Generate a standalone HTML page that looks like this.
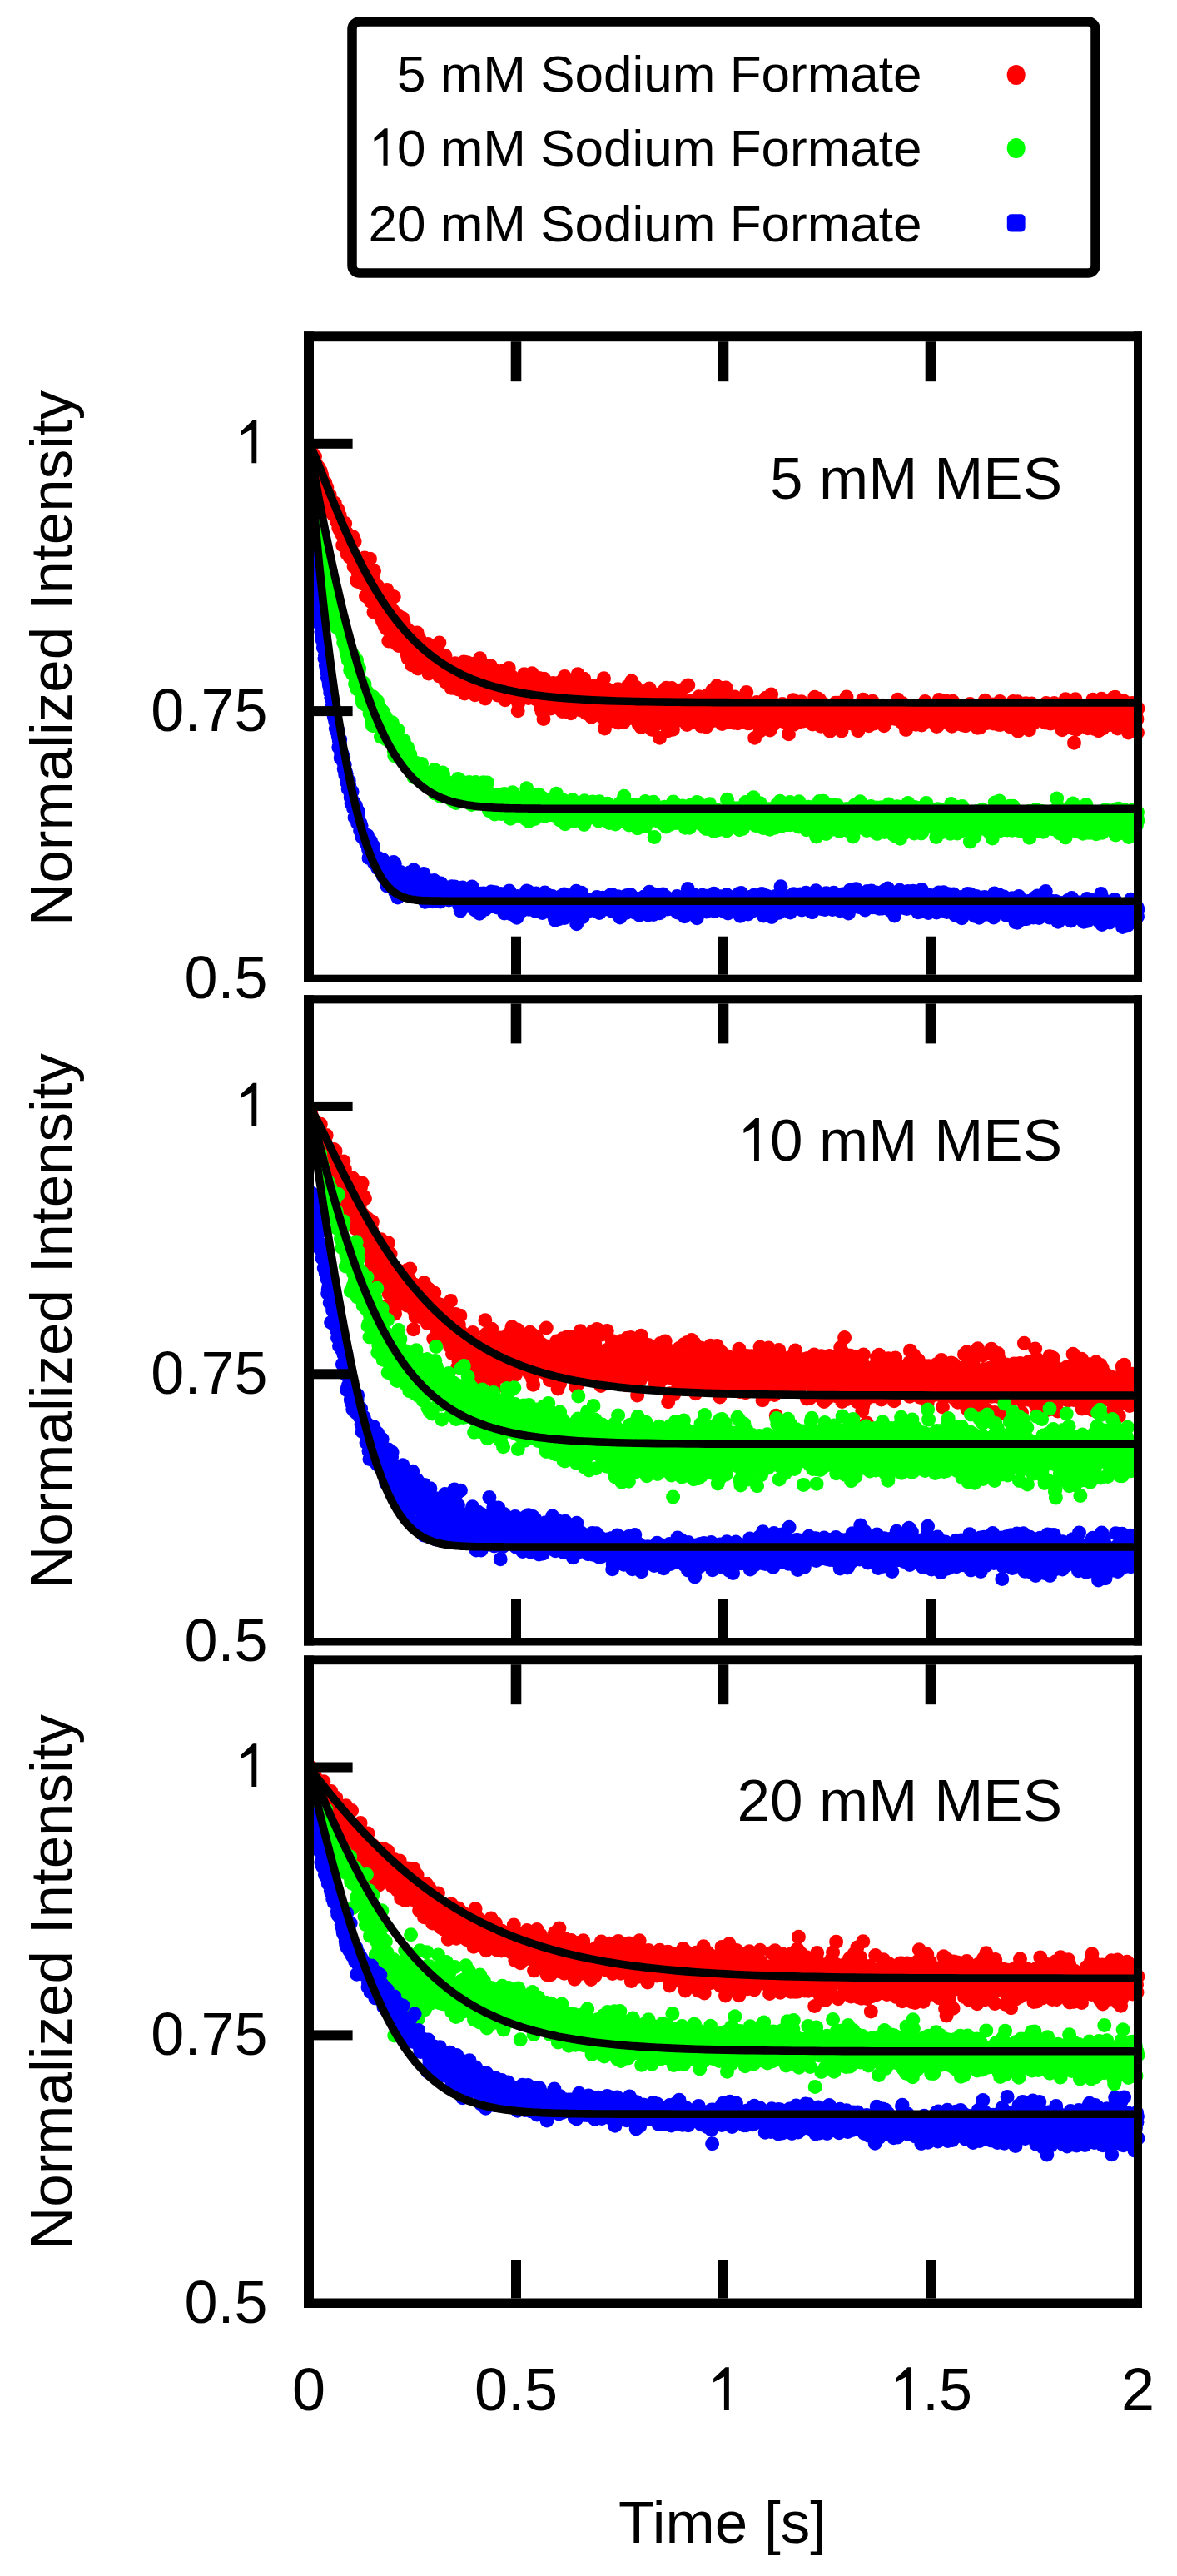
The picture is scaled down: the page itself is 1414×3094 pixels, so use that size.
<!DOCTYPE html>
<html><head><meta charset="utf-8"><style>
html,body{margin:0;padding:0;background:#fff;overflow:hidden}
svg{display:block}
text{font-family:"Liberation Sans",sans-serif;fill:#000}
</style></head><body>
<svg width="1414" height="3094" viewBox="0 0 1414 3094">
<rect x="0" y="0" width="1414" height="3094" fill="#fff"/>
<path d="M374 540.9h0M374.5 553.4h0M375 545.4h0M375.5 549.2h0M376 551.2h0M376.5 549.4h0M377 547.7h0M377.5 558.2h0M378 558.1h0M378.5 548.3h0M379 570.3h0M379.4 564.9h0M379.9 557.5h0M380.4 567.1h0M380.9 561.4h0M381.4 564.7h0M381.9 570.5h0M382.4 560.8h0M382.9 571.9h0M383.4 577.7h0M383.9 578.7h0M384.4 570.9h0M384.9 579h0M385.4 565.7h0M385.9 575.4h0M386.4 580.3h0M386.9 570.8h0M387.4 579.6h0M387.9 591.9h0M388.4 598.8h0M388.9 588.8h0M389.4 590.4h0M389.9 580.3h0M390.4 579.8h0M390.9 579.7h0M391.4 593.7h0M391.9 596.4h0M392.4 588.2h0M392.9 585.5h0M393.4 596.9h0M393.8 598.6h0M394.3 596.7h0M394.8 607.9h0M395.3 599.5h0M395.8 600.9h0M396.3 594.5h0M396.8 604.8h0M397.3 615.1h0M397.8 606.8h0M398.3 608.1h0M398.8 612.1h0M399.3 612.1h0M399.8 615.3h0M400.3 616.6h0M400.8 618.5h0M401.3 608.5h0M401.8 618.5h0M402.3 604.2h0M402.8 620.6h0M403.3 609.2h0M403.8 620.3h0M404.3 626h0M404.8 619.7h0M405.3 625.3h0M405.8 611.4h0M406.3 619.3h0M406.8 634h0M407.3 618.9h0M407.8 636.1h0M408.2 619h0M408.7 624.4h0M409.2 623.8h0M409.7 635h0M410.2 641.1h0M410.7 627.3h0M411.2 636.7h0M411.7 654.9h0M412.2 637.7h0M412.7 634h0M413.2 646.7h0M413.7 641.9h0M414.2 638.3h0M414.7 628.6h0M415.2 655.6h0M415.7 642.9h0M416.2 649.7h0M416.7 640h0M417.2 665.2h0M417.7 660.7h0M418.2 664.3h0M418.7 654h0M419.2 661.2h0M419.7 666.8h0M420.2 669.3h0M420.7 662.9h0M421.2 659.9h0M421.7 657.7h0M422.1 654.5h0M422.6 653.2h0M423.1 668.6h0M423.6 663.1h0M424.1 644.8h0M424.6 666.1h0M425.1 680.5h0M425.6 666.7h0M426.1 650.2h0M426.6 670.4h0M427.1 681.6h0M427.6 676.1h0M428.1 670h0M428.6 696.7h0M429.1 698.3h0M429.6 676.6h0M430.1 688h0M430.6 684.2h0M431.1 689.6h0M431.6 698.3h0M432.1 692h0M432.6 684.5h0M433.1 676.8h0M433.6 675.9h0M434.1 686h0M434.6 700.8h0M435.1 691.7h0M435.6 689.8h0M436.1 693.1h0M436.5 691.4h0M437 698.4h0M437.5 679.4h0M438 670.1h0M438.5 689.5h0M439 681.7h0M439.5 715.9h0M440 695.4h0M440.5 695.1h0M441 680.3h0M441.5 703.4h0M442 693.2h0M442.5 715.5h0M443 712.9h0M443.5 693.8h0M444 709.4h0M444.5 671.3h0M445 697.6h0M445.5 722.4h0M446 717.6h0M446.5 710.7h0M447 709h0M447.5 692.3h0M448 693.8h0M448.5 714.7h0M449 735.2h0M449.5 685.7h0M450 722.4h0M450.4 722.9h0M450.9 728.2h0M451.4 705.5h0M451.9 710.7h0M452.4 718.9h0M452.9 705.7h0M453.4 703.8h0M453.9 709.1h0M454.4 720.5h0M454.9 727.2h0M455.4 722.7h0M455.9 724.8h0M456.4 715.5h0M456.9 715.7h0M457.4 741h0M457.9 726.1h0M458.4 726.5h0M458.9 740.9h0M459.4 745.8h0M459.9 747h0M460.4 736h0M460.9 730.6h0M461.4 735.9h0M461.9 735.1h0M462.4 752.6h0M462.9 738.1h0M463.4 743.6h0M463.9 735.2h0M464.4 755.2h0M464.8 708.5h0M465.3 743h0M465.8 748.9h0M466.3 722.8h0M466.8 769.9h0M467.3 738.3h0M467.8 738.8h0M468.3 726.5h0M468.8 754.9h0M469.3 746.3h0M469.8 735.4h0M470.3 747.7h0M470.8 754.9h0M471.3 763h0M471.8 749.5h0M472.3 733.6h0M472.8 740h0M473.3 716.7h0M473.8 739h0M474.3 759.8h0M474.8 756.7h0M475.3 749.6h0M475.8 747.1h0M476.3 773.4h0M476.8 756.7h0M477.3 765.5h0M477.8 759.4h0M478.3 746.2h0M478.8 775.5h0M479.2 740.3h0M479.7 741.5h0M480.2 751.9h0M480.7 748.8h0M481.2 751.6h0M481.7 751.7h0M482.2 771.8h0M482.7 761h0M483.2 765.2h0M483.7 742.5h0M484.2 752h0M484.7 775.5h0M485.2 749.2h0M485.7 777.6h0M486.2 752.5h0M486.7 768.5h0M487.2 755.9h0M487.7 768.4h0M488.2 756.6h0M488.7 764.4h0M489.2 786.3h0M489.7 764.3h0M490.2 791.1h0M490.7 764.5h0M491.2 757.5h0M491.7 771.4h0M492.2 766.8h0M492.7 790h0M493.1 781.1h0M493.6 784.8h0M494.1 779.7h0M494.6 798.7h0M495.1 782.2h0M495.6 780.1h0M496.1 767.2h0M496.6 767h0M497.1 778.1h0M497.6 786.4h0M498.1 788h0M498.6 769h0M499.1 783.3h0M499.6 780.7h0M500.1 769.2h0M500.6 784.5h0M501.1 760h0M501.6 783.2h0M502.1 803h0M502.6 772.9h0M503.1 782.5h0M503.6 766.6h0M504.1 776.9h0M504.6 790h0M505.1 775.6h0M505.6 784.4h0M506.1 782.1h0M506.6 782.3h0M507.1 787.4h0M507.5 790.2h0M508 796.8h0M508.5 793.9h0M509 782.6h0M509.5 799.5h0M510 798.5h0M510.5 775.4h0M511 794.4h0M511.5 796.1h0M512 797.7h0M512.5 794.5h0M513 779.3h0M513.5 788.3h0M514 773.4h0M514.5 790h0M515 809h0M515.5 797.8h0M516 799.5h0M516.5 788.3h0M517 784.3h0M517.5 784.1h0M518 794.8h0M518.5 787.1h0M519 788.8h0M519.5 804.7h0M520 780.7h0M520.5 783.9h0M521 791.2h0M521.5 795.1h0M521.9 795.2h0M522.4 784.3h0M522.9 798.7h0M523.4 796.1h0M523.9 800.8h0M524.4 788.3h0M524.9 800.4h0M525.4 800.5h0M525.9 792.9h0M526.4 797.2h0M526.9 794.5h0M527.4 812h0M527.9 771.9h0M528.4 787.3h0M528.9 785.2h0M529.4 797.5h0M529.9 795.1h0M530.4 797.8h0M530.9 808.4h0M531.4 787.2h0M531.9 794.6h0M532.4 800.6h0M532.9 791.9h0M533.4 806.6h0M533.9 806.5h0M534.4 797.2h0M534.9 787.6h0M535.4 819.2h0M535.8 809h0M536.3 808.8h0M536.8 805.8h0M537.3 805.3h0M537.8 813.4h0M538.3 805.7h0M538.8 800.2h0M539.3 813.1h0M539.8 807.2h0M540.3 799.6h0M540.8 798.4h0M541.3 818.2h0M541.8 813.3h0M542.3 826.3h0M542.8 802.6h0M543.3 800.6h0M543.8 811.7h0M544.3 821.2h0M544.8 813.9h0M545.3 812.4h0M545.8 826.5h0M546.3 801.4h0M546.8 796.7h0M547.3 801.6h0M547.8 805.9h0M548.3 812.6h0M548.8 819h0M549.3 813.2h0M549.8 824.1h0M550.2 801.5h0M550.7 828.1h0M551.2 801.8h0M551.7 821.2h0M552.2 800.8h0M552.7 813.4h0M553.2 810.7h0M553.7 815.3h0M554.2 817.7h0M554.7 808.4h0M555.2 809.9h0M555.7 813h0M556.2 798h0M556.7 803.7h0M557.2 795h0M557.7 811.1h0M558.2 833h0M558.7 818.5h0M559.2 802.8h0M559.7 804.4h0M560.2 821.1h0M560.7 806.8h0M561.2 795.7h0M561.7 801.6h0M562.2 801.3h0M562.7 801.7h0M563.2 818.7h0M563.7 812.7h0M564.1 797.2h0M564.6 806.8h0M565.1 800.8h0M565.6 800.2h0M566.1 797.3h0M566.6 829.9h0M567.1 809.4h0M567.6 818.3h0M568.1 821.3h0M568.6 808.8h0M569.1 818.1h0M569.6 818.2h0M570.1 815.1h0M570.6 834.8h0M571.1 815.8h0M571.6 810.7h0M572.1 819.6h0M572.6 831.2h0M573.1 823.3h0M573.6 808.3h0M574.1 804.5h0M574.6 803.8h0M575.1 806.6h0M575.6 817.4h0M576.1 822.2h0M576.6 790.7h0M577.1 813.7h0M577.6 802.8h0M578.1 821h0M578.5 823.4h0M579 806.6h0M579.5 810h0M580 805.2h0M580.5 818.7h0M581 799h0M581.5 803.9h0M582 808.4h0M582.5 827.3h0M583 838.9h0M583.5 815.7h0M584 803.6h0M584.5 816.5h0M585 807.5h0M585.5 820.4h0M586 805.4h0M586.5 812.7h0M587 816.2h0M587.5 821.4h0M588 815.8h0M588.5 828.7h0M589 818h0M589.5 799.8h0M590 825.7h0M590.5 814.4h0M591 810.9h0M591.5 831.4h0M592 808.2h0M592.5 818.2h0M592.9 811h0M593.4 830.2h0M593.9 814.5h0M594.4 820.1h0M594.9 805.3h0M595.4 831.2h0M595.9 808.5h0M596.4 826.6h0M596.9 828.5h0M597.4 829.6h0M597.9 834.9h0M598.4 808.2h0M598.9 822.4h0M599.4 820.1h0M599.9 822.7h0M600.4 828.7h0M600.9 820.1h0M601.4 812h0M601.9 818.4h0M602.4 832.8h0M602.9 809.2h0M603.4 820.2h0M603.9 811.1h0M604.4 829.3h0M604.9 805.6h0M605.4 817h0M605.9 819h0M606.4 821.2h0M606.8 840.8h0M607.3 834h0M607.8 811.8h0M608.3 839.6h0M608.8 810.7h0M609.3 804.9h0M609.8 808.3h0M610.3 823.3h0M610.8 826.3h0M611.3 802.5h0M611.8 825.8h0M612.3 819.8h0M612.8 828.5h0M613.3 819h0M613.8 830.5h0M614.3 827.7h0M614.8 812.5h0M615.3 835.8h0M615.8 825h0M616.3 829.8h0M616.8 834.6h0M617.3 815h0M617.8 823h0M618.3 816.6h0M618.8 815.7h0M619.3 826.5h0M619.8 827.3h0M620.3 836.3h0M620.8 837h0M621.2 824.6h0M621.7 817.4h0M622.2 853.7h0M622.7 844.4h0M623.2 824.3h0M623.7 817.1h0M624.2 821.8h0M624.7 828.2h0M625.2 836.1h0M625.7 834.7h0M626.2 830h0M626.7 824h0M627.2 827.9h0M627.7 823.7h0M628.2 827.3h0M628.7 825.8h0M629.2 831.7h0M629.7 809.8h0M630.2 824h0M630.7 824.6h0M631.2 817h0M631.7 825.9h0M632.2 818h0M632.7 821.7h0M633.2 825.2h0M633.7 825.7h0M634.2 822.9h0M634.7 838.5h0M635.2 830.3h0M635.6 831.5h0M636.1 830.8h0M636.6 822.6h0M637.1 820.7h0M637.6 836.8h0M638.1 825.8h0M638.6 812.7h0M639.1 808.8h0M639.6 831.5h0M640.1 822.7h0M640.6 829.1h0M641.1 824.7h0M641.6 826.1h0M642.1 828.4h0M642.6 818.4h0M643.1 830.1h0M643.6 839.7h0M644.1 837.1h0M644.6 814.2h0M645.1 818h0M645.6 818.2h0M646.1 828.6h0M646.6 839.2h0M647.1 834.2h0M647.6 814.6h0M648.1 831.9h0M648.6 839.2h0M649.1 827.3h0M649.5 849.9h0M650 825.6h0M650.5 843.2h0M651 854.6h0M651.5 819.9h0M652 829.1h0M652.5 837.9h0M653 863.4h0M653.5 815.3h0M654 838.1h0M654.5 835.5h0M655 828.8h0M655.5 824.9h0M656 828h0M656.5 830.2h0M657 820.9h0M657.5 848.7h0M658 822.7h0M658.5 829.4h0M659 827.2h0M659.5 829.7h0M660 834.8h0M660.5 826.6h0M661 831.8h0M661.5 851.1h0M662 844.6h0M662.5 831.5h0M663 843.4h0M663.5 827h0M663.9 836.9h0M664.4 820.6h0M664.9 823.5h0M665.4 826.4h0M665.9 847.3h0M666.4 837.4h0M666.9 840.6h0M667.4 836.8h0M667.9 839h0M668.4 839.7h0M668.9 843.2h0M669.4 837.3h0M669.9 826.6h0M670.4 827.9h0M670.9 848.1h0M671.4 850.2h0M671.9 841.7h0M672.4 819.7h0M672.9 852.1h0M673.4 839.6h0M673.9 835.7h0M674.4 836.8h0M674.9 832.9h0M675.4 854.5h0M675.9 853.8h0M676.4 826.1h0M676.9 835.1h0M677.4 840.2h0M677.8 850.1h0M678.3 812.6h0M678.8 846.8h0M679.3 854.4h0M679.8 834.1h0M680.3 837.1h0M680.8 850.4h0M681.3 841.5h0M681.8 824.1h0M682.3 825.8h0M682.8 827.3h0M683.3 823.4h0M683.8 838h0M684.3 832.8h0M684.8 838.6h0M685.3 845.6h0M685.8 856.8h0M686.3 840.7h0M686.8 819.2h0M687.3 853h0M687.8 837.4h0M688.3 850.9h0M688.8 834.1h0M689.3 842.1h0M689.8 837.6h0M690.3 838.8h0M690.8 852.5h0M691.3 832.4h0M691.8 841h0M692.2 841.7h0M692.7 835.4h0M693.2 816.4h0M693.7 843.2h0M694.2 809.8h0M694.7 823.9h0M695.2 835h0M695.7 844.4h0M696.2 849.1h0M696.7 848.8h0M697.2 846.4h0M697.7 836.3h0M698.2 853.2h0M698.7 837.5h0M699.2 852.3h0M699.7 816.7h0M700.2 830.4h0M700.7 834.5h0M701.2 840.7h0M701.7 815.2h0M702.2 849.6h0M702.7 851.5h0M703.2 849.5h0M703.7 835.5h0M704.2 856.8h0M704.7 835.3h0M705.2 851.1h0M705.7 840.7h0M706.2 841.2h0M706.6 839.8h0M707.1 841.4h0M707.6 853.7h0M708.1 857.3h0M708.6 857.3h0M709.1 851.7h0M709.6 849.2h0M710.1 846.9h0M710.6 861.2h0M711.1 837.3h0M711.6 835.3h0M712.1 842.8h0M712.6 824.2h0M713.1 839.8h0M713.6 841.8h0M714.1 831.3h0M714.6 836.3h0M715.1 850.3h0M715.6 840.2h0M716.1 843.7h0M716.6 854.3h0M717.1 836.2h0M717.6 830.4h0M718.1 842.6h0M718.6 847.8h0M719.1 823.2h0M719.6 850.6h0M720.1 839.9h0M720.5 838.8h0M721 833.9h0M721.5 841.5h0M722 854.3h0M722.5 849.6h0M723 852.8h0M723.5 839.8h0M724 861.7h0M724.5 858.2h0M725 843.8h0M725.5 814.8h0M726 844.9h0M726.5 875.1h0M727 843.7h0M727.5 832.9h0M728 863.6h0M728.5 837.6h0M729 850.2h0M729.5 853.3h0M730 828.1h0M730.5 846.2h0M731 858.4h0M731.5 841.2h0M732 852.4h0M732.5 844.8h0M733 856.8h0M733.5 866.2h0M734 832.8h0M734.5 842.1h0M734.9 849.9h0M735.4 838.3h0M735.9 836.1h0M736.4 841.6h0M736.9 842.6h0M737.4 838.2h0M737.9 849.5h0M738.4 855.1h0M738.9 854.5h0M739.4 853.8h0M739.9 859.7h0M740.4 830.4h0M740.9 844.8h0M741.4 848.4h0M741.9 852.3h0M742.4 827.7h0M742.9 868.1h0M743.4 836.2h0M743.9 849.6h0M744.4 855.1h0M744.9 859.2h0M745.4 838.7h0M745.9 840.5h0M746.4 851.1h0M746.9 853.7h0M747.4 857.6h0M747.9 846.3h0M748.4 839h0M748.9 831.5h0M749.3 867.6h0M749.8 831.2h0M750.3 855.5h0M750.8 850.6h0M751.3 856.4h0M751.8 858.7h0M752.3 863.4h0M752.8 846.9h0M753.3 852.3h0M753.8 824.7h0M754.3 848.3h0M754.8 837.1h0M755.3 846.1h0M755.8 862.6h0M756.3 849.3h0M756.8 861h0M757.3 845.8h0M757.8 852.9h0M758.3 843.3h0M758.8 818.1h0M759.3 839.9h0M759.8 845.2h0M760.3 850.4h0M760.8 848.6h0M761.3 847.1h0M761.8 860h0M762.3 856.2h0M762.8 844h0M763.2 859.3h0M763.7 825.1h0M764.2 845.6h0M764.7 847.2h0M765.2 864.7h0M765.7 842.7h0M766.2 831.5h0M766.7 851.4h0M767.2 869.7h0M767.7 846.8h0M768.2 848.2h0M768.7 847h0M769.2 850.2h0M769.7 865.4h0M770.2 873.4h0M770.7 855.3h0M771.2 848.4h0M771.7 872h0M772.2 850.9h0M772.7 850.5h0M773.2 845.5h0M773.7 846h0M774.2 852.7h0M774.7 846.4h0M775.2 854.9h0M775.7 851h0M776.2 856.6h0M776.7 845.4h0M777.2 847.6h0M777.6 852.9h0M778.1 850.8h0M778.6 851.2h0M779.1 864h0M779.6 837.3h0M780.1 827h0M780.6 858.7h0M781.1 847.2h0M781.6 866.1h0M782.1 849.1h0M782.6 836.3h0M783.1 876.2h0M783.6 854.9h0M784.1 844.9h0M784.6 841.4h0M785.1 856.9h0M785.6 842.3h0M786.1 854.9h0M786.6 864h0M787.1 834h0M787.6 846.2h0M788.1 856h0M788.6 869.9h0M789.1 861.3h0M789.6 845.1h0M790.1 867.5h0M790.6 846.3h0M791.1 848.6h0M791.5 854.9h0M792 837.7h0M792.5 886.3h0M793 864.5h0M793.5 853.1h0M794 843.9h0M794.5 837.1h0M795 854.9h0M795.5 858.6h0M796 846h0M796.5 848.4h0M797 857.1h0M797.5 850h0M798 829.3h0M798.5 858.4h0M799 853.5h0M799.5 859.1h0M800 842.1h0M800.5 826.3h0M801 836.4h0M801.5 854.2h0M802 874.6h0M802.5 877.7h0M803 854.3h0M803.5 834.2h0M804 847h0M804.5 856h0M805 855.9h0M805.5 852h0M805.9 866.2h0M806.4 840.7h0M806.9 826.4h0M807.4 841h0M807.9 837.8h0M808.4 876.3h0M808.9 848.9h0M809.4 834.9h0M809.9 858h0M810.4 862.4h0M810.9 851.7h0M811.4 853.3h0M811.9 862.6h0M812.4 856.9h0M812.9 843.3h0M813.4 857.8h0M813.9 861.6h0M814.4 855h0M814.9 861h0M815.4 857.8h0M815.9 848.6h0M816.4 849.6h0M816.9 858.1h0M817.4 845.1h0M817.9 864.1h0M818.4 864.9h0M818.9 828.7h0M819.4 850.6h0M819.9 843h0M820.3 844.3h0M820.8 853h0M821.3 849.5h0M821.8 857.7h0M822.3 855h0M822.8 855.5h0M823.3 842.8h0M823.8 847.6h0M824.3 867.6h0M824.8 824.2h0M825.3 870.4h0M825.8 845.4h0M826.3 864.5h0M826.8 823.1h0M827.3 847h0M827.8 860.9h0M828.3 853.3h0M828.8 862.7h0M829.3 842.1h0M829.8 845.6h0M830.3 844.6h0M830.8 857.2h0M831.3 856.7h0M831.8 850.4h0M832.3 848.9h0M832.8 848.6h0M833.3 852.7h0M833.8 841.5h0M834.2 851.2h0M834.7 850.3h0M835.2 846h0M835.7 845.7h0M836.2 867.8h0M836.7 845.3h0M837.2 856.3h0M837.7 866.6h0M838.2 859.9h0M838.7 852.2h0M839.2 862.8h0M839.7 836.7h0M840.2 838.8h0M840.7 847.8h0M841.2 849.7h0M841.7 851h0M842.2 872.1h0M842.7 870h0M843.2 851.7h0M843.7 854.8h0M844.2 842.5h0M844.7 855.5h0M845.2 837.9h0M845.7 867h0M846.2 846.7h0M846.7 858.1h0M847.2 838.4h0M847.7 866.9h0M848.2 858.7h0M848.6 872.9h0M849.1 853h0M849.6 835.2h0M850.1 844h0M850.6 839.1h0M851.1 868.8h0M851.6 845.8h0M852.1 844.5h0M852.6 858.6h0M853.1 855.1h0M853.6 857.5h0M854.1 847.2h0M854.6 831.6h0M855.1 838.3h0M855.6 829.6h0M856.1 865.7h0M856.6 861.9h0M857.1 848.6h0M857.6 858.9h0M858.1 859.5h0M858.6 859.1h0M859.1 858h0M859.6 861.7h0M860.1 853.4h0M860.6 829.7h0M861.1 824.1h0M861.6 865.6h0M862.1 858.7h0M862.5 826.9h0M863 854.4h0M863.5 843.7h0M864 847.1h0M864.5 826.1h0M865 860.6h0M865.5 851.9h0M866 861.1h0M866.5 863.8h0M867 865.9h0M867.5 869.5h0M868 855.8h0M868.5 855h0M869 846.4h0M869.5 858.2h0M870 850.4h0M870.5 841h0M871 865h0M871.5 860.1h0M872 825.9h0M872.5 834.2h0M873 850.7h0M873.5 839.5h0M874 865.3h0M874.5 854.9h0M875 858.8h0M875.5 862.5h0M876 866.5h0M876.5 850.4h0M876.9 859.4h0M877.4 855.7h0M877.9 861.2h0M878.4 858.8h0M878.9 867.4h0M879.4 858.6h0M879.9 848.5h0M880.4 854.5h0M880.9 842h0M881.4 856.5h0M881.9 868.3h0M882.4 847.4h0M882.9 837h0M883.4 852.6h0M883.9 848.4h0M884.4 853.4h0M884.9 847.6h0M885.4 854.2h0M885.9 843.4h0M886.4 868.7h0M886.9 851.2h0M887.4 858.5h0M887.9 861h0M888.4 852h0M888.9 858h0M889.4 851.1h0M889.9 849.2h0M890.4 851.4h0M890.9 858.4h0M891.3 841.3h0M891.8 844.8h0M892.3 845.8h0M892.8 848.2h0M893.3 864.9h0M893.8 853.4h0M894.3 850.7h0M894.8 855.1h0M895.3 863.9h0M895.8 846.5h0M896.3 863.6h0M896.8 831.4h0M897.3 845.3h0M897.8 868h0M898.3 868.8h0M898.8 855.7h0M899.3 849.8h0M899.8 861.8h0M900.3 850.1h0M900.8 868.7h0M901.3 865.3h0M901.8 861.4h0M902.3 846.1h0M902.8 863.3h0M903.3 851.8h0M903.8 851.9h0M904.3 850.2h0M904.8 853.1h0M905.2 858.9h0M905.7 862.2h0M906.2 862.3h0M906.7 886.2h0M907.2 851.1h0M907.7 865.3h0M908.2 848.2h0M908.7 852.6h0M909.2 843.6h0M909.7 865.8h0M910.2 856.9h0M910.7 855.8h0M911.2 853.5h0M911.7 863.2h0M912.2 850h0M912.7 858.3h0M913.2 878h0M913.7 853.4h0M914.2 848.9h0M914.7 845.4h0M915.2 862.3h0M915.7 855.4h0M916.2 847.9h0M916.7 847.1h0M917.2 855.1h0M917.7 845.6h0M918.2 874.1h0M918.7 853.1h0M919.2 853.2h0M919.6 854.1h0M920.1 838.3h0M920.6 841.7h0M921.1 851.6h0M921.6 854.7h0M922.1 843.7h0M922.6 870.4h0M923.1 859.1h0M923.6 866.7h0M924.1 865.6h0M924.6 853h0M925.1 877.1h0M925.6 856.2h0M926.1 838.1h0M926.6 834h0M927.1 855.1h0M927.6 862.9h0M928.1 855.8h0M928.6 870.7h0M929.1 852.5h0M929.6 860.2h0M930.1 861.7h0M930.6 846h0M931.1 857.9h0M931.6 858.5h0M932.1 864.9h0M932.6 866h0M933.1 864h0M933.6 848.5h0M934 861.7h0M934.5 864.7h0M935 855.6h0M935.5 861.9h0M936 862.1h0M936.5 865.7h0M937 856h0M937.5 859.5h0M938 857h0M938.5 855.9h0M939 850h0M939.5 852.4h0M940 845.6h0M940.5 853.6h0M941 861.3h0M941.5 860.7h0M942 861.8h0M942.5 854.4h0M943 867.4h0M943.5 851.4h0M944 862h0M944.5 859h0M945 849h0M945.5 849.4h0M946 861.8h0M946.5 855.8h0M947 857.8h0M947.5 881.8h0M947.9 860.3h0M948.4 856.5h0M948.9 861.8h0M949.4 850.4h0M949.9 854.1h0M950.4 859.3h0M950.9 848.7h0M951.4 855.3h0M951.9 854h0M952.4 856.5h0M952.9 840.7h0M953.4 870.6h0M953.9 854.9h0M954.4 860.3h0M954.9 847h0M955.4 844.8h0M955.9 855.9h0M956.4 853h0M956.9 861.2h0M957.4 848.1h0M957.9 847.6h0M958.4 858.6h0M958.9 861.6h0M959.4 863.5h0M959.9 855.6h0M960.4 858h0M960.9 849.3h0M961.4 866.7h0M961.9 865.3h0M962.3 865h0M962.8 842.7h0M963.3 863.1h0M963.8 849.9h0M964.3 859.9h0M964.8 859.4h0M965.3 865.9h0M965.8 854.4h0M966.3 853.1h0M966.8 847.7h0M967.3 846.3h0M967.8 860.7h0M968.3 848.6h0M968.8 861.4h0M969.3 852.9h0M969.8 851.4h0M970.3 863.7h0M970.8 862.9h0M971.3 848h0M971.8 854.6h0M972.3 855.9h0M972.8 861.3h0M973.3 850.1h0M973.8 852.7h0M974.3 855.1h0M974.8 861.5h0M975.3 863.1h0M975.8 851.7h0M976.2 870h0M976.7 859.4h0M977.2 849.7h0M977.7 843.8h0M978.2 852.1h0M978.7 837.3h0M979.2 857.5h0M979.7 860.5h0M980.2 866.1h0M980.7 860h0M981.2 842.7h0M981.7 853.9h0M982.2 861.6h0M982.7 839.1h0M983.2 849.7h0M983.7 861h0M984.2 856.6h0M984.7 840.5h0M985.2 852.3h0M985.7 856.4h0M986.2 872.3h0M986.7 852.8h0M987.2 849.2h0M987.7 858.1h0M988.2 858.8h0M988.7 860.7h0M989.2 867.4h0M989.7 855.8h0M990.2 845.8h0M990.6 856.6h0M991.1 856.5h0M991.6 863.8h0M992.1 862.8h0M992.6 850.8h0M993.1 862.3h0M993.6 864h0M994.1 855h0M994.6 863.6h0M995.1 857.7h0M995.6 857.8h0M996.1 855.4h0M996.6 862.6h0M997.1 878.2h0M997.6 858.2h0M998.1 847.8h0M998.6 854.8h0M999.1 852.2h0M999.6 859h0M1000.1 855.5h0M1000.6 875.6h0M1001.1 862.2h0M1001.6 870.5h0M1002.1 851.4h0M1002.6 855.1h0M1003.1 871.9h0M1003.6 844.2h0M1004.1 857.7h0M1004.6 845.2h0M1005 868.1h0M1005.5 846.3h0M1006 854.5h0M1006.5 855.4h0M1007 844.3h0M1007.5 874.9h0M1008 855.5h0M1008.5 868.8h0M1009 851.7h0M1009.5 846.1h0M1010 858.4h0M1010.5 858.2h0M1011 878h0M1011.5 849.1h0M1012 845.5h0M1012.5 851.7h0M1013 859h0M1013.5 860.9h0M1014 851.5h0M1014.5 854.3h0M1015 860.8h0M1015.5 864.7h0M1016 852.6h0M1016.5 857.8h0M1017 837.1h0M1017.5 850h0M1018 860h0M1018.5 856.8h0M1018.9 855.6h0M1019.4 868.4h0M1019.9 854.9h0M1020.4 849.2h0M1020.9 858.4h0M1021.4 858.4h0M1021.9 848.9h0M1022.4 864h0M1022.9 869h0M1023.4 852.9h0M1023.9 850.9h0M1024.4 856.4h0M1024.9 865.8h0M1025.4 853.1h0M1025.9 852h0M1026.4 853h0M1026.9 858.8h0M1027.4 858.6h0M1027.9 855.9h0M1028.4 865.5h0M1028.9 872.7h0M1029.4 853.2h0M1029.9 864.4h0M1030.4 859.1h0M1030.9 877.8h0M1031.4 851.2h0M1031.9 854.9h0M1032.4 858h0M1032.9 847.5h0M1033.3 855.8h0M1033.8 862.1h0M1034.3 847.4h0M1034.8 858.2h0M1035.3 869.4h0M1035.8 853.3h0M1036.3 851.2h0M1036.8 840.2h0M1037.3 856.6h0M1037.8 846.4h0M1038.3 861.1h0M1038.8 868.4h0M1039.3 861.1h0M1039.8 852.1h0M1040.3 861.8h0M1040.8 854.3h0M1041.3 849.9h0M1041.8 854.1h0M1042.3 859h0M1042.8 855h0M1043.3 861h0M1043.8 871.7h0M1044.3 861.5h0M1044.8 862.5h0M1045.3 853.1h0M1045.8 866.3h0M1046.3 859.8h0M1046.8 864.2h0M1047.3 852.4h0M1047.7 859.1h0M1048.2 842.2h0M1048.7 855.2h0M1049.2 852.1h0M1049.7 851h0M1050.2 868.9h0M1050.7 847.6h0M1051.2 856.6h0M1051.7 856.7h0M1052.2 861h0M1052.7 864.1h0M1053.2 847.3h0M1053.7 854.2h0M1054.2 853.1h0M1054.7 862.1h0M1055.2 863.7h0M1055.7 855h0M1056.2 854.2h0M1056.7 851.2h0M1057.2 860h0M1057.7 868.3h0M1058.2 860.1h0M1058.7 853.3h0M1059.2 852.5h0M1059.7 853.2h0M1060.2 847.3h0M1060.7 868.6h0M1061.2 858.2h0M1061.6 855.7h0M1062.1 871.8h0M1062.6 859.2h0M1063.1 867h0M1063.6 859.5h0M1064.1 864.7h0M1064.6 858.3h0M1065.1 855.5h0M1065.6 860.4h0M1066.1 862.3h0M1066.6 864.6h0M1067.1 859.1h0M1067.6 856.3h0M1068.1 855.6h0M1068.6 859.8h0M1069.1 854.9h0M1069.6 855.9h0M1070.1 861.2h0M1070.6 861.5h0M1071.1 861h0M1071.6 853.3h0M1072.1 849h0M1072.6 859.6h0M1073.1 858.6h0M1073.6 855.6h0M1074.1 859.2h0M1074.6 863.2h0M1075.1 856.7h0M1075.6 860.4h0M1076 851.9h0M1076.5 856.6h0M1077 852.8h0M1077.5 848.9h0M1078 860.7h0M1078.5 840.2h0M1079 857.6h0M1079.5 862.9h0M1080 860.5h0M1080.5 848.3h0M1081 859.5h0M1081.5 846.5h0M1082 852.4h0M1082.5 867h0M1083 859h0M1083.5 865.4h0M1084 851.1h0M1084.5 844.8h0M1085 853.2h0M1085.5 866.1h0M1086 863.9h0M1086.5 864.8h0M1087 857.1h0M1087.5 857.5h0M1088 856.7h0M1088.5 876.5h0M1089 858.6h0M1089.5 869.3h0M1089.9 856.9h0M1090.4 866.9h0M1090.9 851.1h0M1091.4 854.9h0M1091.9 860.4h0M1092.4 854.4h0M1092.9 855.5h0M1093.4 857.1h0M1093.9 854.7h0M1094.4 868.2h0M1094.9 865.5h0M1095.4 849.1h0M1095.9 869.3h0M1096.4 857.9h0M1096.9 858h0M1097.4 857.1h0M1097.9 863.9h0M1098.4 862.8h0M1098.9 854.8h0M1099.4 858.6h0M1099.9 849.7h0M1100.4 870.3h0M1100.9 852.7h0M1101.4 852.5h0M1101.9 853.6h0M1102.4 859.2h0M1102.9 863.2h0M1103.4 856h0M1103.9 858.5h0M1104.3 856.1h0M1104.8 866.8h0M1105.3 859.8h0M1105.8 847.2h0M1106.3 868.1h0M1106.8 860.6h0M1107.3 871.1h0M1107.8 854.3h0M1108.3 855.1h0M1108.8 857.2h0M1109.3 849.1h0M1109.8 856h0M1110.3 866.8h0M1110.8 863.1h0M1111.3 842.4h0M1111.8 867h0M1112.3 860.8h0M1112.8 863.9h0M1113.3 858.7h0M1113.8 859.7h0M1114.3 858.9h0M1114.8 858.8h0M1115.3 851.6h0M1115.8 865.5h0M1116.3 860h0M1116.8 861.1h0M1117.3 860.8h0M1117.8 856.5h0M1118.3 858.1h0M1118.7 849.5h0M1119.2 860.3h0M1119.7 860.4h0M1120.2 856.9h0M1120.7 846.9h0M1121.2 867.6h0M1121.7 857.4h0M1122.2 858.4h0M1122.7 856.4h0M1123.2 854.5h0M1123.7 855.8h0M1124.2 851h0M1124.7 854.6h0M1125.2 872.6h0M1125.7 866.6h0M1126.2 872.2h0M1126.7 854.4h0M1127.2 845.7h0M1127.7 849.3h0M1128.2 840.6h0M1128.7 866h0M1129.2 867h0M1129.7 859.4h0M1130.2 861.2h0M1130.7 861.2h0M1131.2 857.9h0M1131.7 863.7h0M1132.2 851.7h0M1132.6 855.6h0M1133.1 857.6h0M1133.6 846.9h0M1134.1 851.7h0M1134.6 861.7h0M1135.1 861.1h0M1135.6 841.6h0M1136.1 865h0M1136.6 861.1h0M1137.1 864h0M1137.6 858.2h0M1138.1 862.8h0M1138.6 849.7h0M1139.1 857.2h0M1139.6 851.3h0M1140.1 855.1h0M1140.6 866.9h0M1141.1 870.1h0M1141.6 859h0M1142.1 855.6h0M1142.6 864.2h0M1143.1 862h0M1143.6 872.2h0M1144.1 863.2h0M1144.6 842.3h0M1145.1 859.2h0M1145.6 856.5h0M1146.1 853.1h0M1146.6 859.7h0M1147 859.2h0M1147.5 856.3h0M1148 869.4h0M1148.5 861.4h0M1149 861.7h0M1149.5 859.9h0M1150 867.5h0M1150.5 850.9h0M1151 867.4h0M1151.5 857.1h0M1152 869.4h0M1152.5 869h0M1153 862.4h0M1153.5 855.6h0M1154 860.9h0M1154.5 861.4h0M1155 848.4h0M1155.5 856.6h0M1156 853.9h0M1156.5 868.7h0M1157 871.1h0M1157.5 853.7h0M1158 855.1h0M1158.5 849.4h0M1159 860.8h0M1159.5 864.7h0M1160 871.8h0M1160.5 849.7h0M1161 865.6h0M1161.4 857.8h0M1161.9 853.7h0M1162.4 856.4h0M1162.9 853.4h0M1163.4 862.2h0M1163.9 858.9h0M1164.4 867.5h0M1164.9 855.1h0M1165.4 845.4h0M1165.9 851.7h0M1166.4 861.4h0M1166.9 848.2h0M1167.4 853.5h0M1167.9 862.8h0M1168.4 848.9h0M1168.9 865.1h0M1169.4 861.4h0M1169.9 854.7h0M1170.4 858.6h0M1170.9 855.3h0M1171.4 856h0M1171.9 856.5h0M1172.4 859.1h0M1172.9 858.3h0M1173.4 853.5h0M1173.9 851.8h0M1174.4 874.2h0M1174.9 850.9h0M1175.3 857.8h0M1175.8 867.8h0M1176.3 866.3h0M1176.8 853.6h0M1177.3 873.8h0M1177.8 872h0M1178.3 856.7h0M1178.8 849.8h0M1179.3 863.7h0M1179.8 857.6h0M1180.3 856.8h0M1180.8 853h0M1181.3 854.6h0M1181.8 860.2h0M1182.3 865.7h0M1182.8 843.6h0M1183.3 841.3h0M1183.8 866.2h0M1184.3 852.7h0M1184.8 864.2h0M1185.3 859.9h0M1185.8 868.4h0M1186.3 865.9h0M1186.8 857h0M1187.3 857.9h0M1187.8 861.5h0M1188.3 864.7h0M1188.8 854.4h0M1189.3 847.7h0M1189.7 859.9h0M1190.2 858.8h0M1190.7 857.9h0M1191.2 851.6h0M1191.7 863.7h0M1192.2 846.1h0M1192.7 855.5h0M1193.2 868.9h0M1193.7 850.7h0M1194.2 862.3h0M1194.7 862.6h0M1195.2 862.4h0M1195.7 846.4h0M1196.2 866.9h0M1196.7 860.3h0M1197.2 862.9h0M1197.7 861.5h0M1198.2 859.7h0M1198.7 868.5h0M1199.2 870.2h0M1199.7 845h0M1200.2 853.3h0M1200.7 858h0M1201.2 842.6h0M1201.7 870.5h0M1202.2 853.3h0M1202.7 863.6h0M1203.2 860.9h0M1203.6 857.6h0M1204.1 851.5h0M1204.6 856.5h0M1205.1 860h0M1205.6 865.4h0M1206.1 857.7h0M1206.6 856.3h0M1207.1 857.4h0M1207.6 869.4h0M1208.1 861.6h0M1208.6 854.1h0M1209.1 849.6h0M1209.6 856.2h0M1210.1 852.3h0M1210.6 856.1h0M1211.1 869.9h0M1211.6 864.8h0M1212.1 861.2h0M1212.6 862.5h0M1213.1 872.8h0M1213.6 850.5h0M1214.1 862.9h0M1214.6 857.8h0M1215.1 860.5h0M1215.6 860h0M1216.1 856.9h0M1216.6 863.7h0M1217.1 842.5h0M1217.6 861.7h0M1218 864.8h0M1218.5 851.9h0M1219 851.8h0M1219.5 874.5h0M1220 852.4h0M1220.5 856.5h0M1221 853.4h0M1221.5 854.6h0M1222 854.2h0M1222.5 842.8h0M1223 878.3h0M1223.5 853.7h0M1224 862.5h0M1224.5 858.9h0M1225 870.2h0M1225.5 865h0M1226 868.5h0M1226.5 868.8h0M1227 866.2h0M1227.5 859.8h0M1228 866.8h0M1228.5 846.8h0M1229 866.6h0M1229.5 865.1h0M1230 861.9h0M1230.5 848.9h0M1231 870.2h0M1231.5 854.1h0M1232 864.5h0M1232.4 844.7h0M1232.9 858.1h0M1233.4 854.4h0M1233.9 853.3h0M1234.4 854.2h0M1234.9 873.8h0M1235.4 859.3h0M1235.9 862.3h0M1236.4 876.8h0M1236.9 848h0M1237.4 871.9h0M1237.9 856.6h0M1238.4 854.5h0M1238.9 856.3h0M1239.4 844.9h0M1239.9 847.2h0M1240.4 850.4h0M1240.9 855h0M1241.4 865.4h0M1241.9 868.4h0M1242.4 856.6h0M1242.9 862.6h0M1243.4 863.1h0M1243.9 857.7h0M1244.4 861.5h0M1244.9 854.8h0M1245.4 864.1h0M1245.9 857.8h0M1246.3 859.9h0M1246.8 861.7h0M1247.3 860.8h0M1247.8 853.7h0M1248.3 848.6h0M1248.8 859.1h0M1249.3 855h0M1249.8 855.3h0M1250.3 858.8h0M1250.8 853.8h0M1251.3 863.3h0M1251.8 862.9h0M1252.3 852.2h0M1252.8 862.7h0M1253.3 851.7h0M1253.8 865.6h0M1254.3 864.8h0M1254.8 859.5h0M1255.3 867h0M1255.8 868.1h0M1256.3 863.3h0M1256.8 844.4h0M1257.3 860.7h0M1257.8 861.3h0M1258.3 866.4h0M1258.8 851.5h0M1259.3 865.5h0M1259.8 862.6h0M1260.3 863h0M1260.7 849.3h0M1261.2 852.4h0M1261.7 869.1h0M1262.2 866.6h0M1262.7 859h0M1263.2 868.8h0M1263.7 861.9h0M1264.2 856.2h0M1264.7 846.4h0M1265.2 868.2h0M1265.7 858.5h0M1266.2 861.6h0M1266.7 844.6h0M1267.2 855.1h0M1267.7 862.2h0M1268.2 857.6h0M1268.7 853.5h0M1269.2 850.3h0M1269.7 861.4h0M1270.2 856.5h0M1270.7 856.8h0M1271.2 857.2h0M1271.7 854.2h0M1272.2 856.9h0M1272.7 854.4h0M1273.2 859.9h0M1273.7 848h0M1274.2 850.3h0M1274.6 859.9h0M1275.1 858.2h0M1275.6 861h0M1276.1 876.7h0M1276.6 866h0M1277.1 869.3h0M1277.6 863.2h0M1278.1 858.7h0M1278.6 852.9h0M1279.1 843.8h0M1279.6 847.6h0M1280.1 839.7h0M1280.6 850.1h0M1281.1 846.1h0M1281.6 851.4h0M1282.1 859.5h0M1282.6 856.2h0M1283.1 867.3h0M1283.6 867.4h0M1284.1 868.5h0M1284.6 867.1h0M1285.1 862h0M1285.6 855.3h0M1286.1 863.6h0M1286.6 857.6h0M1287.1 858h0M1287.6 863.3h0M1288.1 850.3h0M1288.6 845.7h0M1289 862.6h0M1289.5 875.1h0M1290 869.5h0M1290.5 892.3h0M1291 847.6h0M1291.5 854.2h0M1292 839.8h0M1292.5 852.3h0M1293 876.2h0M1293.5 873.8h0M1294 851h0M1294.5 857h0M1295 852.7h0M1295.5 848.1h0M1296 857.7h0M1296.5 857h0M1297 860.7h0M1297.5 862.1h0M1298 866h0M1298.5 871.9h0M1299 859.2h0M1299.5 858h0M1300 860h0M1300.5 863.8h0M1301 858.7h0M1301.5 851.2h0M1302 855.3h0M1302.5 866.4h0M1303 850.9h0M1303.4 867.1h0M1303.9 847.6h0M1304.4 865.3h0M1304.9 865.1h0M1305.4 858.1h0M1305.9 859.7h0M1306.4 857.9h0M1306.9 874.8h0M1307.4 856.1h0M1307.9 853.5h0M1308.4 863.3h0M1308.9 869.8h0M1309.4 862.9h0M1309.9 858.7h0M1310.4 869.1h0M1310.9 853.2h0M1311.4 853.1h0M1311.9 849h0M1312.4 870.8h0M1312.9 840.3h0M1313.4 848.5h0M1313.9 862.2h0M1314.4 863.7h0M1314.9 875.5h0M1315.4 863.8h0M1315.9 855.6h0M1316.4 872.4h0M1316.9 869.6h0M1317.3 870.4h0M1317.8 869.6h0M1318.3 864.6h0M1318.8 847h0M1319.3 850.6h0M1319.8 877.7h0M1320.3 860.4h0M1320.8 843.6h0M1321.3 860.5h0M1321.8 868.6h0M1322.3 863.6h0M1322.8 860.1h0M1323.3 839.3h0M1323.8 860.6h0M1324.3 858.8h0M1324.8 875h0M1325.3 860h0M1325.8 859.5h0M1326.3 856.1h0M1326.8 858.9h0M1327.3 862.4h0M1327.8 855.4h0M1328.3 852.1h0M1328.8 848.9h0M1329.3 861h0M1329.8 856.8h0M1330.3 857.1h0M1330.8 846.4h0M1331.3 852.7h0M1331.7 843h0M1332.2 868.5h0M1332.7 870.5h0M1333.2 863.6h0M1333.7 858.9h0M1334.2 864.1h0M1334.7 846.7h0M1335.2 848.1h0M1335.7 870.5h0M1336.2 850.6h0M1336.7 859.5h0M1337.2 853.9h0M1337.7 838.1h0M1338.2 853.9h0M1338.7 867.3h0M1339.2 871.6h0M1339.7 837.3h0M1340.2 845.9h0M1340.7 854.7h0M1341.2 868.8h0M1341.7 870.9h0M1342.2 874.1h0M1342.7 875h0M1343.2 856.1h0M1343.7 851.1h0M1344.2 868.2h0M1344.7 857.6h0M1345.2 860.2h0M1345.7 856.7h0M1346.1 856.4h0M1346.6 868.1h0M1347.1 850.9h0M1347.6 844.3h0M1348.1 853.6h0M1348.6 860.8h0M1349.1 857.2h0M1349.6 858.6h0M1350.1 842h0M1350.6 852h0M1351.1 869.5h0M1351.6 858.3h0M1352.1 853.7h0M1352.6 869.9h0M1353.1 854.7h0M1353.6 866.5h0M1354.1 861.7h0M1354.6 863.4h0M1355.1 869.1h0M1355.6 880h0M1356.1 871.2h0M1356.6 852.1h0M1357.1 849.7h0M1357.6 856.8h0M1358.1 858.1h0M1358.6 866h0M1359.1 860h0M1359.6 861.5h0M1360 844.4h0M1360.5 859.2h0M1361 864.4h0M1361.5 875h0M1362 866.7h0M1362.5 860.5h0M1363 849h0M1363.5 859.6h0M1364 859.7h0M1364.5 858.4h0M1365 861h0M1365.5 864.2h0M1366 863.6h0M1366.5 879.7h0M1367 850.8h0" stroke="#ff0000" stroke-width="17" stroke-linecap="round" fill="none"/>
<path d="M374 614.5h0M374.5 624.5h0M375 620.1h0M375.5 626.3h0M376 629h0M376.5 628.1h0M377 636.9h0M377.5 638.4h0M378 638.4h0M378.5 642.5h0M379 645.7h0M379.4 642.7h0M379.9 648.7h0M380.4 648.8h0M380.9 650.2h0M381.4 650.2h0M381.9 662.4h0M382.4 657.9h0M382.9 651.7h0M383.4 662.8h0M383.9 650.3h0M384.4 665.7h0M384.9 670.2h0M385.4 675.4h0M385.9 671.5h0M386.4 668.9h0M386.9 684.1h0M387.4 681.6h0M387.9 684.9h0M388.4 679h0M388.9 685.5h0M389.4 675h0M389.9 688.6h0M390.4 676.9h0M390.9 684.5h0M391.4 684h0M391.9 700h0M392.4 700.7h0M392.9 694.3h0M393.4 706.3h0M393.8 701.8h0M394.3 692.1h0M394.8 702.9h0M395.3 697.1h0M395.8 709.2h0M396.3 712.7h0M396.8 708.1h0M397.3 719h0M397.8 722.2h0M398.3 712.6h0M398.8 723.1h0M399.3 720.9h0M399.8 721.5h0M400.3 735.3h0M400.8 722.5h0M401.3 726.4h0M401.8 729.9h0M402.3 735.7h0M402.8 738.7h0M403.3 729.6h0M403.8 746h0M404.3 750.7h0M404.8 753.7h0M405.3 743.5h0M405.8 740.8h0M406.3 738.8h0M406.8 749.8h0M407.3 748.7h0M407.8 750.5h0M408.2 748.3h0M408.7 739.2h0M409.2 753.8h0M409.7 756.2h0M410.2 756.5h0M410.7 750.8h0M411.2 760.4h0M411.7 762.8h0M412.2 757.5h0M412.7 771.6h0M413.2 768.4h0M413.7 771.2h0M414.2 774.6h0M414.7 771.5h0M415.2 774.3h0M415.7 780.3h0M416.2 783.6h0M416.7 786.1h0M417.2 779.6h0M417.7 788.3h0M418.2 792.7h0M418.7 774.9h0M419.2 783.9h0M419.7 788.3h0M420.2 790h0M420.7 805.3h0M421.2 802h0M421.7 793h0M422.1 794.4h0M422.6 785.6h0M423.1 790h0M423.6 809.7h0M424.1 786.5h0M424.6 806.5h0M425.1 797h0M425.6 801.4h0M426.1 804.3h0M426.6 821.2h0M427.1 810.3h0M427.6 812.8h0M428.1 818.2h0M428.6 792.7h0M429.1 827.7h0M429.6 799.3h0M430.1 808.4h0M430.6 821.4h0M431.1 806.3h0M431.6 803h0M432.1 828.8h0M432.6 817.3h0M433.1 829.2h0M433.6 826.4h0M434.1 821.6h0M434.6 839.1h0M435.1 823.2h0M435.6 844.1h0M436.1 819.7h0M436.5 819.8h0M437 823.5h0M437.5 832.7h0M438 821.5h0M438.5 826.4h0M439 846.6h0M439.5 836.3h0M440 846.1h0M440.5 840h0M441 832.3h0M441.5 831.6h0M442 841.2h0M442.5 841.1h0M443 836.6h0M443.5 837.2h0M444 856.8h0M444.5 853.9h0M445 847.9h0M445.5 842.8h0M446 842.9h0M446.5 866.8h0M447 843h0M447.5 871.6h0M448 844.1h0M448.5 837h0M449 871.6h0M449.5 851.8h0M450 868.6h0M450.4 858.9h0M450.9 853.1h0M451.4 865.5h0M451.9 854.1h0M452.4 862.1h0M452.9 857.2h0M453.4 841.9h0M453.9 864.1h0M454.4 855.6h0M454.9 860.2h0M455.4 866.6h0M455.9 848.9h0M456.4 869.4h0M456.9 870.5h0M457.4 885h0M457.9 874.5h0M458.4 870.3h0M458.9 860.8h0M459.4 867.9h0M459.9 854.3h0M460.4 873.8h0M460.9 868.1h0M461.4 867.1h0M461.9 871.7h0M462.4 876.9h0M462.9 875.6h0M463.4 861h0M463.9 888.1h0M464.4 875h0M464.8 878.9h0M465.3 876h0M465.8 866.5h0M466.3 880h0M466.8 873.5h0M467.3 869.1h0M467.8 880.3h0M468.3 887.7h0M468.8 886.7h0M469.3 882.7h0M469.8 874.5h0M470.3 878.2h0M470.8 881h0M471.3 867.8h0M471.8 892.9h0M472.3 886h0M472.8 872.4h0M473.3 902.5h0M473.8 907.7h0M474.3 875.2h0M474.8 887.5h0M475.3 881.7h0M475.8 898.6h0M476.3 878.2h0M476.8 897.3h0M477.3 897h0M477.8 904.7h0M478.3 876.9h0M478.8 888.4h0M479.2 894.5h0M479.7 905.9h0M480.2 898.7h0M480.7 905.3h0M481.2 903.4h0M481.7 892.2h0M482.2 899.8h0M482.7 898.1h0M483.2 899.5h0M483.7 895.2h0M484.2 909.8h0M484.7 906.7h0M485.2 889.5h0M485.7 911.5h0M486.2 901.8h0M486.7 895.3h0M487.2 916.9h0M487.7 908h0M488.2 911.5h0M488.7 908.4h0M489.2 909.8h0M489.7 897.7h0M490.2 916.7h0M490.7 906.7h0M491.2 912.6h0M491.7 912.5h0M492.2 907.2h0M492.7 906h0M493.1 913.8h0M493.6 923.6h0M494.1 911.8h0M494.6 912.8h0M495.1 917.6h0M495.6 914.1h0M496.1 925.9h0M496.6 921.4h0M497.1 933.6h0M497.6 921h0M498.1 932.6h0M498.6 917.6h0M499.1 922.6h0M499.6 916.3h0M500.1 920.4h0M500.6 921.3h0M501.1 926.4h0M501.6 930.4h0M502.1 923.1h0M502.6 918.1h0M503.1 925.3h0M503.6 925h0M504.1 924.1h0M504.6 930.3h0M505.1 931.8h0M505.6 924.7h0M506.1 925h0M506.6 917.6h0M507.1 926.1h0M507.5 932.7h0M508 925.6h0M508.5 933.8h0M509 933.2h0M509.5 933.4h0M510 933.9h0M510.5 931.1h0M511 936.4h0M511.5 937h0M512 934.1h0M512.5 932.7h0M513 939.2h0M513.5 940.6h0M514 930.9h0M514.5 938.2h0M515 934.8h0M515.5 946.2h0M516 933.6h0M516.5 932.5h0M517 931.3h0M517.5 940.7h0M518 931.1h0M518.5 940h0M519 934.4h0M519.5 944.2h0M520 945.7h0M520.5 943.8h0M521 927.9h0M521.5 930.7h0M521.9 924.4h0M522.4 953h0M522.9 936h0M523.4 937.2h0M523.9 940h0M524.4 943.3h0M524.9 938.4h0M525.4 940.8h0M525.9 940.6h0M526.4 933.6h0M526.9 951.5h0M527.4 951.3h0M527.9 941.8h0M528.4 941.1h0M528.9 953.1h0M529.4 956.7h0M529.9 942.9h0M530.4 946.4h0M530.9 940.5h0M531.4 945.2h0M531.9 927.9h0M532.4 929.9h0M532.9 946.6h0M533.4 942.9h0M533.9 946.7h0M534.4 944.9h0M534.9 948.4h0M535.4 946.4h0M535.8 943.9h0M536.3 947.9h0M536.8 941.1h0M537.3 954.7h0M537.8 939.4h0M538.3 943.3h0M538.8 952.1h0M539.3 943.9h0M539.8 952.9h0M540.3 956.4h0M540.8 952.1h0M541.3 944.1h0M541.8 960.1h0M542.3 950.5h0M542.8 941.1h0M543.3 961.5h0M543.8 949.2h0M544.3 952.4h0M544.8 954.5h0M545.3 945h0M545.8 954.9h0M546.3 940.3h0M546.8 942.3h0M547.3 946.5h0M547.8 964.4h0M548.3 953.7h0M548.8 957.8h0M549.3 946.8h0M549.8 953.7h0M550.2 935.4h0M550.7 948.5h0M551.2 953.5h0M551.7 946.6h0M552.2 936.8h0M552.7 939.4h0M553.2 955.5h0M553.7 960.7h0M554.2 948.6h0M554.7 962.8h0M555.2 942.3h0M555.7 956.1h0M556.2 953.9h0M556.7 959.5h0M557.2 941.2h0M557.7 959.3h0M558.2 953.1h0M558.7 946.1h0M559.2 949.1h0M559.7 951h0M560.2 954.7h0M560.7 946.5h0M561.2 946.5h0M561.7 953.6h0M562.2 952.7h0M562.7 956.8h0M563.2 959.9h0M563.7 939.6h0M564.1 952.7h0M564.6 955.2h0M565.1 953.9h0M565.6 945.6h0M566.1 959h0M566.6 966.6h0M567.1 952.5h0M567.6 947.9h0M568.1 959.8h0M568.6 954.2h0M569.1 955h0M569.6 955.9h0M570.1 950.8h0M570.6 954.3h0M571.1 948.9h0M571.6 939.5h0M572.1 962.6h0M572.6 956.9h0M573.1 954.2h0M573.6 965.2h0M574.1 953.7h0M574.6 963.7h0M575.1 961.5h0M575.6 953h0M576.1 945.7h0M576.6 959.3h0M577.1 957.5h0M577.6 963.8h0M578.1 944.3h0M578.5 955.4h0M579 958.3h0M579.5 959.4h0M580 957.8h0M580.5 959.5h0M581 939.7h0M581.5 955.1h0M582 952.6h0M582.5 946.2h0M583 958.9h0M583.5 955.2h0M584 949.7h0M584.5 948.1h0M585 961.1h0M585.5 940h0M586 958.4h0M586.5 950.9h0M587 960.4h0M587.5 973.8h0M588 967.3h0M588.5 959.5h0M589 971.2h0M589.5 974.1h0M590 967.8h0M590.5 974.2h0M591 962.4h0M591.5 965.7h0M592 960.6h0M592.5 958.6h0M592.9 961.7h0M593.4 956.1h0M593.9 961.2h0M594.4 978h0M594.9 967.4h0M595.4 961.1h0M595.9 974.9h0M596.4 973.1h0M596.9 955.3h0M597.4 958.1h0M597.9 975.6h0M598.4 964.1h0M598.9 964.9h0M599.4 960h0M599.9 956.1h0M600.4 972.2h0M600.9 958.6h0M601.4 968.2h0M601.9 977.6h0M602.4 968.5h0M602.9 963.4h0M603.4 969.4h0M603.9 969.1h0M604.4 962.2h0M604.9 967.4h0M605.4 957.3h0M605.9 953.6h0M606.4 961.9h0M606.8 953.7h0M607.3 961.5h0M607.8 965h0M608.3 967.2h0M608.8 978.8h0M609.3 959.6h0M609.8 962.9h0M610.3 962.9h0M610.8 959.1h0M611.3 980.2h0M611.8 960.8h0M612.3 964.6h0M612.8 965.1h0M613.3 983.3h0M613.8 964.2h0M614.3 961.1h0M614.8 975.1h0M615.3 961.9h0M615.8 951.8h0M616.3 974.5h0M616.8 973.2h0M617.3 956.7h0M617.8 958h0M618.3 966.5h0M618.8 960h0M619.3 956.2h0M619.8 958.4h0M620.3 979.4h0M620.8 974.5h0M621.2 959.4h0M621.7 965.9h0M622.2 967.7h0M622.7 964.6h0M623.2 966.8h0M623.7 979.4h0M624.2 962.6h0M624.7 961.7h0M625.2 966.9h0M625.7 962.5h0M626.2 964.1h0M626.7 964.2h0M627.2 960.3h0M627.7 975.9h0M628.2 962.7h0M628.7 976.8h0M629.2 961.4h0M629.7 961h0M630.2 969.3h0M630.7 965.7h0M631.2 973.7h0M631.7 972.5h0M632.2 984.2h0M632.7 946.7h0M633.2 960.4h0M633.7 967.5h0M634.2 966.4h0M634.7 967.5h0M635.2 986.5h0M635.6 951.8h0M636.1 972.9h0M636.6 966.5h0M637.1 968.2h0M637.6 976h0M638.1 967.8h0M638.6 974h0M639.1 977.6h0M639.6 977h0M640.1 955h0M640.6 963.7h0M641.1 959.1h0M641.6 962.8h0M642.1 967.1h0M642.6 983.6h0M643.1 964h0M643.6 966.5h0M644.1 967.4h0M644.6 979.5h0M645.1 964.7h0M645.6 972.1h0M646.1 974.8h0M646.6 973h0M647.1 954.2h0M647.6 959.4h0M648.1 973.8h0M648.6 956.1h0M649.1 967.3h0M649.5 958h0M650 971.8h0M650.5 968.6h0M651 957.7h0M651.5 967.2h0M652 961.3h0M652.5 965h0M653 978.2h0M653.5 971.1h0M654 971.6h0M654.5 980.3h0M655 970h0M655.5 978.8h0M656 972.2h0M656.5 971.3h0M657 966.7h0M657.5 963.4h0M658 962h0M658.5 962.7h0M659 973.3h0M659.5 972.6h0M660 963.5h0M660.5 978.6h0M661 965.1h0M661.5 966.9h0M662 959.8h0M662.5 963.8h0M663 976.2h0M663.5 973.1h0M663.9 965.4h0M664.4 979h0M664.9 969.6h0M665.4 970.7h0M665.9 977.8h0M666.4 973.6h0M666.9 967.8h0M667.4 962.6h0M667.9 979.7h0M668.4 953.2h0M668.9 965.9h0M669.4 957.7h0M669.9 966.2h0M670.4 976.7h0M670.9 968.1h0M671.4 967.5h0M671.9 970.3h0M672.4 985h0M672.9 980.7h0M673.4 972.4h0M673.9 966.1h0M674.4 968h0M674.9 973.4h0M675.4 969.2h0M675.9 970.1h0M676.4 963.4h0M676.9 961.2h0M677.4 963.1h0M677.8 972.9h0M678.3 964.5h0M678.8 989.8h0M679.3 975.4h0M679.8 976.2h0M680.3 978.8h0M680.8 964h0M681.3 963.1h0M681.8 970h0M682.3 976.1h0M682.8 975.9h0M683.3 984h0M683.8 982.3h0M684.3 979.8h0M684.8 980.6h0M685.3 974.3h0M685.8 978.7h0M686.3 970.5h0M686.8 969.6h0M687.3 979.6h0M687.8 960.8h0M688.3 983.2h0M688.8 986.6h0M689.3 969.6h0M689.8 978.7h0M690.3 974.5h0M690.8 966.2h0M691.3 976.2h0M691.8 977.4h0M692.2 981h0M692.7 971.3h0M693.2 974.8h0M693.7 969.3h0M694.2 981.2h0M694.7 973.1h0M695.2 980.2h0M695.7 969h0M696.2 974.9h0M696.7 967.4h0M697.2 968.6h0M697.7 982.3h0M698.2 972.8h0M698.7 973.6h0M699.2 979.6h0M699.7 968.3h0M700.2 988.6h0M700.7 968.7h0M701.2 971.5h0M701.7 990.5h0M702.2 961.8h0M702.7 987.5h0M703.2 977.4h0M703.7 978.4h0M704.2 966.9h0M704.7 975.9h0M705.2 965.3h0M705.7 982.1h0M706.2 972.9h0M706.6 969.9h0M707.1 971.2h0M707.6 973.7h0M708.1 982h0M708.6 977.6h0M709.1 969.2h0M709.6 968.5h0M710.1 967.3h0M710.6 980.8h0M711.1 978.5h0M711.6 966.8h0M712.1 963h0M712.6 974.6h0M713.1 970.8h0M713.6 979h0M714.1 974.2h0M714.6 977.9h0M715.1 981.1h0M715.6 982.9h0M716.1 973.6h0M716.6 980.5h0M717.1 971h0M717.6 966.4h0M718.1 977h0M718.6 984.3h0M719.1 985.9h0M719.6 974.9h0M720.1 962.7h0M720.5 977.9h0M721 973.9h0M721.5 980.2h0M722 983.5h0M722.5 972.3h0M723 970.3h0M723.5 972.7h0M724 970.6h0M724.5 968.3h0M725 977.3h0M725.5 970.3h0M726 973.7h0M726.5 973.3h0M727 971.3h0M727.5 980.4h0M728 972.4h0M728.5 975.3h0M729 981.9h0M729.5 974.9h0M730 965.2h0M730.5 972.5h0M731 972.5h0M731.5 980.8h0M732 988.5h0M732.5 977.6h0M733 975.2h0M733.5 987.1h0M734 971.1h0M734.5 978.5h0M734.9 979.9h0M735.4 976h0M735.9 975h0M736.4 977.8h0M736.9 987.8h0M737.4 980.8h0M737.9 972.1h0M738.4 978.7h0M738.9 983.8h0M739.4 989.9h0M739.9 982.7h0M740.4 978.2h0M740.9 987.1h0M741.4 983.4h0M741.9 977.9h0M742.4 971.9h0M742.9 977.6h0M743.4 984.1h0M743.9 969h0M744.4 965.1h0M744.9 980.9h0M745.4 965.6h0M745.9 967.4h0M746.4 975.6h0M746.9 975.4h0M747.4 977.6h0M747.9 978.5h0M748.4 981.2h0M748.9 976.5h0M749.3 971.1h0M749.8 956.2h0M750.3 986.7h0M750.8 983.3h0M751.3 982.1h0M751.8 977.3h0M752.3 970.8h0M752.8 981.1h0M753.3 977h0M753.8 967.3h0M754.3 985.3h0M754.8 966.9h0M755.3 974.4h0M755.8 990.9h0M756.3 971.6h0M756.8 979.1h0M757.3 985.7h0M757.8 977.8h0M758.3 967.2h0M758.8 974.1h0M759.3 977.5h0M759.8 966.6h0M760.3 988.7h0M760.8 980.3h0M761.3 983.3h0M761.8 980h0M762.3 980.9h0M762.8 975.3h0M763.2 967h0M763.7 983.2h0M764.2 978.4h0M764.7 990h0M765.2 969.4h0M765.7 979.5h0M766.2 994.8h0M766.7 968.1h0M767.2 969.3h0M767.7 980.1h0M768.2 991.3h0M768.7 969.4h0M769.2 978.9h0M769.7 977.1h0M770.2 974.2h0M770.7 976.5h0M771.2 987.7h0M771.7 979.5h0M772.2 968.4h0M772.7 973.7h0M773.2 979.2h0M773.7 967.8h0M774.2 973.1h0M774.7 975.3h0M775.2 962.4h0M775.7 992.5h0M776.2 966.1h0M776.7 978.9h0M777.2 977.1h0M777.6 973.8h0M778.1 987.7h0M778.6 978.9h0M779.1 972h0M779.6 987.4h0M780.1 982.7h0M780.6 970.5h0M781.1 966.8h0M781.6 985.2h0M782.1 977.4h0M782.6 967.3h0M783.1 982.7h0M783.6 967.5h0M784.1 973.2h0M784.6 972.2h0M785.1 963.3h0M785.6 983.8h0M786.1 1005.4h0M786.6 983.5h0M787.1 981.7h0M787.6 976.6h0M788.1 978h0M788.6 980.7h0M789.1 983.4h0M789.6 974.8h0M790.1 979h0M790.6 977h0M791.1 983h0M791.5 986h0M792 987.3h0M792.5 975.4h0M793 975.2h0M793.5 984.2h0M794 977h0M794.5 977.3h0M795 982.6h0M795.5 982h0M796 989.4h0M796.5 969.7h0M797 987.9h0M797.5 975.6h0M798 984.5h0M798.5 969.2h0M799 978.3h0M799.5 974.5h0M800 993.1h0M800.5 972h0M801 988.2h0M801.5 973.1h0M802 970.7h0M802.5 981.8h0M803 987.7h0M803.5 979h0M804 984.1h0M804.5 981.3h0M805 979.1h0M805.5 990.3h0M805.9 979.6h0M806.4 986.3h0M806.9 970.6h0M807.4 978.1h0M807.9 987h0M808.4 976.1h0M808.9 963h0M809.4 985.5h0M809.9 984.2h0M810.4 977.5h0M810.9 980.6h0M811.4 977.2h0M811.9 982.8h0M812.4 988.4h0M812.9 982.2h0M813.4 979.1h0M813.9 976.1h0M814.4 978.6h0M814.9 975.9h0M815.4 987.5h0M815.9 971.6h0M816.4 975.4h0M816.9 982.7h0M817.4 982.6h0M817.9 981.9h0M818.4 976.7h0M818.9 981.6h0M819.4 968.8h0M819.9 968.1h0M820.3 970h0M820.8 983h0M821.3 990.8h0M821.8 976.7h0M822.3 975.7h0M822.8 977.8h0M823.3 994.3h0M823.8 981.9h0M824.3 981h0M824.8 975.8h0M825.3 984.2h0M825.8 990.5h0M826.3 981.8h0M826.8 974h0M827.3 990.6h0M827.8 980.2h0M828.3 994.3h0M828.8 972.1h0M829.3 979.2h0M829.8 982.5h0M830.3 966.6h0M830.8 981.1h0M831.3 985.2h0M831.8 979.4h0M832.3 983.9h0M832.8 981.8h0M833.3 973.7h0M833.8 986.1h0M834.2 974.5h0M834.7 978h0M835.2 974.6h0M835.7 985.4h0M836.2 976.7h0M836.7 976.6h0M837.2 963.5h0M837.7 978.2h0M838.2 988.2h0M838.7 963.9h0M839.2 983.2h0M839.7 980h0M840.2 966.7h0M840.7 977.1h0M841.2 987.8h0M841.7 980.3h0M842.2 983.1h0M842.7 989.1h0M843.2 977.8h0M843.7 987.2h0M844.2 970.6h0M844.7 973.6h0M845.2 991.8h0M845.7 991.1h0M846.2 987.8h0M846.7 968.6h0M847.2 978.7h0M847.7 973.5h0M848.2 995.6h0M848.6 969.9h0M849.1 970.5h0M849.6 975.9h0M850.1 983.2h0M850.6 976h0M851.1 978.2h0M851.6 983h0M852.1 980.9h0M852.6 965.8h0M853.1 970.8h0M853.6 993.6h0M854.1 981.1h0M854.6 995.1h0M855.1 992.3h0M855.6 989.5h0M856.1 981.3h0M856.6 992.9h0M857.1 977.3h0M857.6 998.5h0M858.1 985.6h0M858.6 985.7h0M859.1 977.9h0M859.6 976.6h0M860.1 979.1h0M860.6 977.1h0M861.1 974.3h0M861.6 972.7h0M862.1 982.8h0M862.5 990.7h0M863 996.8h0M863.5 987.4h0M864 980.6h0M864.5 986.3h0M865 995h0M865.5 982.6h0M866 989.5h0M866.5 984.6h0M867 982.6h0M867.5 977.1h0M868 987.3h0M868.5 975.1h0M869 973.7h0M869.5 984.4h0M870 989.4h0M870.5 989h0M871 988.4h0M871.5 979.3h0M872 980.6h0M872.5 990.6h0M873 998.1h0M873.5 960.3h0M874 991.3h0M874.5 983.4h0M875 981.3h0M875.5 975.8h0M876 976.6h0M876.5 972.1h0M876.9 983.8h0M877.4 973.9h0M877.9 980.2h0M878.4 969.6h0M878.9 991.1h0M879.4 987h0M879.9 972.3h0M880.4 985.2h0M880.9 978.4h0M881.4 974.6h0M881.9 982.1h0M882.4 988.3h0M882.9 993.6h0M883.4 983.7h0M883.9 990.9h0M884.4 987h0M884.9 987h0M885.4 989.4h0M885.9 970.7h0M886.4 978.4h0M886.9 993.6h0M887.4 970.9h0M887.9 974.8h0M888.4 996.7h0M888.9 973.4h0M889.4 982.5h0M889.9 983.7h0M890.4 979.2h0M890.9 989h0M891.3 988.4h0M891.8 975.9h0M892.3 995.5h0M892.8 974.9h0M893.3 977.8h0M893.8 980.3h0M894.3 983h0M894.8 972.5h0M895.3 983.3h0M895.8 963.6h0M896.3 977.2h0M896.8 973.9h0M897.3 975.4h0M897.8 980.4h0M898.3 983h0M898.8 975h0M899.3 981.1h0M899.8 968.8h0M900.3 977.9h0M900.8 988.4h0M901.3 975.3h0M901.8 978.3h0M902.3 980.6h0M902.8 987.3h0M903.3 983.8h0M903.8 979.5h0M904.3 972.8h0M904.8 982.7h0M905.2 957.7h0M905.7 984.1h0M906.2 974.7h0M906.7 985.9h0M907.2 980.2h0M907.7 991.6h0M908.2 975.6h0M908.7 964.9h0M909.2 980.9h0M909.7 976.8h0M910.2 980h0M910.7 990.3h0M911.2 973.5h0M911.7 986.2h0M912.2 987.9h0M912.7 989.4h0M913.2 964.7h0M913.7 982h0M914.2 975.2h0M914.7 978.9h0M915.2 974.2h0M915.7 978.2h0M916.2 988.4h0M916.7 994.6h0M917.2 986.4h0M917.7 970.9h0M918.2 990.9h0M918.7 970.9h0M919.2 977.8h0M919.6 990h0M920.1 976.1h0M920.6 986.7h0M921.1 978.7h0M921.6 971.6h0M922.1 982.6h0M922.6 976.6h0M923.1 995.1h0M923.6 995.8h0M924.1 993.6h0M924.6 972.7h0M925.1 996.3h0M925.6 983.5h0M926.1 985.1h0M926.6 982.6h0M927.1 976.6h0M927.6 982.1h0M928.1 988.2h0M928.6 993.6h0M929.1 985.7h0M929.6 981.2h0M930.1 977.2h0M930.6 978.5h0M931.1 994.3h0M931.6 986.7h0M932.1 983h0M932.6 967.8h0M933.1 966.8h0M933.6 986.6h0M934 986.3h0M934.5 990.2h0M935 982.8h0M935.5 975.8h0M936 967.2h0M936.5 973.7h0M937 962.3h0M937.5 983.6h0M938 985.1h0M938.5 992.4h0M939 966.3h0M939.5 969.6h0M940 986.2h0M940.5 983.9h0M941 964.8h0M941.5 975.4h0M942 982h0M942.5 978h0M943 984.2h0M943.5 981.4h0M944 976.6h0M944.5 984.3h0M945 980.5h0M945.5 990.7h0M946 969.3h0M946.5 979.3h0M947 975.6h0M947.5 979.2h0M947.9 984.5h0M948.4 986.5h0M948.9 963.6h0M949.4 990.8h0M949.9 985.7h0M950.4 985.6h0M950.9 981.8h0M951.4 989.1h0M951.9 984.7h0M952.4 966.4h0M952.9 975.8h0M953.4 979.2h0M953.9 978.3h0M954.4 977.6h0M954.9 986.3h0M955.4 972h0M955.9 975.1h0M956.4 973.1h0M956.9 981h0M957.4 984.9h0M957.9 973.8h0M958.4 984.5h0M958.9 976.8h0M959.4 993h0M959.9 962.7h0M960.4 981.2h0M960.9 990.9h0M961.4 978.3h0M961.9 972.1h0M962.3 974.1h0M962.8 986h0M963.3 976.8h0M963.8 990.2h0M964.3 981.8h0M964.8 976.8h0M965.3 977.8h0M965.8 985.4h0M966.3 990h0M966.8 974.8h0M967.3 971.7h0M967.8 971.8h0M968.3 985.5h0M968.8 996.8h0M969.3 977.2h0M969.8 987.3h0M970.3 978.3h0M970.8 989.4h0M971.3 969.3h0M971.8 986.7h0M972.3 970.8h0M972.8 974.6h0M973.3 984.5h0M973.8 979.7h0M974.3 981.2h0M974.8 986.2h0M975.3 983.4h0M975.8 994.3h0M976.2 988.1h0M976.7 974.6h0M977.2 981.2h0M977.7 977.2h0M978.2 978.4h0M978.7 996.8h0M979.2 975.3h0M979.7 992.6h0M980.2 994.6h0M980.7 1004.9h0M981.2 982h0M981.7 984.1h0M982.2 984.5h0M982.7 978.9h0M983.2 997h0M983.7 998.6h0M984.2 962.6h0M984.7 979.3h0M985.2 992.1h0M985.7 973.3h0M986.2 976.1h0M986.7 982.3h0M987.2 981.9h0M987.7 980.4h0M988.2 980.8h0M988.7 997.4h0M989.2 962.3h0M989.7 977.7h0M990.2 972.3h0M990.6 984h0M991.1 978.2h0M991.6 986.1h0M992.1 982.1h0M992.6 1001.6h0M993.1 970.8h0M993.6 977.9h0M994.1 989.5h0M994.6 978.8h0M995.1 983.3h0M995.6 968.9h0M996.1 988.1h0M996.6 980.9h0M997.1 986.8h0M997.6 974.2h0M998.1 977.3h0M998.6 974.6h0M999.1 996.2h0M999.6 967h0M1000.1 985.7h0M1000.6 984.2h0M1001.1 992.9h0M1001.6 984.4h0M1002.1 973.1h0M1002.6 986.4h0M1003.1 967.1h0M1003.6 991.1h0M1004.1 981.1h0M1004.6 975.6h0M1005 977.7h0M1005.5 987h0M1006 967.6h0M1006.5 996.7h0M1007 975.9h0M1007.5 995.1h0M1008 983.5h0M1008.5 998.6h0M1009 971.5h0M1009.5 989.6h0M1010 981.5h0M1010.5 976.6h0M1011 989.3h0M1011.5 980h0M1012 975.7h0M1012.5 980.2h0M1013 975.3h0M1013.5 980.1h0M1014 981.7h0M1014.5 991.4h0M1015 981.3h0M1015.5 975.4h0M1016 988.6h0M1016.5 978.9h0M1017 973.6h0M1017.5 971.6h0M1018 997.4h0M1018.5 981.1h0M1018.9 996.1h0M1019.4 973.5h0M1019.9 972.8h0M1020.4 997h0M1020.9 979.8h0M1021.4 980.4h0M1021.9 980.1h0M1022.4 973.1h0M1022.9 991h0M1023.4 971.5h0M1023.9 988.7h0M1024.4 972.7h0M1024.9 1004.9h0M1025.4 988.4h0M1025.9 991.8h0M1026.4 967.3h0M1026.9 985.2h0M1027.4 976.6h0M1027.9 974.5h0M1028.4 974.8h0M1028.9 989.4h0M1029.4 982.5h0M1029.9 977.8h0M1030.4 976.9h0M1030.9 976.5h0M1031.4 977.4h0M1031.9 979.7h0M1032.4 972.1h0M1032.9 974.2h0M1033.3 962.7h0M1033.8 981.9h0M1034.3 987.2h0M1034.8 977.9h0M1035.3 994.4h0M1035.8 975.5h0M1036.3 982.5h0M1036.8 992.4h0M1037.3 984.4h0M1037.8 975.3h0M1038.3 985.4h0M1038.8 978.8h0M1039.3 992.1h0M1039.8 989.1h0M1040.3 980.4h0M1040.8 987h0M1041.3 997.6h0M1041.8 992.3h0M1042.3 989.9h0M1042.8 980.8h0M1043.3 977.3h0M1043.8 975.8h0M1044.3 991.5h0M1044.8 973h0M1045.3 986h0M1045.8 996.5h0M1046.3 968.5h0M1046.8 985.6h0M1047.3 973.8h0M1047.7 981.4h0M1048.2 987.1h0M1048.7 973.8h0M1049.2 970.9h0M1049.7 979h0M1050.2 984.4h0M1050.7 979.1h0M1051.2 974.1h0M1051.7 988.6h0M1052.2 972.7h0M1052.7 969.9h0M1053.2 983.5h0M1053.7 1001.5h0M1054.2 978.1h0M1054.7 981.8h0M1055.2 973.6h0M1055.7 977.2h0M1056.2 972.6h0M1056.7 985h0M1057.2 976.6h0M1057.7 975.6h0M1058.2 990.8h0M1058.7 969.8h0M1059.2 990.8h0M1059.7 981h0M1060.2 974.6h0M1060.7 982.4h0M1061.2 980.2h0M1061.6 985.5h0M1062.1 980.8h0M1062.6 999.4h0M1063.1 992h0M1063.6 992.6h0M1064.1 972.1h0M1064.6 979.7h0M1065.1 993.3h0M1065.6 988.1h0M1066.1 983h0M1066.6 982.1h0M1067.1 992.1h0M1067.6 966h0M1068.1 975.2h0M1068.6 970.6h0M1069.1 993.1h0M1069.6 970.7h0M1070.1 980.5h0M1070.6 994.9h0M1071.1 980.3h0M1071.6 985.5h0M1072.1 983.3h0M1072.6 989h0M1073.1 1002.5h0M1073.6 972.7h0M1074.1 982.6h0M1074.6 997.7h0M1075.1 1004.1h0M1075.6 981.2h0M1076 995.4h0M1076.5 989.1h0M1077 988.7h0M1077.5 970.6h0M1078 968.8h0M1078.5 984.4h0M1079 982.1h0M1079.5 982.3h0M1080 972.8h0M1080.5 996h0M1081 981.6h0M1081.5 1007.2h0M1082 981.2h0M1082.5 986.6h0M1083 989.9h0M1083.5 980.2h0M1084 974.5h0M1084.5 978.3h0M1085 983.5h0M1085.5 978.9h0M1086 1000.9h0M1086.5 978.8h0M1087 990.2h0M1087.5 990.6h0M1088 985.1h0M1088.5 974h0M1089 988h0M1089.5 991.8h0M1089.9 985h0M1090.4 983.7h0M1090.9 964.5h0M1091.4 973.9h0M1091.9 981.9h0M1092.4 985.2h0M1092.9 990.1h0M1093.4 980.9h0M1093.9 985.1h0M1094.4 974.6h0M1094.9 989.1h0M1095.4 989.9h0M1095.9 982.6h0M1096.4 992.1h0M1096.9 981h0M1097.4 979.3h0M1097.9 981.1h0M1098.4 1001.1h0M1098.9 969.5h0M1099.4 985.4h0M1099.9 980.6h0M1100.4 984.7h0M1100.9 970.8h0M1101.4 990.1h0M1101.9 989.5h0M1102.4 981.4h0M1102.9 980h0M1103.4 984.3h0M1103.9 992.1h0M1104.3 970.5h0M1104.8 996h0M1105.3 981.1h0M1105.8 991.2h0M1106.3 976.7h0M1106.8 1001h0M1107.3 986.3h0M1107.8 999.4h0M1108.3 978.7h0M1108.8 978.5h0M1109.3 993.9h0M1109.8 990.3h0M1110.3 987.1h0M1110.8 994.9h0M1111.3 987.9h0M1111.8 981.3h0M1112.3 967.8h0M1112.8 964.4h0M1113.3 989.9h0M1113.8 989.2h0M1114.3 976.5h0M1114.8 989h0M1115.3 982.6h0M1115.8 984.7h0M1116.3 992.8h0M1116.8 970.7h0M1117.3 987.5h0M1117.8 989h0M1118.3 982.8h0M1118.7 985.9h0M1119.2 974.6h0M1119.7 985.8h0M1120.2 990h0M1120.7 991.2h0M1121.2 978.5h0M1121.7 991.5h0M1122.2 987.2h0M1122.7 990.3h0M1123.2 984.2h0M1123.7 990h0M1124.2 986.3h0M1124.7 1005.5h0M1125.2 981.9h0M1125.7 994.3h0M1126.2 984.4h0M1126.7 971.7h0M1127.2 988.6h0M1127.7 995.1h0M1128.2 991.1h0M1128.7 991.3h0M1129.2 977.6h0M1129.7 987.2h0M1130.2 972.7h0M1130.7 999.9h0M1131.2 997.9h0M1131.7 975.7h0M1132.2 981.2h0M1132.6 974h0M1133.1 978.2h0M1133.6 980.8h0M1134.1 974.5h0M1134.6 980.6h0M1135.1 990.1h0M1135.6 982.2h0M1136.1 990.8h0M1136.6 983.2h0M1137.1 985.5h0M1137.6 973.8h0M1138.1 992.6h0M1138.6 974.9h0M1139.1 981.5h0M1139.6 973.6h0M1140.1 989h0M1140.6 975.7h0M1141.1 989.6h0M1141.6 1001.3h0M1142.1 987.6h0M1142.6 965.4h0M1143.1 993.2h0M1143.6 986.3h0M1144.1 990h0M1144.6 988.3h0M1145.1 994.8h0M1145.6 993.6h0M1146.1 984.4h0M1146.6 974.2h0M1147 984.2h0M1147.5 991.5h0M1148 969h0M1148.5 986.2h0M1149 969.5h0M1149.5 994.6h0M1150 1000.9h0M1150.5 992.5h0M1151 981.4h0M1151.5 991.8h0M1152 996.5h0M1152.5 999.4h0M1153 997.3h0M1153.5 994.5h0M1154 976.7h0M1154.5 984.3h0M1155 989.2h0M1155.5 985.6h0M1156 968.5h0M1156.5 983.7h0M1157 979.1h0M1157.5 987h0M1158 988.1h0M1158.5 972.9h0M1159 978.7h0M1159.5 986.5h0M1160 976.2h0M1160.5 984.9h0M1161 978h0M1161.4 979.1h0M1161.9 992.6h0M1162.4 984h0M1162.9 980.4h0M1163.4 998.2h0M1163.9 982.5h0M1164.4 984.9h0M1164.9 985.3h0M1165.4 1010.9h0M1165.9 990.5h0M1166.4 992.5h0M1166.9 982h0M1167.4 992.4h0M1167.9 994.8h0M1168.4 975.3h0M1168.9 988.9h0M1169.4 999.2h0M1169.9 1000.7h0M1170.4 987.4h0M1170.9 1004.9h0M1171.4 979.5h0M1171.9 994.3h0M1172.4 989.9h0M1172.9 976.5h0M1173.4 994h0M1173.9 974.6h0M1174.4 979.9h0M1174.9 984.7h0M1175.3 975.3h0M1175.8 995.4h0M1176.3 981.7h0M1176.8 975h0M1177.3 987.7h0M1177.8 985.5h0M1178.3 976.3h0M1178.8 981h0M1179.3 993.1h0M1179.8 992.6h0M1180.3 972.2h0M1180.8 993.8h0M1181.3 993.9h0M1181.8 995.4h0M1182.3 981.7h0M1182.8 979.2h0M1183.3 984.9h0M1183.8 980.2h0M1184.3 983.6h0M1184.8 980.7h0M1185.3 983.4h0M1185.8 981.6h0M1186.3 986.1h0M1186.8 987.2h0M1187.3 983.6h0M1187.8 981.2h0M1188.3 999.3h0M1188.8 993.7h0M1189.3 990h0M1189.7 978.5h0M1190.2 991.1h0M1190.7 984.5h0M1191.2 990.9h0M1191.7 987.8h0M1192.2 1007.1h0M1192.7 986h0M1193.2 977.4h0M1193.7 995h0M1194.2 995.5h0M1194.7 997.1h0M1195.2 963.9h0M1195.7 978h0M1196.2 979h0M1196.7 972h0M1197.2 986.8h0M1197.7 991.3h0M1198.2 994.8h0M1198.7 993.4h0M1199.2 985.9h0M1199.7 998.7h0M1200.2 987.8h0M1200.7 962.1h0M1201.2 982.9h0M1201.7 979.3h0M1202.2 988.4h0M1202.7 982h0M1203.2 982.8h0M1203.6 997h0M1204.1 979.1h0M1204.6 973.9h0M1205.1 987.5h0M1205.6 990.8h0M1206.1 984.4h0M1206.6 985.3h0M1207.1 980.4h0M1207.6 974.2h0M1208.1 979h0M1208.6 976.4h0M1209.1 995.6h0M1209.6 983.1h0M1210.1 997.1h0M1210.6 984.1h0M1211.1 977.6h0M1211.6 986.9h0M1212.1 987h0M1212.6 996.4h0M1213.1 968.3h0M1213.6 981.8h0M1214.1 988.7h0M1214.6 979h0M1215.1 986.3h0M1215.6 982.9h0M1216.1 997.3h0M1216.6 995.9h0M1217.1 968.2h0M1217.6 972.5h0M1218 978.8h0M1218.5 984.8h0M1219 984.1h0M1219.5 981.1h0M1220 990.5h0M1220.5 992.7h0M1221 986.3h0M1221.5 983h0M1222 985.8h0M1222.5 978.6h0M1223 992.4h0M1223.5 992.5h0M1224 977.9h0M1224.5 997.7h0M1225 985.2h0M1225.5 992.5h0M1226 985.6h0M1226.5 984.1h0M1227 991.6h0M1227.5 977.5h0M1228 983.6h0M1228.5 975.8h0M1229 989.8h0M1229.5 983.8h0M1230 983h0M1230.5 981.3h0M1231 991.1h0M1231.5 987.9h0M1232 983.9h0M1232.4 981.9h0M1232.9 1000.5h0M1233.4 998.2h0M1233.9 976.5h0M1234.4 995.8h0M1234.9 990.2h0M1235.4 988.4h0M1235.9 989.4h0M1236.4 974.6h0M1236.9 1006.3h0M1237.4 1002.8h0M1237.9 986.3h0M1238.4 986h0M1238.9 987.2h0M1239.4 980.4h0M1239.9 990.4h0M1240.4 985.6h0M1240.9 977.1h0M1241.4 981.8h0M1241.9 980.5h0M1242.4 980.9h0M1242.9 983.1h0M1243.4 991h0M1243.9 982.4h0M1244.4 972.5h0M1244.9 997.6h0M1245.4 981h0M1245.9 997.7h0M1246.3 987.8h0M1246.8 990.3h0M1247.3 978.9h0M1247.8 986.6h0M1248.3 982.7h0M1248.8 985.4h0M1249.3 989.7h0M1249.8 982.7h0M1250.3 992.7h0M1250.8 974.3h0M1251.3 977.1h0M1251.8 989.4h0M1252.3 990.2h0M1252.8 994.7h0M1253.3 999.2h0M1253.8 989.7h0M1254.3 992.2h0M1254.8 988.1h0M1255.3 987.3h0M1255.8 985.3h0M1256.3 987.1h0M1256.8 981.6h0M1257.3 984.9h0M1257.8 992.7h0M1258.3 990.3h0M1258.8 995.5h0M1259.3 982.4h0M1259.8 983.3h0M1260.3 989.7h0M1260.7 979.3h0M1261.2 978.9h0M1261.7 991.3h0M1262.2 983.7h0M1262.7 993.2h0M1263.2 986.9h0M1263.7 982.6h0M1264.2 977.7h0M1264.7 995.8h0M1265.2 985.5h0M1265.7 978.9h0M1266.2 973.9h0M1266.7 976h0M1267.2 982.8h0M1267.7 996h0M1268.2 978.6h0M1268.7 988.3h0M1269.2 987.7h0M1269.7 959.1h0M1270.2 975.6h0M1270.7 992.4h0M1271.2 969.2h0M1271.7 994.9h0M1272.2 985.9h0M1272.7 972.2h0M1273.2 1000.8h0M1273.7 984.7h0M1274.2 998.5h0M1274.6 987.4h0M1275.1 979.7h0M1275.6 994.8h0M1276.1 1000.3h0M1276.6 996.1h0M1277.1 976.2h0M1277.6 990.8h0M1278.1 976.3h0M1278.6 980.9h0M1279.1 996.7h0M1279.6 974.2h0M1280.1 1006h0M1280.6 973.3h0M1281.1 975.3h0M1281.6 991.9h0M1282.1 984.1h0M1282.6 984.6h0M1283.1 978.3h0M1283.6 991.7h0M1284.1 987.6h0M1284.6 985.1h0M1285.1 979.2h0M1285.6 973.7h0M1286.1 985.7h0M1286.6 968.2h0M1287.1 980.5h0M1287.6 990.9h0M1288.1 991.4h0M1288.6 982.5h0M1289 965h0M1289.5 990.3h0M1290 993h0M1290.5 986.3h0M1291 996.3h0M1291.5 994.2h0M1292 972.4h0M1292.5 984.1h0M1293 982h0M1293.5 998.7h0M1294 994.7h0M1294.5 986.9h0M1295 990.6h0M1295.5 993.2h0M1296 980.3h0M1296.5 984.6h0M1297 985.3h0M1297.5 982.7h0M1298 983.4h0M1298.5 988h0M1299 975.6h0M1299.5 976.8h0M1300 992.4h0M1300.5 998.4h0M1301 1001.2h0M1301.5 971.9h0M1302 989.1h0M1302.5 979.4h0M1303 981.8h0M1303.4 984.3h0M1303.9 989.3h0M1304.4 990.6h0M1304.9 966.6h0M1305.4 981.3h0M1305.9 994.8h0M1306.4 987.1h0M1306.9 973.1h0M1307.4 978.2h0M1307.9 979.7h0M1308.4 994.2h0M1308.9 1000.2h0M1309.4 977.3h0M1309.9 990.2h0M1310.4 983.8h0M1310.9 990.7h0M1311.4 984.2h0M1311.9 977.1h0M1312.4 980.9h0M1312.9 980.8h0M1313.4 997.8h0M1313.9 980h0M1314.4 990.6h0M1314.9 979.3h0M1315.4 980.7h0M1315.9 987.9h0M1316.4 981.5h0M1316.9 1001.8h0M1317.3 996.6h0M1317.8 977.1h0M1318.3 990.2h0M1318.8 998.2h0M1319.3 976.5h0M1319.8 982.9h0M1320.3 997.9h0M1320.8 979.5h0M1321.3 991.1h0M1321.8 985.5h0M1322.3 987.5h0M1322.8 977.8h0M1323.3 985.5h0M1323.8 982.6h0M1324.3 1000.2h0M1324.8 991.2h0M1325.3 987h0M1325.8 985.9h0M1326.3 991.6h0M1326.8 973.3h0M1327.3 978h0M1327.8 978.7h0M1328.3 979.6h0M1328.8 972.9h0M1329.3 990.2h0M1329.8 982.3h0M1330.3 996.1h0M1330.8 985.1h0M1331.3 983.1h0M1331.7 989.5h0M1332.2 989.5h0M1332.7 983.7h0M1333.2 990.6h0M1333.7 996.1h0M1334.2 982.4h0M1334.7 996.4h0M1335.2 984.5h0M1335.7 992.9h0M1336.2 985.7h0M1336.7 982.9h0M1337.2 988.4h0M1337.7 977.1h0M1338.2 973.2h0M1338.7 985.7h0M1339.2 984.1h0M1339.7 977.1h0M1340.2 1002.9h0M1340.7 989.3h0M1341.2 980.2h0M1341.7 990.1h0M1342.2 990.3h0M1342.7 982.9h0M1343.2 984.1h0M1343.7 971.2h0M1344.2 987.8h0M1344.7 1001h0M1345.2 995.2h0M1345.7 994.3h0M1346.1 981.4h0M1346.6 977.4h0M1347.1 993.1h0M1347.6 988.4h0M1348.1 984.4h0M1348.6 983.5h0M1349.1 993.5h0M1349.6 991h0M1350.1 982.3h0M1350.6 985.1h0M1351.1 972.7h0M1351.6 976.6h0M1352.1 990.5h0M1352.6 982.4h0M1353.1 979.1h0M1353.6 988.2h0M1354.1 996.1h0M1354.6 979.3h0M1355.1 983.4h0M1355.6 984h0M1356.1 1005.4h0M1356.6 994.1h0M1357.1 988.1h0M1357.6 974.7h0M1358.1 992.1h0M1358.6 990.6h0M1359.1 984.5h0M1359.6 980.1h0M1360 982.4h0M1360.5 972.9h0M1361 982.9h0M1361.5 982.4h0M1362 978.8h0M1362.5 983.4h0M1363 973.5h0M1363.5 995h0M1364 984.7h0M1364.5 976.6h0M1365 992.1h0M1365.5 990.4h0M1366 982h0M1366.5 975.5h0M1367 985.4h0" stroke="#00ff00" stroke-width="17" stroke-linecap="round" fill="none"/>
<path d="M374 659.5h0M374.5 664.8h0M375 670.4h0M375.5 674.7h0M376 670.1h0M376.5 680.7h0M377 677.3h0M377.5 692.8h0M378 694.9h0M378.5 701.3h0M379 701.9h0M379.4 705.9h0M379.9 707.9h0M380.4 703.1h0M380.9 717.4h0M381.4 732.5h0M381.9 731.4h0M382.4 729.3h0M382.9 735.4h0M383.4 739.8h0M383.9 739.5h0M384.4 745.6h0M384.9 750.8h0M385.4 751.2h0M385.9 758.8h0M386.4 765.6h0M386.9 767.6h0M387.4 769h0M387.9 770.7h0M388.4 778h0M388.9 776.3h0M389.4 779.4h0M389.9 790.8h0M390.4 787.4h0M390.9 786.7h0M391.4 799.2h0M391.9 802h0M392.4 807.1h0M392.9 805.2h0M393.4 813.7h0M393.8 811.6h0M394.3 811h0M394.8 817.7h0M395.3 822.7h0M395.8 820.1h0M396.3 827.1h0M396.8 832h0M397.3 832.2h0M397.8 837.4h0M398.3 839.9h0M398.8 839.5h0M399.3 847.4h0M399.8 851.4h0M400.3 843h0M400.8 851.7h0M401.3 861h0M401.8 862.3h0M402.3 854.8h0M402.8 866.9h0M403.3 874.8h0M403.8 875.2h0M404.3 877.5h0M404.8 876.3h0M405.3 879.8h0M405.8 877h0M406.3 884.8h0M406.8 897.6h0M407.3 889.8h0M407.8 888.3h0M408.2 897.3h0M408.7 888.3h0M409.2 910.2h0M409.7 905.2h0M410.2 903.6h0M410.7 905.6h0M411.2 905.5h0M411.7 912.6h0M412.2 914.6h0M412.7 909.6h0M413.2 923.6h0M413.7 919.7h0M414.2 918.6h0M414.7 930.2h0M415.2 931.6h0M415.7 927.7h0M416.2 929.5h0M416.7 939.8h0M417.2 935h0M417.7 939.9h0M418.2 947.5h0M418.7 937.5h0M419.2 938.1h0M419.7 943.3h0M420.2 946.6h0M420.7 951.5h0M421.2 957.9h0M421.7 953h0M422.1 965.1h0M422.6 959.7h0M423.1 950.8h0M423.6 962h0M424.1 967.5h0M424.6 971.1h0M425.1 963.8h0M425.6 968.5h0M426.1 981.9h0M426.6 973.1h0M427.1 969.3h0M427.6 967.8h0M428.1 974.9h0M428.6 980.6h0M429.1 974.5h0M429.6 988.8h0M430.1 979.4h0M430.6 974.8h0M431.1 989.7h0M431.6 987.9h0M432.1 987.9h0M432.6 997.4h0M433.1 988.7h0M433.6 997.1h0M434.1 991.8h0M434.6 1005h0M435.1 997.4h0M435.6 998.8h0M436.1 1003.3h0M436.5 1000.8h0M437 1005.1h0M437.5 1002.5h0M438 1008.5h0M438.5 1006.6h0M439 1004.3h0M439.5 1011.8h0M440 1012.4h0M440.5 1004.8h0M441 1010.3h0M441.5 1003.4h0M442 1014.8h0M442.5 1020.1h0M443 1030.5h0M443.5 1019h0M444 1024.5h0M444.5 1028.1h0M445 1024.7h0M445.5 1010.2h0M446 1019.6h0M446.5 1025.5h0M447 1026.3h0M447.5 1026.3h0M448 1021.1h0M448.5 1016.1h0M449 1030.8h0M449.5 1036.6h0M450 1027.4h0M450.4 1034.7h0M450.9 1028.9h0M451.4 1032.2h0M451.9 1030.3h0M452.4 1040h0M452.9 1029.8h0M453.4 1037.3h0M453.9 1043h0M454.4 1037.8h0M454.9 1030.8h0M455.4 1041.9h0M455.9 1039h0M456.4 1032.5h0M456.9 1040.3h0M457.4 1040.3h0M457.9 1046.9h0M458.4 1040.3h0M458.9 1044.7h0M459.4 1048.7h0M459.9 1032.6h0M460.4 1052.4h0M460.9 1046.5h0M461.4 1040.2h0M461.9 1048.4h0M462.4 1055h0M462.9 1043.8h0M463.4 1045.2h0M463.9 1058.8h0M464.4 1060.6h0M464.8 1064h0M465.3 1051h0M465.8 1044.6h0M466.3 1044.9h0M466.8 1049.7h0M467.3 1045.3h0M467.8 1055.7h0M468.3 1061.9h0M468.8 1045.8h0M469.3 1064.2h0M469.8 1047.5h0M470.3 1049.3h0M470.8 1044.7h0M471.3 1060.3h0M471.8 1054.8h0M472.3 1056h0M472.8 1035.4h0M473.3 1052.3h0M473.8 1059.1h0M474.3 1037.5h0M474.8 1071.7h0M475.3 1060.3h0M475.8 1066.2h0M476.3 1056.5h0M476.8 1065.5h0M477.3 1068.5h0M477.8 1078.1h0M478.3 1052.4h0M478.8 1075.2h0M479.2 1052.8h0M479.7 1062h0M480.2 1058.3h0M480.7 1060.1h0M481.2 1047.6h0M481.7 1059.7h0M482.2 1053.4h0M482.7 1060.8h0M483.2 1064.4h0M483.7 1063.2h0M484.2 1062.2h0M484.7 1073.2h0M485.2 1065.7h0M485.7 1067.8h0M486.2 1073.4h0M486.7 1063.4h0M487.2 1064.8h0M487.7 1069h0M488.2 1062.3h0M488.7 1073.5h0M489.2 1060h0M489.7 1063.1h0M490.2 1063.8h0M490.7 1062.6h0M491.2 1064.9h0M491.7 1061.6h0M492.2 1047.9h0M492.7 1073.6h0M493.1 1062.2h0M493.6 1070.8h0M494.1 1057.7h0M494.6 1069.8h0M495.1 1056.2h0M495.6 1076.3h0M496.1 1064.8h0M496.6 1062.6h0M497.1 1045h0M497.6 1049.3h0M498.1 1062.2h0M498.6 1061.2h0M499.1 1061.3h0M499.6 1062.1h0M500.1 1072.9h0M500.6 1063h0M501.1 1063h0M501.6 1060.5h0M502.1 1058.2h0M502.6 1068.7h0M503.1 1063h0M503.6 1063.3h0M504.1 1068.3h0M504.6 1066.6h0M505.1 1071.9h0M505.6 1071.6h0M506.1 1056.9h0M506.6 1060.7h0M507.1 1073.4h0M507.5 1063.8h0M508 1071.1h0M508.5 1060.4h0M509 1049.5h0M509.5 1051.3h0M510 1062h0M510.5 1063.9h0M511 1083.2h0M511.5 1072.2h0M512 1071.9h0M512.5 1073.4h0M513 1056.4h0M513.5 1067.7h0M514 1066.7h0M514.5 1080.6h0M515 1062.8h0M515.5 1057.9h0M516 1068.1h0M516.5 1066.4h0M517 1068.4h0M517.5 1069.3h0M518 1068.9h0M518.5 1063.8h0M519 1065.1h0M519.5 1082.7h0M520 1064.1h0M520.5 1071.3h0M521 1061.9h0M521.5 1057.6h0M521.9 1073.9h0M522.4 1069.6h0M522.9 1076.6h0M523.4 1075h0M523.9 1070.2h0M524.4 1064.2h0M524.9 1080.4h0M525.4 1069.4h0M525.9 1081.7h0M526.4 1073.3h0M526.9 1074.6h0M527.4 1072.9h0M527.9 1072.1h0M528.4 1068.3h0M528.9 1082.9h0M529.4 1064.6h0M529.9 1061.1h0M530.4 1071.4h0M530.9 1066.1h0M531.4 1075.2h0M531.9 1068.9h0M532.4 1076.3h0M532.9 1070.4h0M533.4 1065.7h0M533.9 1068.2h0M534.4 1073.7h0M534.9 1066.7h0M535.4 1065.6h0M535.8 1069.1h0M536.3 1071.7h0M536.8 1076.4h0M537.3 1072.3h0M537.8 1074.5h0M538.3 1069.2h0M538.8 1079.4h0M539.3 1081.1h0M539.8 1067h0M540.3 1071.4h0M540.8 1069.8h0M541.3 1072.3h0M541.8 1069.4h0M542.3 1067.6h0M542.8 1064.8h0M543.3 1069h0M543.8 1071.9h0M544.3 1077.3h0M544.8 1075.2h0M545.3 1070.4h0M545.8 1069.3h0M546.3 1065.1h0M546.8 1076.8h0M547.3 1073.9h0M547.8 1076.8h0M548.3 1077.9h0M548.8 1077h0M549.3 1073.8h0M549.8 1072.9h0M550.2 1069.3h0M550.7 1071.5h0M551.2 1077.5h0M551.7 1087.8h0M552.2 1073.3h0M552.7 1077.1h0M553.2 1093.9h0M553.7 1076.8h0M554.2 1074.5h0M554.7 1076.7h0M555.2 1075.5h0M555.7 1066h0M556.2 1082h0M556.7 1067.2h0M557.2 1074.4h0M557.7 1075.3h0M558.2 1080.6h0M558.7 1076.9h0M559.2 1075.5h0M559.7 1073.4h0M560.2 1080.1h0M560.7 1076.8h0M561.2 1074.7h0M561.7 1071.2h0M562.2 1074.2h0M562.7 1080.5h0M563.2 1070.2h0M563.7 1080.8h0M564.1 1080.7h0M564.6 1087.4h0M565.1 1076.3h0M565.6 1074.7h0M566.1 1080.3h0M566.6 1078.7h0M567.1 1064.9h0M567.6 1089h0M568.1 1083.2h0M568.6 1082.8h0M569.1 1077h0M569.6 1084.7h0M570.1 1080.7h0M570.6 1093.1h0M571.1 1087.6h0M571.6 1092.6h0M572.1 1075.5h0M572.6 1078h0M573.1 1081.2h0M573.6 1080.1h0M574.1 1095.1h0M574.6 1087.1h0M575.1 1077.7h0M575.6 1083.1h0M576.1 1097.2h0M576.6 1082.8h0M577.1 1089h0M577.6 1073.3h0M578.1 1081.1h0M578.5 1083.7h0M579 1083.1h0M579.5 1084.7h0M580 1087.1h0M580.5 1092.4h0M581 1073.1h0M581.5 1085.1h0M582 1089.3h0M582.5 1086.2h0M583 1092.2h0M583.5 1083.7h0M584 1081.7h0M584.5 1079.1h0M585 1090.6h0M585.5 1076h0M586 1081.6h0M586.5 1084.2h0M587 1088.5h0M587.5 1082.5h0M588 1078.2h0M588.5 1088.2h0M589 1076.8h0M589.5 1079.5h0M590 1071h0M590.5 1085.3h0M591 1085h0M591.5 1072.6h0M592 1082.5h0M592.5 1087.6h0M592.9 1079.6h0M593.4 1073h0M593.9 1083.2h0M594.4 1087.8h0M594.9 1071.7h0M595.4 1089.3h0M595.9 1083.3h0M596.4 1089.7h0M596.9 1077h0M597.4 1089.8h0M597.9 1085.7h0M598.4 1088.7h0M598.9 1084.1h0M599.4 1090h0M599.9 1082.5h0M600.4 1080.8h0M600.9 1076.9h0M601.4 1073.5h0M601.9 1084h0M602.4 1081.3h0M602.9 1082.8h0M603.4 1081.7h0M603.9 1085.7h0M604.4 1083.8h0M604.9 1079.6h0M605.4 1088.3h0M605.9 1097h0M606.4 1077.8h0M606.8 1080.7h0M607.3 1087.1h0M607.8 1078.9h0M608.3 1090.1h0M608.8 1079.2h0M609.3 1075.9h0M609.8 1077.6h0M610.3 1090.5h0M610.8 1070.8h0M611.3 1084.6h0M611.8 1070.1h0M612.3 1088.6h0M612.8 1086.5h0M613.3 1088.2h0M613.8 1097.7h0M614.3 1083.7h0M614.8 1091.6h0M615.3 1088.1h0M615.8 1091.1h0M616.3 1079.7h0M616.8 1091.7h0M617.3 1082.6h0M617.8 1094.2h0M618.3 1090.8h0M618.8 1085.3h0M619.3 1088.7h0M619.8 1088.4h0M620.3 1086.5h0M620.8 1102.2h0M621.2 1079.9h0M621.7 1076.5h0M622.2 1076.8h0M622.7 1083.7h0M623.2 1085h0M623.7 1089.7h0M624.2 1091.7h0M624.7 1087h0M625.2 1086.4h0M625.7 1079.6h0M626.2 1091.9h0M626.7 1094.3h0M627.2 1084.8h0M627.7 1090.2h0M628.2 1081.6h0M628.7 1085.5h0M629.2 1086.3h0M629.7 1091.2h0M630.2 1076.5h0M630.7 1086.1h0M631.2 1091.4h0M631.7 1087.9h0M632.2 1089.9h0M632.7 1069.9h0M633.2 1080.2h0M633.7 1082.9h0M634.2 1080.8h0M634.7 1070.7h0M635.2 1092.3h0M635.6 1087.1h0M636.1 1073.2h0M636.6 1082.4h0M637.1 1085.6h0M637.6 1091.5h0M638.1 1089.6h0M638.6 1079h0M639.1 1081.2h0M639.6 1086.8h0M640.1 1091.6h0M640.6 1082.5h0M641.1 1081.3h0M641.6 1089h0M642.1 1086.2h0M642.6 1093.9h0M643.1 1088.4h0M643.6 1091.6h0M644.1 1072.9h0M644.6 1076.7h0M645.1 1075.6h0M645.6 1080.9h0M646.1 1087.4h0M646.6 1083.5h0M647.1 1088.4h0M647.6 1080.4h0M648.1 1091.3h0M648.6 1090.5h0M649.1 1074.2h0M649.5 1078.4h0M650 1081.2h0M650.5 1090.3h0M651 1090h0M651.5 1096.4h0M652 1075.6h0M652.5 1086.5h0M653 1085h0M653.5 1083.3h0M654 1084.2h0M654.5 1072h0M655 1086.9h0M655.5 1082.4h0M656 1077.1h0M656.5 1093.9h0M657 1080.7h0M657.5 1086.5h0M658 1080.7h0M658.5 1075.3h0M659 1082.1h0M659.5 1087h0M660 1078.7h0M660.5 1088.2h0M661 1095.8h0M661.5 1092.6h0M662 1083.2h0M662.5 1080.2h0M663 1091h0M663.5 1076.5h0M663.9 1078.8h0M664.4 1096.2h0M664.9 1087.8h0M665.4 1088.5h0M665.9 1083.7h0M666.4 1103.4h0M666.9 1105.3h0M667.4 1084.7h0M667.9 1090.9h0M668.4 1084h0M668.9 1088.7h0M669.4 1094.3h0M669.9 1094h0M670.4 1084.5h0M670.9 1088.5h0M671.4 1103.8h0M671.9 1092.1h0M672.4 1095.1h0M672.9 1089.8h0M673.4 1085.6h0M673.9 1079.3h0M674.4 1080.1h0M674.9 1075.8h0M675.4 1079.4h0M675.9 1080.7h0M676.4 1090.8h0M676.9 1075.8h0M677.4 1088.9h0M677.8 1073.9h0M678.3 1102.6h0M678.8 1082.6h0M679.3 1087.2h0M679.8 1097.3h0M680.3 1085.1h0M680.8 1086.9h0M681.3 1087.2h0M681.8 1089.8h0M682.3 1083.2h0M682.8 1097.3h0M683.3 1093.5h0M683.8 1087.3h0M684.3 1094h0M684.8 1085.8h0M685.3 1083.1h0M685.8 1085.8h0M686.3 1089.4h0M686.8 1076.8h0M687.3 1084.4h0M687.8 1089.3h0M688.3 1079.6h0M688.8 1088.5h0M689.3 1079.6h0M689.8 1087.7h0M690.3 1086h0M690.8 1088.6h0M691.3 1081.9h0M691.8 1074.2h0M692.2 1070.3h0M692.7 1109.7h0M693.2 1077.3h0M693.7 1081h0M694.2 1076.1h0M694.7 1095.1h0M695.2 1090.9h0M695.7 1091.8h0M696.2 1079.4h0M696.7 1092.8h0M697.2 1081.7h0M697.7 1094.2h0M698.2 1085.9h0M698.7 1072.2h0M699.2 1085.8h0M699.7 1081h0M700.2 1101.5h0M700.7 1078.2h0M701.2 1084.6h0M701.7 1084.7h0M702.2 1081.2h0M702.7 1081.9h0M703.2 1086.1h0M703.7 1088.6h0M704.2 1083.8h0M704.7 1084.7h0M705.2 1086.4h0M705.7 1080.5h0M706.2 1084.9h0M706.6 1086.6h0M707.1 1092.8h0M707.6 1090.6h0M708.1 1089.5h0M708.6 1092.1h0M709.1 1081.6h0M709.6 1093.4h0M710.1 1084.2h0M710.6 1085.6h0M711.1 1083.9h0M711.6 1090.5h0M712.1 1082.5h0M712.6 1090h0M713.1 1084.3h0M713.6 1083.4h0M714.1 1088.9h0M714.6 1081.2h0M715.1 1093.7h0M715.6 1082.1h0M716.1 1083.5h0M716.6 1093.7h0M717.1 1077.4h0M717.6 1091.9h0M718.1 1086.8h0M718.6 1087h0M719.1 1087.6h0M719.6 1080.9h0M720.1 1096.4h0M720.5 1089.7h0M721 1090.4h0M721.5 1091.4h0M722 1092.3h0M722.5 1088.3h0M723 1080.8h0M723.5 1078.7h0M724 1078.2h0M724.5 1083.7h0M725 1092.5h0M725.5 1078.6h0M726 1084.3h0M726.5 1090h0M727 1084.4h0M727.5 1084.8h0M728 1080h0M728.5 1087.4h0M729 1082.9h0M729.5 1082.2h0M730 1084h0M730.5 1088.6h0M731 1092.2h0M731.5 1079.5h0M732 1089.3h0M732.5 1079.8h0M733 1075.3h0M733.5 1082.4h0M734 1086.8h0M734.5 1086.1h0M734.9 1088.7h0M735.4 1074.4h0M735.9 1094.8h0M736.4 1091.4h0M736.9 1090.5h0M737.4 1077h0M737.9 1089.3h0M738.4 1083.6h0M738.9 1083.7h0M739.4 1086.7h0M739.9 1077.1h0M740.4 1093.1h0M740.9 1092.7h0M741.4 1091.4h0M741.9 1095h0M742.4 1076.7h0M742.9 1085h0M743.4 1084.8h0M743.9 1079.4h0M744.4 1091.6h0M744.9 1101.9h0M745.4 1080.7h0M745.9 1090.3h0M746.4 1087.4h0M746.9 1087.9h0M747.4 1087.6h0M747.9 1091h0M748.4 1083.3h0M748.9 1084.7h0M749.3 1096.8h0M749.8 1087.1h0M750.3 1087h0M750.8 1076.8h0M751.3 1089.8h0M751.8 1090.7h0M752.3 1088.7h0M752.8 1096.3h0M753.3 1075.5h0M753.8 1092.3h0M754.3 1077.6h0M754.8 1081h0M755.3 1075.5h0M755.8 1091.8h0M756.3 1086.3h0M756.8 1084.5h0M757.3 1087.2h0M757.8 1074.8h0M758.3 1083.4h0M758.8 1088.1h0M759.3 1083.5h0M759.8 1086.6h0M760.3 1077.8h0M760.8 1087.9h0M761.3 1085.2h0M761.8 1088.2h0M762.3 1095.9h0M762.8 1087.4h0M763.2 1083.4h0M763.7 1089.1h0M764.2 1080.5h0M764.7 1096.4h0M765.2 1086.9h0M765.7 1087h0M766.2 1089.8h0M766.7 1079.6h0M767.2 1086.8h0M767.7 1085.6h0M768.2 1099.2h0M768.7 1095.2h0M769.2 1097.4h0M769.7 1087.1h0M770.2 1087.7h0M770.7 1092.9h0M771.2 1082.9h0M771.7 1081.5h0M772.2 1095.8h0M772.7 1089.5h0M773.2 1089.5h0M773.7 1076.9h0M774.2 1084.3h0M774.7 1084h0M775.2 1082.6h0M775.7 1088.6h0M776.2 1081.4h0M776.7 1079.9h0M777.2 1097.9h0M777.6 1089.4h0M778.1 1080.7h0M778.6 1098.9h0M779.1 1089.9h0M779.6 1088.8h0M780.1 1071.2h0M780.6 1095.4h0M781.1 1087.8h0M781.6 1094h0M782.1 1096.8h0M782.6 1079.5h0M783.1 1097.7h0M783.6 1091.8h0M784.1 1087.7h0M784.6 1073.8h0M785.1 1098.4h0M785.6 1088.9h0M786.1 1090.6h0M786.6 1080.2h0M787.1 1090.6h0M787.6 1090.4h0M788.1 1095.7h0M788.6 1081.7h0M789.1 1074.5h0M789.6 1083.4h0M790.1 1081.2h0M790.6 1088.5h0M791.1 1086h0M791.5 1088.1h0M792 1094.3h0M792.5 1096.7h0M793 1087.2h0M793.5 1077.7h0M794 1086.8h0M794.5 1085.6h0M795 1086.3h0M795.5 1085.9h0M796 1086.5h0M796.5 1074h0M797 1089.8h0M797.5 1089.5h0M798 1088.5h0M798.5 1085.8h0M799 1091.6h0M799.5 1076.7h0M800 1085.7h0M800.5 1089.7h0M801 1083.7h0M801.5 1085.8h0M802 1092.1h0M802.5 1085.2h0M803 1081.1h0M803.5 1083.4h0M804 1088.3h0M804.5 1080.1h0M805 1086.2h0M805.5 1083.8h0M805.9 1086.4h0M806.4 1090.4h0M806.9 1090.3h0M807.4 1086.5h0M807.9 1087.4h0M808.4 1090.5h0M808.9 1081.6h0M809.4 1086.9h0M809.9 1079.5h0M810.4 1093.1h0M810.9 1086.6h0M811.4 1078.7h0M811.9 1083.3h0M812.4 1090.3h0M812.9 1087.6h0M813.4 1076.6h0M813.9 1096.1h0M814.4 1087.3h0M814.9 1088.2h0M815.4 1084.3h0M815.9 1081.4h0M816.4 1077.4h0M816.9 1086.9h0M817.4 1085.9h0M817.9 1084.6h0M818.4 1090.4h0M818.9 1087.9h0M819.4 1080.2h0M819.9 1083.7h0M820.3 1092.4h0M820.8 1078.1h0M821.3 1098.2h0M821.8 1082.9h0M822.3 1100.7h0M822.8 1088.6h0M823.3 1076.9h0M823.8 1088.6h0M824.3 1086.5h0M824.8 1083.6h0M825.3 1086.3h0M825.8 1086.3h0M826.3 1067.4h0M826.8 1090.2h0M827.3 1084.3h0M827.8 1086.1h0M828.3 1090.1h0M828.8 1085.9h0M829.3 1078.9h0M829.8 1090.7h0M830.3 1084.1h0M830.8 1087.3h0M831.3 1081.8h0M831.8 1085h0M832.3 1080.2h0M832.8 1095h0M833.3 1079.8h0M833.8 1091.5h0M834.2 1075.1h0M834.7 1087.4h0M835.2 1084.2h0M835.7 1091.5h0M836.2 1087.2h0M836.7 1098.9h0M837.2 1102.8h0M837.7 1082.7h0M838.2 1089.9h0M838.7 1080.4h0M839.2 1080.3h0M839.7 1085.5h0M840.2 1091h0M840.7 1089.6h0M841.2 1084.8h0M841.7 1092.3h0M842.2 1079.1h0M842.7 1080.6h0M843.2 1085.4h0M843.7 1075.3h0M844.2 1093.6h0M844.7 1085.1h0M845.2 1083.9h0M845.7 1088.4h0M846.2 1078.1h0M846.7 1085.2h0M847.2 1076h0M847.7 1084.9h0M848.2 1086.5h0M848.6 1095.1h0M849.1 1085.9h0M849.6 1093.7h0M850.1 1085.7h0M850.6 1076.4h0M851.1 1090.2h0M851.6 1086.2h0M852.1 1082.4h0M852.6 1091.2h0M853.1 1079.6h0M853.6 1083.5h0M854.1 1089.8h0M854.6 1090.6h0M855.1 1081.9h0M855.6 1087.4h0M856.1 1086.1h0M856.6 1089.3h0M857.1 1084.3h0M857.6 1073.3h0M858.1 1083.5h0M858.6 1094.4h0M859.1 1080.7h0M859.6 1084.4h0M860.1 1090.4h0M860.6 1084.2h0M861.1 1079.2h0M861.6 1085.4h0M862.1 1084.4h0M862.5 1080.4h0M863 1084.6h0M863.5 1077.4h0M864 1076.4h0M864.5 1078.9h0M865 1084.4h0M865.5 1085.5h0M866 1081.9h0M866.5 1091.7h0M867 1088.9h0M867.5 1085.7h0M868 1092h0M868.5 1094.1h0M869 1089.5h0M869.5 1082.1h0M870 1090.4h0M870.5 1092.3h0M871 1087.8h0M871.5 1084.8h0M872 1087h0M872.5 1087.4h0M873 1074.7h0M873.5 1094.6h0M874 1085.7h0M874.5 1097h0M875 1085.8h0M875.5 1080.7h0M876 1090.2h0M876.5 1085.9h0M876.9 1090.5h0M877.4 1082.8h0M877.9 1082.7h0M878.4 1081.3h0M878.9 1081.3h0M879.4 1087.7h0M879.9 1077.8h0M880.4 1086.3h0M880.9 1091.6h0M881.4 1079.6h0M881.9 1083.8h0M882.4 1080.6h0M882.9 1082.8h0M883.4 1085.9h0M883.9 1089.1h0M884.4 1090.2h0M884.9 1081.1h0M885.4 1088.9h0M885.9 1081.3h0M886.4 1078.2h0M886.9 1079.3h0M887.4 1073.5h0M887.9 1085.1h0M888.4 1074.1h0M888.9 1086h0M889.4 1100.3h0M889.9 1079.4h0M890.4 1072.5h0M890.9 1086.9h0M891.3 1078.6h0M891.8 1084.5h0M892.3 1084.7h0M892.8 1086.1h0M893.3 1098.1h0M893.8 1086.6h0M894.3 1086.3h0M894.8 1084.2h0M895.3 1080.5h0M895.8 1081.1h0M896.3 1078.6h0M896.8 1089.8h0M897.3 1083.9h0M897.8 1088.7h0M898.3 1086.7h0M898.8 1097.9h0M899.3 1084.3h0M899.8 1088.5h0M900.3 1081.3h0M900.8 1091.6h0M901.3 1083.7h0M901.8 1085.1h0M902.3 1076.9h0M902.8 1088.2h0M903.3 1094.7h0M903.8 1092.9h0M904.3 1078.6h0M904.8 1090.2h0M905.2 1080.8h0M905.7 1075.2h0M906.2 1077.6h0M906.7 1092.3h0M907.2 1083.1h0M907.7 1077.8h0M908.2 1087h0M908.7 1086.8h0M909.2 1083.1h0M909.7 1087.8h0M910.2 1082.7h0M910.7 1092.1h0M911.2 1089.4h0M911.7 1084.4h0M912.2 1086.9h0M912.7 1090.1h0M913.2 1084.1h0M913.7 1087.8h0M914.2 1084h0M914.7 1082.8h0M915.2 1073.4h0M915.7 1077.2h0M916.2 1078.5h0M916.7 1084.8h0M917.2 1100h0M917.7 1078.8h0M918.2 1081.7h0M918.7 1076.7h0M919.2 1082h0M919.6 1082.9h0M920.1 1088.3h0M920.6 1076h0M921.1 1087.1h0M921.6 1085.6h0M922.1 1082.4h0M922.6 1076.7h0M923.1 1077.8h0M923.6 1082.9h0M924.1 1087.4h0M924.6 1083.4h0M925.1 1079.5h0M925.6 1085.7h0M926.1 1077.8h0M926.6 1088.7h0M927.1 1101.4h0M927.6 1080.6h0M928.1 1090.2h0M928.6 1078.2h0M929.1 1084.5h0M929.6 1087.2h0M930.1 1091.2h0M930.6 1084.2h0M931.1 1092.1h0M931.6 1076.5h0M932.1 1082.7h0M932.6 1084h0M933.1 1084.5h0M933.6 1083.2h0M934 1095h0M934.5 1081.7h0M935 1090h0M935.5 1086.5h0M936 1096.2h0M936.5 1082.7h0M937 1088.3h0M937.5 1087.4h0M938 1064.8h0M938.5 1086.5h0M939 1090.3h0M939.5 1093.2h0M940 1077.7h0M940.5 1082.9h0M941 1091.4h0M941.5 1077.4h0M942 1079.3h0M942.5 1087.6h0M943 1088.2h0M943.5 1092.1h0M944 1090.8h0M944.5 1085.3h0M945 1077.8h0M945.5 1080.2h0M946 1084.1h0M946.5 1086.3h0M947 1084.4h0M947.5 1088.9h0M947.9 1079.6h0M948.4 1081.5h0M948.9 1076.3h0M949.4 1096.1h0M949.9 1083.1h0M950.4 1090h0M950.9 1091.7h0M951.4 1086.2h0M951.9 1083h0M952.4 1081.1h0M952.9 1082.5h0M953.4 1073.7h0M953.9 1080.9h0M954.4 1088.7h0M954.9 1085.8h0M955.4 1089.1h0M955.9 1088.9h0M956.4 1088.3h0M956.9 1084.7h0M957.4 1085.2h0M957.9 1089.6h0M958.4 1081.8h0M958.9 1075.8h0M959.4 1089h0M959.9 1084.1h0M960.4 1090.4h0M960.9 1080h0M961.4 1073.9h0M961.9 1082.8h0M962.3 1080h0M962.8 1078h0M963.3 1093.1h0M963.8 1085.5h0M964.3 1076.7h0M964.8 1074.1h0M965.3 1083.1h0M965.8 1087.2h0M966.3 1085.4h0M966.8 1090.7h0M967.3 1085.6h0M967.8 1086.5h0M968.3 1072.2h0M968.8 1091.4h0M969.3 1080.4h0M969.8 1089.3h0M970.3 1074.3h0M970.8 1078.2h0M971.3 1090.7h0M971.8 1076.2h0M972.3 1084.6h0M972.8 1081.3h0M973.3 1094.1h0M973.8 1085.9h0M974.3 1091.4h0M974.8 1083.4h0M975.3 1073.3h0M975.8 1095.8h0M976.2 1080.1h0M976.7 1083.9h0M977.2 1083.3h0M977.7 1074h0M978.2 1087.8h0M978.7 1081.2h0M979.2 1072.8h0M979.7 1074.4h0M980.2 1069.7h0M980.7 1078.6h0M981.2 1082.1h0M981.7 1077.5h0M982.2 1083h0M982.7 1081h0M983.2 1086.2h0M983.7 1083.1h0M984.2 1082h0M984.7 1078.1h0M985.2 1075.8h0M985.7 1077.5h0M986.2 1085.2h0M986.7 1080h0M987.2 1091.8h0M987.7 1087.9h0M988.2 1074.6h0M988.7 1085.6h0M989.2 1090.4h0M989.7 1078.9h0M990.2 1090.3h0M990.6 1078.4h0M991.1 1092.4h0M991.6 1086.1h0M992.1 1081.4h0M992.6 1072.7h0M993.1 1082.1h0M993.6 1078.1h0M994.1 1085h0M994.6 1077.3h0M995.1 1085.6h0M995.6 1079.8h0M996.1 1086.2h0M996.6 1087.7h0M997.1 1083.7h0M997.6 1085.7h0M998.1 1089.3h0M998.6 1076.8h0M999.1 1086.3h0M999.6 1084.1h0M1000.1 1092.4h0M1000.6 1081.5h0M1001.1 1088.6h0M1001.6 1072.3h0M1002.1 1090.2h0M1002.6 1085.2h0M1003.1 1084.9h0M1003.6 1088h0M1004.1 1074.9h0M1004.6 1081.2h0M1005 1083h0M1005.5 1080.6h0M1006 1079.3h0M1006.5 1088.3h0M1007 1082.7h0M1007.5 1081h0M1008 1082.7h0M1008.5 1090.5h0M1009 1093.8h0M1009.5 1089h0M1010 1085.5h0M1010.5 1074.2h0M1011 1078.9h0M1011.5 1076.7h0M1012 1076.6h0M1012.5 1089.6h0M1013 1078.6h0M1013.5 1090.7h0M1014 1083h0M1014.5 1081.5h0M1015 1081h0M1015.5 1073.6h0M1016 1079.8h0M1016.5 1087.4h0M1017 1086.4h0M1017.5 1083.2h0M1018 1086.4h0M1018.5 1083.2h0M1018.9 1084.6h0M1019.4 1096.9h0M1019.9 1083h0M1020.4 1071.6h0M1020.9 1069.3h0M1021.4 1077.7h0M1021.9 1083.4h0M1022.4 1088.1h0M1022.9 1082h0M1023.4 1082.9h0M1023.9 1085.8h0M1024.4 1076.1h0M1024.9 1081.8h0M1025.4 1084.1h0M1025.9 1079.7h0M1026.4 1077h0M1026.9 1085.3h0M1027.4 1088.7h0M1027.9 1082.5h0M1028.4 1067.7h0M1028.9 1077.2h0M1029.4 1079.4h0M1029.9 1084.6h0M1030.4 1079h0M1030.9 1079.2h0M1031.4 1087.8h0M1031.9 1089.5h0M1032.4 1082.3h0M1032.9 1075.1h0M1033.3 1074.3h0M1033.8 1085.6h0M1034.3 1076.9h0M1034.8 1081.5h0M1035.3 1080.5h0M1035.8 1082.5h0M1036.3 1083.6h0M1036.8 1075.3h0M1037.3 1077.6h0M1037.8 1082.6h0M1038.3 1081.6h0M1038.8 1073.2h0M1039.3 1093.1h0M1039.8 1072.9h0M1040.3 1087.8h0M1040.8 1071.4h0M1041.3 1087.3h0M1041.8 1070.5h0M1042.3 1086.9h0M1042.8 1082.4h0M1043.3 1086.1h0M1043.8 1076.7h0M1044.3 1082.8h0M1044.8 1082.7h0M1045.3 1082.2h0M1045.8 1077.8h0M1046.3 1089.5h0M1046.8 1070.1h0M1047.3 1071.7h0M1047.7 1072.2h0M1048.2 1089.8h0M1048.7 1075.7h0M1049.2 1076.6h0M1049.7 1076.6h0M1050.2 1079.1h0M1050.7 1079.5h0M1051.2 1078.1h0M1051.7 1071.7h0M1052.2 1083.6h0M1052.7 1081h0M1053.2 1090.3h0M1053.7 1083.6h0M1054.2 1080.5h0M1054.7 1072.2h0M1055.2 1081.5h0M1055.7 1084.7h0M1056.2 1091.2h0M1056.7 1083.4h0M1057.2 1085.9h0M1057.7 1084.7h0M1058.2 1091h0M1058.7 1088h0M1059.2 1081.3h0M1059.7 1072.1h0M1060.2 1091h0M1060.7 1081.5h0M1061.2 1076h0M1061.6 1072.1h0M1062.1 1070h0M1062.6 1082.5h0M1063.1 1079.8h0M1063.6 1082.8h0M1064.1 1088.3h0M1064.6 1077.1h0M1065.1 1082.6h0M1065.6 1077.5h0M1066.1 1075.4h0M1066.6 1067h0M1067.1 1075.9h0M1067.6 1087.5h0M1068.1 1077.6h0M1068.6 1082.6h0M1069.1 1081.6h0M1069.6 1093.4h0M1070.1 1090h0M1070.6 1077h0M1071.1 1078.3h0M1071.6 1088.1h0M1072.1 1082.5h0M1072.6 1081.8h0M1073.1 1088.4h0M1073.6 1084.7h0M1074.1 1082.2h0M1074.6 1100.1h0M1075.1 1083.9h0M1075.6 1073.1h0M1076 1083.5h0M1076.5 1083.2h0M1077 1092h0M1077.5 1083.6h0M1078 1077.7h0M1078.5 1083.9h0M1079 1074h0M1079.5 1079.4h0M1080 1083.9h0M1080.5 1076.4h0M1081 1069.2h0M1081.5 1075.2h0M1082 1076.7h0M1082.5 1085.3h0M1083 1078.8h0M1083.5 1081.3h0M1084 1075.9h0M1084.5 1082.1h0M1085 1077.8h0M1085.5 1085.3h0M1086 1083.2h0M1086.5 1090.8h0M1087 1085.4h0M1087.5 1079.8h0M1088 1076.4h0M1088.5 1083.1h0M1089 1086.4h0M1089.5 1091.5h0M1089.9 1078.4h0M1090.4 1073.6h0M1090.9 1070.5h0M1091.4 1075.6h0M1091.9 1080.6h0M1092.4 1080.1h0M1092.9 1079.9h0M1093.4 1081.6h0M1093.9 1084h0M1094.4 1071.4h0M1094.9 1082.2h0M1095.4 1080.9h0M1095.9 1080.8h0M1096.4 1079.2h0M1096.9 1070.2h0M1097.4 1084.9h0M1097.9 1079h0M1098.4 1081.2h0M1098.9 1083.9h0M1099.4 1082.3h0M1099.9 1084.7h0M1100.4 1084.8h0M1100.9 1076.3h0M1101.4 1075h0M1101.9 1087.3h0M1102.4 1077.4h0M1102.9 1095.8h0M1103.4 1075.4h0M1103.9 1083.3h0M1104.3 1081.9h0M1104.8 1084h0M1105.3 1076.5h0M1105.8 1084.4h0M1106.3 1094.9h0M1106.8 1079h0M1107.3 1068.6h0M1107.8 1086.5h0M1108.3 1085.1h0M1108.8 1086.7h0M1109.3 1077.5h0M1109.8 1085.2h0M1110.3 1088.2h0M1110.8 1079.6h0M1111.3 1083h0M1111.8 1085.9h0M1112.3 1087.4h0M1112.8 1081.3h0M1113.3 1084h0M1113.8 1095.3h0M1114.3 1095.5h0M1114.8 1076.3h0M1115.3 1096.6h0M1115.8 1080.6h0M1116.3 1089.6h0M1116.8 1075.2h0M1117.3 1081.8h0M1117.8 1078.9h0M1118.3 1088.2h0M1118.7 1084.4h0M1119.2 1085.8h0M1119.7 1085.6h0M1120.2 1084.4h0M1120.7 1088.9h0M1121.2 1083.9h0M1121.7 1082.7h0M1122.2 1079.2h0M1122.7 1077.6h0M1123.2 1079.9h0M1123.7 1085.6h0M1124.2 1089.7h0M1124.7 1082.5h0M1125.2 1095.9h0M1125.7 1091.2h0M1126.2 1083.7h0M1126.7 1085.7h0M1127.2 1083.3h0M1127.7 1071.9h0M1128.2 1088.7h0M1128.7 1084.9h0M1129.2 1073h0M1129.7 1089.2h0M1130.2 1080.1h0M1130.7 1082.2h0M1131.2 1072.8h0M1131.7 1083.5h0M1132.2 1086.4h0M1132.6 1081.1h0M1133.1 1083.7h0M1133.6 1071.8h0M1134.1 1087.1h0M1134.6 1083.5h0M1135.1 1083.6h0M1135.6 1088.1h0M1136.1 1090.4h0M1136.6 1083.4h0M1137.1 1089.7h0M1137.6 1095.6h0M1138.1 1077.1h0M1138.6 1084.6h0M1139.1 1073.7h0M1139.6 1086.2h0M1140.1 1092.8h0M1140.6 1083.2h0M1141.1 1076.8h0M1141.6 1080.7h0M1142.1 1086.8h0M1142.6 1074.6h0M1143.1 1075.2h0M1143.6 1087.2h0M1144.1 1075.6h0M1144.6 1084.7h0M1145.1 1077.5h0M1145.6 1074.1h0M1146.1 1089.5h0M1146.6 1091.6h0M1147 1079.4h0M1147.5 1099.3h0M1148 1085.6h0M1148.5 1088h0M1149 1085.8h0M1149.5 1077.8h0M1150 1091.4h0M1150.5 1085.8h0M1151 1088.2h0M1151.5 1085.9h0M1152 1082.5h0M1152.5 1100.2h0M1153 1088h0M1153.5 1083.7h0M1154 1089.5h0M1154.5 1077.4h0M1155 1087.6h0M1155.5 1102.8h0M1156 1081h0M1156.5 1088.6h0M1157 1077.8h0M1157.5 1085.6h0M1158 1092.7h0M1158.5 1078.9h0M1159 1079.5h0M1159.5 1093.1h0M1160 1087.3h0M1160.5 1089.9h0M1161 1089.1h0M1161.4 1077.3h0M1161.9 1074.6h0M1162.4 1073.5h0M1162.9 1089h0M1163.4 1076.6h0M1163.9 1074.3h0M1164.4 1082.2h0M1164.9 1084.9h0M1165.4 1087.6h0M1165.9 1074.1h0M1166.4 1094.5h0M1166.9 1079.8h0M1167.4 1086.9h0M1167.9 1085.7h0M1168.4 1079.5h0M1168.9 1088.6h0M1169.4 1088.3h0M1169.9 1093.5h0M1170.4 1098.7h0M1170.9 1100.2h0M1171.4 1092.5h0M1171.9 1090.8h0M1172.4 1084h0M1172.9 1076.6h0M1173.4 1089.2h0M1173.9 1082.7h0M1174.4 1084.8h0M1174.9 1083.4h0M1175.3 1089.3h0M1175.8 1084h0M1176.3 1102.3h0M1176.8 1092.4h0M1177.3 1083.4h0M1177.8 1089.2h0M1178.3 1096.1h0M1178.8 1079h0M1179.3 1088.3h0M1179.8 1083.5h0M1180.3 1087.4h0M1180.8 1083.8h0M1181.3 1088.2h0M1181.8 1090.1h0M1182.3 1091.3h0M1182.8 1077.4h0M1183.3 1091.9h0M1183.8 1087.4h0M1184.3 1083.1h0M1184.8 1086.9h0M1185.3 1098h0M1185.8 1086.3h0M1186.3 1081.7h0M1186.8 1092.2h0M1187.3 1086.2h0M1187.8 1092.2h0M1188.3 1089.4h0M1188.8 1096.7h0M1189.3 1083.7h0M1189.7 1085.2h0M1190.2 1095.1h0M1190.7 1099.2h0M1191.2 1089.3h0M1191.7 1096h0M1192.2 1091.1h0M1192.7 1088.1h0M1193.2 1077h0M1193.7 1102.1h0M1194.2 1095.9h0M1194.7 1073h0M1195.2 1093.4h0M1195.7 1084.2h0M1196.2 1081.4h0M1196.7 1084.4h0M1197.2 1093.1h0M1197.7 1087.9h0M1198.2 1086.9h0M1198.7 1087.2h0M1199.2 1085.8h0M1199.7 1091.9h0M1200.2 1074.7h0M1200.7 1079.5h0M1201.2 1087.3h0M1201.7 1080.6h0M1202.2 1089.5h0M1202.7 1086h0M1203.2 1091.2h0M1203.6 1087.4h0M1204.1 1092.6h0M1204.6 1088.6h0M1205.1 1093.6h0M1205.6 1086.4h0M1206.1 1077.1h0M1206.6 1089h0M1207.1 1089.1h0M1207.6 1085.7h0M1208.1 1095.8h0M1208.6 1092.7h0M1209.1 1099.6h0M1209.6 1086.8h0M1210.1 1086.8h0M1210.6 1092.9h0M1211.1 1099.5h0M1211.6 1084.9h0M1212.1 1092.9h0M1212.6 1089.4h0M1213.1 1087.7h0M1213.6 1095.9h0M1214.1 1095.7h0M1214.6 1094.6h0M1215.1 1085.5h0M1215.6 1089.9h0M1216.1 1078.7h0M1216.6 1093.6h0M1217.1 1081.4h0M1217.6 1088.3h0M1218 1095.8h0M1218.5 1088.5h0M1219 1091.2h0M1219.5 1085.8h0M1220 1107.8h0M1220.5 1082.2h0M1221 1086.5h0M1221.5 1089.5h0M1222 1108.2h0M1222.5 1086.8h0M1223 1091.1h0M1223.5 1096.1h0M1224 1076.5h0M1224.5 1096.9h0M1225 1093.4h0M1225.5 1101.3h0M1226 1101.5h0M1226.5 1094.6h0M1227 1098.8h0M1227.5 1087h0M1228 1083.7h0M1228.5 1089.9h0M1229 1092.9h0M1229.5 1089.5h0M1230 1094.5h0M1230.5 1096h0M1231 1103.6h0M1231.5 1090.7h0M1232 1088.7h0M1232.4 1095.1h0M1232.9 1093.5h0M1233.4 1096h0M1233.9 1103.6h0M1234.4 1086.6h0M1234.9 1097.2h0M1235.4 1101.4h0M1235.9 1101h0M1236.4 1082.3h0M1236.9 1090.2h0M1237.4 1101.1h0M1237.9 1092.4h0M1238.4 1095.4h0M1238.9 1091.7h0M1239.4 1101.2h0M1239.9 1094.1h0M1240.4 1090.5h0M1240.9 1093.2h0M1241.4 1102h0M1241.9 1095.3h0M1242.4 1081.5h0M1242.9 1078.4h0M1243.4 1097.1h0M1243.9 1081h0M1244.4 1093.3h0M1244.9 1087.4h0M1245.4 1093.7h0M1245.9 1087.2h0M1246.3 1076h0M1246.8 1101.6h0M1247.3 1091.8h0M1247.8 1090.8h0M1248.3 1102.6h0M1248.8 1096.7h0M1249.3 1099.5h0M1249.8 1090.6h0M1250.3 1092.9h0M1250.8 1095.1h0M1251.3 1087.9h0M1251.8 1097.7h0M1252.3 1095.1h0M1252.8 1090h0M1253.3 1089.4h0M1253.8 1098.1h0M1254.3 1091.1h0M1254.8 1095h0M1255.3 1094.2h0M1255.8 1090.9h0M1256.3 1070.5h0M1256.8 1094.7h0M1257.3 1097.9h0M1257.8 1088.1h0M1258.3 1087.9h0M1258.8 1098.5h0M1259.3 1084.4h0M1259.8 1101h0M1260.3 1096.4h0M1260.7 1102h0M1261.2 1092.4h0M1261.7 1093.5h0M1262.2 1094.7h0M1262.7 1082.3h0M1263.2 1086.9h0M1263.7 1100.4h0M1264.2 1088.3h0M1264.7 1086.4h0M1265.2 1095.2h0M1265.7 1102.4h0M1266.2 1092.7h0M1266.7 1091.2h0M1267.2 1092.9h0M1267.7 1096h0M1268.2 1082.5h0M1268.7 1095.7h0M1269.2 1096h0M1269.7 1100.4h0M1270.2 1100.7h0M1270.7 1097.8h0M1271.2 1107.2h0M1271.7 1093.6h0M1272.2 1092.8h0M1272.7 1104.7h0M1273.2 1094.5h0M1273.7 1089.7h0M1274.2 1090h0M1274.6 1093.7h0M1275.1 1084.5h0M1275.6 1100.6h0M1276.1 1095.9h0M1276.6 1102.6h0M1277.1 1086.9h0M1277.6 1091.5h0M1278.1 1089.5h0M1278.6 1097.6h0M1279.1 1096.7h0M1279.6 1099.2h0M1280.1 1098.9h0M1280.6 1086.7h0M1281.1 1096h0M1281.6 1094.7h0M1282.1 1094h0M1282.6 1097.7h0M1283.1 1081.3h0M1283.6 1089.5h0M1284.1 1092.3h0M1284.6 1088.5h0M1285.1 1086.3h0M1285.6 1100.6h0M1286.1 1100.2h0M1286.6 1105.9h0M1287.1 1087.9h0M1287.6 1078.4h0M1288.1 1098.7h0M1288.6 1091.8h0M1289 1086.8h0M1289.5 1097.6h0M1290 1093.5h0M1290.5 1082.3h0M1291 1094.7h0M1291.5 1082.8h0M1292 1097.7h0M1292.5 1085.5h0M1293 1083.6h0M1293.5 1098.9h0M1294 1100.5h0M1294.5 1092.3h0M1295 1086.2h0M1295.5 1098.2h0M1296 1095h0M1296.5 1095.8h0M1297 1091.5h0M1297.5 1083.9h0M1298 1090.9h0M1298.5 1104h0M1299 1089.7h0M1299.5 1093.5h0M1300 1093.9h0M1300.5 1100.8h0M1301 1096.3h0M1301.5 1091.5h0M1302 1107.3h0M1302.5 1095.7h0M1303 1096.6h0M1303.4 1090h0M1303.9 1084.1h0M1304.4 1097.7h0M1304.9 1092.3h0M1305.4 1096.9h0M1305.9 1079.4h0M1306.4 1106.3h0M1306.9 1095h0M1307.4 1100.3h0M1307.9 1087.5h0M1308.4 1095.6h0M1308.9 1096h0M1309.4 1102.6h0M1309.9 1100.4h0M1310.4 1081h0M1310.9 1096.5h0M1311.4 1096h0M1311.9 1092.9h0M1312.4 1096.7h0M1312.9 1099.2h0M1313.4 1101.8h0M1313.9 1087.4h0M1314.4 1089.4h0M1314.9 1095.6h0M1315.4 1099.9h0M1315.9 1088.8h0M1316.4 1095.5h0M1316.9 1086.7h0M1317.3 1095.7h0M1317.8 1094.2h0M1318.3 1099h0M1318.8 1105h0M1319.3 1090.1h0M1319.8 1098.4h0M1320.3 1084.7h0M1320.8 1097.7h0M1321.3 1107.7h0M1321.8 1084.9h0M1322.3 1092h0M1322.8 1073.6h0M1323.3 1098.5h0M1323.8 1110.6h0M1324.3 1089.1h0M1324.8 1097.9h0M1325.3 1105.2h0M1325.8 1090.3h0M1326.3 1097h0M1326.8 1090.3h0M1327.3 1092.3h0M1327.8 1095.8h0M1328.3 1101.7h0M1328.8 1097.3h0M1329.3 1095.4h0M1329.8 1094.5h0M1330.3 1103.2h0M1330.8 1099.2h0M1331.3 1098.6h0M1331.7 1082.9h0M1332.2 1094.2h0M1332.7 1088.3h0M1333.2 1107.9h0M1333.7 1100.4h0M1334.2 1105.8h0M1334.7 1090h0M1335.2 1085.1h0M1335.7 1090.2h0M1336.2 1100.2h0M1336.7 1091.1h0M1337.2 1100.8h0M1337.7 1105.2h0M1338.2 1093.6h0M1338.7 1102.7h0M1339.2 1080.6h0M1339.7 1087.3h0M1340.2 1091.6h0M1340.7 1093.5h0M1341.2 1086h0M1341.7 1093.3h0M1342.2 1103.1h0M1342.7 1101.8h0M1343.2 1098.9h0M1343.7 1089.5h0M1344.2 1105.8h0M1344.7 1100.5h0M1345.2 1088.9h0M1345.7 1102.8h0M1346.1 1093.5h0M1346.6 1099.7h0M1347.1 1098.6h0M1347.6 1100.1h0M1348.1 1106.4h0M1348.6 1113.6h0M1349.1 1098.8h0M1349.6 1097h0M1350.1 1095.9h0M1350.6 1099.4h0M1351.1 1100.4h0M1351.6 1087.2h0M1352.1 1097h0M1352.6 1112.3h0M1353.1 1101.7h0M1353.6 1103.9h0M1354.1 1096h0M1354.6 1111.4h0M1355.1 1100.5h0M1355.6 1094.2h0M1356.1 1091.2h0M1356.6 1099.7h0M1357.1 1108.8h0M1357.6 1091.9h0M1358.1 1089.6h0M1358.6 1080.3h0M1359.1 1101.3h0M1359.6 1088.8h0M1360 1091.2h0M1360.5 1088.9h0M1361 1090.1h0M1361.5 1101.7h0M1362 1090.8h0M1362.5 1097.3h0M1363 1091.1h0M1363.5 1093.5h0M1364 1100.7h0M1364.5 1100.6h0M1365 1087.9h0M1365.5 1096.2h0M1366 1089.5h0M1366.5 1101h0M1367 1091.7h0" stroke="#0000ff" stroke-width="17" stroke-linecap="round" fill="none"/>
<polyline points="371.0,532.8 372.2,534.6 373.5,537.0 374.7,539.5 376.0,542.3 377.2,545.1 378.5,548.0 379.7,550.9 381.0,553.9 382.2,556.9 383.4,560.0 384.7,563.1 385.9,566.2 387.2,569.3 388.4,572.5 389.7,575.6 390.9,578.7 392.2,581.9 393.4,585.0 394.7,588.1 395.9,591.3 397.1,594.4 398.4,597.5 399.6,600.6 400.9,603.6 402.1,606.7 403.4,609.7 404.6,612.7 405.9,615.8 407.1,618.7 408.4,621.7 409.6,624.6 410.8,627.6 412.1,630.5 413.3,633.3 414.6,636.2 415.8,639.0 417.1,641.8 418.3,644.6 419.6,647.4 420.8,650.1 422.0,652.8 423.3,655.5 424.5,658.1 425.8,660.7 427.0,663.3 428.3,665.9 429.5,668.5 430.8,671.0 432.0,673.5 433.2,675.9 434.5,678.4 435.7,680.8 437.0,683.2 438.2,685.5 439.5,687.9 440.7,690.2 442.0,692.4 443.2,694.7 444.5,696.9 445.7,699.1 446.9,701.3 448.2,703.4 449.4,705.6 450.7,707.7 451.9,709.7 453.2,711.8 454.4,713.8 455.7,715.8 456.9,717.7 458.1,719.7 459.4,721.6 460.6,723.5 461.9,725.4 463.1,727.2 464.4,729.0 465.6,730.8 466.9,732.6 468.1,734.3 469.4,736.1 470.6,737.8 471.8,739.4 473.1,741.1 474.3,742.7 475.6,744.3 476.8,745.9 478.1,747.5 479.3,749.0 480.6,750.6 481.8,752.1 483.1,753.5 484.3,755.0 485.5,756.4 486.8,757.9 488.0,759.3 489.3,760.6 490.5,762.0 491.8,763.3 493.0,764.7 494.3,766.0 495.5,767.2 496.7,768.5 498.0,769.7 499.2,771.0 500.5,772.2 501.7,773.4 503.0,774.5 504.2,775.7 505.5,776.8 506.7,777.9 508.0,779.0 509.2,780.1 510.4,781.2 511.7,782.3 512.9,783.3 514.2,784.3 515.4,785.3 516.7,786.3 517.9,787.3 519.2,788.2 520.4,789.2 521.6,790.1 522.9,791.0 524.1,791.9 525.4,792.8 526.6,793.7 527.9,794.6 529.1,795.4 530.4,796.2 531.6,797.1 532.9,797.9 534.1,798.7 535.3,799.5 536.6,800.2 537.8,801.0 539.1,801.7 540.3,802.5 541.6,803.2 542.8,803.9 544.1,804.6 545.3,805.3 546.5,805.9 547.8,806.6 549.0,807.3 550.3,807.9 551.5,808.5 552.8,809.2 554.0,809.8 555.3,810.4 556.5,811.0 557.8,811.6 559.0,812.1 560.2,812.7 561.5,813.2 562.7,813.8 564.0,814.3 565.2,814.9 566.5,815.4 567.7,815.9 569.0,816.4 570.2,816.9 571.4,817.4 572.7,817.8 573.9,818.3 575.2,818.8 576.4,819.2 577.7,819.7 578.9,820.1 580.2,820.5 581.4,820.9 582.6,821.4 583.9,821.8 585.1,822.2 586.4,822.6 587.6,823.0 588.9,823.3 590.1,823.7 591.4,824.1 592.6,824.4 593.9,824.8 595.1,825.1 596.3,825.5 597.6,825.8 598.8,826.2 600.1,826.5 601.3,826.8 602.6,827.1 603.8,827.4 605.1,827.7 606.3,828.0 607.5,828.3 608.8,828.6 610.0,828.9 611.3,829.2 612.5,829.4 613.8,829.7 615.0,830.0 616.3,830.2 617.5,830.5 618.8,830.7 620.0,831.0 621.2,831.2 622.5,831.5 623.7,831.7 625.0,831.9 626.2,832.1 627.5,832.4 628.7,832.6 630.0,832.8 631.2,833.0 632.5,833.2 633.7,833.4 634.9,833.6 636.2,833.8 637.4,834.0 638.7,834.2 639.9,834.4 641.2,834.5 642.4,834.7 643.7,834.9 644.9,835.1 646.1,835.2 647.4,835.4 648.6,835.5 649.9,835.7 651.1,835.9 652.4,836.0 653.6,836.2 654.9,836.3 656.1,836.5 657.4,836.6 658.6,836.7 659.8,836.9 661.1,837.0 662.3,837.1 663.6,837.3 664.8,837.4 666.1,837.5 667.3,837.6 668.6,837.8 669.8,837.9 671.0,838.0 682.8,839.0 694.6,839.8 706.4,840.5 718.2,841.1 730.0,841.6 741.8,842.0 753.6,842.3 765.4,842.6 777.2,842.8 789.0,843.0 800.8,843.1 812.6,843.3 824.4,843.4 836.2,843.5 848.0,843.5 859.8,843.6 871.6,843.6 883.4,843.7 895.2,843.7 907.0,843.7 918.8,843.8 930.6,843.8 942.3,843.8 954.1,843.8 965.9,843.8 977.7,843.8 989.5,843.8 1001.3,843.8 1013.1,843.8 1024.9,843.8 1036.7,843.8 1048.5,843.8 1060.3,843.8 1072.1,843.8 1083.9,843.8 1095.7,843.9 1107.5,843.9 1119.3,843.9 1131.1,843.9 1142.9,843.9 1154.7,843.9 1166.5,843.9 1178.3,843.9 1190.1,843.9 1201.9,843.9 1213.7,843.9 1225.4,843.9 1237.2,843.9 1249.0,843.9 1260.8,843.9 1272.6,843.9 1284.4,843.9 1296.2,843.9 1308.0,843.9 1319.8,843.9 1331.6,843.9 1343.4,843.9 1355.2,843.9 1367.0,843.9" stroke="#000" stroke-width="9.6" fill="none" stroke-linejoin="round"/>
<polyline points="371.0,532.8 372.2,539.8 373.5,546.7 374.7,553.6 376.0,560.4 377.2,567.1 378.5,573.8 379.7,580.5 381.0,587.1 382.2,593.6 383.4,600.1 384.7,606.6 385.9,613.0 387.2,619.3 388.4,625.6 389.7,631.8 390.9,637.9 392.2,644.0 393.4,650.1 394.7,656.1 395.9,662.0 397.1,667.9 398.4,673.7 399.6,679.4 400.9,685.1 402.1,690.7 403.4,696.3 404.6,701.8 405.9,707.2 407.1,712.6 408.4,717.9 409.6,723.2 410.8,728.3 412.1,733.4 413.3,738.5 414.6,743.5 415.8,748.4 417.1,753.2 418.3,758.0 419.6,762.7 420.8,767.4 422.0,772.0 423.3,776.5 424.5,781.0 425.8,785.3 427.0,789.7 428.3,793.9 429.5,798.1 430.8,802.2 432.0,806.3 433.2,810.2 434.5,814.2 435.7,818.0 437.0,821.8 438.2,825.5 439.5,829.2 440.7,832.8 442.0,836.3 443.2,839.8 444.5,843.2 445.7,846.5 446.9,849.8 448.2,853.0 449.4,856.1 450.7,859.2 451.9,862.2 453.2,865.2 454.4,868.1 455.7,870.9 456.9,873.7 458.1,876.5 459.4,879.1 460.6,881.7 461.9,884.3 463.1,886.8 464.4,889.2 465.6,891.6 466.9,894.0 468.1,896.2 469.4,898.5 470.6,900.6 471.8,902.8 473.1,904.8 474.3,906.9 475.6,908.8 476.8,910.8 478.1,912.7 479.3,914.5 480.6,916.3 481.8,918.0 483.1,919.7 484.3,921.4 485.5,923.0 486.8,924.5 488.0,926.1 489.3,927.6 490.5,929.0 491.8,930.4 493.0,931.8 494.3,933.1 495.5,934.4 496.7,935.7 498.0,936.9 499.2,938.1 500.5,939.2 501.7,940.3 503.0,941.4 504.2,942.5 505.5,943.5 506.7,944.5 508.0,945.4 509.2,946.4 510.4,947.3 511.7,948.2 512.9,949.0 514.2,949.8 515.4,950.6 516.7,951.4 517.9,952.1 519.2,952.9 520.4,953.6 521.6,954.2 522.9,954.9 524.1,955.5 525.4,956.1 526.6,956.7 527.9,957.3 529.1,957.8 530.4,958.4 531.6,958.9 532.9,959.4 534.1,959.8 535.3,960.3 536.6,960.8 537.8,961.2 539.1,961.6 540.3,962.0 541.6,962.4 542.8,962.7 544.1,963.1 545.3,963.4 546.5,963.8 547.8,964.1 549.0,964.4 550.3,964.7 551.5,965.0 552.8,965.2 554.0,965.5 555.3,965.8 556.5,966.0 557.8,966.2 559.0,966.5 560.2,966.7 561.5,966.9 562.7,967.1 564.0,967.3 565.2,967.4 566.5,967.6 567.7,967.8 569.0,967.9 570.2,968.1 571.4,968.2 572.7,968.4 573.9,968.5 575.2,968.6 576.4,968.8 577.7,968.9 578.9,969.0 580.2,969.1 581.4,969.2 582.6,969.3 583.9,969.4 585.1,969.5 586.4,969.6 587.6,969.7 588.9,969.7 590.1,969.8 591.4,969.9 592.6,970.0 593.9,970.0 595.1,970.1 596.3,970.1 597.6,970.2 598.8,970.3 600.1,970.3 601.3,970.4 602.6,970.4 603.8,970.4 605.1,970.5 606.3,970.5 607.5,970.6 608.8,970.6 610.0,970.6 611.3,970.7 612.5,970.7 613.8,970.7 615.0,970.8 616.3,970.8 617.5,970.8 618.8,970.8 620.0,970.9 621.2,970.9 622.5,970.9 623.7,970.9 625.0,970.9 626.2,971.0 627.5,971.0 628.7,971.0 630.0,971.0 631.2,971.0 632.5,971.0 633.7,971.0 634.9,971.1 636.2,971.1 637.4,971.1 638.7,971.1 639.9,971.1 641.2,971.1 642.4,971.1 643.7,971.1 644.9,971.1 646.1,971.1 647.4,971.1 648.6,971.1 649.9,971.2 651.1,971.2 652.4,971.2 653.6,971.2 654.9,971.2 656.1,971.2 657.4,971.2 658.6,971.2 659.8,971.2 661.1,971.2 662.3,971.2 663.6,971.2 664.8,971.2 666.1,971.2 667.3,971.2 668.6,971.2 669.8,971.2 671.0,971.2 682.8,971.2 694.6,971.2 706.4,971.2 718.2,971.2 730.0,971.2 741.8,971.2 753.6,971.2 765.4,971.2 777.2,971.2 789.0,971.2 800.8,971.2 812.6,971.2 824.4,971.2 836.2,971.2 848.0,971.2 859.8,971.2 871.6,971.2 883.4,971.2 895.2,971.2 907.0,971.2 918.8,971.2 930.6,971.2 942.3,971.2 954.1,971.2 965.9,971.2 977.7,971.2 989.5,971.2 1001.3,971.2 1013.1,971.2 1024.9,971.2 1036.7,971.2 1048.5,971.2 1060.3,971.2 1072.1,971.2 1083.9,971.2 1095.7,971.2 1107.5,971.2 1119.3,971.2 1131.1,971.2 1142.9,971.2 1154.7,971.2 1166.5,971.2 1178.3,971.2 1190.1,971.2 1201.9,971.2 1213.7,971.2 1225.4,971.2 1237.2,971.2 1249.0,971.2 1260.8,971.2 1272.6,971.2 1284.4,971.2 1296.2,971.2 1308.0,971.2 1319.8,971.2 1331.6,971.2 1343.4,971.2 1355.2,971.2 1367.0,971.2" stroke="#000" stroke-width="9.6" fill="none" stroke-linejoin="round"/>
<polyline points="371.0,532.8 372.2,549.1 373.5,565.0 374.7,580.5 376.0,595.4 377.2,610.0 378.5,624.1 379.7,637.8 381.0,651.2 382.2,664.2 383.4,676.8 384.7,689.1 385.9,701.1 387.2,712.8 388.4,724.1 389.7,735.2 390.9,746.0 392.2,756.6 393.4,766.8 394.7,776.8 395.9,786.6 397.1,796.1 398.4,805.5 399.6,814.5 400.9,823.4 402.1,832.1 403.4,840.5 404.6,848.8 405.9,856.9 407.1,864.7 408.4,872.4 409.6,879.9 410.8,887.3 412.1,894.4 413.3,901.4 414.6,908.2 415.8,914.9 417.1,921.3 418.3,927.7 419.6,933.8 420.8,939.8 422.0,945.7 423.3,951.4 424.5,956.9 425.8,962.3 427.0,967.5 428.3,972.6 429.5,977.6 430.8,982.4 432.0,987.0 433.2,991.5 434.5,995.9 435.7,1000.1 437.0,1004.2 438.2,1008.2 439.5,1012.0 440.7,1015.7 442.0,1019.2 443.2,1022.6 444.5,1025.9 445.7,1029.1 446.9,1032.1 448.2,1035.0 449.4,1037.8 450.7,1040.5 451.9,1043.1 453.2,1045.5 454.4,1047.8 455.7,1050.1 456.9,1052.2 458.1,1054.2 459.4,1056.1 460.6,1057.9 461.9,1059.6 463.1,1061.2 464.4,1062.8 465.6,1064.2 466.9,1065.6 468.1,1066.9 469.4,1068.1 470.6,1069.2 471.8,1070.2 473.1,1071.2 474.3,1072.1 475.6,1073.0 476.8,1073.8 478.1,1074.5 479.3,1075.2 480.6,1075.9 481.8,1076.4 483.1,1077.0 484.3,1077.5 485.5,1077.9 486.8,1078.4 488.0,1078.7 489.3,1079.1 490.5,1079.4 491.8,1079.7 493.0,1080.0 494.3,1080.2 495.5,1080.4 496.7,1080.6 498.0,1080.8 499.2,1081.0 500.5,1081.1 501.7,1081.2 503.0,1081.4 504.2,1081.5 505.5,1081.5 506.7,1081.6 508.0,1081.7 509.2,1081.8 510.4,1081.8 511.7,1081.9 512.9,1081.9 514.2,1081.9 515.4,1082.0 516.7,1082.0 517.9,1082.0 519.2,1082.1 520.4,1082.1 521.6,1082.1 522.9,1082.1 524.1,1082.1 525.4,1082.1 526.6,1082.1 527.9,1082.1 529.1,1082.1 530.4,1082.2 531.6,1082.2 532.9,1082.2 534.1,1082.2 535.3,1082.2 536.6,1082.2 537.8,1082.2 539.1,1082.2 540.3,1082.2 541.6,1082.2 542.8,1082.2 544.1,1082.2 545.3,1082.2 546.5,1082.2 547.8,1082.2 549.0,1082.2 550.3,1082.2 551.5,1082.2 552.8,1082.2 554.0,1082.2 555.3,1082.2 556.5,1082.2 557.8,1082.2 559.0,1082.2 560.2,1082.2 561.5,1082.2 562.7,1082.2 564.0,1082.2 565.2,1082.2 566.5,1082.2 567.7,1082.2 569.0,1082.2 570.2,1082.2 571.4,1082.2 572.7,1082.2 573.9,1082.2 575.2,1082.2 576.4,1082.2 577.7,1082.2 578.9,1082.2 580.2,1082.2 581.4,1082.2 582.6,1082.2 583.9,1082.2 585.1,1082.2 586.4,1082.2 587.6,1082.2 588.9,1082.2 590.1,1082.2 591.4,1082.2 592.6,1082.2 593.9,1082.2 595.1,1082.2 596.3,1082.2 597.6,1082.2 598.8,1082.2 600.1,1082.2 601.3,1082.2 602.6,1082.2 603.8,1082.2 605.1,1082.2 606.3,1082.2 607.5,1082.2 608.8,1082.2 610.0,1082.2 611.3,1082.2 612.5,1082.2 613.8,1082.2 615.0,1082.2 616.3,1082.2 617.5,1082.2 618.8,1082.2 620.0,1082.2 621.2,1082.2 622.5,1082.2 623.7,1082.2 625.0,1082.2 626.2,1082.2 627.5,1082.2 628.7,1082.2 630.0,1082.2 631.2,1082.2 632.5,1082.2 633.7,1082.2 634.9,1082.2 636.2,1082.2 637.4,1082.2 638.7,1082.2 639.9,1082.2 641.2,1082.2 642.4,1082.2 643.7,1082.2 644.9,1082.2 646.1,1082.2 647.4,1082.2 648.6,1082.2 649.9,1082.2 651.1,1082.2 652.4,1082.2 653.6,1082.2 654.9,1082.2 656.1,1082.2 657.4,1082.2 658.6,1082.2 659.8,1082.2 661.1,1082.2 662.3,1082.2 663.6,1082.2 664.8,1082.2 666.1,1082.2 667.3,1082.2 668.6,1082.2 669.8,1082.2 671.0,1082.2 682.8,1082.2 694.6,1082.2 706.4,1082.2 718.2,1082.2 730.0,1082.2 741.8,1082.2 753.6,1082.2 765.4,1082.2 777.2,1082.2 789.0,1082.2 800.8,1082.2 812.6,1082.2 824.4,1082.2 836.2,1082.2 848.0,1082.2 859.8,1082.2 871.6,1082.2 883.4,1082.2 895.2,1082.2 907.0,1082.2 918.8,1082.2 930.6,1082.2 942.3,1082.2 954.1,1082.2 965.9,1082.2 977.7,1082.2 989.5,1082.2 1001.3,1082.2 1013.1,1082.2 1024.9,1082.2 1036.7,1082.2 1048.5,1082.2 1060.3,1082.2 1072.1,1082.2 1083.9,1082.2 1095.7,1082.2 1107.5,1082.2 1119.3,1082.2 1131.1,1082.2 1142.9,1082.2 1154.7,1082.2 1166.5,1082.2 1178.3,1082.2 1190.1,1082.2 1201.9,1082.2 1213.7,1082.2 1225.4,1082.2 1237.2,1082.2 1249.0,1082.2 1260.8,1082.2 1272.6,1082.2 1284.4,1082.2 1296.2,1082.2 1308.0,1082.2 1319.8,1082.2 1331.6,1082.2 1343.4,1082.2 1355.2,1082.2 1367.0,1082.2" stroke="#000" stroke-width="9.6" fill="none" stroke-linejoin="round"/>
<rect x="365" y="398.3" width="12" height="781.7"/>
<rect x="1362" y="398.3" width="10" height="781.7"/>
<rect x="365" y="398.3" width="1007" height="11.9"/>
<rect x="365" y="1170.7" width="1007" height="9.3"/>
<rect x="613.7" y="410.2" width="12.6" height="48"/>
<rect x="614.0" y="1124.7" width="12" height="46"/>
<rect x="862.7" y="410.2" width="12.6" height="48"/>
<rect x="863.0" y="1124.7" width="12" height="46"/>
<rect x="1111.7" y="410.2" width="12.6" height="48"/>
<rect x="1112.0" y="1124.7" width="12" height="46"/>
<rect x="377" y="526.8" width="46.6" height="12"/>
<rect x="377" y="848.1" width="46.6" height="12"/>
<text x="321.5" y="556.3" font-size="72" text-anchor="end"> </text>
<path transform="matrix(0.03516 0 0 -0.03516 281.45 556.3)" d="M763 0L595 0L595 1150L232 955L232 1090L640 1472L763 1472Z"/>
<text x="321.5" y="877.6" font-size="72" text-anchor="end">0.75</text>
<text x="321.5" y="1198.8" font-size="72" text-anchor="end">0.5</text>
<text x="1276" y="599" font-size="71" text-anchor="end">5 mM MES</text>
<text transform="translate(85.7 790.3) rotate(-90)" x="0" y="0" font-size="71" text-anchor="middle">Normalized Intensity</text>
<path d="M374 1338.2h0M374.5 1346.8h0M375 1341.6h0M375.5 1345.7h0M376 1349.4h0M376.5 1344.4h0M376.9 1346.4h0M377.4 1351.9h0M377.9 1361.5h0M378.4 1354h0M378.9 1355.8h0M379.4 1353.1h0M379.9 1353.7h0M380.4 1363.2h0M380.9 1351.7h0M381.4 1352.9h0M381.9 1366.6h0M382.4 1354.3h0M382.9 1352.4h0M383.4 1363.9h0M383.8 1368.2h0M384.3 1374.2h0M384.8 1378.3h0M385.3 1350.3h0M385.8 1364.8h0M386.3 1365h0M386.8 1370.7h0M387.3 1363.3h0M387.8 1370.5h0M388.3 1373.2h0M388.8 1373.7h0M389.3 1367.1h0M389.8 1376.1h0M390.2 1368.8h0M390.7 1369.9h0M391.2 1375.4h0M391.7 1384.7h0M392.2 1363.6h0M392.7 1380h0M393.2 1392.7h0M393.7 1383.8h0M394.2 1379.2h0M394.7 1386.8h0M395.2 1399.1h0M395.7 1385.2h0M396.2 1381.6h0M396.7 1395.4h0M397.1 1387.4h0M397.6 1384.5h0M398.1 1399.3h0M398.6 1385.1h0M399.1 1391h0M399.6 1407.3h0M400.1 1397.3h0M400.6 1409h0M401.1 1380.6h0M401.6 1384.2h0M402.1 1392.2h0M402.6 1399.6h0M403.1 1382.6h0M403.6 1405.1h0M404 1398.3h0M404.5 1399.5h0M405 1406.2h0M405.5 1404.2h0M406 1395.1h0M406.5 1406.4h0M407 1396.9h0M407.5 1425.3h0M408 1406.8h0M408.5 1409.9h0M409 1406.5h0M409.5 1415.2h0M410 1418.5h0M410.5 1415.4h0M410.9 1405.7h0M411.4 1431.9h0M411.9 1419.6h0M412.4 1398.5h0M412.9 1394.9h0M413.4 1409.1h0M413.9 1409.5h0M414.4 1404.2h0M414.9 1413.7h0M415.4 1430.7h0M415.9 1443.3h0M416.4 1431.4h0M416.9 1433.9h0M417.4 1445.2h0M417.8 1459.8h0M418.3 1447.5h0M418.8 1441.4h0M419.3 1432.7h0M419.8 1422h0M420.3 1442.1h0M420.8 1453.5h0M421.3 1442.5h0M421.8 1431.8h0M422.3 1448.3h0M422.8 1440h0M423.3 1433.7h0M423.8 1415.1h0M424.3 1451.7h0M424.7 1435.5h0M425.2 1462.6h0M425.7 1437.6h0M426.2 1449h0M426.7 1440.5h0M427.2 1475.8h0M427.7 1470.9h0M428.2 1451.4h0M428.7 1474.1h0M429.2 1434.6h0M429.7 1464.4h0M430.2 1446.8h0M430.7 1454.2h0M431.1 1450.1h0M431.6 1467.5h0M432.1 1430.9h0M432.6 1452.7h0M433.1 1482.9h0M433.6 1425.4h0M434.1 1459.4h0M434.6 1441.9h0M435.1 1420.9h0M435.6 1472.1h0M436.1 1458.4h0M436.6 1488.5h0M437.1 1437h0M437.6 1475.5h0M438 1497h0M438.5 1439.4h0M439 1483h0M439.5 1484.8h0M440 1477.3h0M440.5 1499.1h0M441 1487.4h0M441.5 1463.9h0M442 1463.8h0M442.5 1475.9h0M443 1508.7h0M443.5 1477.7h0M444 1497.2h0M444.5 1479.3h0M444.9 1494.3h0M445.4 1493.6h0M445.9 1507.4h0M446.4 1519.6h0M446.9 1477.9h0M447.4 1467.2h0M447.9 1487.9h0M448.4 1489.8h0M448.9 1496.4h0M449.4 1510.8h0M449.9 1486.4h0M450.4 1495.1h0M450.9 1496.4h0M451.4 1516.9h0M451.8 1490.9h0M452.3 1520.7h0M452.8 1534.7h0M453.3 1498h0M453.8 1527.7h0M454.3 1513.6h0M454.8 1504.2h0M455.3 1541h0M455.8 1528.8h0M456.3 1503.4h0M456.8 1519.4h0M457.3 1499.6h0M457.8 1488.8h0M458.3 1530.8h0M458.7 1514.3h0M459.2 1542.8h0M459.7 1519.1h0M460.2 1522.1h0M460.7 1516.8h0M461.2 1522.4h0M461.7 1507.9h0M462.2 1518h0M462.7 1494.6h0M463.2 1494.6h0M463.7 1502.9h0M464.2 1515.8h0M464.7 1525.3h0M465.2 1524.9h0M465.6 1547.2h0M466.1 1568.3h0M466.6 1493h0M467.1 1554.1h0M467.6 1547.1h0M468.1 1524.8h0M468.6 1537h0M469.1 1506h0M469.6 1533.1h0M470.1 1561.3h0M470.6 1520.7h0M471.1 1530h0M471.6 1541h0M472 1550h0M472.5 1541h0M473 1532.8h0M473.5 1550.9h0M474 1532.9h0M474.5 1578h0M475 1561.2h0M475.5 1544.6h0M476 1531.3h0M476.5 1535.3h0M477 1533.2h0M477.5 1539.6h0M478 1551.4h0M478.5 1526.1h0M478.9 1548.3h0M479.4 1546.4h0M479.9 1532.4h0M480.4 1566.3h0M480.9 1554.6h0M481.4 1552.7h0M481.9 1539.7h0M482.4 1537.7h0M482.9 1549.6h0M483.4 1527.5h0M483.9 1555.2h0M484.4 1533.2h0M484.9 1550.2h0M485.4 1560.9h0M485.8 1547.3h0M486.3 1542h0M486.8 1540.8h0M487.3 1554.5h0M487.8 1536.1h0M488.3 1552.3h0M488.8 1567.9h0M489.3 1525.6h0M489.8 1542.3h0M490.3 1558.5h0M490.8 1538.2h0M491.3 1539.5h0M491.8 1537.1h0M492.3 1568.5h0M492.7 1524.1h0M493.2 1554.4h0M493.7 1553.5h0M494.2 1557.1h0M494.7 1545.5h0M495.2 1558.6h0M495.7 1550.1h0M496.2 1545.3h0M496.7 1596.8h0M497.2 1573.7h0M497.7 1542.9h0M498.2 1548.9h0M498.7 1566.2h0M499.2 1581.4h0M499.6 1557.5h0M500.1 1571.3h0M500.6 1564h0M501.1 1578.8h0M501.6 1553.7h0M502.1 1550.7h0M502.6 1566.5h0M503.1 1566.8h0M503.6 1563.8h0M504.1 1581.6h0M504.6 1574h0M505.1 1565.8h0M505.6 1547.1h0M506.1 1575h0M506.5 1577.9h0M507 1555.9h0M507.5 1564.5h0M508 1549.7h0M508.5 1568.2h0M509 1563.4h0M509.5 1540.7h0M510 1567.3h0M510.5 1562.7h0M511 1562.9h0M511.5 1583.6h0M512 1575.7h0M512.5 1581.8h0M512.9 1564.3h0M513.4 1589.4h0M513.9 1558.3h0M514.4 1580.9h0M514.9 1548.2h0M515.4 1573.8h0M515.9 1555.8h0M516.4 1549.6h0M516.9 1581.3h0M517.4 1574.5h0M517.9 1579.3h0M518.4 1572.8h0M518.9 1576.4h0M519.4 1572.2h0M519.8 1570.6h0M520.3 1575h0M520.8 1608h0M521.3 1559.7h0M521.8 1553.1h0M522.3 1562.4h0M522.8 1566.8h0M523.3 1585.4h0M523.8 1594.5h0M524.3 1595.9h0M524.8 1576.4h0M525.3 1591h0M525.8 1608.6h0M526.3 1591.3h0M526.7 1601.9h0M527.2 1568.9h0M527.7 1597.1h0M528.2 1596.5h0M528.7 1567.1h0M529.2 1586.5h0M529.7 1595.8h0M530.2 1574h0M530.7 1601.2h0M531.2 1602.9h0M531.7 1593.5h0M532.2 1588.1h0M532.7 1587.4h0M533.2 1596.5h0M533.6 1608.2h0M534.1 1572h0M534.6 1595.5h0M535.1 1597h0M535.6 1581h0M536.1 1575.3h0M536.6 1591.7h0M537.1 1570.6h0M537.6 1599.4h0M538.1 1592.5h0M538.6 1580.9h0M539.1 1597.9h0M539.6 1585.7h0M540.1 1588.2h0M540.5 1616.9h0M541 1588.5h0M541.5 1562.6h0M542 1605.6h0M542.5 1586.2h0M543 1588.9h0M543.5 1625.7h0M544 1602.3h0M544.5 1616.1h0M545 1583.9h0M545.5 1589.6h0M546 1593.1h0M546.5 1616.8h0M547 1596.7h0M547.4 1578.5h0M547.9 1618.9h0M548.4 1600.5h0M548.9 1610.1h0M549.4 1620.7h0M549.9 1642.1h0M550.4 1609.9h0M550.9 1634.6h0M551.4 1591.2h0M551.9 1614.6h0M552.4 1617.2h0M552.9 1580.3h0M553.4 1599.2h0M553.8 1603.6h0M554.3 1622.3h0M554.8 1608.2h0M555.3 1609.8h0M555.8 1606.5h0M556.3 1623.9h0M556.8 1616.8h0M557.3 1617.1h0M557.8 1615.3h0M558.3 1629.5h0M558.8 1609.4h0M559.3 1620.2h0M559.8 1621.4h0M560.3 1627.4h0M560.7 1637.3h0M561.2 1628h0M561.7 1603.7h0M562.2 1638.9h0M562.7 1642.8h0M563.2 1644.2h0M563.7 1638.8h0M564.2 1603.5h0M564.7 1625.3h0M565.2 1639.6h0M565.7 1640.5h0M566.2 1627.6h0M566.7 1631.4h0M567.2 1613.9h0M567.6 1636.5h0M568.1 1600.4h0M568.6 1628.4h0M569.1 1646.4h0M569.6 1615h0M570.1 1652.1h0M570.6 1662.4h0M571.1 1641.1h0M571.6 1625.7h0M572.1 1626.3h0M572.6 1615.5h0M573.1 1644.2h0M573.6 1617h0M574.1 1636.2h0M574.5 1617.2h0M575 1641.3h0M575.5 1612.9h0M576 1631.5h0M576.5 1622.6h0M577 1648.3h0M577.5 1627.3h0M578 1630.7h0M578.5 1649.8h0M579 1616.6h0M579.5 1614.6h0M580 1631.9h0M580.5 1617.6h0M581 1657.4h0M581.4 1634.6h0M581.9 1636.3h0M582.4 1627.5h0M582.9 1585.8h0M583.4 1651.1h0M583.9 1630.4h0M584.4 1602.1h0M584.9 1616h0M585.4 1631.5h0M585.9 1650.2h0M586.4 1636.8h0M586.9 1637.1h0M587.4 1636.5h0M587.9 1618.3h0M588.3 1621.7h0M588.8 1631.7h0M589.3 1611.6h0M589.8 1631.8h0M590.3 1641.1h0M590.8 1596.2h0M591.3 1627.7h0M591.8 1626.9h0M592.3 1632.3h0M592.8 1656.7h0M593.3 1610.2h0M593.8 1659.3h0M594.3 1640.6h0M594.7 1667.2h0M595.2 1624.9h0M595.7 1635.7h0M596.2 1628.4h0M596.7 1637.6h0M597.2 1616.8h0M597.7 1618.3h0M598.2 1627.3h0M598.7 1639.3h0M599.2 1610.3h0M599.7 1624.6h0M600.2 1620.1h0M600.7 1633.7h0M601.2 1641.5h0M601.6 1607h0M602.1 1614h0M602.6 1623.7h0M603.1 1613.7h0M603.6 1649.6h0M604.1 1653.6h0M604.6 1639.5h0M605.1 1635.9h0M605.6 1611.7h0M606.1 1613.7h0M606.6 1634.1h0M607.1 1649.8h0M607.6 1622.4h0M608.1 1631.7h0M608.5 1651.3h0M609 1653h0M609.5 1612.3h0M610 1631.1h0M610.5 1638h0M611 1602.3h0M611.5 1619.5h0M612 1629.3h0M612.5 1618.4h0M613 1633.9h0M613.5 1620.3h0M614 1600.3h0M614.5 1607h0M615 1593.7h0M615.4 1605.7h0M615.9 1634h0M616.4 1629.7h0M616.9 1633h0M617.4 1644.9h0M617.9 1608.8h0M618.4 1618.5h0M618.9 1627.8h0M619.4 1650.9h0M619.9 1630.4h0M620.4 1624.3h0M620.9 1630.8h0M621.4 1613h0M621.9 1597.3h0M622.3 1633.7h0M622.8 1620.4h0M623.3 1633.4h0M623.8 1609.2h0M624.3 1613.6h0M624.8 1638.3h0M625.3 1630.2h0M625.8 1641.3h0M626.3 1617.3h0M626.8 1628.5h0M627.3 1637.8h0M627.8 1641h0M628.3 1627.1h0M628.8 1632.1h0M629.2 1626.7h0M629.7 1625.9h0M630.2 1627.2h0M630.7 1634.9h0M631.2 1608.4h0M631.7 1627.7h0M632.2 1613.1h0M632.7 1628.5h0M633.2 1624.5h0M633.7 1630.9h0M634.2 1624.5h0M634.7 1626h0M635.2 1607.7h0M635.6 1648.9h0M636.1 1608.1h0M636.6 1600.3h0M637.1 1633.5h0M637.6 1637.1h0M638.1 1627.1h0M638.6 1623.6h0M639.1 1611.6h0M639.6 1656h0M640.1 1603.3h0M640.6 1663.2h0M641.1 1605.3h0M641.6 1613.6h0M642.1 1625.2h0M642.5 1622.3h0M643 1636.2h0M643.5 1616.4h0M644 1624h0M644.5 1605.7h0M645 1646.8h0M645.5 1624.9h0M646 1618.3h0M646.5 1629.9h0M647 1643.2h0M647.5 1635.3h0M648 1619.4h0M648.5 1632.4h0M649 1635.3h0M649.4 1636.6h0M649.9 1626h0M650.4 1640.7h0M650.9 1614.4h0M651.4 1632.7h0M651.9 1618.9h0M652.4 1632h0M652.9 1622.6h0M653.4 1641.4h0M653.9 1625.5h0M654.4 1649.1h0M654.9 1617.8h0M655.4 1646.9h0M655.9 1619.2h0M656.3 1595.1h0M656.8 1617.1h0M657.3 1644.8h0M657.8 1634.9h0M658.3 1639.2h0M658.8 1626.3h0M659.3 1637.1h0M659.8 1617.4h0M660.3 1657.8h0M660.8 1655.9h0M661.3 1639.1h0M661.8 1624h0M662.3 1623h0M662.8 1641.9h0M663.2 1638.1h0M663.7 1619.6h0M664.2 1644h0M664.7 1646h0M665.2 1641.5h0M665.7 1639.3h0M666.2 1637h0M666.7 1633.6h0M667.2 1629.3h0M667.7 1624.8h0M668.2 1652h0M668.7 1611.1h0M669.2 1635.7h0M669.7 1646.7h0M670.1 1668h0M670.6 1629h0M671.1 1654.5h0M671.6 1653.2h0M672.1 1648.4h0M672.6 1661.8h0M673.1 1610.2h0M673.6 1649.4h0M674.1 1633.5h0M674.6 1641.6h0M675.1 1633.2h0M675.6 1622.8h0M676.1 1607.7h0M676.5 1641.5h0M677 1631.7h0M677.5 1615.6h0M678 1633.3h0M678.5 1618.8h0M679 1622.2h0M679.5 1637.7h0M680 1646.5h0M680.5 1606.3h0M681 1633.6h0M681.5 1643.7h0M682 1616.1h0M682.5 1630.1h0M683 1639.4h0M683.4 1648.4h0M683.9 1617.6h0M684.4 1610.5h0M684.9 1625.3h0M685.4 1626.9h0M685.9 1633.8h0M686.4 1635h0M686.9 1605.6h0M687.4 1644.9h0M687.9 1609.6h0M688.4 1639.3h0M688.9 1641.6h0M689.4 1640.4h0M689.9 1638.7h0M690.3 1639.5h0M690.8 1622.6h0M691.3 1622h0M691.8 1665.7h0M692.3 1657.8h0M692.8 1654.4h0M693.3 1646.7h0M693.8 1610.9h0M694.3 1662.3h0M694.8 1631.3h0M695.3 1634.2h0M695.8 1645.9h0M696.3 1624.6h0M696.8 1654h0M697.2 1598.7h0M697.7 1652.8h0M698.2 1642.3h0M698.7 1621.9h0M699.2 1647.2h0M699.7 1651.9h0M700.2 1646.5h0M700.7 1648.6h0M701.2 1631h0M701.7 1650.3h0M702.2 1650.4h0M702.7 1653.8h0M703.2 1644.6h0M703.7 1609.8h0M704.1 1642.6h0M704.6 1615.1h0M705.1 1623h0M705.6 1632.5h0M706.1 1636.9h0M706.6 1629.9h0M707.1 1639.1h0M707.6 1641.7h0M708.1 1636.8h0M708.6 1635.2h0M709.1 1639.2h0M709.6 1644.2h0M710.1 1620.1h0M710.6 1611.5h0M711 1649.5h0M711.5 1635.6h0M712 1599.1h0M712.5 1650.1h0M713 1650.5h0M713.5 1606.2h0M714 1615.8h0M714.5 1625.7h0M715 1615.2h0M715.5 1624h0M716 1632.4h0M716.5 1648.1h0M717 1596.4h0M717.4 1634.8h0M717.9 1649.8h0M718.4 1597.1h0M718.9 1638.3h0M719.4 1632.6h0M719.9 1625.1h0M720.4 1645.1h0M720.9 1653.6h0M721.4 1650.3h0M721.9 1664.5h0M722.4 1623.2h0M722.9 1603.1h0M723.4 1626h0M723.9 1636.5h0M724.3 1651.5h0M724.8 1642.1h0M725.3 1625.1h0M725.8 1654.6h0M726.3 1640.9h0M726.8 1637.7h0M727.3 1631.2h0M727.8 1640.4h0M728.3 1642.9h0M728.8 1634.7h0M729.3 1598.5h0M729.8 1621.2h0M730.3 1640.9h0M730.8 1657.9h0M731.2 1652.1h0M731.7 1651.1h0M732.2 1660.6h0M732.7 1644.8h0M733.2 1654.6h0M733.7 1650h0M734.2 1638.4h0M734.7 1621.5h0M735.2 1610.4h0M735.7 1641.5h0M736.2 1616.4h0M736.7 1633.4h0M737.2 1646h0M737.7 1624.3h0M738.1 1648.7h0M738.6 1636.1h0M739.1 1621.7h0M739.6 1643.9h0M740.1 1646h0M740.6 1627.9h0M741.1 1642.8h0M741.6 1618.3h0M742.1 1637.1h0M742.6 1639.8h0M743.1 1619.8h0M743.6 1636.9h0M744.1 1657.1h0M744.6 1625.7h0M745 1618.3h0M745.5 1613.8h0M746 1623.7h0M746.5 1618.7h0M747 1610.4h0M747.5 1636.9h0M748 1640.4h0M748.5 1620.7h0M749 1636.4h0M749.5 1649.6h0M750 1640.9h0M750.5 1638.3h0M751 1645.8h0M751.5 1625.7h0M751.9 1649h0M752.4 1663.7h0M752.9 1625.8h0M753.4 1607.3h0M753.9 1624.7h0M754.4 1620.5h0M754.9 1639h0M755.4 1653.9h0M755.9 1644.3h0M756.4 1661.7h0M756.9 1642.6h0M757.4 1637h0M757.9 1606.6h0M758.3 1641.7h0M758.8 1626.2h0M759.3 1627.7h0M759.8 1631.7h0M760.3 1660h0M760.8 1648.8h0M761.3 1636.1h0M761.8 1614.3h0M762.3 1629.3h0M762.8 1631.7h0M763.3 1648.8h0M763.8 1643.8h0M764.3 1643.5h0M764.8 1621.4h0M765.2 1649.8h0M765.7 1676h0M766.2 1614.4h0M766.7 1619.8h0M767.2 1636.3h0M767.7 1649.9h0M768.2 1639h0M768.7 1636.6h0M769.2 1657.3h0M769.7 1618.9h0M770.2 1604.2h0M770.7 1612.1h0M771.2 1647.1h0M771.7 1649.3h0M772.1 1629.2h0M772.6 1613.3h0M773.1 1621.9h0M773.6 1640.6h0M774.1 1649.5h0M774.6 1625.5h0M775.1 1622.4h0M775.6 1621h0M776.1 1625.6h0M776.6 1644.9h0M777.1 1637.6h0M777.6 1640.2h0M778.1 1636.5h0M778.6 1637.9h0M779 1615.4h0M779.5 1619.1h0M780 1640.3h0M780.5 1641.2h0M781 1651.5h0M781.5 1634.2h0M782 1622.4h0M782.5 1632.5h0M783 1632h0M783.5 1643.7h0M784 1633.3h0M784.5 1643.7h0M785 1644.3h0M785.5 1644.4h0M785.9 1645.3h0M786.4 1621.7h0M786.9 1654h0M787.4 1661.9h0M787.9 1649.9h0M788.4 1661.8h0M788.9 1644.4h0M789.4 1630.1h0M789.9 1646.5h0M790.4 1638.1h0M790.9 1636.8h0M791.4 1662.9h0M791.9 1625.7h0M792.4 1656h0M792.8 1630.8h0M793.3 1613.4h0M793.8 1650.5h0M794.3 1641.3h0M794.8 1643.1h0M795.3 1643.8h0M795.8 1656.5h0M796.3 1645.8h0M796.8 1636.8h0M797.3 1639.5h0M797.8 1647.7h0M798.3 1632.9h0M798.8 1647h0M799.2 1611.1h0M799.7 1639.6h0M800.2 1641.2h0M800.7 1652h0M801.2 1625.5h0M801.7 1638.5h0M802.2 1648.4h0M802.7 1683.7h0M803.2 1644.5h0M803.7 1650.9h0M804.2 1633.9h0M804.7 1673.8h0M805.2 1638.7h0M805.7 1638.5h0M806.1 1644.2h0M806.6 1622.8h0M807.1 1627.1h0M807.6 1636.7h0M808.1 1630h0M808.6 1656.3h0M809.1 1634.5h0M809.6 1674.7h0M810.1 1645.8h0M810.6 1631.1h0M811.1 1644.2h0M811.6 1652.1h0M812.1 1641.9h0M812.6 1648.3h0M813 1638.4h0M813.5 1630.3h0M814 1640.3h0M814.5 1667.3h0M815 1635.8h0M815.5 1640.7h0M816 1619.2h0M816.5 1632h0M817 1646.4h0M817.5 1636.5h0M818 1658.5h0M818.5 1655.7h0M819 1635h0M819.5 1640h0M819.9 1651.2h0M820.4 1646.9h0M820.9 1637.2h0M821.4 1614.8h0M821.9 1661.8h0M822.4 1642.1h0M822.9 1644.2h0M823.4 1631.5h0M823.9 1663.6h0M824.4 1640.3h0M824.9 1644.5h0M825.4 1612.5h0M825.9 1635.2h0M826.4 1641.1h0M826.8 1647.6h0M827.3 1652h0M827.8 1639h0M828.3 1656.9h0M828.8 1640.1h0M829.3 1639.5h0M829.8 1641.9h0M830.3 1617.5h0M830.8 1609.6h0M831.3 1668.6h0M831.8 1616.5h0M832.3 1633h0M832.8 1650.4h0M833.3 1632.1h0M833.7 1658.1h0M834.2 1613.3h0M834.7 1643.8h0M835.2 1650.9h0M835.7 1673.8h0M836.2 1663.5h0M836.7 1631.4h0M837.2 1654.6h0M837.7 1646.1h0M838.2 1624.4h0M838.7 1634.6h0M839.2 1657.4h0M839.7 1637.8h0M840.1 1628.2h0M840.6 1633h0M841.1 1623.7h0M841.6 1619.1h0M842.1 1647.4h0M842.6 1648.8h0M843.1 1657.3h0M843.6 1619.6h0M844.1 1625.7h0M844.6 1648.2h0M845.1 1644.2h0M845.6 1639.5h0M846.1 1624.7h0M846.6 1637.6h0M847 1621.5h0M847.5 1664.5h0M848 1652.4h0M848.5 1627.8h0M849 1660.2h0M849.5 1627.2h0M850 1650.6h0M850.5 1644.6h0M851 1636.4h0M851.5 1661.9h0M852 1618.2h0M852.5 1637.5h0M853 1637.5h0M853.5 1616.3h0M853.9 1620.4h0M854.4 1644.2h0M854.9 1646.1h0M855.4 1627.9h0M855.9 1650.6h0M856.4 1649.3h0M856.9 1653.8h0M857.4 1639.1h0M857.9 1641.3h0M858.4 1651.6h0M858.9 1634.7h0M859.4 1630.8h0M859.9 1625.4h0M860.4 1650.4h0M860.8 1661.5h0M861.3 1616.5h0M861.8 1639.4h0M862.3 1654.2h0M862.8 1665.4h0M863.3 1648h0M863.8 1632.5h0M864.3 1654.8h0M864.8 1678.1h0M865.3 1650.4h0M865.8 1655.3h0M866.3 1670.3h0M866.8 1624.1h0M867.3 1657.3h0M867.7 1667.2h0M868.2 1660.4h0M868.7 1648.9h0M869.2 1641.2h0M869.7 1638.4h0M870.2 1627.7h0M870.7 1639.3h0M871.2 1629.5h0M871.7 1645.1h0M872.2 1643.4h0M872.7 1638.2h0M873.2 1640.7h0M873.7 1647.4h0M874.2 1628.9h0M874.6 1655.6h0M875.1 1649.2h0M875.6 1655.1h0M876.1 1642h0M876.6 1643.9h0M877.1 1648.9h0M877.6 1648.5h0M878.1 1641.4h0M878.6 1642.3h0M879.1 1639.6h0M879.6 1641.8h0M880.1 1636.5h0M880.6 1635.8h0M881 1633.1h0M881.5 1666.8h0M882 1637.8h0M882.5 1645.9h0M883 1633.4h0M883.5 1649.5h0M884 1664.8h0M884.5 1637.2h0M885 1649.8h0M885.5 1646.6h0M886 1659.9h0M886.5 1646.6h0M887 1646.3h0M887.5 1644.5h0M887.9 1620.3h0M888.4 1662h0M888.9 1671.4h0M889.4 1636.3h0M889.9 1660.3h0M890.4 1648.3h0M890.9 1668.9h0M891.4 1641h0M891.9 1654.9h0M892.4 1667.4h0M892.9 1656.6h0M893.4 1651.9h0M893.9 1648.5h0M894.4 1640.6h0M894.8 1651.2h0M895.3 1635.8h0M895.8 1672.8h0M896.3 1657.5h0M896.8 1647.6h0M897.3 1628.6h0M897.8 1664.8h0M898.3 1668.8h0M898.8 1656.4h0M899.3 1662.6h0M899.8 1662.6h0M900.3 1649.9h0M900.8 1646.8h0M901.3 1652.2h0M901.7 1668.1h0M902.2 1642.7h0M902.7 1628.7h0M903.2 1652.4h0M903.7 1652.3h0M904.2 1649.5h0M904.7 1653.2h0M905.2 1634.4h0M905.7 1638.8h0M906.2 1645.3h0M906.7 1649.8h0M907.2 1657.8h0M907.7 1660.9h0M908.2 1653.5h0M908.6 1648.8h0M909.1 1637.1h0M909.6 1644.2h0M910.1 1628.9h0M910.6 1640.7h0M911.1 1656.4h0M911.6 1658.4h0M912.1 1636.5h0M912.6 1666.9h0M913.1 1617.9h0M913.6 1657.9h0M914.1 1650.5h0M914.6 1648.3h0M915.1 1656.1h0M915.5 1644.8h0M916 1681.8h0M916.5 1644.2h0M917 1645.9h0M917.5 1654.9h0M918 1623.4h0M918.5 1648.8h0M919 1631.1h0M919.5 1669.4h0M920 1643.7h0M920.5 1648.8h0M921 1626h0M921.5 1675.8h0M921.9 1626.6h0M922.4 1630.3h0M922.9 1640.2h0M923.4 1619h0M923.9 1632h0M924.4 1644.6h0M924.9 1665.1h0M925.4 1665.8h0M925.9 1634.2h0M926.4 1642.4h0M926.9 1659.7h0M927.4 1666.8h0M927.9 1638.6h0M928.4 1646.7h0M928.8 1650.2h0M929.3 1652.3h0M929.8 1646.9h0M930.3 1675.5h0M930.8 1647.4h0M931.3 1667.3h0M931.8 1658.2h0M932.3 1700.2h0M932.8 1671.7h0M933.3 1624.2h0M933.8 1660.1h0M934.3 1622.4h0M934.8 1670.1h0M935.3 1647h0M935.7 1621.5h0M936.2 1637.2h0M936.7 1646.3h0M937.2 1671.3h0M937.7 1652.5h0M938.2 1657.9h0M938.7 1641.7h0M939.2 1644.2h0M939.7 1629.9h0M940.2 1645.2h0M940.7 1646.8h0M941.2 1649.6h0M941.7 1638.7h0M942.2 1647.2h0M942.6 1643.8h0M943.1 1653.6h0M943.6 1641h0M944.1 1641.4h0M944.6 1637.3h0M945.1 1640h0M945.6 1645.6h0M946.1 1635.2h0M946.6 1667.2h0M947.1 1664.1h0M947.6 1654.8h0M948.1 1660.4h0M948.6 1632.4h0M949.1 1640.7h0M949.5 1643.1h0M950 1653.1h0M950.5 1661.2h0M951 1662h0M951.5 1629.3h0M952 1649.2h0M952.5 1665.8h0M953 1646.4h0M953.5 1656.7h0M954 1626.3h0M954.5 1650.7h0M955 1646.4h0M955.5 1621.9h0M956 1661.5h0M956.4 1669.7h0M956.9 1661.9h0M957.4 1645.5h0M957.9 1648.5h0M958.4 1641.2h0M958.9 1659.2h0M959.4 1657.2h0M959.9 1670.9h0M960.4 1650.7h0M960.9 1663.9h0M961.4 1647.6h0M961.9 1640.8h0M962.4 1650.7h0M962.8 1638.7h0M963.3 1638.7h0M963.8 1661.5h0M964.3 1660.9h0M964.8 1639.8h0M965.3 1638.2h0M965.8 1648.1h0M966.3 1640.3h0M966.8 1660.9h0M967.3 1646.2h0M967.8 1632.3h0M968.3 1638.8h0M968.8 1656.8h0M969.3 1680h0M969.7 1658.2h0M970.2 1631.5h0M970.7 1638h0M971.2 1653.2h0M971.7 1648.5h0M972.2 1653h0M972.7 1679.4h0M973.2 1636.3h0M973.7 1637.1h0M974.2 1650.3h0M974.7 1651.6h0M975.2 1654.1h0M975.7 1662.8h0M976.2 1650.9h0M976.6 1666.3h0M977.1 1653.9h0M977.6 1656.8h0M978.1 1627.1h0M978.6 1639.2h0M979.1 1646h0M979.6 1660.7h0M980.1 1642.5h0M980.6 1638h0M981.1 1641h0M981.6 1676h0M982.1 1630.7h0M982.6 1655h0M983.1 1652.5h0M983.5 1672.2h0M984 1661.8h0M984.5 1647.4h0M985 1664.1h0M985.5 1670.6h0M986 1647.3h0M986.5 1628.8h0M987 1635.4h0M987.5 1653.1h0M988 1638h0M988.5 1654.4h0M989 1668.6h0M989.5 1655.5h0M990 1683.5h0M990.4 1650.8h0M990.9 1635.5h0M991.4 1655.5h0M991.9 1666.8h0M992.4 1633.3h0M992.9 1659.4h0M993.4 1676.4h0M993.9 1656.1h0M994.4 1678.9h0M994.9 1631.9h0M995.4 1661.1h0M995.9 1629.4h0M996.4 1628.4h0M996.9 1632.3h0M997.3 1668h0M997.8 1657.5h0M998.3 1673h0M998.8 1641.1h0M999.3 1629.2h0M999.8 1665.5h0M1000.3 1643.4h0M1000.8 1631.7h0M1001.3 1664.2h0M1001.8 1668.1h0M1002.3 1642.3h0M1002.8 1655.5h0M1003.3 1661.2h0M1003.7 1640.1h0M1004.2 1641.8h0M1004.7 1657.5h0M1005.2 1676.9h0M1005.7 1639.7h0M1006.2 1665.3h0M1006.7 1662.1h0M1007.2 1656.7h0M1007.7 1651.2h0M1008.2 1642.1h0M1008.7 1663.7h0M1009.2 1652.5h0M1009.7 1618.4h0M1010.2 1658.9h0M1010.6 1642.9h0M1011.1 1652.3h0M1011.6 1683.5h0M1012.1 1659.3h0M1012.6 1624.4h0M1013.1 1648.2h0M1013.6 1638h0M1014.1 1668.9h0M1014.6 1606.6h0M1015.1 1662.7h0M1015.6 1655.2h0M1016.1 1649.4h0M1016.6 1660.7h0M1017.1 1680.8h0M1017.5 1627.8h0M1018 1647.3h0M1018.5 1654.5h0M1019 1655.3h0M1019.5 1651.3h0M1020 1662h0M1020.5 1657.2h0M1021 1649h0M1021.5 1628.2h0M1022 1665.3h0M1022.5 1676.9h0M1023 1672.9h0M1023.5 1662h0M1024 1673.3h0M1024.4 1634.4h0M1024.9 1667.9h0M1025.4 1661.3h0M1025.9 1655.4h0M1026.4 1673.1h0M1026.9 1654h0M1027.4 1651h0M1027.9 1641.8h0M1028.4 1629.9h0M1028.9 1649.9h0M1029.4 1682.1h0M1029.9 1683.8h0M1030.4 1647.9h0M1030.9 1659.1h0M1031.3 1679.2h0M1031.8 1641.8h0M1032.3 1650.2h0M1032.8 1636.3h0M1033.3 1680.5h0M1033.8 1647.6h0M1034.3 1651.5h0M1034.8 1656.4h0M1035.3 1644.3h0M1035.8 1694.6h0M1036.3 1674.1h0M1036.8 1688.2h0M1037.3 1627.1h0M1037.8 1668.6h0M1038.2 1654.9h0M1038.7 1641.1h0M1039.2 1658.8h0M1039.7 1681.5h0M1040.2 1675h0M1040.7 1650.3h0M1041.2 1709h0M1041.7 1675.1h0M1042.2 1646.2h0M1042.7 1645.8h0M1043.2 1648.9h0M1043.7 1657.2h0M1044.2 1650.8h0M1044.6 1649h0M1045.1 1672.9h0M1045.6 1649.2h0M1046.1 1661h0M1046.6 1649.8h0M1047.1 1655.4h0M1047.6 1676.9h0M1048.1 1659.8h0M1048.6 1671h0M1049.1 1658.5h0M1049.6 1676.2h0M1050.1 1659.2h0M1050.6 1676.7h0M1051.1 1640.6h0M1051.5 1676.3h0M1052 1666.5h0M1052.5 1646.1h0M1053 1649.8h0M1053.5 1630.1h0M1054 1655.6h0M1054.5 1662.3h0M1055 1651.6h0M1055.5 1675h0M1056 1627.3h0M1056.5 1656h0M1057 1640.7h0M1057.5 1651.5h0M1058 1671.8h0M1058.4 1658.8h0M1058.9 1681.1h0M1059.4 1653.7h0M1059.9 1649.3h0M1060.4 1654.8h0M1060.9 1637h0M1061.4 1646h0M1061.9 1657.8h0M1062.4 1672.6h0M1062.9 1643.7h0M1063.4 1645.1h0M1063.9 1634.8h0M1064.4 1637.4h0M1064.9 1657.1h0M1065.3 1658.6h0M1065.8 1662.7h0M1066.3 1653.9h0M1066.8 1673.5h0M1067.3 1631.8h0M1067.8 1657.3h0M1068.3 1667.3h0M1068.8 1652.9h0M1069.3 1664.3h0M1069.8 1654.5h0M1070.3 1652.3h0M1070.8 1660.3h0M1071.3 1648.4h0M1071.8 1657.5h0M1072.2 1667h0M1072.7 1641.8h0M1073.2 1668.3h0M1073.7 1675.6h0M1074.2 1682.7h0M1074.7 1653.6h0M1075.2 1675.3h0M1075.7 1631.1h0M1076.2 1638.1h0M1076.7 1659.4h0M1077.2 1641.9h0M1077.7 1644.4h0M1078.2 1643.2h0M1078.7 1653.5h0M1079.1 1648.5h0M1079.6 1644.1h0M1080.1 1657.5h0M1080.6 1650.3h0M1081.1 1658.1h0M1081.6 1662.6h0M1082.1 1666.2h0M1082.6 1654.9h0M1083.1 1651.9h0M1083.6 1651.9h0M1084.1 1642.2h0M1084.6 1664.9h0M1085.1 1657.3h0M1085.5 1673.5h0M1086 1662.5h0M1086.5 1650.9h0M1087 1670.6h0M1087.5 1653.9h0M1088 1657.1h0M1088.5 1665h0M1089 1661.7h0M1089.5 1647h0M1090 1668.4h0M1090.5 1663.9h0M1091 1657.9h0M1091.5 1655.4h0M1092 1661.7h0M1092.4 1636.4h0M1092.9 1677.3h0M1093.4 1622.2h0M1093.9 1643.5h0M1094.4 1644h0M1094.9 1663.8h0M1095.4 1658.7h0M1095.9 1663.3h0M1096.4 1640.4h0M1096.9 1675.4h0M1097.4 1671.1h0M1097.9 1627.8h0M1098.4 1660.9h0M1098.9 1629.9h0M1099.3 1649.9h0M1099.8 1665.9h0M1100.3 1658.2h0M1100.8 1638.9h0M1101.3 1648.8h0M1101.8 1673.5h0M1102.3 1660.3h0M1102.8 1668.3h0M1103.3 1633.4h0M1103.8 1665.5h0M1104.3 1660.8h0M1104.8 1644.2h0M1105.3 1678.3h0M1105.8 1657.5h0M1106.2 1670.7h0M1106.7 1650.8h0M1107.2 1664h0M1107.7 1665.9h0M1108.2 1656.6h0M1108.7 1659.9h0M1109.2 1662.8h0M1109.7 1657.1h0M1110.2 1640.4h0M1110.7 1663.3h0M1111.2 1656.8h0M1111.7 1662.2h0M1112.2 1646.9h0M1112.7 1680.4h0M1113.1 1671.7h0M1113.6 1678.5h0M1114.1 1685.7h0M1114.6 1673.1h0M1115.1 1654.6h0M1115.6 1640.7h0M1116.1 1675.3h0M1116.6 1662.9h0M1117.1 1671h0M1117.6 1678h0M1118.1 1656.7h0M1118.6 1645.9h0M1119.1 1664.9h0M1119.6 1652.9h0M1120 1647.2h0M1120.5 1664.6h0M1121 1655.6h0M1121.5 1666.4h0M1122 1643.7h0M1122.5 1657.6h0M1123 1655.6h0M1123.5 1658.9h0M1124 1650.7h0M1124.5 1668.7h0M1125 1638.7h0M1125.5 1665.6h0M1126 1674.9h0M1126.4 1659.1h0M1126.9 1660.5h0M1127.4 1648.4h0M1127.9 1663h0M1128.4 1665.6h0M1128.9 1661.9h0M1129.4 1664.7h0M1129.9 1667.2h0M1130.4 1662.7h0M1130.9 1633.5h0M1131.4 1643.5h0M1131.9 1658h0M1132.4 1690h0M1132.9 1674.8h0M1133.3 1659.2h0M1133.8 1656.8h0M1134.3 1653.4h0M1134.8 1667.9h0M1135.3 1655.3h0M1135.8 1660.4h0M1136.3 1647.2h0M1136.8 1653.5h0M1137.3 1645.7h0M1137.8 1648.6h0M1138.3 1654.8h0M1138.8 1676.4h0M1139.3 1664.7h0M1139.8 1674.5h0M1140.2 1653.2h0M1140.7 1663.6h0M1141.2 1651.3h0M1141.7 1657.1h0M1142.2 1657.6h0M1142.7 1637h0M1143.2 1660.5h0M1143.7 1643h0M1144.2 1666.7h0M1144.7 1650.9h0M1145.2 1637.9h0M1145.7 1643.2h0M1146.2 1647.3h0M1146.7 1679.9h0M1147.1 1642.1h0M1147.6 1654.4h0M1148.1 1662.1h0M1148.6 1657.3h0M1149.1 1658.9h0M1149.6 1669.5h0M1150.1 1649.9h0M1150.6 1684.2h0M1151.1 1678.9h0M1151.6 1662.7h0M1152.1 1678.9h0M1152.6 1661.6h0M1153.1 1654h0M1153.6 1643.2h0M1154 1650.6h0M1154.5 1668h0M1155 1664.6h0M1155.5 1682.3h0M1156 1681.9h0M1156.5 1672.5h0M1157 1661.8h0M1157.5 1685h0M1158 1659.5h0M1158.5 1626.6h0M1159 1656.4h0M1159.5 1666.6h0M1160 1668.1h0M1160.5 1668.2h0M1160.9 1671.1h0M1161.4 1624h0M1161.9 1692.3h0M1162.4 1668h0M1162.9 1661.4h0M1163.4 1633.1h0M1163.9 1671.8h0M1164.4 1645.8h0M1164.9 1632.3h0M1165.4 1668.4h0M1165.9 1667.8h0M1166.4 1658.3h0M1166.9 1647.3h0M1167.3 1666.1h0M1167.8 1661h0M1168.3 1664.9h0M1168.8 1665.9h0M1169.3 1638.9h0M1169.8 1666.2h0M1170.3 1642.2h0M1170.8 1666.5h0M1171.3 1654.6h0M1171.8 1652.8h0M1172.3 1682.8h0M1172.8 1662.9h0M1173.3 1662.6h0M1173.8 1670.9h0M1174.2 1690.7h0M1174.7 1619.7h0M1175.2 1667.3h0M1175.7 1660.9h0M1176.2 1676.3h0M1176.7 1660.8h0M1177.2 1659.7h0M1177.7 1668.9h0M1178.2 1660h0M1178.7 1648.1h0M1179.2 1661h0M1179.7 1687.1h0M1180.2 1669.2h0M1180.7 1628.1h0M1181.1 1658.9h0M1181.6 1646.9h0M1182.1 1674.1h0M1182.6 1644.6h0M1183.1 1659.6h0M1183.6 1668h0M1184.1 1672.7h0M1184.6 1652.1h0M1185.1 1664.8h0M1185.6 1693.2h0M1186.1 1651.5h0M1186.6 1661.6h0M1187.1 1648.7h0M1187.6 1658.4h0M1188 1668.2h0M1188.5 1661.9h0M1189 1670.7h0M1189.5 1642.9h0M1190 1663.4h0M1190.5 1656.8h0M1191 1620.2h0M1191.5 1677.2h0M1192 1663h0M1192.5 1652.9h0M1193 1676.8h0M1193.5 1669.2h0M1194 1627.7h0M1194.5 1668.3h0M1194.9 1696.4h0M1195.4 1666.1h0M1195.9 1673.8h0M1196.4 1637.5h0M1196.9 1639.3h0M1197.4 1641h0M1197.9 1677.3h0M1198.4 1675.2h0M1198.9 1625.5h0M1199.4 1674.7h0M1199.9 1631.4h0M1200.4 1641.2h0M1200.9 1660.3h0M1201.4 1651.6h0M1201.8 1660.9h0M1202.3 1664.7h0M1202.8 1678.7h0M1203.3 1654.6h0M1203.8 1652h0M1204.3 1651.3h0M1204.8 1697h0M1205.3 1679h0M1205.8 1679.6h0M1206.3 1670.4h0M1206.8 1665.8h0M1207.3 1683.2h0M1207.8 1661.3h0M1208.2 1640.1h0M1208.7 1638.9h0M1209.2 1699.2h0M1209.7 1647h0M1210.2 1652.3h0M1210.7 1659.9h0M1211.2 1677.8h0M1211.7 1645.9h0M1212.2 1659h0M1212.7 1667.8h0M1213.2 1643.4h0M1213.7 1663.3h0M1214.2 1678.4h0M1214.7 1665.8h0M1215.1 1663.6h0M1215.6 1669.6h0M1216.1 1661.3h0M1216.6 1655.7h0M1217.1 1654.4h0M1217.6 1674.5h0M1218.1 1638h0M1218.6 1644.4h0M1219.1 1673.8h0M1219.6 1679.7h0M1220.1 1663.6h0M1220.6 1649.6h0M1221.1 1638.2h0M1221.6 1670.8h0M1222 1664.6h0M1222.5 1666.9h0M1223 1668h0M1223.5 1646.4h0M1224 1650.4h0M1224.5 1660h0M1225 1658.8h0M1225.5 1637.6h0M1226 1643h0M1226.5 1658.4h0M1227 1681.9h0M1227.5 1696.6h0M1228 1665h0M1228.5 1656.5h0M1228.9 1665.7h0M1229.4 1662.4h0M1229.9 1648.6h0M1230.4 1613.3h0M1230.9 1664h0M1231.4 1652.2h0M1231.9 1660.5h0M1232.4 1646.9h0M1232.9 1656.5h0M1233.4 1663.8h0M1233.9 1641.7h0M1234.4 1651.1h0M1234.9 1670.9h0M1235.4 1673.3h0M1235.8 1635.5h0M1236.3 1673.8h0M1236.8 1681.4h0M1237.3 1668.5h0M1237.8 1669.1h0M1238.3 1664.4h0M1238.8 1668.3h0M1239.3 1655.5h0M1239.8 1681.6h0M1240.3 1662.2h0M1240.8 1641.2h0M1241.3 1670.4h0M1241.8 1675.9h0M1242.3 1668.6h0M1242.7 1647.9h0M1243.2 1671.8h0M1243.7 1619.9h0M1244.2 1687.6h0M1244.7 1670.8h0M1245.2 1635.9h0M1245.7 1631.9h0M1246.2 1697.7h0M1246.7 1666h0M1247.2 1651.8h0M1247.7 1667.5h0M1248.2 1659.3h0M1248.7 1659.6h0M1249.1 1667.1h0M1249.6 1666.9h0M1250.1 1646.9h0M1250.6 1667h0M1251.1 1665.8h0M1251.6 1648.1h0M1252.1 1676.8h0M1252.6 1670.6h0M1253.1 1647.7h0M1253.6 1689.3h0M1254.1 1671.1h0M1254.6 1683.3h0M1255.1 1652h0M1255.6 1656h0M1256 1665h0M1256.5 1654.8h0M1257 1660.1h0M1257.5 1642h0M1258 1693.4h0M1258.5 1670.9h0M1259 1682.6h0M1259.5 1688.9h0M1260 1662.5h0M1260.5 1692.8h0M1261 1628.7h0M1261.5 1657.6h0M1262 1655.1h0M1262.5 1662.5h0M1262.9 1646.1h0M1263.4 1676h0M1263.9 1692.3h0M1264.4 1666.5h0M1264.9 1672h0M1265.4 1631h0M1265.9 1652.1h0M1266.4 1669h0M1266.9 1653.1h0M1267.4 1667.7h0M1267.9 1657.3h0M1268.4 1668.5h0M1268.9 1642.7h0M1269.4 1670.9h0M1269.8 1684.6h0M1270.3 1673.8h0M1270.8 1694.9h0M1271.3 1662.2h0M1271.8 1676.7h0M1272.3 1644.4h0M1272.8 1677.9h0M1273.3 1671.3h0M1273.8 1660.1h0M1274.3 1680.7h0M1274.8 1647h0M1275.3 1660.2h0M1275.8 1668.6h0M1276.3 1649.2h0M1276.7 1649.5h0M1277.2 1678.7h0M1277.7 1658.8h0M1278.2 1648.7h0M1278.7 1657h0M1279.2 1655.4h0M1279.7 1652.7h0M1280.2 1669.1h0M1280.7 1648.4h0M1281.2 1642.2h0M1281.7 1664.7h0M1282.2 1662.8h0M1282.7 1681.9h0M1283.2 1644.6h0M1283.6 1655.5h0M1284.1 1678.9h0M1284.6 1669.1h0M1285.1 1655.5h0M1285.6 1651.8h0M1286.1 1673.9h0M1286.6 1663.2h0M1287.1 1651.5h0M1287.6 1657.2h0M1288.1 1657.8h0M1288.6 1677.5h0M1289.1 1626.3h0M1289.6 1655.2h0M1290 1681.5h0M1290.5 1638.9h0M1291 1659.4h0M1291.5 1675.8h0M1292 1644.2h0M1292.5 1655.4h0M1293 1650.7h0M1293.5 1665.9h0M1294 1653.7h0M1294.5 1647.9h0M1295 1664.7h0M1295.5 1666.5h0M1296 1680h0M1296.5 1657.7h0M1296.9 1661h0M1297.4 1655h0M1297.9 1680.6h0M1298.4 1681.1h0M1298.9 1651.8h0M1299.4 1632.3h0M1299.9 1691.9h0M1300.4 1636.3h0M1300.9 1638h0M1301.4 1655.5h0M1301.9 1691.3h0M1302.4 1679.9h0M1302.9 1659.9h0M1303.4 1673.8h0M1303.8 1661.1h0M1304.3 1679.9h0M1304.8 1657.2h0M1305.3 1687h0M1305.8 1672.2h0M1306.3 1655.3h0M1306.8 1638.4h0M1307.3 1680.5h0M1307.8 1671.3h0M1308.3 1649.4h0M1308.8 1650.3h0M1309.3 1656.4h0M1309.8 1658.5h0M1310.3 1661h0M1310.7 1663.3h0M1311.2 1663.5h0M1311.7 1655.2h0M1312.2 1693.6h0M1312.7 1659.5h0M1313.2 1654h0M1313.7 1671.5h0M1314.2 1650.8h0M1314.7 1670.1h0M1315.2 1665.7h0M1315.7 1678.8h0M1316.2 1649.6h0M1316.7 1636.1h0M1317.2 1680.9h0M1317.6 1661.1h0M1318.1 1689.2h0M1318.6 1674.5h0M1319.1 1657.2h0M1319.6 1668.9h0M1320.1 1646.8h0M1320.6 1649.6h0M1321.1 1664.2h0M1321.6 1665.8h0M1322.1 1639.5h0M1322.6 1675.3h0M1323.1 1671.7h0M1323.6 1679.4h0M1324.1 1643h0M1324.5 1672.6h0M1325 1655.2h0M1325.5 1657.3h0M1326 1679.5h0M1326.5 1665.2h0M1327 1672.7h0M1327.5 1677.4h0M1328 1680.9h0M1328.5 1651.1h0M1329 1650.8h0M1329.5 1669.8h0M1330 1672.7h0M1330.5 1654.3h0M1330.9 1670.7h0M1331.4 1652.5h0M1331.9 1661h0M1332.4 1663.5h0M1332.9 1668.4h0M1333.4 1675.1h0M1333.9 1660.8h0M1334.4 1668h0M1334.9 1653.9h0M1335.4 1676.8h0M1335.9 1674.5h0M1336.4 1658.7h0M1336.9 1694.3h0M1337.4 1665.9h0M1337.8 1663.2h0M1338.3 1661.2h0M1338.8 1672.9h0M1339.3 1669.7h0M1339.8 1658.6h0M1340.3 1674.6h0M1340.8 1682.8h0M1341.3 1688.9h0M1341.8 1676.2h0M1342.3 1664h0M1342.8 1657.8h0M1343.3 1676.6h0M1343.8 1686.9h0M1344.3 1700.9h0M1344.7 1664.6h0M1345.2 1653.6h0M1345.7 1655.1h0M1346.2 1674.1h0M1346.7 1678.5h0M1347.2 1658.5h0M1347.7 1652h0M1348.2 1641.2h0M1348.7 1678.8h0M1349.2 1646.2h0M1349.7 1676h0M1350.2 1665.1h0M1350.7 1639.3h0M1351.2 1650.8h0M1351.6 1681.3h0M1352.1 1667h0M1352.6 1663.6h0M1353.1 1684.4h0M1353.6 1666.2h0M1354.1 1668.2h0M1354.6 1668.4h0M1355.1 1667.9h0M1355.6 1682.3h0M1356.1 1659.1h0M1356.6 1682.5h0M1357.1 1688.6h0M1357.6 1659.3h0M1358.1 1673.5h0M1358.5 1650h0M1359 1667.8h0M1359.5 1684.3h0" stroke="#ff0000" stroke-width="17" stroke-linecap="round" fill="none"/>
<path d="M374 1360.1h0M374.5 1356.2h0M375 1362.3h0M375.5 1363.8h0M376 1363.9h0M376.5 1365.9h0M376.9 1376.3h0M377.4 1356.1h0M377.9 1367.7h0M378.4 1376.9h0M378.9 1373.6h0M379.4 1377.9h0M379.9 1379.5h0M380.4 1378.5h0M380.9 1381.6h0M381.4 1379.1h0M381.9 1385.1h0M382.4 1391.4h0M382.9 1394.7h0M383.4 1393.7h0M383.8 1390.9h0M384.3 1391.8h0M384.8 1385.4h0M385.3 1396.6h0M385.8 1393.4h0M386.3 1396.8h0M386.8 1400.8h0M387.3 1405.3h0M387.8 1407.6h0M388.3 1408.5h0M388.8 1402.4h0M389.3 1408.8h0M389.8 1418.6h0M390.2 1414.7h0M390.7 1420.2h0M391.2 1419.4h0M391.7 1432h0M392.2 1435.2h0M392.7 1444.1h0M393.2 1423.3h0M393.7 1434.2h0M394.2 1419.3h0M394.7 1437.2h0M395.2 1436.9h0M395.7 1431.7h0M396.2 1448.7h0M396.7 1439.7h0M397.1 1426.8h0M397.6 1454.5h0M398.1 1444.2h0M398.6 1452.2h0M399.1 1441h0M399.6 1441.6h0M400.1 1439.1h0M400.6 1441.9h0M401.1 1460h0M401.6 1460.1h0M402.1 1441.1h0M402.6 1458.2h0M403.1 1460h0M403.6 1453.9h0M404 1465.7h0M404.5 1456.5h0M405 1475.5h0M405.5 1464.4h0M406 1470.5h0M406.5 1434.6h0M407 1466.6h0M407.5 1473.1h0M408 1467.6h0M408.5 1473.4h0M409 1467h0M409.5 1487.9h0M410 1468.8h0M410.5 1478h0M410.9 1498.7h0M411.4 1497.3h0M411.9 1485.4h0M412.4 1472.7h0M412.9 1466.7h0M413.4 1494.8h0M413.9 1494h0M414.4 1489.4h0M414.9 1490.8h0M415.4 1520.9h0M415.9 1507.9h0M416.4 1498.9h0M416.9 1497.6h0M417.4 1497.4h0M417.8 1507.2h0M418.3 1501.2h0M418.8 1507.2h0M419.3 1501.8h0M419.8 1518.3h0M420.3 1513.2h0M420.8 1496.7h0M421.3 1550.7h0M421.8 1518h0M422.3 1509.5h0M422.8 1500.7h0M423.3 1519.5h0M423.8 1511.5h0M424.3 1544.2h0M424.7 1529.6h0M425.2 1515.5h0M425.7 1500.4h0M426.2 1537.6h0M426.7 1504h0M427.2 1535.8h0M427.7 1532.1h0M428.2 1491.8h0M428.7 1529h0M429.2 1558h0M429.7 1522h0M430.2 1503h0M430.7 1512.1h0M431.1 1537.5h0M431.6 1544.3h0M432.1 1553.8h0M432.6 1546.4h0M433.1 1528.9h0M433.6 1537.9h0M434.1 1542.2h0M434.6 1544.5h0M435.1 1528.4h0M435.6 1559.5h0M436.1 1568h0M436.6 1549.6h0M437.1 1555.3h0M437.6 1533.5h0M438 1558.6h0M438.5 1543.1h0M439 1542.7h0M439.5 1571.9h0M440 1562h0M440.5 1552.9h0M441 1534h0M441.5 1563.4h0M442 1592.4h0M442.5 1570.9h0M443 1570.6h0M443.5 1589h0M444 1606h0M444.5 1580.3h0M444.9 1589.6h0M445.4 1576.2h0M445.9 1582.6h0M446.4 1583.1h0M446.9 1596.2h0M447.4 1569.3h0M447.9 1584.6h0M448.4 1585.7h0M448.9 1579.9h0M449.4 1572.1h0M449.9 1598.2h0M450.4 1578.5h0M450.9 1559.1h0M451.4 1600.1h0M451.8 1563.6h0M452.3 1603.4h0M452.8 1547.2h0M453.3 1592.3h0M453.8 1624.6h0M454.3 1591h0M454.8 1615.9h0M455.3 1590h0M455.8 1584.9h0M456.3 1594.3h0M456.8 1616.5h0M457.3 1623.3h0M457.8 1626.7h0M458.3 1618.7h0M458.7 1604.1h0M459.2 1571.6h0M459.7 1593.9h0M460.2 1633.2h0M460.7 1581.5h0M461.2 1617.8h0M461.7 1617.9h0M462.2 1583.5h0M462.7 1618.3h0M463.2 1607h0M463.7 1617.8h0M464.2 1613.8h0M464.7 1613h0M465.2 1602.2h0M465.6 1585.3h0M466.1 1648.6h0M466.6 1606.1h0M467.1 1617h0M467.6 1616.1h0M468.1 1618.4h0M468.6 1612h0M469.1 1634.3h0M469.6 1626.1h0M470.1 1619.3h0M470.6 1618.5h0M471.1 1636.9h0M471.6 1614.4h0M472 1638.3h0M472.5 1651.7h0M473 1648h0M473.5 1640.4h0M474 1605.1h0M474.5 1644.2h0M475 1637.3h0M475.5 1655.6h0M476 1625.2h0M476.5 1627.3h0M477 1658.4h0M477.5 1622.8h0M478 1654.5h0M478.5 1642h0M478.9 1597.6h0M479.4 1630.1h0M479.9 1630.2h0M480.4 1616.7h0M480.9 1608.2h0M481.4 1639.7h0M481.9 1622.7h0M482.4 1628.6h0M482.9 1624.6h0M483.4 1636.1h0M483.9 1648.2h0M484.4 1653.4h0M484.9 1649.2h0M485.4 1635.7h0M485.8 1639.1h0M486.3 1651.2h0M486.8 1662h0M487.3 1641.4h0M487.8 1622.9h0M488.3 1648.1h0M488.8 1653.7h0M489.3 1636.9h0M489.8 1663h0M490.3 1637.3h0M490.8 1645.1h0M491.3 1651.2h0M491.8 1670.7h0M492.3 1627.6h0M492.7 1654.7h0M493.2 1658.7h0M493.7 1645.1h0M494.2 1663.1h0M494.7 1637.4h0M495.2 1629.7h0M495.7 1628.8h0M496.2 1637.6h0M496.7 1631.8h0M497.2 1656.5h0M497.7 1649.2h0M498.2 1627.1h0M498.7 1673.9h0M499.2 1653.6h0M499.6 1624.7h0M500.1 1621.8h0M500.6 1651.5h0M501.1 1671.6h0M501.6 1646.3h0M502.1 1666h0M502.6 1676.4h0M503.1 1662.8h0M503.6 1647h0M504.1 1632.2h0M504.6 1642.3h0M505.1 1672.8h0M505.6 1653.2h0M506.1 1637.9h0M506.5 1647h0M507 1650.4h0M507.5 1670.8h0M508 1645.1h0M508.5 1682.4h0M509 1657.7h0M509.5 1659.9h0M510 1637.8h0M510.5 1661h0M511 1659h0M511.5 1666.1h0M512 1644.7h0M512.5 1658.8h0M512.9 1632.6h0M513.4 1640.7h0M513.9 1690.9h0M514.4 1649.1h0M514.9 1644.6h0M515.4 1669.6h0M515.9 1653.8h0M516.4 1695.7h0M516.9 1657.7h0M517.4 1667.3h0M517.9 1653h0M518.4 1674.1h0M518.9 1657.8h0M519.4 1697.9h0M519.8 1646.8h0M520.3 1664.3h0M520.8 1668.7h0M521.3 1641.5h0M521.8 1650.9h0M522.3 1647.5h0M522.8 1634.5h0M523.3 1664.4h0M523.8 1617.6h0M524.3 1641.2h0M524.8 1643.9h0M525.3 1665.4h0M525.8 1659.4h0M526.3 1677.4h0M526.7 1680.2h0M527.2 1665.2h0M527.7 1648.8h0M528.2 1674.1h0M528.7 1653.1h0M529.2 1659.5h0M529.7 1665.2h0M530.2 1687.1h0M530.7 1704.9h0M531.2 1684.3h0M531.7 1659.5h0M532.2 1680.8h0M532.7 1686.2h0M533.2 1655.1h0M533.6 1670.4h0M534.1 1658.7h0M534.6 1659.9h0M535.1 1670.7h0M535.6 1671.8h0M536.1 1658.7h0M536.6 1670.7h0M537.1 1652.5h0M537.6 1668.6h0M538.1 1673.5h0M538.6 1664.8h0M539.1 1649.5h0M539.6 1661h0M540.1 1678.3h0M540.5 1687.1h0M541 1687.2h0M541.5 1688.5h0M542 1699.4h0M542.5 1667.9h0M543 1691.3h0M543.5 1663h0M544 1700.5h0M544.5 1689.6h0M545 1661h0M545.5 1686.1h0M546 1690.9h0M546.5 1664.8h0M547 1681.8h0M547.4 1689.9h0M547.9 1704.5h0M548.4 1669.7h0M548.9 1700.6h0M549.4 1663.7h0M549.9 1666.6h0M550.4 1698.5h0M550.9 1690.1h0M551.4 1668.5h0M551.9 1702.1h0M552.4 1687.4h0M552.9 1683.2h0M553.4 1676.6h0M553.8 1643.4h0M554.3 1681.3h0M554.8 1695.2h0M555.3 1681h0M555.8 1692.4h0M556.3 1680.7h0M556.8 1702.5h0M557.3 1640.6h0M557.8 1690h0M558.3 1669.7h0M558.8 1686.4h0M559.3 1693.2h0M559.8 1700.7h0M560.3 1695.9h0M560.7 1701.8h0M561.2 1670.1h0M561.7 1686.9h0M562.2 1653.4h0M562.7 1690.1h0M563.2 1661.5h0M563.7 1701.1h0M564.2 1688.7h0M564.7 1682h0M565.2 1676.9h0M565.7 1689.1h0M566.2 1677.9h0M566.7 1666.2h0M567.2 1692.7h0M567.6 1674.8h0M568.1 1694.3h0M568.6 1673.8h0M569.1 1670.3h0M569.6 1720.2h0M570.1 1696.9h0M570.6 1705.9h0M571.1 1684.8h0M571.6 1688.3h0M572.1 1688.9h0M572.6 1717.6h0M573.1 1699.1h0M573.6 1691.1h0M574.1 1689.3h0M574.5 1691h0M575 1705.5h0M575.5 1691.1h0M576 1691.8h0M576.5 1710.6h0M577 1705.4h0M577.5 1703.1h0M578 1720.1h0M578.5 1690.7h0M579 1676h0M579.5 1669.1h0M580 1691.7h0M580.5 1696.3h0M581 1707h0M581.4 1672.6h0M581.9 1674h0M582.4 1690.3h0M582.9 1689.5h0M583.4 1673.5h0M583.9 1691.2h0M584.4 1704h0M584.9 1690.5h0M585.4 1727.8h0M585.9 1704.8h0M586.4 1682.8h0M586.9 1691.4h0M587.4 1674.1h0M587.9 1725.9h0M588.3 1691h0M588.8 1690.6h0M589.3 1705.7h0M589.8 1690.6h0M590.3 1685.8h0M590.8 1694.6h0M591.3 1710.3h0M591.8 1710.6h0M592.3 1676.2h0M592.8 1672.5h0M593.3 1702.6h0M593.8 1691.8h0M594.3 1689.8h0M594.7 1711.9h0M595.2 1703.2h0M595.7 1689.6h0M596.2 1706h0M596.7 1686.6h0M597.2 1690h0M597.7 1724.6h0M598.2 1694.3h0M598.7 1705.9h0M599.2 1694.3h0M599.7 1693.7h0M600.2 1682.4h0M600.7 1682.2h0M601.2 1717h0M601.6 1730.8h0M602.1 1709h0M602.6 1707.8h0M603.1 1691.7h0M603.6 1698.9h0M604.1 1721.7h0M604.6 1737.7h0M605.1 1710.4h0M605.6 1706.3h0M606.1 1716.7h0M606.6 1702.9h0M607.1 1690.1h0M607.6 1688.4h0M608.1 1697.4h0M608.5 1695.6h0M609 1667.4h0M609.5 1675.7h0M610 1713.3h0M610.5 1715.7h0M611 1713.8h0M611.5 1698.8h0M612 1692.5h0M612.5 1701.7h0M613 1707.1h0M613.5 1695.6h0M614 1718.4h0M614.5 1692.9h0M615 1669.1h0M615.4 1712.9h0M615.9 1716.2h0M616.4 1700.7h0M616.9 1718.4h0M617.4 1720.7h0M617.9 1666.7h0M618.4 1709.7h0M618.9 1686.6h0M619.4 1714h0M619.9 1707.9h0M620.4 1716.5h0M620.9 1700.8h0M621.4 1696.1h0M621.9 1709h0M622.3 1740.4h0M622.8 1711.8h0M623.3 1690.5h0M623.8 1705.4h0M624.3 1702.4h0M624.8 1724.8h0M625.3 1708.4h0M625.8 1702.1h0M626.3 1709.5h0M626.8 1696.7h0M627.3 1714.2h0M627.8 1691.5h0M628.3 1700.9h0M628.8 1710.9h0M629.2 1687.9h0M629.7 1688.6h0M630.2 1697h0M630.7 1730.2h0M631.2 1721.3h0M631.7 1710h0M632.2 1724.2h0M632.7 1722.3h0M633.2 1700.7h0M633.7 1693.6h0M634.2 1728.1h0M634.7 1700.5h0M635.2 1720.2h0M635.6 1687.5h0M636.1 1709.7h0M636.6 1692.5h0M637.1 1721.2h0M637.6 1722.9h0M638.1 1717.6h0M638.6 1723.6h0M639.1 1703.9h0M639.6 1718.2h0M640.1 1721.3h0M640.6 1699.4h0M641.1 1721.9h0M641.6 1717.1h0M642.1 1720.1h0M642.5 1709.6h0M643 1712.5h0M643.5 1720.8h0M644 1715.5h0M644.5 1722.5h0M645 1693.6h0M645.5 1728.6h0M646 1702.2h0M646.5 1730.4h0M647 1692.7h0M647.5 1705.3h0M648 1718.8h0M648.5 1721.2h0M649 1708.3h0M649.4 1701.5h0M649.9 1725h0M650.4 1731.6h0M650.9 1702.2h0M651.4 1697.5h0M651.9 1706.9h0M652.4 1714.4h0M652.9 1689.3h0M653.4 1700.8h0M653.9 1726.9h0M654.4 1704.6h0M654.9 1704.4h0M655.4 1740.7h0M655.9 1734.1h0M656.3 1743.4h0M656.8 1717.7h0M657.3 1715.7h0M657.8 1711.6h0M658.3 1695.4h0M658.8 1685.6h0M659.3 1717.2h0M659.8 1706.6h0M660.3 1728.7h0M660.8 1734.2h0M661.3 1695.4h0M661.8 1697.8h0M662.3 1723.1h0M662.8 1741.8h0M663.2 1744.6h0M663.7 1709.4h0M664.2 1721.4h0M664.7 1743.1h0M665.2 1708.9h0M665.7 1705.3h0M666.2 1742.3h0M666.7 1710h0M667.2 1702.5h0M667.7 1746.8h0M668.2 1715h0M668.7 1715.5h0M669.2 1731.5h0M669.7 1746.3h0M670.1 1735.2h0M670.6 1726.7h0M671.1 1729.8h0M671.6 1730h0M672.1 1728h0M672.6 1696h0M673.1 1728.6h0M673.6 1702.2h0M674.1 1712.1h0M674.6 1726.2h0M675.1 1722.4h0M675.6 1730.3h0M676.1 1724.2h0M676.5 1732.5h0M677 1754.2h0M677.5 1707.2h0M678 1742.8h0M678.5 1755h0M679 1718.5h0M679.5 1719.7h0M680 1723.9h0M680.5 1733.3h0M681 1714.6h0M681.5 1720.2h0M682 1725.6h0M682.5 1727.4h0M683 1749.6h0M683.4 1718.7h0M683.9 1740.3h0M684.4 1739.9h0M684.9 1730.3h0M685.4 1729.7h0M685.9 1714.3h0M686.4 1716h0M686.9 1733.9h0M687.4 1732h0M687.9 1723.8h0M688.4 1747.2h0M688.9 1730.7h0M689.4 1729.6h0M689.9 1726.1h0M690.3 1746.4h0M690.8 1738.1h0M691.3 1734.3h0M691.8 1708.4h0M692.3 1757.2h0M692.8 1706.6h0M693.3 1736.2h0M693.8 1710.2h0M694.3 1704h0M694.8 1676.9h0M695.3 1731.7h0M695.8 1734.1h0M696.3 1723.1h0M696.8 1721.3h0M697.2 1706.5h0M697.7 1728.3h0M698.2 1724.4h0M698.7 1704.3h0M699.2 1721.2h0M699.7 1723.7h0M700.2 1710.6h0M700.7 1747.8h0M701.2 1707.6h0M701.7 1762h0M702.2 1748.9h0M702.7 1722h0M703.2 1757.2h0M703.7 1749.1h0M704.1 1751.2h0M704.6 1733.6h0M705.1 1714.1h0M705.6 1695.2h0M706.1 1735.7h0M706.6 1729.1h0M707.1 1721.2h0M707.6 1766.1h0M708.1 1739.9h0M708.6 1706.3h0M709.1 1729.5h0M709.6 1740.7h0M710.1 1711h0M710.6 1735.8h0M711 1726.5h0M711.5 1707.3h0M712 1739.6h0M712.5 1744.3h0M713 1688.6h0M713.5 1740.5h0M714 1723.2h0M714.5 1727.4h0M715 1704.9h0M715.5 1716.5h0M716 1763.8h0M716.5 1745.8h0M717 1731h0M717.4 1735.5h0M717.9 1720h0M718.4 1732.2h0M718.9 1719.7h0M719.4 1738.9h0M719.9 1715.2h0M720.4 1738.1h0M720.9 1748.3h0M721.4 1729.4h0M721.9 1738.4h0M722.4 1740h0M722.9 1726.1h0M723.4 1711h0M723.9 1754.1h0M724.3 1737.3h0M724.8 1730.7h0M725.3 1757.7h0M725.8 1721.8h0M726.3 1727.4h0M726.8 1724.2h0M727.3 1718.6h0M727.8 1734.1h0M728.3 1725.7h0M728.8 1761.3h0M729.3 1725.6h0M729.8 1758.7h0M730.3 1721.6h0M730.8 1731.7h0M731.2 1738.3h0M731.7 1722.3h0M732.2 1749.6h0M732.7 1727.6h0M733.2 1726.5h0M733.7 1750.2h0M734.2 1725.2h0M734.7 1749.4h0M735.2 1757.3h0M735.7 1752.6h0M736.2 1763.6h0M736.7 1731.7h0M737.2 1760.9h0M737.7 1729.8h0M738.1 1710.2h0M738.6 1736.3h0M739.1 1773.9h0M739.6 1721.9h0M740.1 1771h0M740.6 1714.6h0M741.1 1755.8h0M741.6 1748.7h0M742.1 1732.1h0M742.6 1700.1h0M743.1 1752.2h0M743.6 1751.8h0M744.1 1749.3h0M744.6 1758h0M745 1726.3h0M745.5 1776.5h0M746 1757.1h0M746.5 1727.3h0M747 1780.2h0M747.5 1741.6h0M748 1749.7h0M748.5 1756.7h0M749 1726.2h0M749.5 1725.8h0M750 1739h0M750.5 1721.4h0M751 1738.4h0M751.5 1767.1h0M751.9 1721.9h0M752.4 1744h0M752.9 1732.3h0M753.4 1757.7h0M753.9 1721.6h0M754.4 1722.7h0M754.9 1739.6h0M755.4 1779.2h0M755.9 1725.4h0M756.4 1711.5h0M756.9 1724.6h0M757.4 1755.5h0M757.9 1759.5h0M758.3 1741.7h0M758.8 1747.5h0M759.3 1717.5h0M759.8 1750.2h0M760.3 1740.2h0M760.8 1731.7h0M761.3 1761.5h0M761.8 1762.6h0M762.3 1734.7h0M762.8 1747.6h0M763.3 1708.2h0M763.8 1724.3h0M764.3 1767.7h0M764.8 1723h0M765.2 1726.8h0M765.7 1764.6h0M766.2 1701.5h0M766.7 1731.3h0M767.2 1757.9h0M767.7 1735.9h0M768.2 1728.2h0M768.7 1725.1h0M769.2 1748.4h0M769.7 1727h0M770.2 1750.2h0M770.7 1741.7h0M771.2 1744.8h0M771.7 1765.2h0M772.1 1736h0M772.6 1727.2h0M773.1 1744.7h0M773.6 1749.7h0M774.1 1741.4h0M774.6 1713.6h0M775.1 1757.2h0M775.6 1712.7h0M776.1 1708.3h0M776.6 1762.3h0M777.1 1772.8h0M777.6 1739.7h0M778.1 1729.8h0M778.6 1770.5h0M779 1720.7h0M779.5 1744.6h0M780 1734.5h0M780.5 1756.2h0M781 1750.9h0M781.5 1731h0M782 1765.6h0M782.5 1759h0M783 1745.5h0M783.5 1740h0M784 1744.1h0M784.5 1722.4h0M785 1741.2h0M785.5 1740.9h0M785.9 1755.6h0M786.4 1741.8h0M786.9 1738h0M787.4 1750.1h0M787.9 1763.2h0M788.4 1755.9h0M788.9 1743.3h0M789.4 1737.5h0M789.9 1770.4h0M790.4 1745.8h0M790.9 1723.5h0M791.4 1749.5h0M791.9 1713.2h0M792.4 1735.9h0M792.8 1757.3h0M793.3 1742.6h0M793.8 1739.6h0M794.3 1759h0M794.8 1766.8h0M795.3 1728h0M795.8 1724.9h0M796.3 1732.6h0M796.8 1724.9h0M797.3 1754.1h0M797.8 1758.8h0M798.3 1743.6h0M798.8 1726.1h0M799.2 1716.6h0M799.7 1742.3h0M800.2 1730.9h0M800.7 1753.3h0M801.2 1722.1h0M801.7 1735h0M802.2 1737.9h0M802.7 1763.7h0M803.2 1759.2h0M803.7 1753.8h0M804.2 1748.9h0M804.7 1757.4h0M805.2 1712.6h0M805.7 1761.4h0M806.1 1740.7h0M806.6 1772h0M807.1 1761.6h0M807.6 1767.1h0M808.1 1733.1h0M808.6 1797.9h0M809.1 1756.1h0M809.6 1750.9h0M810.1 1735.4h0M810.6 1752.2h0M811.1 1707.8h0M811.6 1770h0M812.1 1754.7h0M812.6 1745h0M813 1770.5h0M813.5 1755.5h0M814 1754.2h0M814.5 1736.9h0M815 1752.1h0M815.5 1725.1h0M816 1725.9h0M816.5 1748.8h0M817 1735.1h0M817.5 1721.9h0M818 1742.7h0M818.5 1713h0M819 1774h0M819.5 1729.7h0M819.9 1729.9h0M820.4 1773.5h0M820.9 1719.1h0M821.4 1705.9h0M821.9 1745.6h0M822.4 1740.7h0M822.9 1763.8h0M823.4 1744.4h0M823.9 1716.6h0M824.4 1747.4h0M824.9 1740.8h0M825.4 1767.6h0M825.9 1750.8h0M826.4 1728.8h0M826.8 1733.2h0M827.3 1745.6h0M827.8 1737.9h0M828.3 1749.1h0M828.8 1750.1h0M829.3 1724.6h0M829.8 1749.4h0M830.3 1760h0M830.8 1724.1h0M831.3 1719.7h0M831.8 1758.9h0M832.3 1755.3h0M832.8 1762.1h0M833.3 1776.8h0M833.7 1743.4h0M834.2 1726.9h0M834.7 1749.5h0M835.2 1733.6h0M835.7 1752.3h0M836.2 1758.7h0M836.7 1747.3h0M837.2 1755.7h0M837.7 1745.8h0M838.2 1750.3h0M838.7 1725.1h0M839.2 1775.5h0M839.7 1733.5h0M840.1 1738.1h0M840.6 1732.7h0M841.1 1740.9h0M841.6 1737.6h0M842.1 1710h0M842.6 1772.8h0M843.1 1751.8h0M843.6 1740.2h0M844.1 1744.7h0M844.6 1763.3h0M845.1 1759.9h0M845.6 1750.4h0M846.1 1761h0M846.6 1699.4h0M847 1760h0M847.5 1740.8h0M848 1731.2h0M848.5 1726.4h0M849 1745.9h0M849.5 1713.8h0M850 1750.2h0M850.5 1730.6h0M851 1757.1h0M851.5 1713h0M852 1751h0M852.5 1736.2h0M853 1723.2h0M853.5 1765.7h0M853.9 1763.2h0M854.4 1727.2h0M854.9 1738.4h0M855.4 1769.3h0M855.9 1745.3h0M856.4 1732.4h0M856.9 1726.6h0M857.4 1729.7h0M857.9 1753.4h0M858.4 1759.4h0M858.9 1736.4h0M859.4 1724.7h0M859.9 1728.7h0M860.4 1711h0M860.8 1750.6h0M861.3 1742.2h0M861.8 1761.4h0M862.3 1782h0M862.8 1765.9h0M863.3 1735h0M863.8 1736.2h0M864.3 1719h0M864.8 1705.3h0M865.3 1774.9h0M865.8 1746.3h0M866.3 1714.7h0M866.8 1753.7h0M867.3 1704.5h0M867.7 1737.4h0M868.2 1743.2h0M868.7 1729.7h0M869.2 1731.8h0M869.7 1754.7h0M870.2 1731.6h0M870.7 1761h0M871.2 1709.2h0M871.7 1733.5h0M872.2 1770.9h0M872.7 1722.8h0M873.2 1723h0M873.7 1741h0M874.2 1732.6h0M874.6 1744.8h0M875.1 1758.2h0M875.6 1750.4h0M876.1 1744.2h0M876.6 1733.6h0M877.1 1744.3h0M877.6 1756.7h0M878.1 1725h0M878.6 1733h0M879.1 1720.7h0M879.6 1740.4h0M880.1 1743.3h0M880.6 1731h0M881 1721.2h0M881.5 1727.3h0M882 1752.2h0M882.5 1730.7h0M883 1755.3h0M883.5 1730.1h0M884 1727.5h0M884.5 1754.4h0M885 1726.9h0M885.5 1760.7h0M886 1702.3h0M886.5 1740.9h0M887 1731.5h0M887.5 1733.9h0M887.9 1745.4h0M888.4 1706.1h0M888.9 1778h0M889.4 1733.1h0M889.9 1783.9h0M890.4 1755.4h0M890.9 1744.7h0M891.4 1713.8h0M891.9 1771.2h0M892.4 1752.6h0M892.9 1762h0M893.4 1713.8h0M893.9 1710.1h0M894.4 1734.1h0M894.8 1750.2h0M895.3 1754.9h0M895.8 1762.4h0M896.3 1725.5h0M896.8 1717.2h0M897.3 1753.9h0M897.8 1723.2h0M898.3 1739.9h0M898.8 1776.9h0M899.3 1733.4h0M899.8 1747.5h0M900.3 1745.5h0M900.8 1741h0M901.3 1747.7h0M901.7 1749.8h0M902.2 1742.1h0M902.7 1767.6h0M903.2 1757.5h0M903.7 1723.4h0M904.2 1766.4h0M904.7 1743.5h0M905.2 1738.2h0M905.7 1727.5h0M906.2 1754.6h0M906.7 1740.4h0M907.2 1727.3h0M907.7 1726.4h0M908.2 1760.9h0M908.6 1735.4h0M909.1 1734.1h0M909.6 1784.8h0M910.1 1747h0M910.6 1752.5h0M911.1 1743.5h0M911.6 1740.7h0M912.1 1724.4h0M912.6 1753.4h0M913.1 1746.1h0M913.6 1727h0M914.1 1739.5h0M914.6 1771.6h0M915.1 1746.1h0M915.5 1742.2h0M916 1730.3h0M916.5 1731.3h0M917 1750.5h0M917.5 1756h0M918 1744.6h0M918.5 1756.9h0M919 1727h0M919.5 1734.2h0M920 1747.1h0M920.5 1760.9h0M921 1733.1h0M921.5 1757.3h0M921.9 1722.7h0M922.4 1760h0M922.9 1763.1h0M923.4 1735.6h0M923.9 1747h0M924.4 1753.8h0M924.9 1729.6h0M925.4 1734.3h0M925.9 1733.7h0M926.4 1750.5h0M926.9 1756.8h0M927.4 1725.7h0M927.9 1728.8h0M928.4 1752.1h0M928.8 1730.4h0M929.3 1737.9h0M929.8 1755.1h0M930.3 1742.1h0M930.8 1759h0M931.3 1742.9h0M931.8 1739.3h0M932.3 1728.8h0M932.8 1703.6h0M933.3 1734.7h0M933.8 1710.3h0M934.3 1754.6h0M934.8 1754h0M935.3 1748.8h0M935.7 1760.2h0M936.2 1776.9h0M936.7 1711.8h0M937.2 1738.9h0M937.7 1754.9h0M938.2 1737.2h0M938.7 1739.2h0M939.2 1759.5h0M939.7 1749.8h0M940.2 1717.8h0M940.7 1765.6h0M941.2 1727.3h0M941.7 1744.8h0M942.2 1750.7h0M942.6 1712.8h0M943.1 1769.7h0M943.6 1752.3h0M944.1 1747.5h0M944.6 1754.2h0M945.1 1737.1h0M945.6 1752.8h0M946.1 1751.8h0M946.6 1704.2h0M947.1 1720.8h0M947.6 1756.7h0M948.1 1723.4h0M948.6 1750h0M949.1 1737.9h0M949.5 1752.9h0M950 1711.1h0M950.5 1742.8h0M951 1740.9h0M951.5 1745.4h0M952 1744.7h0M952.5 1742h0M953 1746.9h0M953.5 1748.7h0M954 1731.2h0M954.5 1764.6h0M955 1740.9h0M955.5 1730.5h0M956 1751.7h0M956.4 1716.4h0M956.9 1758.3h0M957.4 1734.6h0M957.9 1741.3h0M958.4 1740.8h0M958.9 1748.1h0M959.4 1729.4h0M959.9 1732.2h0M960.4 1745.7h0M960.9 1729.5h0M961.4 1738.7h0M961.9 1737.1h0M962.4 1733.3h0M962.8 1727.6h0M963.3 1725.3h0M963.8 1732h0M964.3 1718.9h0M964.8 1720.2h0M965.3 1783.4h0M965.8 1739.5h0M966.3 1754.3h0M966.8 1743.9h0M967.3 1751.1h0M967.8 1741.4h0M968.3 1755.7h0M968.8 1742.7h0M969.3 1744h0M969.7 1719.5h0M970.2 1755.3h0M970.7 1736.1h0M971.2 1739h0M971.7 1746.1h0M972.2 1743.5h0M972.7 1739.2h0M973.2 1759.8h0M973.7 1725.5h0M974.2 1706.8h0M974.7 1734.4h0M975.2 1703.2h0M975.7 1736.5h0M976.2 1759.9h0M976.6 1764.4h0M977.1 1722h0M977.6 1745.8h0M978.1 1720h0M978.6 1744.9h0M979.1 1761.7h0M979.6 1729.6h0M980.1 1764.4h0M980.6 1744.1h0M981.1 1782.3h0M981.6 1730.3h0M982.1 1725.7h0M982.6 1761.3h0M983.1 1754.8h0M983.5 1749.9h0M984 1727.9h0M984.5 1742.9h0M985 1732.1h0M985.5 1765.4h0M986 1750.8h0M986.5 1730h0M987 1727.4h0M987.5 1717.4h0M988 1731.3h0M988.5 1740.5h0M989 1747.7h0M989.5 1758.2h0M990 1733.2h0M990.4 1761.2h0M990.9 1708.6h0M991.4 1739.5h0M991.9 1751.5h0M992.4 1733h0M992.9 1744.9h0M993.4 1754.2h0M993.9 1732.2h0M994.4 1744.4h0M994.9 1758.9h0M995.4 1722h0M995.9 1759.1h0M996.4 1739.2h0M996.9 1717.9h0M997.3 1747.2h0M997.8 1752h0M998.3 1738.4h0M998.8 1746.8h0M999.3 1749.2h0M999.8 1742.4h0M1000.3 1743.6h0M1000.8 1754.9h0M1001.3 1753.8h0M1001.8 1741.4h0M1002.3 1712h0M1002.8 1721h0M1003.3 1735.4h0M1003.7 1759.8h0M1004.2 1749.5h0M1004.7 1769.8h0M1005.2 1748.9h0M1005.7 1748.3h0M1006.2 1736.4h0M1006.7 1761h0M1007.2 1719.9h0M1007.7 1747h0M1008.2 1739.2h0M1008.7 1733.1h0M1009.2 1756.5h0M1009.7 1752.2h0M1010.2 1747.8h0M1010.6 1736.4h0M1011.1 1718.4h0M1011.6 1720h0M1012.1 1701h0M1012.6 1719.9h0M1013.1 1746.1h0M1013.6 1763.4h0M1014.1 1723.5h0M1014.6 1760.8h0M1015.1 1771.2h0M1015.6 1758.7h0M1016.1 1768.2h0M1016.6 1740.8h0M1017.1 1733.4h0M1017.5 1745.7h0M1018 1756.7h0M1018.5 1748.7h0M1019 1744.4h0M1019.5 1754.2h0M1020 1727.6h0M1020.5 1754h0M1021 1710h0M1021.5 1764.3h0M1022 1763.8h0M1022.5 1778.8h0M1023 1727.2h0M1023.5 1732.5h0M1024 1725.1h0M1024.4 1718.3h0M1024.9 1704.5h0M1025.4 1753.9h0M1025.9 1737.9h0M1026.4 1739.2h0M1026.9 1712.8h0M1027.4 1743.7h0M1027.9 1773.5h0M1028.4 1743.8h0M1028.9 1754.6h0M1029.4 1722.7h0M1029.9 1758.4h0M1030.4 1740.8h0M1030.9 1743.1h0M1031.3 1747h0M1031.8 1737.3h0M1032.3 1752.1h0M1032.8 1739.5h0M1033.3 1734.3h0M1033.8 1724.1h0M1034.3 1722.8h0M1034.8 1754.8h0M1035.3 1758.4h0M1035.8 1739.6h0M1036.3 1738.2h0M1036.8 1732.1h0M1037.3 1744.1h0M1037.8 1763.3h0M1038.2 1745.4h0M1038.7 1732.7h0M1039.2 1758h0M1039.7 1753.3h0M1040.2 1713h0M1040.7 1733.9h0M1041.2 1761h0M1041.7 1747.5h0M1042.2 1740.4h0M1042.7 1748h0M1043.2 1722.9h0M1043.7 1722.9h0M1044.2 1739.5h0M1044.6 1743.2h0M1045.1 1766.9h0M1045.6 1739.6h0M1046.1 1746.2h0M1046.6 1765.8h0M1047.1 1732h0M1047.6 1737h0M1048.1 1741.9h0M1048.6 1745.6h0M1049.1 1743.9h0M1049.6 1752.3h0M1050.1 1722.4h0M1050.6 1720.4h0M1051.1 1739.7h0M1051.5 1715.4h0M1052 1765.9h0M1052.5 1728.4h0M1053 1731.9h0M1053.5 1750.1h0M1054 1745.7h0M1054.5 1749.5h0M1055 1740.1h0M1055.5 1719.8h0M1056 1737.8h0M1056.5 1729.9h0M1057 1713.8h0M1057.5 1735.5h0M1058 1755h0M1058.4 1725.4h0M1058.9 1728.3h0M1059.4 1728h0M1059.9 1751.5h0M1060.4 1707.7h0M1060.9 1746.9h0M1061.4 1741.2h0M1061.9 1738h0M1062.4 1724.9h0M1062.9 1735.3h0M1063.4 1769.5h0M1063.9 1742.7h0M1064.4 1733h0M1064.9 1752.2h0M1065.3 1719.7h0M1065.8 1756.6h0M1066.3 1737.5h0M1066.8 1778.3h0M1067.3 1773.7h0M1067.8 1748.4h0M1068.3 1745.9h0M1068.8 1732.9h0M1069.3 1748.3h0M1069.8 1750.6h0M1070.3 1717.9h0M1070.8 1715.6h0M1071.3 1747.6h0M1071.8 1730.2h0M1072.2 1741.6h0M1072.7 1740.9h0M1073.2 1741.6h0M1073.7 1735.2h0M1074.2 1748.7h0M1074.7 1761.6h0M1075.2 1764.6h0M1075.7 1733.3h0M1076.2 1740.8h0M1076.7 1740.3h0M1077.2 1715.4h0M1077.7 1714.5h0M1078.2 1737h0M1078.7 1746.2h0M1079.1 1751h0M1079.6 1728.5h0M1080.1 1749.1h0M1080.6 1736.9h0M1081.1 1731.8h0M1081.6 1754.3h0M1082.1 1711.9h0M1082.6 1702.2h0M1083.1 1769.3h0M1083.6 1738.1h0M1084.1 1751.2h0M1084.6 1737.2h0M1085.1 1727.8h0M1085.5 1720.4h0M1086 1710.1h0M1086.5 1741.9h0M1087 1722.1h0M1087.5 1737h0M1088 1743.3h0M1088.5 1737.7h0M1089 1740.3h0M1089.5 1762.6h0M1090 1743.5h0M1090.5 1742.8h0M1091 1736.2h0M1091.5 1762h0M1092 1759.5h0M1092.4 1729.6h0M1092.9 1745.2h0M1093.4 1736.8h0M1093.9 1732h0M1094.4 1724.6h0M1094.9 1768.1h0M1095.4 1748h0M1095.9 1705.1h0M1096.4 1756.3h0M1096.9 1767.8h0M1097.4 1741.3h0M1097.9 1738.4h0M1098.4 1741.9h0M1098.9 1754.5h0M1099.3 1730.5h0M1099.8 1745.9h0M1100.3 1715h0M1100.8 1758.4h0M1101.3 1721.1h0M1101.8 1733.3h0M1102.3 1746h0M1102.8 1755.8h0M1103.3 1727.7h0M1103.8 1728.3h0M1104.3 1763.9h0M1104.8 1729h0M1105.3 1726h0M1105.8 1731.1h0M1106.2 1750.5h0M1106.7 1750.8h0M1107.2 1755.9h0M1107.7 1746.4h0M1108.2 1732.7h0M1108.7 1746.9h0M1109.2 1751.9h0M1109.7 1720.7h0M1110.2 1729.4h0M1110.7 1739.2h0M1111.2 1766.5h0M1111.7 1734.5h0M1112.2 1740.7h0M1112.7 1740.4h0M1113.1 1745.8h0M1113.6 1750.4h0M1114.1 1722.9h0M1114.6 1692.9h0M1115.1 1752.7h0M1115.6 1705.1h0M1116.1 1744.9h0M1116.6 1746.7h0M1117.1 1751.6h0M1117.6 1722.7h0M1118.1 1745.4h0M1118.6 1751.2h0M1119.1 1751.5h0M1119.6 1760.7h0M1120 1723.5h0M1120.5 1731.4h0M1121 1735.5h0M1121.5 1739.3h0M1122 1757.1h0M1122.5 1754h0M1123 1742h0M1123.5 1769.5h0M1124 1750.4h0M1124.5 1721h0M1125 1762h0M1125.5 1718.6h0M1126 1719.1h0M1126.4 1733.3h0M1126.9 1732.4h0M1127.4 1738.4h0M1127.9 1740.3h0M1128.4 1726.9h0M1128.9 1727.8h0M1129.4 1751.5h0M1129.9 1745.2h0M1130.4 1736.4h0M1130.9 1726.5h0M1131.4 1740.7h0M1131.9 1723.5h0M1132.4 1718.3h0M1132.9 1757.4h0M1133.3 1752h0M1133.8 1734.6h0M1134.3 1767.5h0M1134.8 1738.7h0M1135.3 1751.6h0M1135.8 1749h0M1136.3 1742.7h0M1136.8 1743h0M1137.3 1766.8h0M1137.8 1756.5h0M1138.3 1709.4h0M1138.8 1751.2h0M1139.3 1703.6h0M1139.8 1723.5h0M1140.2 1748.8h0M1140.7 1722.7h0M1141.2 1762.5h0M1141.7 1735.1h0M1142.2 1751.4h0M1142.7 1746.4h0M1143.2 1755.1h0M1143.7 1764h0M1144.2 1716.5h0M1144.7 1740.6h0M1145.2 1745h0M1145.7 1759.4h0M1146.2 1751.1h0M1146.7 1736.9h0M1147.1 1718.2h0M1147.6 1714.1h0M1148.1 1725.9h0M1148.6 1744.8h0M1149.1 1744.4h0M1149.6 1766.5h0M1150.1 1746.8h0M1150.6 1755.2h0M1151.1 1717.8h0M1151.6 1746h0M1152.1 1733.1h0M1152.6 1731.5h0M1153.1 1763.3h0M1153.6 1741.5h0M1154 1740.4h0M1154.5 1741.8h0M1155 1718.3h0M1155.5 1713.6h0M1156 1774.8h0M1156.5 1742.8h0M1157 1741.7h0M1157.5 1745.7h0M1158 1733.9h0M1158.5 1737h0M1159 1726.8h0M1159.5 1747.7h0M1160 1739.2h0M1160.5 1760h0M1160.9 1769.1h0M1161.4 1723.2h0M1161.9 1753.8h0M1162.4 1734.7h0M1162.9 1779.9h0M1163.4 1745.6h0M1163.9 1759.2h0M1164.4 1733.5h0M1164.9 1764.2h0M1165.4 1729.2h0M1165.9 1720.2h0M1166.4 1699.1h0M1166.9 1741.1h0M1167.3 1734.9h0M1167.8 1745.1h0M1168.3 1725.8h0M1168.8 1741.4h0M1169.3 1741.3h0M1169.8 1722.7h0M1170.3 1775.9h0M1170.8 1781.2h0M1171.3 1747.1h0M1171.8 1751.9h0M1172.3 1754h0M1172.8 1755.2h0M1173.3 1728.3h0M1173.8 1747.6h0M1174.2 1774.5h0M1174.7 1739.6h0M1175.2 1738.1h0M1175.7 1726.5h0M1176.2 1735.3h0M1176.7 1704.1h0M1177.2 1742.1h0M1177.7 1762.1h0M1178.2 1748.8h0M1178.7 1746h0M1179.2 1744.1h0M1179.7 1744.2h0M1180.2 1724.4h0M1180.7 1709.4h0M1181.1 1776.4h0M1181.6 1752.4h0M1182.1 1704h0M1182.6 1772.3h0M1183.1 1735.9h0M1183.6 1760.8h0M1184.1 1741.3h0M1184.6 1731.8h0M1185.1 1758.6h0M1185.6 1737.2h0M1186.1 1698.9h0M1186.6 1753.6h0M1187.1 1741.9h0M1187.6 1742.2h0M1188 1737.7h0M1188.5 1751.2h0M1189 1770.9h0M1189.5 1761.8h0M1190 1749.2h0M1190.5 1745.4h0M1191 1730.2h0M1191.5 1776.1h0M1192 1708.3h0M1192.5 1725.5h0M1193 1740.7h0M1193.5 1746.2h0M1194 1748.7h0M1194.5 1736.4h0M1194.9 1778.5h0M1195.4 1766.6h0M1195.9 1709.5h0M1196.4 1726.4h0M1196.9 1718.9h0M1197.4 1770h0M1197.9 1736h0M1198.4 1715.4h0M1198.9 1738.6h0M1199.4 1720.1h0M1199.9 1744.9h0M1200.4 1756.9h0M1200.9 1723h0M1201.4 1748.4h0M1201.8 1750h0M1202.3 1731h0M1202.8 1753.3h0M1203.3 1732.2h0M1203.8 1756.5h0M1204.3 1741.9h0M1204.8 1736.2h0M1205.3 1770.7h0M1205.8 1762.8h0M1206.3 1738.9h0M1206.8 1686h0M1207.3 1749.4h0M1207.8 1735.1h0M1208.2 1751.8h0M1208.7 1744.4h0M1209.2 1738.9h0M1209.7 1737.7h0M1210.2 1770.4h0M1210.7 1772.1h0M1211.2 1768.5h0M1211.7 1722.8h0M1212.2 1737h0M1212.7 1747.1h0M1213.2 1707.5h0M1213.7 1763.5h0M1214.2 1723h0M1214.7 1762.1h0M1215.1 1733h0M1215.6 1751h0M1216.1 1710.7h0M1216.6 1695.6h0M1217.1 1728.7h0M1217.6 1716.8h0M1218.1 1717.7h0M1218.6 1733.4h0M1219.1 1747.6h0M1219.6 1757.6h0M1220.1 1724.4h0M1220.6 1713.8h0M1221.1 1739.7h0M1221.6 1721h0M1222 1718.2h0M1222.5 1732.5h0M1223 1762.3h0M1223.5 1746.4h0M1224 1701.2h0M1224.5 1778.4h0M1225 1715.6h0M1225.5 1744h0M1226 1725.7h0M1226.5 1759.6h0M1227 1749.1h0M1227.5 1764.1h0M1228 1745.7h0M1228.5 1738.5h0M1228.9 1764.7h0M1229.4 1704.7h0M1229.9 1716.8h0M1230.4 1713.5h0M1230.9 1738.1h0M1231.4 1732h0M1231.9 1725.1h0M1232.4 1755.4h0M1232.9 1751.7h0M1233.4 1732.3h0M1233.9 1714.4h0M1234.4 1783.1h0M1234.9 1748.3h0M1235.4 1730.9h0M1235.8 1745.2h0M1236.3 1749.1h0M1236.8 1730h0M1237.3 1757.1h0M1237.8 1745.3h0M1238.3 1733.5h0M1238.8 1764.9h0M1239.3 1734.7h0M1239.8 1768.4h0M1240.3 1746.1h0M1240.8 1738.6h0M1241.3 1766.4h0M1241.8 1736.4h0M1242.3 1754.4h0M1242.7 1770h0M1243.2 1736.6h0M1243.7 1732.2h0M1244.2 1758.9h0M1244.7 1763.3h0M1245.2 1701.2h0M1245.7 1754.1h0M1246.2 1766.3h0M1246.7 1733.5h0M1247.2 1763.9h0M1247.7 1738.1h0M1248.2 1731.7h0M1248.7 1738.3h0M1249.1 1759h0M1249.6 1737.3h0M1250.1 1733.8h0M1250.6 1745.2h0M1251.1 1760.3h0M1251.6 1704.6h0M1252.1 1766.1h0M1252.6 1772.4h0M1253.1 1723.9h0M1253.6 1743h0M1254.1 1753.2h0M1254.6 1746.5h0M1255.1 1781.4h0M1255.6 1747.2h0M1256 1733.4h0M1256.5 1736.6h0M1257 1751.2h0M1257.5 1729.7h0M1258 1732.5h0M1258.5 1734.1h0M1259 1777.9h0M1259.5 1757.2h0M1260 1721.6h0M1260.5 1754.7h0M1261 1692h0M1261.5 1744.9h0M1262 1757.3h0M1262.5 1752.1h0M1262.9 1756.1h0M1263.4 1749.6h0M1263.9 1732.2h0M1264.4 1741.5h0M1264.9 1740.8h0M1265.4 1716.5h0M1265.9 1747.1h0M1266.4 1726.3h0M1266.9 1758.8h0M1267.4 1791.4h0M1267.9 1788.9h0M1268.4 1799h0M1268.9 1738.6h0M1269.4 1737.9h0M1269.8 1759.7h0M1270.3 1728.8h0M1270.8 1759.6h0M1271.3 1735.7h0M1271.8 1753.5h0M1272.3 1739.1h0M1272.8 1778.7h0M1273.3 1770.3h0M1273.8 1763.5h0M1274.3 1722.4h0M1274.8 1771.8h0M1275.3 1739.2h0M1275.8 1720.3h0M1276.3 1753.8h0M1276.7 1768.7h0M1277.2 1717.6h0M1277.7 1763.4h0M1278.2 1743.1h0M1278.7 1743.8h0M1279.2 1757.9h0M1279.7 1741.1h0M1280.2 1734.4h0M1280.7 1769.9h0M1281.2 1698h0M1281.7 1768.2h0M1282.2 1722h0M1282.7 1772.7h0M1283.2 1724.1h0M1283.6 1776h0M1284.1 1713.2h0M1284.6 1784.7h0M1285.1 1751.4h0M1285.6 1744.2h0M1286.1 1742.1h0M1286.6 1769.4h0M1287.1 1745h0M1287.6 1761.2h0M1288.1 1751.9h0M1288.6 1726.4h0M1289.1 1783.2h0M1289.6 1745.5h0M1290 1754.9h0M1290.5 1754.2h0M1291 1749.4h0M1291.5 1783.7h0M1292 1756.8h0M1292.5 1743.4h0M1293 1750.6h0M1293.5 1742.6h0M1294 1726.1h0M1294.5 1771.9h0M1295 1729.1h0M1295.5 1774.1h0M1296 1751h0M1296.5 1766h0M1296.9 1748.7h0M1297.4 1742.9h0M1297.9 1796.5h0M1298.4 1741.4h0M1298.9 1730h0M1299.4 1758.1h0M1299.9 1777.9h0M1300.4 1722.9h0M1300.9 1738.2h0M1301.4 1767h0M1301.9 1768.7h0M1302.4 1761.1h0M1302.9 1740.7h0M1303.4 1753.9h0M1303.8 1735.1h0M1304.3 1758.9h0M1304.8 1749.7h0M1305.3 1755.3h0M1305.8 1745.1h0M1306.3 1764.1h0M1306.8 1750.6h0M1307.3 1734.1h0M1307.8 1778.8h0M1308.3 1754.4h0M1308.8 1743.8h0M1309.3 1746h0M1309.8 1780.2h0M1310.3 1751.2h0M1310.7 1755.6h0M1311.2 1732.6h0M1311.7 1742.2h0M1312.2 1737.2h0M1312.7 1731.5h0M1313.2 1727.1h0M1313.7 1741.8h0M1314.2 1722h0M1314.7 1761.5h0M1315.2 1764.4h0M1315.7 1729.8h0M1316.2 1756.6h0M1316.7 1733.3h0M1317.2 1754.3h0M1317.6 1756.7h0M1318.1 1712.9h0M1318.6 1696.5h0M1319.1 1757h0M1319.6 1757h0M1320.1 1746.3h0M1320.6 1735.3h0M1321.1 1731.8h0M1321.6 1693.2h0M1322.1 1775.1h0M1322.6 1699.6h0M1323.1 1750.5h0M1323.6 1741.2h0M1324.1 1751.9h0M1324.5 1720h0M1325 1728.1h0M1325.5 1754.4h0M1326 1722h0M1326.5 1746.8h0M1327 1717.9h0M1327.5 1748.6h0M1328 1754.7h0M1328.5 1745.5h0M1329 1756h0M1329.5 1721h0M1330 1733.8h0M1330.5 1737.4h0M1330.9 1773.6h0M1331.4 1732.8h0M1331.9 1744.5h0M1332.4 1768.9h0M1332.9 1748.2h0M1333.4 1762.6h0M1333.9 1722.4h0M1334.4 1764.2h0M1334.9 1743.9h0M1335.4 1754.2h0M1335.9 1758h0M1336.4 1704.5h0M1336.9 1766.8h0M1337.4 1735h0M1337.8 1767.1h0M1338.3 1737.9h0M1338.8 1747.8h0M1339.3 1711.6h0M1339.8 1719.7h0M1340.3 1764.7h0M1340.8 1726.2h0M1341.3 1748.4h0M1341.8 1741.9h0M1342.3 1720.1h0M1342.8 1738.6h0M1343.3 1740h0M1343.8 1755.5h0M1344.3 1734.9h0M1344.7 1730.7h0M1345.2 1771.9h0M1345.7 1772.7h0M1346.2 1745.1h0M1346.7 1723h0M1347.2 1752.1h0M1347.7 1733.2h0M1348.2 1772.7h0M1348.7 1743.2h0M1349.2 1730.6h0M1349.7 1737.5h0M1350.2 1724.6h0M1350.7 1742.5h0M1351.2 1717.6h0M1351.6 1748.1h0M1352.1 1760.6h0M1352.6 1753.6h0M1353.1 1724.9h0M1353.6 1751.6h0M1354.1 1735.3h0M1354.6 1714.2h0M1355.1 1741.4h0M1355.6 1760.9h0M1356.1 1747.7h0M1356.6 1736.3h0M1357.1 1729.9h0M1357.6 1742h0M1358.1 1752.5h0M1358.5 1746.5h0M1359 1766.8h0M1359.5 1759.6h0" stroke="#00ff00" stroke-width="17" stroke-linecap="round" fill="none"/>
<path d="M374 1435.5h0M374.5 1433.2h0M375 1439.1h0M375.5 1440.3h0M376 1444.7h0M376.5 1447.1h0M376.9 1459.4h0M377.4 1446.4h0M377.9 1456.1h0M378.4 1455h0M378.9 1461.9h0M379.4 1464h0M379.9 1472.9h0M380.4 1467.7h0M380.9 1467.9h0M381.4 1475.6h0M381.9 1478.1h0M382.4 1468.8h0M382.9 1491.8h0M383.4 1480.3h0M383.8 1495.8h0M384.3 1497h0M384.8 1500.6h0M385.3 1497.1h0M385.8 1494.3h0M386.3 1497.3h0M386.8 1511h0M387.3 1504.2h0M387.8 1511.8h0M388.3 1510.1h0M388.8 1511.5h0M389.3 1523h0M389.8 1514.7h0M390.2 1521.6h0M390.7 1523.7h0M391.2 1528.9h0M391.7 1530h0M392.2 1526.9h0M392.7 1533.2h0M393.2 1536.3h0M393.7 1553.4h0M394.2 1548.5h0M394.7 1545.4h0M395.2 1549.7h0M395.7 1549.3h0M396.2 1564.7h0M396.7 1555h0M397.1 1552.1h0M397.6 1588.6h0M398.1 1558.3h0M398.6 1562.1h0M399.1 1561.8h0M399.6 1574h0M400.1 1568.7h0M400.6 1570.4h0M401.1 1585.5h0M401.6 1591.4h0M402.1 1585.6h0M402.6 1577.8h0M403.1 1591.8h0M403.6 1585.8h0M404 1595.1h0M404.5 1597.5h0M405 1588.6h0M405.5 1606.8h0M406 1602.3h0M406.5 1604.2h0M407 1598.4h0M407.5 1616.7h0M408 1605.9h0M408.5 1614.6h0M409 1607.8h0M409.5 1608.1h0M410 1610.3h0M410.5 1609.1h0M410.9 1621.6h0M411.4 1638.4h0M411.9 1638.5h0M412.4 1624.1h0M412.9 1626.8h0M413.4 1649.3h0M413.9 1644.9h0M414.4 1640.3h0M414.9 1639h0M415.4 1640.9h0M415.9 1625.5h0M416.4 1642.9h0M416.9 1669.7h0M417.4 1667.3h0M417.8 1652.3h0M418.3 1664.3h0M418.8 1664.5h0M419.3 1655.6h0M419.8 1654.5h0M420.3 1659.5h0M420.8 1668.7h0M421.3 1681.2h0M421.8 1672.5h0M422.3 1671.8h0M422.8 1670.8h0M423.3 1687h0M423.8 1692.4h0M424.3 1680.3h0M424.7 1677.1h0M425.2 1684h0M425.7 1688.2h0M426.2 1695.6h0M426.7 1695h0M427.2 1679h0M427.7 1687.1h0M428.2 1685.5h0M428.7 1697.4h0M429.2 1681.3h0M429.7 1675.7h0M430.2 1695.8h0M430.7 1691.5h0M431.1 1693.3h0M431.6 1697.8h0M432.1 1691.1h0M432.6 1702.5h0M433.1 1691.3h0M433.6 1692.1h0M434.1 1711h0M434.6 1703.4h0M435.1 1719.5h0M435.6 1712.1h0M436.1 1703h0M436.6 1705.8h0M437.1 1702h0M437.6 1713.8h0M438 1720.6h0M438.5 1716.1h0M439 1719.6h0M439.5 1708.3h0M440 1732.7h0M440.5 1726.9h0M441 1732.3h0M441.5 1710.6h0M442 1721.6h0M442.5 1716.8h0M443 1742.8h0M443.5 1724.9h0M444 1752.4h0M444.5 1733.8h0M444.9 1723.7h0M445.4 1744.4h0M445.9 1751h0M446.4 1731.1h0M446.9 1727.6h0M447.4 1734.2h0M447.9 1722.7h0M448.4 1724.9h0M448.9 1713.6h0M449.4 1731.9h0M449.9 1724.8h0M450.4 1741.8h0M450.9 1744.1h0M451.4 1753.2h0M451.8 1745.4h0M452.3 1740.8h0M452.8 1758.6h0M453.3 1737h0M453.8 1721.5h0M454.3 1730.9h0M454.8 1742.3h0M455.3 1754.2h0M455.8 1760.2h0M456.3 1737.8h0M456.8 1762.4h0M457.3 1755.2h0M457.8 1758.8h0M458.3 1740.4h0M458.7 1750h0M459.2 1728.4h0M459.7 1755.1h0M460.2 1750.2h0M460.7 1763.5h0M461.2 1769.1h0M461.7 1745.8h0M462.2 1767.9h0M462.7 1770.5h0M463.2 1755h0M463.7 1781.3h0M464.2 1750.1h0M464.7 1742.8h0M465.2 1760.8h0M465.6 1781.9h0M466.1 1768h0M466.6 1741.1h0M467.1 1756.3h0M467.6 1778h0M468.1 1754.7h0M468.6 1762.1h0M469.1 1751.8h0M469.6 1789.1h0M470.1 1786.3h0M470.6 1749.8h0M471.1 1744.3h0M471.6 1774.4h0M472 1773.7h0M472.5 1769.3h0M473 1771.6h0M473.5 1767.2h0M474 1783.4h0M474.5 1783.6h0M475 1789.8h0M475.5 1785.5h0M476 1768h0M476.5 1770.3h0M477 1773.1h0M477.5 1778.7h0M478 1769.2h0M478.5 1768h0M478.9 1776.2h0M479.4 1774.2h0M479.9 1779h0M480.4 1802.2h0M480.9 1799.3h0M481.4 1776.2h0M481.9 1784.6h0M482.4 1780.1h0M482.9 1773.3h0M483.4 1792.1h0M483.9 1759.7h0M484.4 1788.7h0M484.9 1782.3h0M485.4 1770.3h0M485.8 1793.7h0M486.3 1800.7h0M486.8 1791.6h0M487.3 1794.5h0M487.8 1777.3h0M488.3 1795.7h0M488.8 1810.4h0M489.3 1775.6h0M489.8 1821.4h0M490.3 1767.6h0M490.8 1804.6h0M491.3 1784.6h0M491.8 1796.3h0M492.3 1793.6h0M492.7 1794.5h0M493.2 1808.7h0M493.7 1791.3h0M494.2 1798.6h0M494.7 1812.6h0M495.2 1794.9h0M495.7 1767.2h0M496.2 1790h0M496.7 1790.1h0M497.2 1786h0M497.7 1808h0M498.2 1800.8h0M498.7 1788.8h0M499.2 1792.3h0M499.6 1780.3h0M500.1 1793.6h0M500.6 1828.7h0M501.1 1777.5h0M501.6 1829.9h0M502.1 1802.2h0M502.6 1800.2h0M503.1 1795.4h0M503.6 1786h0M504.1 1813.4h0M504.6 1800h0M505.1 1795.3h0M505.6 1804.4h0M506.1 1828.4h0M506.5 1799.1h0M507 1804h0M507.5 1826.6h0M508 1791.8h0M508.5 1820h0M509 1844h0M509.5 1807.8h0M510 1783.6h0M510.5 1822.9h0M511 1804.2h0M511.5 1829.2h0M512 1817.4h0M512.5 1814.2h0M512.9 1796.9h0M513.4 1828.4h0M513.9 1817.9h0M514.4 1818.1h0M514.9 1818.7h0M515.4 1819h0M515.9 1815.6h0M516.4 1811.5h0M516.9 1787.8h0M517.4 1804.4h0M517.9 1808h0M518.4 1830.9h0M518.9 1830.6h0M519.4 1799.2h0M519.8 1806.7h0M520.3 1805.3h0M520.8 1820h0M521.3 1819.9h0M521.8 1825.3h0M522.3 1806h0M522.8 1811.3h0M523.3 1849.1h0M523.8 1799.7h0M524.3 1840.3h0M524.8 1830.1h0M525.3 1833h0M525.8 1820.7h0M526.3 1819.3h0M526.7 1831.4h0M527.2 1817.5h0M527.7 1819.4h0M528.2 1816.3h0M528.7 1826.9h0M529.2 1819.6h0M529.7 1816.6h0M530.2 1830.6h0M530.7 1824.7h0M531.2 1802.4h0M531.7 1821.4h0M532.2 1843.4h0M532.7 1828.9h0M533.2 1846h0M533.6 1797.9h0M534.1 1829.1h0M534.6 1794.4h0M535.1 1832.9h0M535.6 1814.2h0M536.1 1821.6h0M536.6 1830.9h0M537.1 1812h0M537.6 1814.3h0M538.1 1819.1h0M538.6 1836h0M539.1 1845.2h0M539.6 1814.1h0M540.1 1811.9h0M540.5 1826.5h0M541 1808.1h0M541.5 1805.8h0M542 1833.6h0M542.5 1818.7h0M543 1849.2h0M543.5 1813.3h0M544 1848.7h0M544.5 1844.9h0M545 1822.7h0M545.5 1830.6h0M546 1788.9h0M546.5 1831.7h0M547 1829h0M547.4 1816.6h0M547.9 1848.2h0M548.4 1794.4h0M548.9 1839h0M549.4 1829.9h0M549.9 1832.2h0M550.4 1807.9h0M550.9 1838.7h0M551.4 1822.3h0M551.9 1832.3h0M552.4 1843.2h0M552.9 1818.1h0M553.4 1790.3h0M553.8 1835.5h0M554.3 1834.2h0M554.8 1827.7h0M555.3 1822.3h0M555.8 1818.6h0M556.3 1833.6h0M556.8 1840.4h0M557.3 1826.1h0M557.8 1850.9h0M558.3 1829.8h0M558.8 1842.5h0M559.3 1831.3h0M559.8 1833.9h0M560.3 1848h0M560.7 1843.9h0M561.2 1851.6h0M561.7 1850.8h0M562.2 1836.1h0M562.7 1846.2h0M563.2 1843h0M563.7 1842.9h0M564.2 1847.6h0M564.7 1838.1h0M565.2 1839.1h0M565.7 1844.2h0M566.2 1824.4h0M566.7 1848.9h0M567.2 1851.1h0M567.6 1809.8h0M568.1 1848h0M568.6 1828.3h0M569.1 1826.9h0M569.6 1847h0M570.1 1825.9h0M570.6 1841.2h0M571.1 1829.3h0M571.6 1821.6h0M572.1 1861.9h0M572.6 1827.5h0M573.1 1821.7h0M573.6 1832.8h0M574.1 1861.6h0M574.5 1816.2h0M575 1852.5h0M575.5 1827.9h0M576 1840.3h0M576.5 1836.6h0M577 1851h0M577.5 1827.4h0M578 1861.9h0M578.5 1832.3h0M579 1819.1h0M579.5 1839.8h0M580 1847.7h0M580.5 1846.1h0M581 1849.6h0M581.4 1834.6h0M581.9 1855.8h0M582.4 1848.3h0M582.9 1825.6h0M583.4 1832.2h0M583.9 1828.1h0M584.4 1833.8h0M584.9 1840.1h0M585.4 1831.6h0M585.9 1835.2h0M586.4 1846.5h0M586.9 1847.8h0M587.4 1855.2h0M587.9 1798.4h0M588.3 1829.3h0M588.8 1828.4h0M589.3 1830.5h0M589.8 1826.1h0M590.3 1825.7h0M590.8 1845.8h0M591.3 1852.6h0M591.8 1823.8h0M592.3 1845.8h0M592.8 1810.5h0M593.3 1843.3h0M593.8 1856.9h0M594.3 1848h0M594.7 1826.9h0M595.2 1826.3h0M595.7 1832.9h0M596.2 1851.7h0M596.7 1840.7h0M597.2 1838.9h0M597.7 1842.4h0M598.2 1823.7h0M598.7 1811h0M599.2 1829.3h0M599.7 1830.3h0M600.2 1839.4h0M600.7 1836.6h0M601.2 1872.8h0M601.6 1830.9h0M602.1 1829.4h0M602.6 1851.9h0M603.1 1836.4h0M603.6 1858h0M604.1 1857.5h0M604.6 1845.5h0M605.1 1844.6h0M605.6 1818.5h0M606.1 1850.7h0M606.6 1838.3h0M607.1 1843h0M607.6 1846.9h0M608.1 1837.6h0M608.5 1825.4h0M609 1830.3h0M609.5 1825h0M610 1846.1h0M610.5 1835.5h0M611 1836.5h0M611.5 1830.6h0M612 1834.3h0M612.5 1823.1h0M613 1836.8h0M613.5 1823.8h0M614 1838.3h0M614.5 1832.6h0M615 1840h0M615.4 1846.8h0M615.9 1840.4h0M616.4 1837.2h0M616.9 1844.7h0M617.4 1830.1h0M617.9 1835.5h0M618.4 1840.5h0M618.9 1821.4h0M619.4 1829.3h0M619.9 1858.2h0M620.4 1839h0M620.9 1838.8h0M621.4 1843h0M621.9 1835.2h0M622.3 1832.7h0M622.8 1834.1h0M623.3 1848.2h0M623.8 1854.4h0M624.3 1831.9h0M624.8 1836.5h0M625.3 1842.5h0M625.8 1826.2h0M626.3 1838.8h0M626.8 1849.1h0M627.3 1850h0M627.8 1863.4h0M628.3 1835.4h0M628.8 1838.9h0M629.2 1848h0M629.7 1842.4h0M630.2 1851h0M630.7 1839.6h0M631.2 1822h0M631.7 1831.3h0M632.2 1822.5h0M632.7 1841.3h0M633.2 1852.7h0M633.7 1845.6h0M634.2 1835.1h0M634.7 1819.7h0M635.2 1839.8h0M635.6 1833.2h0M636.1 1833.6h0M636.6 1840.3h0M637.1 1864h0M637.6 1835.9h0M638.1 1832.9h0M638.6 1825.8h0M639.1 1849.7h0M639.6 1830.9h0M640.1 1821.6h0M640.6 1835.6h0M641.1 1843.4h0M641.6 1828.1h0M642.1 1840h0M642.5 1824.1h0M643 1853.1h0M643.5 1829h0M644 1840.3h0M644.5 1831.5h0M645 1835.6h0M645.5 1844.3h0M646 1835.4h0M646.5 1840.4h0M647 1853.4h0M647.5 1867.1h0M648 1850.1h0M648.5 1842.3h0M649 1844.4h0M649.4 1829.9h0M649.9 1831.6h0M650.4 1831.5h0M650.9 1846.7h0M651.4 1841.5h0M651.9 1839.2h0M652.4 1866h0M652.9 1842.8h0M653.4 1851.2h0M653.9 1847.6h0M654.4 1843.6h0M654.9 1848.2h0M655.4 1828.7h0M655.9 1844.6h0M656.3 1853.6h0M656.8 1860h0M657.3 1841.8h0M657.8 1857.7h0M658.3 1852.2h0M658.8 1840.7h0M659.3 1829h0M659.8 1847.5h0M660.3 1838.4h0M660.8 1856h0M661.3 1848.6h0M661.8 1830.8h0M662.3 1840.7h0M662.8 1848.8h0M663.2 1857.7h0M663.7 1821h0M664.2 1850.3h0M664.7 1833.1h0M665.2 1843.3h0M665.7 1837.3h0M666.2 1854.7h0M666.7 1849.1h0M667.2 1862.8h0M667.7 1858.4h0M668.2 1839.4h0M668.7 1825.4h0M669.2 1844.1h0M669.7 1841.3h0M670.1 1847.7h0M670.6 1839.8h0M671.1 1840.7h0M671.6 1854.1h0M672.1 1849.3h0M672.6 1840.7h0M673.1 1851.1h0M673.6 1839h0M674.1 1847.7h0M674.6 1856.5h0M675.1 1843.1h0M675.6 1835.1h0M676.1 1849.2h0M676.5 1844.3h0M677 1864.5h0M677.5 1847h0M678 1842.2h0M678.5 1837.2h0M679 1827.3h0M679.5 1840.6h0M680 1848.9h0M680.5 1840h0M681 1853.2h0M681.5 1857h0M682 1855.2h0M682.5 1842.9h0M683 1841.8h0M683.4 1856.9h0M683.9 1843.3h0M684.4 1843.7h0M684.9 1844.4h0M685.4 1861.8h0M685.9 1832.5h0M686.4 1860h0M686.9 1858.1h0M687.4 1864.5h0M687.9 1854.4h0M688.4 1870.7h0M688.9 1857.4h0M689.4 1842.6h0M689.9 1837.7h0M690.3 1851h0M690.8 1855h0M691.3 1853.7h0M691.8 1860.1h0M692.3 1861.4h0M692.8 1829.2h0M693.3 1851.1h0M693.8 1851.3h0M694.3 1856.8h0M694.8 1844.4h0M695.3 1862.1h0M695.8 1852.4h0M696.3 1863.8h0M696.8 1846.4h0M697.2 1851h0M697.7 1840.6h0M698.2 1844h0M698.7 1849.7h0M699.2 1847.7h0M699.7 1855.4h0M700.2 1856.6h0M700.7 1852.8h0M701.2 1853.1h0M701.7 1843.2h0M702.2 1849.4h0M702.7 1851.2h0M703.2 1846.9h0M703.7 1860.1h0M704.1 1858.4h0M704.6 1846.5h0M705.1 1849.7h0M705.6 1853.1h0M706.1 1854.6h0M706.6 1866.8h0M707.1 1852.2h0M707.6 1848.7h0M708.1 1857.2h0M708.6 1859.6h0M709.1 1864.7h0M709.6 1845.9h0M710.1 1852.1h0M710.6 1856.3h0M711 1856h0M711.5 1841.5h0M712 1858.1h0M712.5 1867.2h0M713 1860.2h0M713.5 1853.8h0M714 1846.3h0M714.5 1846.8h0M715 1855h0M715.5 1849h0M716 1849.2h0M716.5 1841.8h0M717 1859.4h0M717.4 1862.9h0M717.9 1855.3h0M718.4 1861h0M718.9 1857.1h0M719.4 1869.9h0M719.9 1855.5h0M720.4 1856.2h0M720.9 1846.5h0M721.4 1856.1h0M721.9 1853.4h0M722.4 1852.7h0M722.9 1869.4h0M723.4 1863.4h0M723.9 1865.6h0M724.3 1859.8h0M724.8 1849.8h0M725.3 1857.8h0M725.8 1866.1h0M726.3 1850.8h0M726.8 1856.4h0M727.3 1857.8h0M727.8 1866.5h0M728.3 1858.5h0M728.8 1864.4h0M729.3 1863.8h0M729.8 1856.5h0M730.3 1860.5h0M730.8 1848.7h0M731.2 1855.1h0M731.7 1863.6h0M732.2 1862.7h0M732.7 1862.4h0M733.2 1860h0M733.7 1866.6h0M734.2 1865.1h0M734.7 1860.8h0M735.2 1847.5h0M735.7 1884.7h0M736.2 1879h0M736.7 1854.2h0M737.2 1873.1h0M737.7 1859.1h0M738.1 1870.8h0M738.6 1854.6h0M739.1 1861.3h0M739.6 1857.9h0M740.1 1867.6h0M740.6 1869h0M741.1 1862.9h0M741.6 1844h0M742.1 1862.7h0M742.6 1853.8h0M743.1 1874.6h0M743.6 1858.5h0M744.1 1845.8h0M744.6 1861.6h0M745 1852.4h0M745.5 1866.4h0M746 1853.2h0M746.5 1866.1h0M747 1850.3h0M747.5 1872.3h0M748 1862.9h0M748.5 1869h0M749 1861.7h0M749.5 1879.3h0M750 1862h0M750.5 1868.8h0M751 1862.9h0M751.5 1873.3h0M751.9 1852.8h0M752.4 1851.9h0M752.9 1868.1h0M753.4 1858.5h0M753.9 1856.6h0M754.4 1867.9h0M754.9 1864.2h0M755.4 1845.5h0M755.9 1865.3h0M756.4 1860.4h0M756.9 1856.6h0M757.4 1870.5h0M757.9 1869.2h0M758.3 1875.5h0M758.8 1861.1h0M759.3 1858.1h0M759.8 1884.7h0M760.3 1871.8h0M760.8 1870.8h0M761.3 1858.9h0M761.8 1862.3h0M762.3 1871.7h0M762.8 1843.4h0M763.3 1856.1h0M763.8 1868.1h0M764.3 1851.8h0M764.8 1871.3h0M765.2 1864.5h0M765.7 1853.4h0M766.2 1866.1h0M766.7 1866.5h0M767.2 1865.7h0M767.7 1870.8h0M768.2 1854.9h0M768.7 1862.7h0M769.2 1870.4h0M769.7 1868.7h0M770.2 1868.4h0M770.7 1887.7h0M771.2 1863.7h0M771.7 1862.4h0M772.1 1871.4h0M772.6 1865.2h0M773.1 1873.6h0M773.6 1865.4h0M774.1 1879.8h0M774.6 1861.9h0M775.1 1864.9h0M775.6 1873.4h0M776.1 1867.4h0M776.6 1873.7h0M777.1 1872.7h0M777.6 1873.6h0M778.1 1857.7h0M778.6 1873.8h0M779 1867.6h0M779.5 1869.6h0M780 1860.9h0M780.5 1871.1h0M781 1873.5h0M781.5 1870.2h0M782 1871.3h0M782.5 1868.8h0M783 1866h0M783.5 1871.2h0M784 1866.2h0M784.5 1866.6h0M785 1871h0M785.5 1874.9h0M785.9 1880.6h0M786.4 1876.1h0M786.9 1868.3h0M787.4 1861.7h0M787.9 1870.1h0M788.4 1860.1h0M788.9 1860.1h0M789.4 1853.3h0M789.9 1876.9h0M790.4 1876.2h0M790.9 1859.5h0M791.4 1868.5h0M791.9 1870.4h0M792.4 1879.2h0M792.8 1878.4h0M793.3 1860.9h0M793.8 1870.1h0M794.3 1855.7h0M794.8 1866.7h0M795.3 1867.9h0M795.8 1865.4h0M796.3 1858.9h0M796.8 1864.9h0M797.3 1883.7h0M797.8 1862.7h0M798.3 1867.5h0M798.8 1874.7h0M799.2 1873.8h0M799.7 1864.6h0M800.2 1878.5h0M800.7 1878.4h0M801.2 1869.1h0M801.7 1869.9h0M802.2 1866.7h0M802.7 1871.8h0M803.2 1869.8h0M803.7 1876.3h0M804.2 1854.6h0M804.7 1874.7h0M805.2 1866.6h0M805.7 1878.6h0M806.1 1876.6h0M806.6 1866.3h0M807.1 1867.3h0M807.6 1863.9h0M808.1 1859.7h0M808.6 1865.8h0M809.1 1873.4h0M809.6 1865.5h0M810.1 1857.1h0M810.6 1867h0M811.1 1858.9h0M811.6 1867.4h0M812.1 1872.2h0M812.6 1874.2h0M813 1875.8h0M813.5 1860.6h0M814 1847h0M814.5 1866.6h0M815 1865h0M815.5 1872.5h0M816 1872h0M816.5 1864.5h0M817 1867.2h0M817.5 1873.4h0M818 1861.4h0M818.5 1849.8h0M819 1869.2h0M819.5 1867.7h0M819.9 1862.5h0M820.4 1876.5h0M820.9 1865.5h0M821.4 1860.7h0M821.9 1868.3h0M822.4 1880.1h0M822.9 1857.9h0M823.4 1873h0M823.9 1856.4h0M824.4 1871.9h0M824.9 1862.6h0M825.4 1863h0M825.9 1871.7h0M826.4 1886h0M826.8 1852.4h0M827.3 1864.4h0M827.8 1859.8h0M828.3 1875.4h0M828.8 1866.8h0M829.3 1859.2h0M829.8 1872.9h0M830.3 1871.3h0M830.8 1865.2h0M831.3 1872.5h0M831.8 1868.8h0M832.3 1873.6h0M832.8 1857.5h0M833.3 1871.1h0M833.7 1873.4h0M834.2 1859.1h0M834.7 1894.1h0M835.2 1878.2h0M835.7 1868.2h0M836.2 1861.7h0M836.7 1864.2h0M837.2 1865.9h0M837.7 1869.7h0M838.2 1855.5h0M838.7 1857.1h0M839.2 1876.4h0M839.7 1855.3h0M840.1 1882h0M840.6 1864.9h0M841.1 1854.4h0M841.6 1858.9h0M842.1 1879.4h0M842.6 1867.8h0M843.1 1857.7h0M843.6 1876.1h0M844.1 1870h0M844.6 1860.8h0M845.1 1856.9h0M845.6 1853.5h0M846.1 1866.2h0M846.6 1870h0M847 1878h0M847.5 1878.4h0M848 1874h0M848.5 1854.1h0M849 1861.2h0M849.5 1870.2h0M850 1863.9h0M850.5 1866.9h0M851 1862.4h0M851.5 1866h0M852 1874.1h0M852.5 1870.1h0M853 1854.3h0M853.5 1862.2h0M853.9 1856.5h0M854.4 1852.6h0M854.9 1873.8h0M855.4 1865.7h0M855.9 1885.8h0M856.4 1871.4h0M856.9 1870.1h0M857.4 1861.7h0M857.9 1859.9h0M858.4 1872.2h0M858.9 1861.8h0M859.4 1878.7h0M859.9 1874h0M860.4 1874h0M860.8 1867.6h0M861.3 1858.5h0M861.8 1876h0M862.3 1861.4h0M862.8 1866.1h0M863.3 1872.6h0M863.8 1863.2h0M864.3 1862.5h0M864.8 1855.1h0M865.3 1875h0M865.8 1880.3h0M866.3 1859.1h0M866.8 1875.8h0M867.3 1882.2h0M867.7 1881h0M868.2 1875.1h0M868.7 1861h0M869.2 1854.5h0M869.7 1860.8h0M870.2 1870.8h0M870.7 1878.3h0M871.2 1877.6h0M871.7 1865.8h0M872.2 1870.4h0M872.7 1863.3h0M873.2 1851.8h0M873.7 1861.3h0M874.2 1875.7h0M874.6 1873.4h0M875.1 1867.8h0M875.6 1867.1h0M876.1 1886.4h0M876.6 1870.8h0M877.1 1864.4h0M877.6 1855.1h0M878.1 1861.5h0M878.6 1870.1h0M879.1 1862.3h0M879.6 1870.8h0M880.1 1862.6h0M880.6 1889.5h0M881 1863.2h0M881.5 1874.3h0M882 1860.3h0M882.5 1869.1h0M883 1874h0M883.5 1868.4h0M884 1852.1h0M884.5 1878.8h0M885 1872.2h0M885.5 1858.5h0M886 1862.2h0M886.5 1871.4h0M887 1859.1h0M887.5 1871.1h0M887.9 1854.9h0M888.4 1866.6h0M888.9 1872.4h0M889.4 1861.9h0M889.9 1866.6h0M890.4 1868.7h0M890.9 1877.8h0M891.4 1875.7h0M891.9 1867.3h0M892.4 1867.7h0M892.9 1862.1h0M893.4 1861.9h0M893.9 1861.2h0M894.4 1860.2h0M894.8 1872.3h0M895.3 1862.6h0M895.8 1857.4h0M896.3 1857.6h0M896.8 1863.7h0M897.3 1868.5h0M897.8 1859.5h0M898.3 1855.7h0M898.8 1866h0M899.3 1872.6h0M899.8 1855.6h0M900.3 1860.6h0M900.8 1847.9h0M901.3 1885.1h0M901.7 1855.2h0M902.2 1853.8h0M902.7 1866.2h0M903.2 1861.1h0M903.7 1870.7h0M904.2 1856.8h0M904.7 1865h0M905.2 1865.9h0M905.7 1868.7h0M906.2 1880.2h0M906.7 1863.7h0M907.2 1856.8h0M907.7 1867.9h0M908.2 1857.9h0M908.6 1872.1h0M909.1 1866.5h0M909.6 1865.1h0M910.1 1850.5h0M910.6 1850.7h0M911.1 1858.8h0M911.6 1863.5h0M912.1 1845.9h0M912.6 1859.6h0M913.1 1865.8h0M913.6 1858.5h0M914.1 1871.9h0M914.6 1866h0M915.1 1877.4h0M915.5 1857.7h0M916 1867.8h0M916.5 1839.8h0M917 1856.7h0M917.5 1872.1h0M918 1860.2h0M918.5 1859.2h0M919 1853h0M919.5 1878.4h0M920 1874.8h0M920.5 1863.4h0M921 1866.6h0M921.5 1863.6h0M921.9 1851.4h0M922.4 1866.5h0M922.9 1858.8h0M923.4 1856.6h0M923.9 1873.1h0M924.4 1863.8h0M924.9 1854.5h0M925.4 1868.3h0M925.9 1863.1h0M926.4 1866.5h0M926.9 1862.4h0M927.4 1866.2h0M927.9 1866h0M928.4 1855.5h0M928.8 1882.2h0M929.3 1865.7h0M929.8 1841.5h0M930.3 1872.3h0M930.8 1850.3h0M931.3 1866.8h0M931.8 1877.2h0M932.3 1860.7h0M932.8 1862.4h0M933.3 1873.8h0M933.8 1868.9h0M934.3 1868.2h0M934.8 1861.8h0M935.3 1863.8h0M935.7 1846.4h0M936.2 1859.5h0M936.7 1862.1h0M937.2 1868.8h0M937.7 1867.6h0M938.2 1851.5h0M938.7 1856.2h0M939.2 1843.1h0M939.7 1861.5h0M940.2 1876.3h0M940.7 1864.3h0M941.2 1855.8h0M941.7 1863.8h0M942.2 1861h0M942.6 1851.5h0M943.1 1854.4h0M943.6 1860.6h0M944.1 1869.7h0M944.6 1857h0M945.1 1856.2h0M945.6 1849.7h0M946.1 1861.8h0M946.6 1852.4h0M947.1 1878.3h0M947.6 1862.9h0M948.1 1834.3h0M948.6 1874.6h0M949.1 1864.5h0M949.5 1861.4h0M950 1863.4h0M950.5 1856.3h0M951 1853.6h0M951.5 1855h0M952 1860.3h0M952.5 1865.3h0M953 1879.3h0M953.5 1865.2h0M954 1869.3h0M954.5 1870.7h0M955 1854.8h0M955.5 1853h0M956 1854.1h0M956.4 1875.9h0M956.9 1849.4h0M957.4 1867.2h0M957.9 1854.4h0M958.4 1885.4h0M958.9 1849.7h0M959.4 1850.7h0M959.9 1857.4h0M960.4 1851.7h0M960.9 1868.9h0M961.4 1870.5h0M961.9 1870.9h0M962.4 1881.2h0M962.8 1853.6h0M963.3 1863.6h0M963.8 1858.6h0M964.3 1855.5h0M964.8 1865.4h0M965.3 1882.3h0M965.8 1853.9h0M966.3 1882.5h0M966.8 1865.3h0M967.3 1858.1h0M967.8 1851.6h0M968.3 1870.3h0M968.8 1863.8h0M969.3 1861h0M969.7 1856.8h0M970.2 1861h0M970.7 1859h0M971.2 1863.6h0M971.7 1845.3h0M972.2 1864.6h0M972.7 1871.5h0M973.2 1869.8h0M973.7 1849.8h0M974.2 1863.3h0M974.7 1865h0M975.2 1872.9h0M975.7 1870.5h0M976.2 1871.9h0M976.6 1861h0M977.1 1868.7h0M977.6 1861.2h0M978.1 1859.5h0M978.6 1847.8h0M979.1 1865.3h0M979.6 1860.4h0M980.1 1847.7h0M980.6 1874.5h0M981.1 1858.6h0M981.6 1865.8h0M982.1 1865.4h0M982.6 1860.4h0M983.1 1864.1h0M983.5 1870.7h0M984 1854.9h0M984.5 1849.7h0M985 1871.8h0M985.5 1867.1h0M986 1855.2h0M986.5 1872.1h0M987 1851h0M987.5 1863.3h0M988 1865.5h0M988.5 1862.4h0M989 1866.6h0M989.5 1857.7h0M990 1847h0M990.4 1856.7h0M990.9 1867.7h0M991.4 1862.7h0M991.9 1861.9h0M992.4 1859.3h0M992.9 1872.6h0M993.4 1857.4h0M993.9 1864.9h0M994.4 1865h0M994.9 1853.5h0M995.4 1869.8h0M995.9 1866.5h0M996.4 1867.8h0M996.9 1849.5h0M997.3 1873.4h0M997.8 1858.5h0M998.3 1861.8h0M998.8 1865.9h0M999.3 1870.5h0M999.8 1856.9h0M1000.3 1865.1h0M1000.8 1862.2h0M1001.3 1861.7h0M1001.8 1861.8h0M1002.3 1852.9h0M1002.8 1861.4h0M1003.3 1873.1h0M1003.7 1852.4h0M1004.2 1846.5h0M1004.7 1875.1h0M1005.2 1848.8h0M1005.7 1858.5h0M1006.2 1855.8h0M1006.7 1863.8h0M1007.2 1858h0M1007.7 1865.9h0M1008.2 1857h0M1008.7 1851h0M1009.2 1884.1h0M1009.7 1862.5h0M1010.2 1866.3h0M1010.6 1849.6h0M1011.1 1854.7h0M1011.6 1856.9h0M1012.1 1870.8h0M1012.6 1853.7h0M1013.1 1866.2h0M1013.6 1858.6h0M1014.1 1855.2h0M1014.6 1868.5h0M1015.1 1864.5h0M1015.6 1851.8h0M1016.1 1867.9h0M1016.6 1849.4h0M1017.1 1866.4h0M1017.5 1860.8h0M1018 1883h0M1018.5 1866.6h0M1019 1882h0M1019.5 1867.3h0M1020 1858h0M1020.5 1868.6h0M1021 1847.6h0M1021.5 1850h0M1022 1860.6h0M1022.5 1876.2h0M1023 1870.4h0M1023.5 1848.5h0M1024 1841.8h0M1024.4 1864.2h0M1024.9 1846.4h0M1025.4 1850.5h0M1025.9 1855.1h0M1026.4 1851.8h0M1026.9 1853h0M1027.4 1858.9h0M1027.9 1870.4h0M1028.4 1854.8h0M1028.9 1861.5h0M1029.4 1865.3h0M1029.9 1865.8h0M1030.4 1860.1h0M1030.9 1853.8h0M1031.3 1860.3h0M1031.8 1846.8h0M1032.3 1860.1h0M1032.8 1873h0M1033.3 1866.6h0M1033.8 1831.9h0M1034.3 1866.2h0M1034.8 1866.3h0M1035.3 1857.6h0M1035.8 1867.5h0M1036.3 1867.3h0M1036.8 1859.4h0M1037.3 1858.4h0M1037.8 1849.5h0M1038.2 1870.8h0M1038.7 1839.3h0M1039.2 1864.3h0M1039.7 1857.2h0M1040.2 1861.4h0M1040.7 1856.7h0M1041.2 1860.1h0M1041.7 1852.2h0M1042.2 1851.6h0M1042.7 1876.9h0M1043.2 1857.4h0M1043.7 1873.9h0M1044.2 1868.2h0M1044.6 1862.6h0M1045.1 1863.7h0M1045.6 1860.3h0M1046.1 1870h0M1046.6 1859.7h0M1047.1 1857h0M1047.6 1867.2h0M1048.1 1860.6h0M1048.6 1865.8h0M1049.1 1854.5h0M1049.6 1860.1h0M1050.1 1869.9h0M1050.6 1869.8h0M1051.1 1849.9h0M1051.5 1859.5h0M1052 1850.1h0M1052.5 1868.1h0M1053 1851.2h0M1053.5 1842.9h0M1054 1849.1h0M1054.5 1848.7h0M1055 1883.5h0M1055.5 1854.5h0M1056 1867.6h0M1056.5 1853h0M1057 1864h0M1057.5 1872.4h0M1058 1869.3h0M1058.4 1873.4h0M1058.9 1869.5h0M1059.4 1858.1h0M1059.9 1865.1h0M1060.4 1861.6h0M1060.9 1855.4h0M1061.4 1881.2h0M1061.9 1850.7h0M1062.4 1847.7h0M1062.9 1855h0M1063.4 1871h0M1063.9 1856.3h0M1064.4 1862.7h0M1064.9 1853.2h0M1065.3 1872.2h0M1065.8 1863.5h0M1066.3 1861.1h0M1066.8 1874.3h0M1067.3 1852.1h0M1067.8 1874.7h0M1068.3 1868.7h0M1068.8 1848.5h0M1069.3 1858.7h0M1069.8 1865.3h0M1070.3 1849.9h0M1070.8 1852.1h0M1071.3 1874.4h0M1071.8 1887.5h0M1072.2 1876.6h0M1072.7 1866.5h0M1073.2 1861.8h0M1073.7 1850.9h0M1074.2 1868.3h0M1074.7 1855.7h0M1075.2 1861.2h0M1075.7 1862.1h0M1076.2 1869.2h0M1076.7 1866.4h0M1077.2 1839.3h0M1077.7 1855h0M1078.2 1870.5h0M1078.7 1873.7h0M1079.1 1868.7h0M1079.6 1871h0M1080.1 1850.2h0M1080.6 1860.5h0M1081.1 1862h0M1081.6 1870.3h0M1082.1 1862.2h0M1082.6 1856h0M1083.1 1870.6h0M1083.6 1861.8h0M1084.1 1867.3h0M1084.6 1845h0M1085.1 1862.4h0M1085.5 1866.7h0M1086 1875.6h0M1086.5 1862.2h0M1087 1845.5h0M1087.5 1848.6h0M1088 1872.4h0M1088.5 1871.3h0M1089 1859.3h0M1089.5 1852.9h0M1090 1872h0M1090.5 1856.1h0M1091 1860.7h0M1091.5 1846.6h0M1092 1835.2h0M1092.4 1863.3h0M1092.9 1879.4h0M1093.4 1858.2h0M1093.9 1848.9h0M1094.4 1874.5h0M1094.9 1851.3h0M1095.4 1840.1h0M1095.9 1856h0M1096.4 1864.2h0M1096.9 1852.8h0M1097.4 1861.1h0M1097.9 1861.2h0M1098.4 1861.7h0M1098.9 1876.2h0M1099.3 1863h0M1099.8 1866.8h0M1100.3 1874.6h0M1100.8 1858h0M1101.3 1870.1h0M1101.8 1855.4h0M1102.3 1861.9h0M1102.8 1860.6h0M1103.3 1871.4h0M1103.8 1870.4h0M1104.3 1854.5h0M1104.8 1851.5h0M1105.3 1850.2h0M1105.8 1851.8h0M1106.2 1854.9h0M1106.7 1860.9h0M1107.2 1853h0M1107.7 1879.9h0M1108.2 1873.9h0M1108.7 1882.5h0M1109.2 1866.6h0M1109.7 1868.7h0M1110.2 1859.7h0M1110.7 1873.8h0M1111.2 1867.5h0M1111.7 1861.1h0M1112.2 1866.1h0M1112.7 1880.9h0M1113.1 1878.6h0M1113.6 1862.4h0M1114.1 1842.6h0M1114.6 1833.3h0M1115.1 1861.5h0M1115.6 1861.5h0M1116.1 1861.6h0M1116.6 1866.1h0M1117.1 1867.5h0M1117.6 1854.2h0M1118.1 1856.2h0M1118.6 1878.4h0M1119.1 1884.9h0M1119.6 1864.3h0M1120 1864.3h0M1120.5 1871.5h0M1121 1866.6h0M1121.5 1863.7h0M1122 1862.9h0M1122.5 1877.9h0M1123 1856h0M1123.5 1868.6h0M1124 1851.6h0M1124.5 1868.8h0M1125 1866.5h0M1125.5 1862.3h0M1126 1866.9h0M1126.4 1845.9h0M1126.9 1855.4h0M1127.4 1858.9h0M1127.9 1864.3h0M1128.4 1863h0M1128.9 1856.2h0M1129.4 1864h0M1129.9 1867h0M1130.4 1888.8h0M1130.9 1865.3h0M1131.4 1866.9h0M1131.9 1866.6h0M1132.4 1860.4h0M1132.9 1859.2h0M1133.3 1871.4h0M1133.8 1861h0M1134.3 1858.7h0M1134.8 1863.5h0M1135.3 1879.8h0M1135.8 1852h0M1136.3 1859.9h0M1136.8 1866.7h0M1137.3 1869.8h0M1137.8 1880.7h0M1138.3 1884.1h0M1138.8 1857.7h0M1139.3 1871.7h0M1139.8 1883.6h0M1140.2 1875.9h0M1140.7 1855.7h0M1141.2 1858.2h0M1141.7 1865.2h0M1142.2 1872.8h0M1142.7 1854h0M1143.2 1872.9h0M1143.7 1857.8h0M1144.2 1870.8h0M1144.7 1871.8h0M1145.2 1869.1h0M1145.7 1874.8h0M1146.2 1864.3h0M1146.7 1866.4h0M1147.1 1877.7h0M1147.6 1858.6h0M1148.1 1858.2h0M1148.6 1850.2h0M1149.1 1881.7h0M1149.6 1856.7h0M1150.1 1873.8h0M1150.6 1865.3h0M1151.1 1869h0M1151.6 1860.4h0M1152.1 1863h0M1152.6 1874.3h0M1153.1 1865.4h0M1153.6 1854h0M1154 1862.5h0M1154.5 1850.1h0M1155 1869.3h0M1155.5 1872.9h0M1156 1866.2h0M1156.5 1879.4h0M1157 1879.8h0M1157.5 1862.2h0M1158 1874.7h0M1158.5 1861.2h0M1159 1865.6h0M1159.5 1861.4h0M1160 1864.8h0M1160.5 1851.6h0M1160.9 1862h0M1161.4 1850.9h0M1161.9 1879.8h0M1162.4 1858.7h0M1162.9 1863.2h0M1163.4 1848.1h0M1163.9 1856.8h0M1164.4 1869.4h0M1164.9 1842.8h0M1165.4 1867.4h0M1165.9 1859.2h0M1166.4 1886.1h0M1166.9 1871.3h0M1167.3 1873.7h0M1167.8 1867.8h0M1168.3 1875.2h0M1168.8 1852.9h0M1169.3 1882.1h0M1169.8 1872.9h0M1170.3 1848.6h0M1170.8 1868.8h0M1171.3 1865.3h0M1171.8 1880.4h0M1172.3 1862.4h0M1172.8 1865.8h0M1173.3 1869.9h0M1173.8 1863.4h0M1174.2 1882.8h0M1174.7 1870.2h0M1175.2 1858.7h0M1175.7 1867.7h0M1176.2 1863.3h0M1176.7 1882.8h0M1177.2 1854.3h0M1177.7 1846.9h0M1178.2 1887.5h0M1178.7 1865.6h0M1179.2 1877.7h0M1179.7 1866.1h0M1180.2 1861h0M1180.7 1871.6h0M1181.1 1866.9h0M1181.6 1859.5h0M1182.1 1846.3h0M1182.6 1869.3h0M1183.1 1880.3h0M1183.6 1878.1h0M1184.1 1851.8h0M1184.6 1880.6h0M1185.1 1851.8h0M1185.6 1861.1h0M1186.1 1867h0M1186.6 1866.9h0M1187.1 1857.8h0M1187.6 1863.1h0M1188 1867.6h0M1188.5 1867.6h0M1189 1873.7h0M1189.5 1876.1h0M1190 1867.9h0M1190.5 1859.2h0M1191 1874.3h0M1191.5 1866.4h0M1192 1858.4h0M1192.5 1841.6h0M1193 1868.4h0M1193.5 1873.5h0M1194 1877.5h0M1194.5 1856.3h0M1194.9 1865.7h0M1195.4 1848.2h0M1195.9 1868.1h0M1196.4 1869h0M1196.9 1857.5h0M1197.4 1871.7h0M1197.9 1876.7h0M1198.4 1877.2h0M1198.9 1857h0M1199.4 1866.8h0M1199.9 1877.5h0M1200.4 1864.7h0M1200.9 1862.7h0M1201.4 1864h0M1201.8 1876h0M1202.3 1864.3h0M1202.8 1847.1h0M1203.3 1873.8h0M1203.8 1896.6h0M1204.3 1871.7h0M1204.8 1881.4h0M1205.3 1870.4h0M1205.8 1864.7h0M1206.3 1856.4h0M1206.8 1872.4h0M1207.3 1867.1h0M1207.8 1876.7h0M1208.2 1868.8h0M1208.7 1874.1h0M1209.2 1845.8h0M1209.7 1870.7h0M1210.2 1873.7h0M1210.7 1870.5h0M1211.2 1881.3h0M1211.7 1866.3h0M1212.2 1874.1h0M1212.7 1846.5h0M1213.2 1875.1h0M1213.7 1874.8h0M1214.2 1857.7h0M1214.7 1843.7h0M1215.1 1856.4h0M1215.6 1866.1h0M1216.1 1883.6h0M1216.6 1854h0M1217.1 1871.1h0M1217.6 1872.9h0M1218.1 1872.1h0M1218.6 1859.2h0M1219.1 1873.3h0M1219.6 1851.8h0M1220.1 1845.7h0M1220.6 1865.3h0M1221.1 1856.9h0M1221.6 1842.1h0M1222 1880.1h0M1222.5 1874.4h0M1223 1872.6h0M1223.5 1856.3h0M1224 1858.8h0M1224.5 1849.4h0M1225 1866h0M1225.5 1863.3h0M1226 1865.8h0M1226.5 1881.8h0M1227 1860.8h0M1227.5 1864.4h0M1228 1850.5h0M1228.5 1883h0M1228.9 1879.5h0M1229.4 1841.8h0M1229.9 1842.7h0M1230.4 1884.5h0M1230.9 1887.3h0M1231.4 1874.2h0M1231.9 1882h0M1232.4 1852.6h0M1232.9 1867.5h0M1233.4 1875.9h0M1233.9 1864.9h0M1234.4 1856.4h0M1234.9 1865h0M1235.4 1857.4h0M1235.8 1887.4h0M1236.3 1862.7h0M1236.8 1859.3h0M1237.3 1846.2h0M1237.8 1882.7h0M1238.3 1864.8h0M1238.8 1872.9h0M1239.3 1865.6h0M1239.8 1869.8h0M1240.3 1867.1h0M1240.8 1860.2h0M1241.3 1871.9h0M1241.8 1858h0M1242.3 1869.9h0M1242.7 1870.9h0M1243.2 1875.6h0M1243.7 1857.1h0M1244.2 1892.5h0M1244.7 1869.1h0M1245.2 1854h0M1245.7 1848.5h0M1246.2 1867.6h0M1246.7 1865.6h0M1247.2 1873.5h0M1247.7 1849.4h0M1248.2 1865.8h0M1248.7 1871.1h0M1249.1 1877h0M1249.6 1847.2h0M1250.1 1859.5h0M1250.6 1857.6h0M1251.1 1864.8h0M1251.6 1862.9h0M1252.1 1867.2h0M1252.6 1856.1h0M1253.1 1870.7h0M1253.6 1849.1h0M1254.1 1865.5h0M1254.6 1889.4h0M1255.1 1854.8h0M1255.6 1885.7h0M1256 1880.6h0M1256.5 1860.8h0M1257 1871.4h0M1257.5 1872.7h0M1258 1855.3h0M1258.5 1842.9h0M1259 1863h0M1259.5 1851.4h0M1260 1872.2h0M1260.5 1847.2h0M1261 1889.1h0M1261.5 1892.6h0M1262 1857.7h0M1262.5 1843.5h0M1262.9 1869.7h0M1263.4 1860.2h0M1263.9 1864.8h0M1264.4 1848.4h0M1264.9 1849.8h0M1265.4 1871.9h0M1265.9 1851.2h0M1266.4 1843.5h0M1266.9 1871.7h0M1267.4 1872.6h0M1267.9 1862.4h0M1268.4 1854.2h0M1268.9 1884.2h0M1269.4 1861.9h0M1269.8 1873.5h0M1270.3 1851h0M1270.8 1850.6h0M1271.3 1868.4h0M1271.8 1883.2h0M1272.3 1854.5h0M1272.8 1859.6h0M1273.3 1861.7h0M1273.8 1881.8h0M1274.3 1865.9h0M1274.8 1870.7h0M1275.3 1876.5h0M1275.8 1874.4h0M1276.3 1884.9h0M1276.7 1851.7h0M1277.2 1869.7h0M1277.7 1870.6h0M1278.2 1852.7h0M1278.7 1868h0M1279.2 1869.4h0M1279.7 1862.3h0M1280.2 1859h0M1280.7 1880.7h0M1281.2 1869.6h0M1281.7 1865.8h0M1282.2 1869.7h0M1282.7 1861.2h0M1283.2 1869.4h0M1283.6 1872.3h0M1284.1 1857.2h0M1284.6 1865.8h0M1285.1 1866h0M1285.6 1868.6h0M1286.1 1862.3h0M1286.6 1866.7h0M1287.1 1861.5h0M1287.6 1856.9h0M1288.1 1860.9h0M1288.6 1848.8h0M1289.1 1873.6h0M1289.6 1870.8h0M1290 1856.9h0M1290.5 1856.2h0M1291 1856.9h0M1291.5 1853.3h0M1292 1854h0M1292.5 1872.6h0M1293 1863.3h0M1293.5 1876.9h0M1294 1872.5h0M1294.5 1871.6h0M1295 1852.1h0M1295.5 1886.8h0M1296 1864.9h0M1296.5 1840.9h0M1296.9 1864h0M1297.4 1862.8h0M1297.9 1873.3h0M1298.4 1855.2h0M1298.9 1868.5h0M1299.4 1862.7h0M1299.9 1880.6h0M1300.4 1863.5h0M1300.9 1872.5h0M1301.4 1878.3h0M1301.9 1857.7h0M1302.4 1870.5h0M1302.9 1867.2h0M1303.4 1885.3h0M1303.8 1874h0M1304.3 1858.9h0M1304.8 1888.3h0M1305.3 1861.1h0M1305.8 1866.7h0M1306.3 1868.6h0M1306.8 1873.9h0M1307.3 1859.7h0M1307.8 1864.7h0M1308.3 1863.1h0M1308.8 1869.6h0M1309.3 1858.1h0M1309.8 1862.5h0M1310.3 1851.5h0M1310.7 1887.1h0M1311.2 1873.4h0M1311.7 1881.7h0M1312.2 1859.3h0M1312.7 1847.3h0M1313.2 1848.9h0M1313.7 1853.1h0M1314.2 1873.4h0M1314.7 1863h0M1315.2 1861.3h0M1315.7 1853.1h0M1316.2 1886.6h0M1316.7 1851.9h0M1317.2 1864.9h0M1317.6 1864.3h0M1318.1 1865.9h0M1318.6 1865.7h0M1319.1 1871.7h0M1319.6 1897.9h0M1320.1 1880.5h0M1320.6 1871.3h0M1321.1 1855.6h0M1321.6 1885.1h0M1322.1 1885.8h0M1322.6 1861.2h0M1323.1 1874.1h0M1323.6 1841.1h0M1324.1 1856.1h0M1324.5 1880.7h0M1325 1848.1h0M1325.5 1875.4h0M1326 1880.8h0M1326.5 1851.5h0M1327 1866.6h0M1327.5 1885.3h0M1328 1895.8h0M1328.5 1869.1h0M1329 1885.7h0M1329.5 1858.8h0M1330 1860.7h0M1330.5 1873.6h0M1330.9 1877.2h0M1331.4 1870.8h0M1331.9 1882h0M1332.4 1878.6h0M1332.9 1884.6h0M1333.4 1878.4h0M1333.9 1870.3h0M1334.4 1871.5h0M1334.9 1868.9h0M1335.4 1871.8h0M1335.9 1882.9h0M1336.4 1881.9h0M1336.9 1886h0M1337.4 1881h0M1337.8 1880.8h0M1338.3 1861h0M1338.8 1866.3h0M1339.3 1865h0M1339.8 1861.6h0M1340.3 1841.8h0M1340.8 1878h0M1341.3 1857.5h0M1341.8 1860.9h0M1342.3 1861.1h0M1342.8 1887.5h0M1343.3 1874.3h0M1343.8 1886.6h0M1344.3 1869.1h0M1344.7 1878.5h0M1345.2 1878.6h0M1345.7 1867.7h0M1346.2 1871.1h0M1346.7 1849.6h0M1347.2 1857h0M1347.7 1870.2h0M1348.2 1842.3h0M1348.7 1871.6h0M1349.2 1870.8h0M1349.7 1861h0M1350.2 1877.6h0M1350.7 1874.3h0M1351.2 1881.7h0M1351.6 1871h0M1352.1 1875.7h0M1352.6 1872.3h0M1353.1 1853.1h0M1353.6 1868.3h0M1354.1 1866.9h0M1354.6 1869.5h0M1355.1 1868.8h0M1355.6 1877.6h0M1356.1 1867.6h0M1356.6 1860h0M1357.1 1874.6h0M1357.6 1844.3h0M1358.1 1851.8h0M1358.5 1881.8h0M1359 1851.3h0M1359.5 1871.1h0" stroke="#0000ff" stroke-width="17" stroke-linecap="round" fill="none"/>
<polyline points="371.0,1328.9 372.2,1330.4 373.5,1332.3 374.7,1334.4 376.0,1336.5 377.2,1338.7 378.5,1341.0 379.7,1343.4 381.0,1345.7 382.2,1348.1 383.4,1350.6 384.7,1353.0 385.9,1355.5 387.2,1358.0 388.4,1360.5 389.7,1363.0 390.9,1365.6 392.2,1368.1 393.4,1370.6 394.7,1373.2 395.9,1375.7 397.1,1378.3 398.4,1380.9 399.6,1383.4 400.9,1386.0 402.1,1388.5 403.4,1391.0 404.6,1393.6 405.9,1396.1 407.1,1398.6 408.4,1401.2 409.6,1403.7 410.8,1406.2 412.1,1408.7 413.3,1411.2 414.6,1413.6 415.8,1416.1 417.1,1418.6 418.3,1421.0 419.6,1423.4 420.8,1425.9 422.0,1428.3 423.3,1430.7 424.5,1433.0 425.8,1435.4 427.0,1437.8 428.3,1440.1 429.5,1442.4 430.8,1444.8 432.0,1447.1 433.2,1449.4 434.5,1451.6 435.7,1453.9 437.0,1456.1 438.2,1458.4 439.5,1460.6 440.7,1462.8 442.0,1465.0 443.2,1467.1 444.5,1469.3 445.7,1471.4 446.9,1473.5 448.2,1475.7 449.4,1477.7 450.7,1479.8 451.9,1481.9 453.2,1483.9 454.4,1486.0 455.7,1488.0 456.9,1490.0 458.1,1492.0 459.4,1493.9 460.6,1495.9 461.9,1497.8 463.1,1499.7 464.4,1501.6 465.6,1503.5 466.9,1505.4 468.1,1507.2 469.4,1509.1 470.6,1510.9 471.8,1512.7 473.1,1514.5 474.3,1516.3 475.6,1518.0 476.8,1519.8 478.1,1521.5 479.3,1523.2 480.6,1524.9 481.8,1526.6 483.1,1528.3 484.3,1530.0 485.5,1531.6 486.8,1533.2 488.0,1534.8 489.3,1536.4 490.5,1538.0 491.8,1539.6 493.0,1541.1 494.3,1542.7 495.5,1544.2 496.7,1545.7 498.0,1547.2 499.2,1548.6 500.5,1550.1 501.7,1551.6 503.0,1553.0 504.2,1554.4 505.5,1555.8 506.7,1557.2 508.0,1558.6 509.2,1560.0 510.4,1561.3 511.7,1562.7 512.9,1564.0 514.2,1565.3 515.4,1566.6 516.7,1567.9 517.9,1569.2 519.2,1570.4 520.4,1571.7 521.6,1572.9 522.9,1574.1 524.1,1575.3 525.4,1576.5 526.6,1577.7 527.9,1578.9 529.1,1580.1 530.4,1581.2 531.6,1582.3 532.9,1583.5 534.1,1584.6 535.3,1585.7 536.6,1586.8 537.8,1587.8 539.1,1588.9 540.3,1590.0 541.6,1591.0 542.8,1592.0 544.1,1593.1 545.3,1594.1 546.5,1595.1 547.8,1596.1 549.0,1597.0 550.3,1598.0 551.5,1599.0 552.8,1599.9 554.0,1600.8 555.3,1601.8 556.5,1602.7 557.8,1603.6 559.0,1604.5 560.2,1605.4 561.5,1606.2 562.7,1607.1 564.0,1608.0 565.2,1608.8 566.5,1609.6 567.7,1610.5 569.0,1611.3 570.2,1612.1 571.4,1612.9 572.7,1613.7 573.9,1614.5 575.2,1615.2 576.4,1616.0 577.7,1616.8 578.9,1617.5 580.2,1618.2 581.4,1619.0 582.6,1619.7 583.9,1620.4 585.1,1621.1 586.4,1621.8 587.6,1622.5 588.9,1623.2 590.1,1623.9 591.4,1624.5 592.6,1625.2 593.9,1625.8 595.1,1626.5 596.3,1627.1 597.6,1627.7 598.8,1628.4 600.1,1629.0 601.3,1629.6 602.6,1630.2 603.8,1630.8 605.1,1631.3 606.3,1631.9 607.5,1632.5 608.8,1633.1 610.0,1633.6 611.3,1634.2 612.5,1634.7 613.8,1635.2 615.0,1635.8 616.3,1636.3 617.5,1636.8 618.8,1637.3 620.0,1637.8 621.2,1638.3 622.5,1638.8 623.7,1639.3 625.0,1639.8 626.2,1640.3 627.5,1640.7 628.7,1641.2 630.0,1641.7 631.2,1642.1 632.5,1642.6 633.7,1643.0 634.9,1643.4 636.2,1643.9 637.4,1644.3 638.7,1644.7 639.9,1645.1 641.2,1645.5 642.4,1645.9 643.7,1646.3 644.9,1646.7 646.1,1647.1 647.4,1647.5 648.6,1647.9 649.9,1648.3 651.1,1648.6 652.4,1649.0 653.6,1649.4 654.9,1649.7 656.1,1650.1 657.4,1650.4 658.6,1650.8 659.8,1651.1 661.1,1651.4 662.3,1651.8 663.6,1652.1 664.8,1652.4 666.1,1652.7 667.3,1653.1 668.6,1653.4 669.8,1653.7 671.0,1654.0 682.8,1656.7 694.6,1659.0 706.4,1661.1 718.2,1663.0 730.0,1664.6 741.8,1666.1 753.6,1667.3 765.4,1668.4 777.2,1669.4 789.0,1670.3 800.8,1671.0 812.6,1671.7 824.4,1672.2 836.2,1672.7 848.0,1673.2 859.8,1673.6 871.6,1673.9 883.4,1674.2 895.2,1674.4 907.0,1674.6 918.8,1674.8 930.6,1675.0 942.3,1675.1 954.1,1675.3 965.9,1675.4 977.7,1675.5 989.5,1675.6 1001.3,1675.6 1013.1,1675.7 1024.9,1675.7 1036.7,1675.8 1048.5,1675.8 1060.3,1675.8 1072.1,1675.9 1083.9,1675.9 1095.7,1675.9 1107.5,1675.9 1119.3,1676.0 1131.1,1676.0 1142.9,1676.0 1154.7,1676.0 1166.5,1676.0 1178.3,1676.0 1190.1,1676.0 1201.9,1676.0 1213.7,1676.0 1225.4,1676.0 1237.2,1676.0 1249.0,1676.0 1260.8,1676.0 1272.6,1676.0 1284.4,1676.0 1296.2,1676.0 1308.0,1676.0 1319.8,1676.0 1331.6,1676.0 1343.4,1676.0 1355.2,1676.0 1367.0,1676.0" stroke="#000" stroke-width="9.6" fill="none" stroke-linejoin="round"/>
<polyline points="371.0,1328.9 372.2,1332.3 373.5,1336.3 374.7,1340.6 376.0,1345.1 377.2,1349.6 378.5,1354.2 379.7,1358.9 381.0,1363.6 382.2,1368.4 383.4,1373.1 384.7,1377.8 385.9,1382.6 387.2,1387.3 388.4,1392.0 389.7,1396.7 390.9,1401.4 392.2,1406.1 393.4,1410.7 394.7,1415.3 395.9,1419.9 397.1,1424.4 398.4,1428.9 399.6,1433.3 400.9,1437.7 402.1,1442.1 403.4,1446.5 404.6,1450.7 405.9,1455.0 407.1,1459.2 408.4,1463.4 409.6,1467.5 410.8,1471.6 412.1,1475.6 413.3,1479.6 414.6,1483.5 415.8,1487.4 417.1,1491.3 418.3,1495.1 419.6,1498.8 420.8,1502.5 422.0,1506.2 423.3,1509.8 424.5,1513.4 425.8,1516.9 427.0,1520.4 428.3,1523.8 429.5,1527.2 430.8,1530.6 432.0,1533.9 433.2,1537.1 434.5,1540.3 435.7,1543.5 437.0,1546.6 438.2,1549.7 439.5,1552.7 440.7,1555.7 442.0,1558.7 443.2,1561.6 444.5,1564.5 445.7,1567.3 446.9,1570.1 448.2,1572.8 449.4,1575.5 450.7,1578.2 451.9,1580.8 453.2,1583.4 454.4,1586.0 455.7,1588.5 456.9,1591.0 458.1,1593.4 459.4,1595.8 460.6,1598.2 461.9,1600.5 463.1,1602.8 464.4,1605.1 465.6,1607.3 466.9,1609.5 468.1,1611.6 469.4,1613.8 470.6,1615.8 471.8,1617.9 473.1,1619.9 474.3,1621.9 475.6,1623.9 476.8,1625.8 478.1,1627.7 479.3,1629.6 480.6,1631.4 481.8,1633.2 483.1,1635.0 484.3,1636.8 485.5,1638.5 486.8,1640.2 488.0,1641.8 489.3,1643.5 490.5,1645.1 491.8,1646.7 493.0,1648.2 494.3,1649.8 495.5,1651.3 496.7,1652.8 498.0,1654.2 499.2,1655.7 500.5,1657.1 501.7,1658.5 503.0,1659.8 504.2,1661.2 505.5,1662.5 506.7,1663.8 508.0,1665.1 509.2,1666.3 510.4,1667.6 511.7,1668.8 512.9,1670.0 514.2,1671.2 515.4,1672.3 516.7,1673.4 517.9,1674.5 519.2,1675.6 520.4,1676.7 521.6,1677.8 522.9,1678.8 524.1,1679.8 525.4,1680.8 526.6,1681.8 527.9,1682.8 529.1,1683.7 530.4,1684.7 531.6,1685.6 532.9,1686.5 534.1,1687.4 535.3,1688.3 536.6,1689.1 537.8,1690.0 539.1,1690.8 540.3,1691.6 541.6,1692.4 542.8,1693.2 544.1,1693.9 545.3,1694.7 546.5,1695.4 547.8,1696.2 549.0,1696.9 550.3,1697.6 551.5,1698.3 552.8,1699.0 554.0,1699.6 555.3,1700.3 556.5,1700.9 557.8,1701.6 559.0,1702.2 560.2,1702.8 561.5,1703.4 562.7,1704.0 564.0,1704.5 565.2,1705.1 566.5,1705.7 567.7,1706.2 569.0,1706.7 570.2,1707.3 571.4,1707.8 572.7,1708.3 573.9,1708.8 575.2,1709.3 576.4,1709.8 577.7,1710.2 578.9,1710.7 580.2,1711.1 581.4,1711.6 582.6,1712.0 583.9,1712.5 585.1,1712.9 586.4,1713.3 587.6,1713.7 588.9,1714.1 590.1,1714.5 591.4,1714.9 592.6,1715.2 593.9,1715.6 595.1,1716.0 596.3,1716.3 597.6,1716.7 598.8,1717.0 600.1,1717.4 601.3,1717.7 602.6,1718.0 603.8,1718.3 605.1,1718.6 606.3,1719.0 607.5,1719.3 608.8,1719.5 610.0,1719.8 611.3,1720.1 612.5,1720.4 613.8,1720.7 615.0,1720.9 616.3,1721.2 617.5,1721.5 618.8,1721.7 620.0,1722.0 621.2,1722.2 622.5,1722.4 623.7,1722.7 625.0,1722.9 626.2,1723.1 627.5,1723.4 628.7,1723.6 630.0,1723.8 631.2,1724.0 632.5,1724.2 633.7,1724.4 634.9,1724.6 636.2,1724.8 637.4,1725.0 638.7,1725.2 639.9,1725.3 641.2,1725.5 642.4,1725.7 643.7,1725.9 644.9,1726.0 646.1,1726.2 647.4,1726.4 648.6,1726.5 649.9,1726.7 651.1,1726.8 652.4,1727.0 653.6,1727.1 654.9,1727.3 656.1,1727.4 657.4,1727.6 658.6,1727.7 659.8,1727.8 661.1,1728.0 662.3,1728.1 663.6,1728.2 664.8,1728.3 666.1,1728.5 667.3,1728.6 668.6,1728.7 669.8,1728.8 671.0,1728.9 682.8,1729.9 694.6,1730.7 706.4,1731.3 718.2,1731.9 730.0,1732.3 741.8,1732.7 753.6,1733.0 765.4,1733.2 777.2,1733.4 789.0,1733.6 800.8,1733.7 812.6,1733.8 824.4,1733.9 836.2,1734.0 848.0,1734.1 859.8,1734.1 871.6,1734.2 883.4,1734.2 895.2,1734.2 907.0,1734.2 918.8,1734.3 930.6,1734.3 942.3,1734.3 954.1,1734.3 965.9,1734.3 977.7,1734.3 989.5,1734.3 1001.3,1734.3 1013.1,1734.3 1024.9,1734.3 1036.7,1734.3 1048.5,1734.3 1060.3,1734.3 1072.1,1734.3 1083.9,1734.3 1095.7,1734.3 1107.5,1734.3 1119.3,1734.3 1131.1,1734.3 1142.9,1734.3 1154.7,1734.3 1166.5,1734.3 1178.3,1734.3 1190.1,1734.3 1201.9,1734.3 1213.7,1734.3 1225.4,1734.3 1237.2,1734.3 1249.0,1734.3 1260.8,1734.3 1272.6,1734.3 1284.4,1734.3 1296.2,1734.3 1308.0,1734.3 1319.8,1734.3 1331.6,1734.3 1343.4,1734.3 1355.2,1734.3 1367.0,1734.3" stroke="#000" stroke-width="9.6" fill="none" stroke-linejoin="round"/>
<polyline points="371.0,1328.9 372.2,1337.8 373.5,1346.7 374.7,1355.4 376.0,1364.1 377.2,1372.6 378.5,1381.1 379.7,1389.6 381.0,1397.9 382.2,1406.2 383.4,1414.5 384.7,1422.6 385.9,1430.7 387.2,1438.8 388.4,1446.8 389.7,1454.7 390.9,1462.6 392.2,1470.4 393.4,1478.2 394.7,1485.9 395.9,1493.6 397.1,1501.1 398.4,1508.7 399.6,1516.1 400.9,1523.5 402.1,1530.9 403.4,1538.1 404.6,1545.3 405.9,1552.5 407.1,1559.5 408.4,1566.5 409.6,1573.4 410.8,1580.3 412.1,1587.0 413.3,1593.7 414.6,1600.3 415.8,1606.9 417.1,1613.3 418.3,1619.7 419.6,1625.9 420.8,1632.1 422.0,1638.2 423.3,1644.3 424.5,1650.2 425.8,1656.0 427.0,1661.8 428.3,1667.4 429.5,1673.0 430.8,1678.5 432.0,1683.9 433.2,1689.1 434.5,1694.3 435.7,1699.4 437.0,1704.4 438.2,1709.3 439.5,1714.1 440.7,1718.8 442.0,1723.4 443.2,1727.9 444.5,1732.3 445.7,1736.6 446.9,1740.8 448.2,1744.9 449.4,1748.9 450.7,1752.8 451.9,1756.6 453.2,1760.4 454.4,1764.0 455.7,1767.5 456.9,1770.9 458.1,1774.3 459.4,1777.5 460.6,1780.7 461.9,1783.8 463.1,1786.7 464.4,1789.6 465.6,1792.4 466.9,1795.2 468.1,1797.8 469.4,1800.3 470.6,1802.8 471.8,1805.2 473.1,1807.5 474.3,1809.7 475.6,1811.9 476.8,1814.0 478.1,1816.0 479.3,1817.9 480.6,1819.8 481.8,1821.6 483.1,1823.3 484.3,1824.9 485.5,1826.5 486.8,1828.1 488.0,1829.6 489.3,1831.0 490.5,1832.3 491.8,1833.6 493.0,1834.9 494.3,1836.1 495.5,1837.2 496.7,1838.3 498.0,1839.4 499.2,1840.4 500.5,1841.3 501.7,1842.2 503.0,1843.1 504.2,1843.9 505.5,1844.7 506.7,1845.5 508.0,1846.2 509.2,1846.9 510.4,1847.5 511.7,1848.1 512.9,1848.7 514.2,1849.3 515.4,1849.8 516.7,1850.3 517.9,1850.8 519.2,1851.2 520.4,1851.6 521.6,1852.0 522.9,1852.4 524.1,1852.8 525.4,1853.1 526.6,1853.4 527.9,1853.7 529.1,1854.0 530.4,1854.3 531.6,1854.5 532.9,1854.7 534.1,1855.0 535.3,1855.2 536.6,1855.4 537.8,1855.5 539.1,1855.7 540.3,1855.9 541.6,1856.0 542.8,1856.2 544.1,1856.3 545.3,1856.4 546.5,1856.5 547.8,1856.6 549.0,1856.7 550.3,1856.8 551.5,1856.9 552.8,1857.0 554.0,1857.1 555.3,1857.1 556.5,1857.2 557.8,1857.3 559.0,1857.3 560.2,1857.4 561.5,1857.4 562.7,1857.5 564.0,1857.5 565.2,1857.5 566.5,1857.6 567.7,1857.6 569.0,1857.6 570.2,1857.7 571.4,1857.7 572.7,1857.7 573.9,1857.7 575.2,1857.8 576.4,1857.8 577.7,1857.8 578.9,1857.8 580.2,1857.8 581.4,1857.8 582.6,1857.9 583.9,1857.9 585.1,1857.9 586.4,1857.9 587.6,1857.9 588.9,1857.9 590.1,1857.9 591.4,1857.9 592.6,1857.9 593.9,1857.9 595.1,1857.9 596.3,1857.9 597.6,1857.9 598.8,1857.9 600.1,1857.9 601.3,1857.9 602.6,1857.9 603.8,1857.9 605.1,1858.0 606.3,1858.0 607.5,1858.0 608.8,1858.0 610.0,1858.0 611.3,1858.0 612.5,1858.0 613.8,1858.0 615.0,1858.0 616.3,1858.0 617.5,1858.0 618.8,1858.0 620.0,1858.0 621.2,1858.0 622.5,1858.0 623.7,1858.0 625.0,1858.0 626.2,1858.0 627.5,1858.0 628.7,1858.0 630.0,1858.0 631.2,1858.0 632.5,1858.0 633.7,1858.0 634.9,1858.0 636.2,1858.0 637.4,1858.0 638.7,1858.0 639.9,1858.0 641.2,1858.0 642.4,1858.0 643.7,1858.0 644.9,1858.0 646.1,1858.0 647.4,1858.0 648.6,1858.0 649.9,1858.0 651.1,1858.0 652.4,1858.0 653.6,1858.0 654.9,1858.0 656.1,1858.0 657.4,1858.0 658.6,1858.0 659.8,1858.0 661.1,1858.0 662.3,1858.0 663.6,1858.0 664.8,1858.0 666.1,1858.0 667.3,1858.0 668.6,1858.0 669.8,1858.0 671.0,1858.0 682.8,1858.0 694.6,1858.0 706.4,1858.0 718.2,1858.0 730.0,1858.0 741.8,1858.0 753.6,1858.0 765.4,1858.0 777.2,1858.0 789.0,1858.0 800.8,1858.0 812.6,1858.0 824.4,1858.0 836.2,1858.0 848.0,1858.0 859.8,1858.0 871.6,1858.0 883.4,1858.0 895.2,1858.0 907.0,1858.0 918.8,1858.0 930.6,1858.0 942.3,1858.0 954.1,1858.0 965.9,1858.0 977.7,1858.0 989.5,1858.0 1001.3,1858.0 1013.1,1858.0 1024.9,1858.0 1036.7,1858.0 1048.5,1858.0 1060.3,1858.0 1072.1,1858.0 1083.9,1858.0 1095.7,1858.0 1107.5,1858.0 1119.3,1858.0 1131.1,1858.0 1142.9,1858.0 1154.7,1858.0 1166.5,1858.0 1178.3,1858.0 1190.1,1858.0 1201.9,1858.0 1213.7,1858.0 1225.4,1858.0 1237.2,1858.0 1249.0,1858.0 1260.8,1858.0 1272.6,1858.0 1284.4,1858.0 1296.2,1858.0 1308.0,1858.0 1319.8,1858.0 1331.6,1858.0 1343.4,1858.0 1355.2,1858.0 1367.0,1858.0" stroke="#000" stroke-width="9.6" fill="none" stroke-linejoin="round"/>
<rect x="365" y="1195.2" width="12" height="781.3"/>
<rect x="1362" y="1195.2" width="10" height="781.3"/>
<rect x="365" y="1195.2" width="1007" height="10.2"/>
<rect x="365" y="1967" width="1007" height="9.5"/>
<rect x="613.7" y="1205.4" width="12.6" height="48"/>
<rect x="614.0" y="1921.0" width="12" height="46"/>
<rect x="862.7" y="1205.4" width="12.6" height="48"/>
<rect x="863.0" y="1921.0" width="12" height="46"/>
<rect x="1111.7" y="1205.4" width="12.6" height="48"/>
<rect x="1112.0" y="1921.0" width="12" height="46"/>
<rect x="377" y="1322.9" width="46.6" height="12"/>
<rect x="377" y="1644.3" width="46.6" height="12"/>
<text x="321.5" y="1352.4" font-size="72" text-anchor="end"> </text>
<path transform="matrix(0.03516 0 0 -0.03516 281.45 1352.4)" d="M763 0L595 0L595 1150L232 955L232 1090L640 1472L763 1472Z"/>
<text x="321.5" y="1673.8" font-size="72" text-anchor="end">0.75</text>
<text x="321.5" y="1995.2" font-size="72" text-anchor="end">0.5</text>
<text x="1276" y="1394" font-size="71" text-anchor="end"> 0 mM MES</text>
<path transform="matrix(0.03467 0 0 -0.03467 885.42 1394)" d="M763 0L595 0L595 1150L232 955L232 1090L640 1472L763 1472Z"/>
<text transform="translate(85.7 1586.5) rotate(-90)" x="0" y="0" font-size="71" text-anchor="middle">Normalized Intensity</text>
<path d="M374 2123h0M374.5 2131.2h0M375 2130.7h0M375.5 2134.6h0M376 2133.3h0M376.5 2137h0M377 2128h0M377.5 2140.4h0M378 2131.8h0M378.5 2138.7h0M379 2134.6h0M379.4 2142h0M379.9 2139.3h0M380.4 2139h0M380.9 2141.9h0M381.4 2139.4h0M381.9 2140.4h0M382.4 2148.9h0M382.9 2145.1h0M383.4 2143.3h0M383.9 2141.3h0M384.4 2151.2h0M384.9 2140.5h0M385.4 2145.5h0M385.9 2139.8h0M386.4 2143.8h0M386.9 2147.2h0M387.4 2151.1h0M387.9 2149.4h0M388.4 2156.4h0M388.9 2139.7h0M389.4 2165.5h0M389.9 2156.7h0M390.4 2156.9h0M390.9 2149h0M391.4 2161.8h0M391.9 2151h0M392.4 2156.5h0M392.9 2159.1h0M393.4 2162.3h0M393.8 2162.9h0M394.3 2153.9h0M394.8 2151.7h0M395.3 2171.3h0M395.8 2168.2h0M396.3 2167.5h0M396.8 2167.4h0M397.3 2168.8h0M397.8 2151.5h0M398.3 2166.7h0M398.8 2174.8h0M399.3 2168.9h0M399.8 2174.8h0M400.3 2173.1h0M400.8 2167.1h0M401.3 2165.2h0M401.8 2171.2h0M402.3 2181.3h0M402.8 2160.6h0M403.3 2182h0M403.8 2159.2h0M404.3 2192.7h0M404.8 2175.4h0M405.3 2178.9h0M405.8 2174.3h0M406.3 2187.4h0M406.8 2173.6h0M407.3 2192.9h0M407.8 2200.9h0M408.2 2182.5h0M408.7 2175.4h0M409.2 2191.1h0M409.7 2177.9h0M410.2 2182.3h0M410.7 2188.1h0M411.2 2196.9h0M411.7 2177.1h0M412.2 2195h0M412.7 2194h0M413.2 2188.8h0M413.7 2197.3h0M414.2 2192.2h0M414.7 2188.4h0M415.2 2173h0M415.7 2168.8h0M416.2 2194.6h0M416.7 2201.8h0M417.2 2185.2h0M417.7 2193.1h0M418.2 2213.2h0M418.7 2206.4h0M419.2 2179.9h0M419.7 2205.9h0M420.2 2196.6h0M420.7 2205.8h0M421.2 2201.8h0M421.7 2191.1h0M422.1 2224.2h0M422.6 2174.5h0M423.1 2191.4h0M423.6 2216.1h0M424.1 2202.6h0M424.6 2207.6h0M425.1 2193.7h0M425.6 2213.9h0M426.1 2197.3h0M426.6 2192.8h0M427.1 2193.2h0M427.6 2219.7h0M428.1 2206.8h0M428.6 2216.3h0M429.1 2213.2h0M429.6 2207.4h0M430.1 2196.5h0M430.6 2214.1h0M431.1 2218.6h0M431.6 2198.7h0M432.1 2205.6h0M432.6 2203h0M433.1 2189.5h0M433.6 2217.9h0M434.1 2221.9h0M434.6 2214.7h0M435.1 2219.2h0M435.6 2219h0M436.1 2232h0M436.5 2228h0M437 2230.2h0M437.5 2210.3h0M438 2226h0M438.5 2220.4h0M439 2208.1h0M439.5 2227.5h0M440 2202.2h0M440.5 2209.4h0M441 2236.8h0M441.5 2232.5h0M442 2202h0M442.5 2230.2h0M443 2227.6h0M443.5 2223.3h0M444 2213.1h0M444.5 2224.1h0M445 2237.6h0M445.5 2251.9h0M446 2240.6h0M446.5 2219.3h0M447 2239.8h0M447.5 2258.2h0M448 2229.7h0M448.5 2216.7h0M449 2247.2h0M449.5 2226.2h0M450 2235.3h0M450.4 2239.6h0M450.9 2233.3h0M451.4 2236.3h0M451.9 2245.5h0M452.4 2247.3h0M452.9 2242.4h0M453.4 2249h0M453.9 2243.7h0M454.4 2231.4h0M454.9 2264.3h0M455.4 2245.8h0M455.9 2248.5h0M456.4 2255.7h0M456.9 2240.5h0M457.4 2224.6h0M457.9 2220.5h0M458.4 2237.2h0M458.9 2255.4h0M459.4 2247.3h0M459.9 2249.8h0M460.4 2236.9h0M460.9 2225.6h0M461.4 2239.7h0M461.9 2221.3h0M462.4 2232.6h0M462.9 2248.6h0M463.4 2235.2h0M463.9 2226.6h0M464.4 2248.2h0M464.8 2247.8h0M465.3 2244.2h0M465.8 2223.2h0M466.3 2250.2h0M466.8 2239.9h0M467.3 2248.4h0M467.8 2254h0M468.3 2247.8h0M468.8 2256.2h0M469.3 2250.5h0M469.8 2239.4h0M470.3 2238.5h0M470.8 2262.6h0M471.3 2265.9h0M471.8 2243.1h0M472.3 2249.2h0M472.8 2251.4h0M473.3 2255.3h0M473.8 2233.6h0M474.3 2256.7h0M474.8 2251.5h0M475.3 2252.5h0M475.8 2247.5h0M476.3 2265.3h0M476.8 2249h0M477.3 2270.4h0M477.8 2268.8h0M478.3 2249h0M478.8 2264h0M479.2 2264.9h0M479.7 2252.9h0M480.2 2235h0M480.7 2254h0M481.2 2260.7h0M481.7 2280.2h0M482.2 2271.3h0M482.7 2268.6h0M483.2 2262.4h0M483.7 2269.3h0M484.2 2252.2h0M484.7 2252.9h0M485.2 2248.5h0M485.7 2250.6h0M486.2 2260.8h0M486.7 2282.7h0M487.2 2249.3h0M487.7 2266.5h0M488.2 2264.4h0M488.7 2246h0M489.2 2263.3h0M489.7 2243.9h0M490.2 2276.9h0M490.7 2274.7h0M491.2 2258.7h0M491.7 2262.7h0M492.2 2261.9h0M492.7 2260.8h0M493.1 2275.6h0M493.6 2256.9h0M494.1 2265.2h0M494.6 2257h0M495.1 2281.4h0M495.6 2271.6h0M496.1 2281.4h0M496.6 2262.4h0M497.1 2244.6h0M497.6 2277.6h0M498.1 2275.7h0M498.6 2281.5h0M499.1 2272.5h0M499.6 2280.2h0M500.1 2282.7h0M500.6 2268.5h0M501.1 2251.9h0M501.6 2281.6h0M502.1 2277.1h0M502.6 2271h0M503.1 2263.1h0M503.6 2294.4h0M504.1 2278.5h0M504.6 2278.6h0M505.1 2268.2h0M505.6 2270.3h0M506.1 2280.9h0M506.6 2265.4h0M507.1 2292.1h0M507.5 2275h0M508 2293.7h0M508.5 2282.1h0M509 2272.7h0M509.5 2302.8h0M510 2281.3h0M510.5 2276.9h0M511 2292.7h0M511.5 2287.4h0M512 2283.8h0M512.5 2262.9h0M513 2266h0M513.5 2294.5h0M514 2279.6h0M514.5 2290.8h0M515 2276.5h0M515.5 2289.2h0M516 2267.7h0M516.5 2284.7h0M517 2303.1h0M517.5 2290.3h0M518 2284.3h0M518.5 2287.6h0M519 2289.1h0M519.5 2309.9h0M520 2291.7h0M520.5 2295.2h0M521 2285.4h0M521.5 2297.1h0M521.9 2296.3h0M522.4 2284h0M522.9 2274h0M523.4 2289.8h0M523.9 2305.2h0M524.4 2286.7h0M524.9 2289.4h0M525.4 2306.1h0M525.9 2292.7h0M526.4 2274h0M526.9 2312.2h0M527.4 2295.8h0M527.9 2289.8h0M528.4 2292.9h0M528.9 2301.4h0M529.4 2290.9h0M529.9 2315.4h0M530.4 2301.7h0M530.9 2304h0M531.4 2300.8h0M531.9 2292.2h0M532.4 2300.4h0M532.9 2317.2h0M533.4 2294.1h0M533.9 2297.9h0M534.4 2303.5h0M534.9 2292.2h0M535.4 2309.3h0M535.8 2288h0M536.3 2305.1h0M536.8 2291h0M537.3 2298.4h0M537.8 2298.8h0M538.3 2329.3h0M538.8 2296.7h0M539.3 2313.2h0M539.8 2307.4h0M540.3 2296h0M540.8 2313.1h0M541.3 2303.8h0M541.8 2288.1h0M542.3 2287.1h0M542.8 2306.5h0M543.3 2307h0M543.8 2289.7h0M544.3 2306.5h0M544.8 2302.9h0M545.3 2311.2h0M545.8 2299.6h0M546.3 2307.6h0M546.8 2305.9h0M547.3 2313.1h0M547.8 2318.1h0M548.3 2328.2h0M548.8 2293.5h0M549.3 2311.1h0M549.8 2299.9h0M550.2 2297.8h0M550.7 2291.9h0M551.2 2303.8h0M551.7 2309.9h0M552.2 2307.3h0M552.7 2312.1h0M553.2 2312h0M553.7 2314.9h0M554.2 2311.2h0M554.7 2313.9h0M555.2 2312.9h0M555.7 2306.9h0M556.2 2298.9h0M556.7 2297.7h0M557.2 2316.1h0M557.7 2302.7h0M558.2 2319.3h0M558.7 2308h0M559.2 2305.4h0M559.7 2310.6h0M560.2 2314.6h0M560.7 2329.7h0M561.2 2309.8h0M561.7 2309.2h0M562.2 2317.7h0M562.7 2323.8h0M563.2 2313.9h0M563.7 2310.4h0M564.1 2320.5h0M564.6 2318.8h0M565.1 2320.4h0M565.6 2304.2h0M566.1 2322.9h0M566.6 2318.1h0M567.1 2327.5h0M567.6 2315.8h0M568.1 2322.1h0M568.6 2316.3h0M569.1 2338.2h0M569.6 2305.7h0M570.1 2310.5h0M570.6 2312.2h0M571.1 2292.4h0M571.6 2314.8h0M572.1 2334.8h0M572.6 2326.9h0M573.1 2330.2h0M573.6 2319.3h0M574.1 2314.8h0M574.6 2319.4h0M575.1 2308.9h0M575.6 2304.9h0M576.1 2331.9h0M576.6 2321.4h0M577.1 2335h0M577.6 2308.7h0M578.1 2323.1h0M578.5 2307.8h0M579 2337.8h0M579.5 2323.6h0M580 2312.8h0M580.5 2313.2h0M581 2335.8h0M581.5 2312.7h0M582 2321.2h0M582.5 2323.7h0M583 2313.6h0M583.5 2339.2h0M584 2342.8h0M584.5 2318.8h0M585 2326.5h0M585.5 2332.2h0M586 2331.3h0M586.5 2332.6h0M587 2313.4h0M587.5 2325.9h0M588 2311h0M588.5 2324.7h0M589 2331.3h0M589.5 2335h0M590 2304.1h0M590.5 2329.2h0M591 2311.7h0M591.5 2332.1h0M592 2331.4h0M592.5 2329.3h0M592.9 2337.9h0M593.4 2330.5h0M593.9 2319.3h0M594.4 2324.2h0M594.9 2332h0M595.4 2310.1h0M595.9 2325.7h0M596.4 2332.6h0M596.9 2316.9h0M597.4 2342.4h0M597.9 2341.3h0M598.4 2335.1h0M598.9 2328.1h0M599.4 2325.5h0M599.9 2336.2h0M600.4 2335h0M600.9 2340.7h0M601.4 2322h0M601.9 2337.1h0M602.4 2343h0M602.9 2319.3h0M603.4 2332h0M603.9 2330.9h0M604.4 2328.4h0M604.9 2342h0M605.4 2328.9h0M605.9 2339.5h0M606.4 2336.1h0M606.8 2340.2h0M607.3 2328.5h0M607.8 2323.7h0M608.3 2339.4h0M608.8 2332.3h0M609.3 2341.8h0M609.8 2326.1h0M610.3 2325.4h0M610.8 2340.7h0M611.3 2334.2h0M611.8 2330.9h0M612.3 2340.9h0M612.8 2330.6h0M613.3 2335.2h0M613.8 2339.5h0M614.3 2319.8h0M614.8 2345.4h0M615.3 2333.5h0M615.8 2330.4h0M616.3 2333.2h0M616.8 2326.3h0M617.3 2311.9h0M617.8 2335.1h0M618.3 2329.2h0M618.8 2354.7h0M619.3 2353h0M619.8 2329.2h0M620.3 2339.4h0M620.8 2348.8h0M621.2 2340.3h0M621.7 2334.1h0M622.2 2332.2h0M622.7 2324.1h0M623.2 2346.9h0M623.7 2344h0M624.2 2338.7h0M624.7 2336.9h0M625.2 2357.8h0M625.7 2342.6h0M626.2 2353.6h0M626.7 2323.1h0M627.2 2327.3h0M627.7 2328.1h0M628.2 2346.6h0M628.7 2333.9h0M629.2 2354h0M629.7 2339.8h0M630.2 2350.4h0M630.7 2334.8h0M631.2 2349.6h0M631.7 2335.5h0M632.2 2338.5h0M632.7 2327.7h0M633.2 2318.4h0M633.7 2326.1h0M634.2 2343.2h0M634.7 2343.2h0M635.2 2321.1h0M635.6 2326.3h0M636.1 2323.9h0M636.6 2347.1h0M637.1 2330.2h0M637.6 2328.7h0M638.1 2346.2h0M638.6 2333.8h0M639.1 2347h0M639.6 2350h0M640.1 2334.6h0M640.6 2321.5h0M641.1 2338.2h0M641.6 2366.9h0M642.1 2329.1h0M642.6 2357.4h0M643.1 2334.4h0M643.6 2330.8h0M644.1 2359.2h0M644.6 2337.3h0M645.1 2317.4h0M645.6 2326.8h0M646.1 2332.7h0M646.6 2335.9h0M647.1 2357.4h0M647.6 2353.9h0M648.1 2342.9h0M648.6 2348.2h0M649.1 2337.7h0M649.5 2324h0M650 2343.7h0M650.5 2341h0M651 2354.3h0M651.5 2347.5h0M652 2357.2h0M652.5 2339.4h0M653 2340h0M653.5 2339h0M654 2334.6h0M654.5 2356.9h0M655 2346.5h0M655.5 2330.9h0M656 2337.7h0M656.5 2366.6h0M657 2371.8h0M657.5 2361.1h0M658 2346.7h0M658.5 2363.6h0M659 2344.9h0M659.5 2332.2h0M660 2346.5h0M660.5 2333.3h0M661 2343.4h0M661.5 2371.8h0M662 2352.1h0M662.5 2348.6h0M663 2355.5h0M663.5 2341.3h0M663.9 2349.4h0M664.4 2335.3h0M664.9 2331.1h0M665.4 2341.2h0M665.9 2333.1h0M666.4 2321.4h0M666.9 2341h0M667.4 2335h0M667.9 2336.6h0M668.4 2363.4h0M668.9 2354.2h0M669.4 2358.3h0M669.9 2344.9h0M670.4 2335.7h0M670.9 2337.3h0M671.4 2367.7h0M671.9 2315.9h0M672.4 2341.9h0M672.9 2350.1h0M673.4 2331h0M673.9 2359.7h0M674.4 2338.8h0M674.9 2348h0M675.4 2365.8h0M675.9 2358.2h0M676.4 2346.1h0M676.9 2347.4h0M677.4 2365.3h0M677.8 2370.2h0M678.3 2354.9h0M678.8 2328.5h0M679.3 2344h0M679.8 2361.3h0M680.3 2341.3h0M680.8 2346.4h0M681.3 2338.9h0M681.8 2345.2h0M682.3 2361h0M682.8 2357.8h0M683.3 2338.3h0M683.8 2364.5h0M684.3 2334.5h0M684.8 2361.3h0M685.3 2360.7h0M685.8 2336.4h0M686.3 2330.4h0M686.8 2362.3h0M687.3 2358.5h0M687.8 2353.8h0M688.3 2342.8h0M688.8 2355.8h0M689.3 2335.1h0M689.8 2360.3h0M690.3 2377.2h0M690.8 2349.7h0M691.3 2363.4h0M691.8 2342.4h0M692.2 2355.5h0M692.7 2349.9h0M693.2 2357.1h0M693.7 2348.9h0M694.2 2333.4h0M694.7 2363.9h0M695.2 2339.6h0M695.7 2364.5h0M696.2 2339.2h0M696.7 2361.2h0M697.2 2356.7h0M697.7 2347h0M698.2 2363.3h0M698.7 2355.5h0M699.2 2370.2h0M699.7 2360.2h0M700.2 2366.3h0M700.7 2330.7h0M701.2 2368.1h0M701.7 2350.5h0M702.2 2350.6h0M702.7 2339h0M703.2 2345.3h0M703.7 2350.1h0M704.2 2354.1h0M704.7 2354.1h0M705.2 2349.3h0M705.7 2355.2h0M706.2 2362.9h0M706.6 2348.2h0M707.1 2346.5h0M707.6 2365.3h0M708.1 2358.4h0M708.6 2343.6h0M709.1 2361.2h0M709.6 2358.6h0M710.1 2377.6h0M710.6 2363.7h0M711.1 2362.9h0M711.6 2353.4h0M712.1 2344.1h0M712.6 2353.4h0M713.1 2351.6h0M713.6 2351.4h0M714.1 2366.7h0M714.6 2343.5h0M715.1 2373h0M715.6 2344h0M716.1 2339.6h0M716.6 2364.8h0M717.1 2352.2h0M717.6 2347.3h0M718.1 2359.2h0M718.6 2349.7h0M719.1 2356.2h0M719.6 2351h0M720.1 2356.6h0M720.5 2346.2h0M721 2362.3h0M721.5 2350.5h0M722 2356h0M722.5 2332h0M723 2360.1h0M723.5 2348.8h0M724 2352.7h0M724.5 2351.3h0M725 2348.8h0M725.5 2344.4h0M726 2364.6h0M726.5 2349.8h0M727 2352.6h0M727.5 2351.2h0M728 2347.1h0M728.5 2366.2h0M729 2347.7h0M729.5 2358.4h0M730 2346.4h0M730.5 2339.6h0M731 2339.3h0M731.5 2359.9h0M732 2334.2h0M732.5 2336.9h0M733 2348.1h0M733.5 2360.7h0M734 2347.1h0M734.5 2365.8h0M734.9 2352.9h0M735.4 2352.3h0M735.9 2370.6h0M736.4 2360h0M736.9 2350.4h0M737.4 2349.2h0M737.9 2363.3h0M738.4 2369.2h0M738.9 2352.2h0M739.4 2353.5h0M739.9 2366.2h0M740.4 2348.1h0M740.9 2359.7h0M741.4 2358h0M741.9 2353.9h0M742.4 2346.1h0M742.9 2331.5h0M743.4 2353.7h0M743.9 2342.9h0M744.4 2358.1h0M744.9 2350h0M745.4 2351.2h0M745.9 2370.2h0M746.4 2362.6h0M746.9 2346h0M747.4 2364.3h0M747.9 2352h0M748.4 2342.7h0M748.9 2357.2h0M749.3 2356h0M749.8 2365.7h0M750.3 2366.2h0M750.8 2367h0M751.3 2349.2h0M751.8 2355.5h0M752.3 2338.4h0M752.8 2359.3h0M753.3 2354.1h0M753.8 2334.7h0M754.3 2362.5h0M754.8 2360.8h0M755.3 2340.5h0M755.8 2334.1h0M756.3 2352.7h0M756.8 2358.5h0M757.3 2355.2h0M757.8 2370.3h0M758.3 2379.4h0M758.8 2357.4h0M759.3 2354.3h0M759.8 2352h0M760.3 2376.9h0M760.8 2356.8h0M761.3 2363.4h0M761.8 2365.5h0M762.3 2366.9h0M762.8 2361h0M763.2 2375.4h0M763.7 2362.6h0M764.2 2358.9h0M764.7 2346.5h0M765.2 2353.7h0M765.7 2356.6h0M766.2 2367.5h0M766.7 2351.7h0M767.2 2359.5h0M767.7 2355.3h0M768.2 2330.8h0M768.7 2359.9h0M769.2 2374.1h0M769.7 2343.1h0M770.2 2368.7h0M770.7 2345.4h0M771.2 2353.3h0M771.7 2356.6h0M772.2 2367h0M772.7 2357.7h0M773.2 2358.5h0M773.7 2367.2h0M774.2 2367.9h0M774.7 2356.9h0M775.2 2363.3h0M775.7 2372.3h0M776.2 2363.6h0M776.7 2348.8h0M777.2 2359.5h0M777.6 2343.7h0M778.1 2380.9h0M778.6 2361h0M779.1 2342.6h0M779.6 2354.6h0M780.1 2363.5h0M780.6 2366.4h0M781.1 2357.8h0M781.6 2355.2h0M782.1 2349.9h0M782.6 2368.4h0M783.1 2372.2h0M783.6 2362.9h0M784.1 2361.7h0M784.6 2361.2h0M785.1 2354.3h0M785.6 2356h0M786.1 2365.5h0M786.6 2362.6h0M787.1 2364.4h0M787.6 2352.5h0M788.1 2367.9h0M788.6 2349.7h0M789.1 2372.9h0M789.6 2358.4h0M790.1 2363.4h0M790.6 2353.3h0M791.1 2359.5h0M791.5 2352.7h0M792 2362h0M792.5 2342.2h0M793 2372.3h0M793.5 2362.7h0M794 2367.9h0M794.5 2359.5h0M795 2366.1h0M795.5 2353.7h0M796 2351.8h0M796.5 2356.7h0M797 2345.9h0M797.5 2369.2h0M798 2357.5h0M798.5 2359h0M799 2352.5h0M799.5 2366.8h0M800 2372.3h0M800.5 2358.1h0M801 2372.8h0M801.5 2365h0M802 2363.9h0M802.5 2344.3h0M803 2352.5h0M803.5 2374.2h0M804 2373h0M804.5 2384.9h0M805 2355.9h0M805.5 2370.6h0M805.9 2346.9h0M806.4 2353.8h0M806.9 2351.4h0M807.4 2354h0M807.9 2366.1h0M808.4 2377.9h0M808.9 2365.1h0M809.4 2350.3h0M809.9 2377.3h0M810.4 2367.1h0M810.9 2347.3h0M811.4 2378h0M811.9 2364.2h0M812.4 2371.8h0M812.9 2357.3h0M813.4 2358.4h0M813.9 2368.3h0M814.4 2347h0M814.9 2364.6h0M815.4 2373.4h0M815.9 2368.8h0M816.4 2363.3h0M816.9 2359.8h0M817.4 2359.9h0M817.9 2380h0M818.4 2367.4h0M818.9 2366.3h0M819.4 2354.7h0M819.9 2368.7h0M820.3 2372.6h0M820.8 2340.4h0M821.3 2382.4h0M821.8 2373.4h0M822.3 2362.7h0M822.8 2345.4h0M823.3 2390.9h0M823.8 2372.2h0M824.3 2359.5h0M824.8 2349.4h0M825.3 2376.1h0M825.8 2345.2h0M826.3 2364.8h0M826.8 2361.6h0M827.3 2351.9h0M827.8 2357.1h0M828.3 2357.3h0M828.8 2374.7h0M829.3 2369.5h0M829.8 2377.6h0M830.3 2354.3h0M830.8 2379.3h0M831.3 2369.1h0M831.8 2378.9h0M832.3 2362.1h0M832.8 2370.7h0M833.3 2355.1h0M833.8 2378.1h0M834.2 2366.7h0M834.7 2359h0M835.2 2364h0M835.7 2366.3h0M836.2 2345.2h0M836.7 2366.4h0M837.2 2353.4h0M837.7 2363.9h0M838.2 2367h0M838.7 2390.9h0M839.2 2369.8h0M839.7 2350.7h0M840.2 2371.3h0M840.7 2352.7h0M841.2 2354.1h0M841.7 2357.2h0M842.2 2375.7h0M842.7 2384h0M843.2 2373.2h0M843.7 2351.2h0M844.2 2367.4h0M844.7 2374.7h0M845.2 2337.8h0M845.7 2361.7h0M846.2 2393.9h0M846.7 2350.4h0M847.2 2354.6h0M847.7 2353h0M848.2 2381.7h0M848.6 2376.8h0M849.1 2374.9h0M849.6 2379.7h0M850.1 2359.3h0M850.6 2345.5h0M851.1 2372.9h0M851.6 2348.5h0M852.1 2374.1h0M852.6 2372.9h0M853.1 2369h0M853.6 2381.8h0M854.1 2371.9h0M854.6 2353.8h0M855.1 2358.7h0M855.6 2375.2h0M856.1 2360.5h0M856.6 2374.8h0M857.1 2364.8h0M857.6 2371h0M858.1 2357.3h0M858.6 2366.2h0M859.1 2349.8h0M859.6 2360.1h0M860.1 2374.3h0M860.6 2360.8h0M861.1 2357.3h0M861.6 2378h0M862.1 2376.9h0M862.5 2355.1h0M863 2371h0M863.5 2373.9h0M864 2358.3h0M864.5 2359.8h0M865 2366.5h0M865.5 2385.3h0M866 2368h0M866.5 2367.9h0M867 2338.5h0M867.5 2372.6h0M868 2379.4h0M868.5 2356h0M869 2377.3h0M869.5 2372.7h0M870 2377.7h0M870.5 2368.6h0M871 2369.1h0M871.5 2397h0M872 2389.7h0M872.5 2358.4h0M873 2350h0M873.5 2373.3h0M874 2374.1h0M874.5 2370.3h0M875 2367.5h0M875.5 2385.5h0M876 2334.8h0M876.5 2357.8h0M876.9 2376.2h0M877.4 2374.7h0M877.9 2374.6h0M878.4 2360.5h0M878.9 2388.5h0M879.4 2380.3h0M879.9 2378.8h0M880.4 2374.3h0M880.9 2352.6h0M881.4 2362.4h0M881.9 2354.3h0M882.4 2368.7h0M882.9 2351.4h0M883.4 2368h0M883.9 2360.6h0M884.4 2367.7h0M884.9 2342.5h0M885.4 2355.2h0M885.9 2368.9h0M886.4 2375.7h0M886.9 2353.1h0M887.4 2375h0M887.9 2396.8h0M888.4 2365.8h0M888.9 2358.7h0M889.4 2346.2h0M889.9 2348.7h0M890.4 2361.1h0M890.9 2364h0M891.3 2374h0M891.8 2388.5h0M892.3 2357.6h0M892.8 2371h0M893.3 2385.5h0M893.8 2375.3h0M894.3 2371.4h0M894.8 2371h0M895.3 2353.9h0M895.8 2353h0M896.3 2378.1h0M896.8 2385.3h0M897.3 2381.9h0M897.8 2381.7h0M898.3 2388.8h0M898.8 2387h0M899.3 2365.7h0M899.8 2373.1h0M900.3 2343.8h0M900.8 2382.3h0M901.3 2372.1h0M901.8 2371.5h0M902.3 2381.9h0M902.8 2355h0M903.3 2372.1h0M903.8 2360.4h0M904.3 2388.6h0M904.8 2355.6h0M905.2 2363.6h0M905.7 2375.5h0M906.2 2390h0M906.7 2370.1h0M907.2 2353.9h0M907.7 2362.1h0M908.2 2374.3h0M908.7 2376.9h0M909.2 2356.1h0M909.7 2384h0M910.2 2360.2h0M910.7 2359.6h0M911.2 2368.2h0M911.7 2356.4h0M912.2 2356.3h0M912.7 2368h0M913.2 2342.3h0M913.7 2366.1h0M914.2 2356.3h0M914.7 2374h0M915.2 2359.4h0M915.7 2381h0M916.2 2374.6h0M916.7 2376.4h0M917.2 2373.2h0M917.7 2360.5h0M918.2 2375.1h0M918.7 2377.9h0M919.2 2372.1h0M919.6 2374.6h0M920.1 2374.8h0M920.6 2368h0M921.1 2364.6h0M921.6 2372.3h0M922.1 2372.8h0M922.6 2378.4h0M923.1 2385.3h0M923.6 2367.5h0M924.1 2365.8h0M924.6 2394.5h0M925.1 2370.6h0M925.6 2370.9h0M926.1 2361.6h0M926.6 2376h0M927.1 2345.4h0M927.6 2362.5h0M928.1 2368.5h0M928.6 2362.9h0M929.1 2374h0M929.6 2384.8h0M930.1 2375.6h0M930.6 2366.9h0M931.1 2342.8h0M931.6 2361.8h0M932.1 2385.7h0M932.6 2389.1h0M933.1 2378.1h0M933.6 2381.3h0M934 2380.6h0M934.5 2353.6h0M935 2366.1h0M935.5 2364.6h0M936 2378.1h0M936.5 2384h0M937 2371.5h0M937.5 2393.3h0M938 2369.3h0M938.5 2364.6h0M939 2364.3h0M939.5 2346.6h0M940 2379.4h0M940.5 2364.7h0M941 2378.7h0M941.5 2376.2h0M942 2377.5h0M942.5 2351.4h0M943 2366.5h0M943.5 2367.8h0M944 2374.9h0M944.5 2358.9h0M945 2358.4h0M945.5 2384.8h0M946 2353.9h0M946.5 2373.7h0M947 2357.7h0M947.5 2380.5h0M947.9 2365.2h0M948.4 2366.5h0M948.9 2359.8h0M949.4 2347.3h0M949.9 2392.3h0M950.4 2370.4h0M950.9 2388.9h0M951.4 2379.3h0M951.9 2359.5h0M952.4 2365h0M952.9 2378.2h0M953.4 2372.3h0M953.9 2363.3h0M954.4 2376.2h0M954.9 2382h0M955.4 2386.3h0M955.9 2392.2h0M956.4 2373h0M956.9 2367.7h0M957.4 2367.8h0M957.9 2341h0M958.4 2388.6h0M958.9 2392.1h0M959.4 2326.3h0M959.9 2373.9h0M960.4 2365.5h0M960.9 2369h0M961.4 2350.2h0M961.9 2370.2h0M962.3 2346.2h0M962.8 2379.4h0M963.3 2383.3h0M963.8 2386.9h0M964.3 2351h0M964.8 2356.9h0M965.3 2363.9h0M965.8 2388.4h0M966.3 2368.9h0M966.8 2390.9h0M967.3 2373.9h0M967.8 2379.8h0M968.3 2353.6h0M968.8 2350.8h0M969.3 2361.7h0M969.8 2356.6h0M970.3 2353h0M970.8 2378.5h0M971.3 2391.3h0M971.8 2362.4h0M972.3 2370.4h0M972.8 2388.6h0M973.3 2372.9h0M973.8 2381.6h0M974.3 2381.2h0M974.8 2387.3h0M975.3 2386.7h0M975.8 2376.2h0M976.2 2360.3h0M976.7 2386.3h0M977.2 2359h0M977.7 2374.7h0M978.2 2378.8h0M978.7 2409.6h0M979.2 2382.4h0M979.7 2379.2h0M980.2 2369.1h0M980.7 2371.6h0M981.2 2354.4h0M981.7 2345.5h0M982.2 2371.5h0M982.7 2375.6h0M983.2 2367.6h0M983.7 2370.1h0M984.2 2370.1h0M984.7 2396h0M985.2 2365.4h0M985.7 2397.9h0M986.2 2364.7h0M986.7 2370.9h0M987.2 2373.1h0M987.7 2381.3h0M988.2 2392.3h0M988.7 2386.8h0M989.2 2388.3h0M989.7 2378.2h0M990.2 2374.4h0M990.6 2373h0M991.1 2359.7h0M991.6 2402.4h0M992.1 2373.4h0M992.6 2365.2h0M993.1 2359.2h0M993.6 2370.6h0M994.1 2360.6h0M994.6 2387.4h0M995.1 2389.2h0M995.6 2365.7h0M996.1 2390.7h0M996.6 2384.8h0M997.1 2378.9h0M997.6 2378.1h0M998.1 2371h0M998.6 2386.4h0M999.1 2352.8h0M999.6 2384.1h0M1000.1 2373.7h0M1000.6 2344.9h0M1001.1 2370.3h0M1001.6 2376.5h0M1002.1 2382.6h0M1002.6 2375.8h0M1003.1 2362.3h0M1003.6 2377.6h0M1004.1 2376h0M1004.6 2332.2h0M1005 2359.7h0M1005.5 2369.4h0M1006 2365.7h0M1006.5 2376.4h0M1007 2400.7h0M1007.5 2374.4h0M1008 2367.9h0M1008.5 2373h0M1009 2361.8h0M1009.5 2366.2h0M1010 2364.3h0M1010.5 2381.3h0M1011 2367h0M1011.5 2375.3h0M1012 2378.5h0M1012.5 2360.5h0M1013 2381.6h0M1013.5 2395h0M1014 2370.9h0M1014.5 2377.6h0M1015 2388.8h0M1015.5 2391.5h0M1016 2378h0M1016.5 2371.5h0M1017 2381.3h0M1017.5 2360.2h0M1018 2363.8h0M1018.5 2367.2h0M1018.9 2380h0M1019.4 2359.7h0M1019.9 2377.7h0M1020.4 2352.5h0M1020.9 2361.4h0M1021.4 2362.9h0M1021.9 2381.7h0M1022.4 2397.9h0M1022.9 2353.7h0M1023.4 2377.7h0M1023.9 2372.7h0M1024.4 2379.9h0M1024.9 2367h0M1025.4 2385.5h0M1025.9 2346.8h0M1026.4 2387.1h0M1026.9 2393.5h0M1027.4 2363.6h0M1027.9 2376.6h0M1028.4 2359.7h0M1028.9 2370.2h0M1029.4 2370.9h0M1029.9 2338.9h0M1030.4 2385.9h0M1030.9 2383.4h0M1031.4 2399h0M1031.9 2373.6h0M1032.4 2376.3h0M1032.9 2390.4h0M1033.3 2350.4h0M1033.8 2381.9h0M1034.3 2370.2h0M1034.8 2400.3h0M1035.3 2372.7h0M1035.8 2388.5h0M1036.3 2369.3h0M1036.8 2331.8h0M1037.3 2393.9h0M1037.8 2389.5h0M1038.3 2388.9h0M1038.8 2371.3h0M1039.3 2391.4h0M1039.8 2362.6h0M1040.3 2364.9h0M1040.8 2388.4h0M1041.3 2386.3h0M1041.8 2400.4h0M1042.3 2366.1h0M1042.8 2382h0M1043.3 2383.2h0M1043.8 2390.8h0M1044.3 2361.5h0M1044.8 2377.3h0M1045.3 2370.5h0M1045.8 2383.3h0M1046.3 2415.9h0M1046.8 2386.1h0M1047.3 2397.8h0M1047.7 2384.9h0M1048.2 2371.9h0M1048.7 2380.5h0M1049.2 2376.7h0M1049.7 2375.1h0M1050.2 2388.1h0M1050.7 2384.5h0M1051.2 2365.4h0M1051.7 2348.4h0M1052.2 2369.5h0M1052.7 2382.4h0M1053.2 2395.7h0M1053.7 2379.4h0M1054.2 2384.2h0M1054.7 2391h0M1055.2 2392.8h0M1055.7 2367.2h0M1056.2 2374.4h0M1056.7 2386.3h0M1057.2 2369.9h0M1057.7 2365.3h0M1058.2 2373.7h0M1058.7 2377.7h0M1059.2 2392h0M1059.7 2370.9h0M1060.2 2366.4h0M1060.7 2372.5h0M1061.2 2389.4h0M1061.6 2353.7h0M1062.1 2382.4h0M1062.6 2391.9h0M1063.1 2372.9h0M1063.6 2370.4h0M1064.1 2362.4h0M1064.6 2365.9h0M1065.1 2376.3h0M1065.6 2395.4h0M1066.1 2385.9h0M1066.6 2372.9h0M1067.1 2358.5h0M1067.6 2362h0M1068.1 2393.1h0M1068.6 2359h0M1069.1 2391.7h0M1069.6 2380.3h0M1070.1 2392h0M1070.6 2383.3h0M1071.1 2370.6h0M1071.6 2377.9h0M1072.1 2372.5h0M1072.6 2361.2h0M1073.1 2374.9h0M1073.6 2376.8h0M1074.1 2362.7h0M1074.6 2374h0M1075.1 2387.6h0M1075.6 2377.6h0M1076 2362.5h0M1076.5 2398.6h0M1077 2368.1h0M1077.5 2393.4h0M1078 2382.5h0M1078.5 2392.9h0M1079 2381.5h0M1079.5 2362.9h0M1080 2394.6h0M1080.5 2368.3h0M1081 2358.4h0M1081.5 2358h0M1082 2383.6h0M1082.5 2371.1h0M1083 2371.6h0M1083.5 2358h0M1084 2403.8h0M1084.5 2387.7h0M1085 2392.3h0M1085.5 2381.2h0M1086 2394.5h0M1086.5 2372h0M1087 2397.1h0M1087.5 2378.2h0M1088 2372.8h0M1088.5 2389.5h0M1089 2384.9h0M1089.5 2384.1h0M1089.9 2357.9h0M1090.4 2366.4h0M1090.9 2361.7h0M1091.4 2368.6h0M1091.9 2380.6h0M1092.4 2365.8h0M1092.9 2379.2h0M1093.4 2364.9h0M1093.9 2374.7h0M1094.4 2386.7h0M1094.9 2394.6h0M1095.4 2404.6h0M1095.9 2382.4h0M1096.4 2383.6h0M1096.9 2399.7h0M1097.4 2358.3h0M1097.9 2365.4h0M1098.4 2392.1h0M1098.9 2393.8h0M1099.4 2405.4h0M1099.9 2403.6h0M1100.4 2401.6h0M1100.9 2391.3h0M1101.4 2381h0M1101.9 2396.4h0M1102.4 2355.7h0M1102.9 2377.9h0M1103.4 2359.8h0M1103.9 2376.9h0M1104.3 2341.8h0M1104.8 2385.7h0M1105.3 2378.9h0M1105.8 2394.3h0M1106.3 2358.2h0M1106.8 2374.7h0M1107.3 2391.3h0M1107.8 2356h0M1108.3 2376.6h0M1108.8 2349.8h0M1109.3 2404.3h0M1109.8 2366.1h0M1110.3 2379.3h0M1110.8 2382.9h0M1111.3 2354.2h0M1111.8 2370.4h0M1112.3 2356.1h0M1112.8 2385.6h0M1113.3 2397.7h0M1113.8 2347.3h0M1114.3 2377.3h0M1114.8 2358.8h0M1115.3 2383.1h0M1115.8 2385.7h0M1116.3 2390.4h0M1116.8 2386.6h0M1117.3 2356.2h0M1117.8 2360.4h0M1118.3 2376.9h0M1118.7 2387h0M1119.2 2367.3h0M1119.7 2372.6h0M1120.2 2384.2h0M1120.7 2379.9h0M1121.2 2392.6h0M1121.7 2363.4h0M1122.2 2385.1h0M1122.7 2379.8h0M1123.2 2379.8h0M1123.7 2376.2h0M1124.2 2371.2h0M1124.7 2396.5h0M1125.2 2370.2h0M1125.7 2383.9h0M1126.2 2380h0M1126.7 2369.7h0M1127.2 2382.4h0M1127.7 2383h0M1128.2 2399.8h0M1128.7 2368.5h0M1129.2 2386.9h0M1129.7 2386.1h0M1130.2 2391.5h0M1130.7 2369.9h0M1131.2 2382.8h0M1131.7 2362.3h0M1132.2 2383.3h0M1132.6 2393.9h0M1133.1 2399h0M1133.6 2349.7h0M1134.1 2373.7h0M1134.6 2384.2h0M1135.1 2355.3h0M1135.6 2412.4h0M1136.1 2383.5h0M1136.6 2356.4h0M1137.1 2420.9h0M1137.6 2385.4h0M1138.1 2353.5h0M1138.6 2367.4h0M1139.1 2369.6h0M1139.6 2378.1h0M1140.1 2401.6h0M1140.6 2370.5h0M1141.1 2372.6h0M1141.6 2379.8h0M1142.1 2387.1h0M1142.6 2383.4h0M1143.1 2361.9h0M1143.6 2391.2h0M1144.1 2368.1h0M1144.6 2368.8h0M1145.1 2412.3h0M1145.6 2356.1h0M1146.1 2379h0M1146.6 2365.7h0M1147 2389h0M1147.5 2385h0M1148 2367.4h0M1148.5 2373.6h0M1149 2372.8h0M1149.5 2386.6h0M1150 2356.9h0M1150.5 2384.3h0M1151 2383.5h0M1151.5 2379.9h0M1152 2374h0M1152.5 2389.1h0M1153 2387.6h0M1153.5 2382.9h0M1154 2381h0M1154.5 2389.1h0M1155 2388.9h0M1155.5 2365.3h0M1156 2363.7h0M1156.5 2374.6h0M1157 2370.3h0M1157.5 2372.3h0M1158 2377.3h0M1158.5 2398.4h0M1159 2381.1h0M1159.5 2382.7h0M1160 2391.2h0M1160.5 2371.6h0M1161 2375.9h0M1161.4 2355.5h0M1161.9 2368.5h0M1162.4 2388.2h0M1162.9 2374.8h0M1163.4 2375.5h0M1163.9 2400.6h0M1164.4 2402.6h0M1164.9 2382.3h0M1165.4 2368.9h0M1165.9 2363.4h0M1166.4 2379.8h0M1166.9 2365.3h0M1167.4 2379.2h0M1167.9 2372.9h0M1168.4 2377.6h0M1168.9 2374.7h0M1169.4 2395.5h0M1169.9 2377.4h0M1170.4 2401.1h0M1170.9 2374.1h0M1171.4 2400.9h0M1171.9 2366.8h0M1172.4 2383.3h0M1172.9 2375.2h0M1173.4 2365.8h0M1173.9 2406.8h0M1174.4 2381.6h0M1174.9 2367.1h0M1175.3 2359.3h0M1175.8 2387h0M1176.3 2388.5h0M1176.8 2381.2h0M1177.3 2371h0M1177.8 2373h0M1178.3 2362.6h0M1178.8 2371.8h0M1179.3 2374.1h0M1179.8 2387.6h0M1180.3 2389.3h0M1180.8 2364.5h0M1181.3 2352.5h0M1181.8 2402.6h0M1182.3 2380h0M1182.8 2368.6h0M1183.3 2381.6h0M1183.8 2367.7h0M1184.3 2372h0M1184.8 2345.8h0M1185.3 2372.6h0M1185.8 2398.9h0M1186.3 2388.4h0M1186.8 2374.5h0M1187.3 2378.8h0M1187.8 2386.7h0M1188.3 2391.5h0M1188.8 2367.1h0M1189.3 2374.4h0M1189.7 2380.1h0M1190.2 2389.3h0M1190.7 2373.3h0M1191.2 2384.1h0M1191.7 2388.3h0M1192.2 2378.6h0M1192.7 2384.9h0M1193.2 2394h0M1193.7 2362.6h0M1194.2 2380.8h0M1194.7 2382.6h0M1195.2 2406.4h0M1195.7 2353.6h0M1196.2 2368.6h0M1196.7 2359.4h0M1197.2 2365.2h0M1197.7 2382.5h0M1198.2 2365.6h0M1198.7 2376.8h0M1199.2 2378.5h0M1199.7 2375.5h0M1200.2 2389.5h0M1200.7 2383.2h0M1201.2 2368.1h0M1201.7 2373h0M1202.2 2382.6h0M1202.7 2371.2h0M1203.2 2384.9h0M1203.6 2378.5h0M1204.1 2372.2h0M1204.6 2374.7h0M1205.1 2364.7h0M1205.6 2382.9h0M1206.1 2371.6h0M1206.6 2369.8h0M1207.1 2375.2h0M1207.6 2407.2h0M1208.1 2394h0M1208.6 2370.9h0M1209.1 2366h0M1209.6 2388.3h0M1210.1 2366.3h0M1210.6 2394.3h0M1211.1 2370.5h0M1211.6 2393.5h0M1212.1 2406.1h0M1212.6 2375.6h0M1213.1 2388.4h0M1213.6 2389.8h0M1214.1 2410.8h0M1214.6 2411.8h0M1215.1 2369.5h0M1215.6 2397.2h0M1216.1 2394.3h0M1216.6 2384.6h0M1217.1 2387.5h0M1217.6 2367.1h0M1218 2369.6h0M1218.5 2379.8h0M1219 2363.9h0M1219.5 2385.8h0M1220 2383.6h0M1220.5 2401.1h0M1221 2367.4h0M1221.5 2399.1h0M1222 2386.6h0M1222.5 2385.8h0M1223 2381.9h0M1223.5 2382.3h0M1224 2373.3h0M1224.5 2370.1h0M1225 2398.6h0M1225.5 2352.9h0M1226 2395.1h0M1226.5 2387.4h0M1227 2385.7h0M1227.5 2396.3h0M1228 2383.1h0M1228.5 2386.1h0M1229 2391.5h0M1229.5 2381.5h0M1230 2395.5h0M1230.5 2394.4h0M1231 2381.6h0M1231.5 2388.4h0M1232 2371.2h0M1232.4 2386.4h0M1232.9 2384.5h0M1233.4 2364.2h0M1233.9 2382.7h0M1234.4 2389.6h0M1234.9 2370.3h0M1235.4 2365.8h0M1235.9 2382h0M1236.4 2375h0M1236.9 2370h0M1237.4 2383.1h0M1237.9 2370.2h0M1238.4 2383.9h0M1238.9 2396.1h0M1239.4 2386.5h0M1239.9 2384.7h0M1240.4 2369.4h0M1240.9 2399.1h0M1241.4 2379.1h0M1241.9 2404.5h0M1242.4 2375.5h0M1242.9 2383h0M1243.4 2365.9h0M1243.9 2386.6h0M1244.4 2364.7h0M1244.9 2383.1h0M1245.4 2403.9h0M1245.9 2391.6h0M1246.3 2365.7h0M1246.8 2394h0M1247.3 2366.9h0M1247.8 2378.1h0M1248.3 2375h0M1248.8 2377h0M1249.3 2381.2h0M1249.8 2351.1h0M1250.3 2395.1h0M1250.8 2380.2h0M1251.3 2368.2h0M1251.8 2385.4h0M1252.3 2400h0M1252.8 2368.4h0M1253.3 2390h0M1253.8 2380.4h0M1254.3 2382.6h0M1254.8 2374.5h0M1255.3 2382.1h0M1255.8 2389.4h0M1256.3 2361.7h0M1256.8 2371.4h0M1257.3 2374.7h0M1257.8 2373.8h0M1258.3 2359.4h0M1258.8 2373.6h0M1259.3 2366.1h0M1259.8 2385.7h0M1260.3 2380.7h0M1260.7 2382.9h0M1261.2 2385.7h0M1261.7 2374.7h0M1262.2 2368h0M1262.7 2389.8h0M1263.2 2375.5h0M1263.7 2373h0M1264.2 2401.6h0M1264.7 2362.2h0M1265.2 2391.7h0M1265.7 2398.2h0M1266.2 2376.7h0M1266.7 2373.4h0M1267.2 2385.8h0M1267.7 2370.7h0M1268.2 2355.8h0M1268.7 2395.2h0M1269.2 2401.6h0M1269.7 2364.3h0M1270.2 2390.2h0M1270.7 2383.8h0M1271.2 2381h0M1271.7 2390.7h0M1272.2 2375.9h0M1272.7 2377.6h0M1273.2 2383.3h0M1273.7 2385.6h0M1274.2 2350.7h0M1274.6 2396.8h0M1275.1 2389.2h0M1275.6 2395.6h0M1276.1 2379.7h0M1276.6 2368.6h0M1277.1 2388.8h0M1277.6 2388.6h0M1278.1 2394.3h0M1278.6 2390.7h0M1279.1 2370.9h0M1279.6 2367.7h0M1280.1 2379.1h0M1280.6 2386.9h0M1281.1 2380.8h0M1281.6 2375.1h0M1282.1 2383.8h0M1282.6 2358.4h0M1283.1 2380.4h0M1283.6 2353.8h0M1284.1 2403.3h0M1284.6 2358.7h0M1285.1 2404.9h0M1285.6 2393.3h0M1286.1 2395.5h0M1286.6 2392.5h0M1287.1 2377.3h0M1287.6 2383.1h0M1288.1 2402.5h0M1288.6 2368.5h0M1289 2379.3h0M1289.5 2394.3h0M1290 2373.7h0M1290.5 2404.3h0M1291 2367.3h0M1291.5 2372.7h0M1292 2383.2h0M1292.5 2372.6h0M1293 2378.9h0M1293.5 2382.1h0M1294 2379.9h0M1294.5 2386.4h0M1295 2387h0M1295.5 2386.5h0M1296 2384.9h0M1296.5 2383.3h0M1297 2386.7h0M1297.5 2387.3h0M1298 2392.7h0M1298.5 2403.5h0M1299 2374.7h0M1299.5 2405.5h0M1300 2393.9h0M1300.5 2395.7h0M1301 2376.5h0M1301.5 2386.6h0M1302 2387.3h0M1302.5 2379.8h0M1303 2392.3h0M1303.4 2368.4h0M1303.9 2372.3h0M1304.4 2393.6h0M1304.9 2388.1h0M1305.4 2362.4h0M1305.9 2388.2h0M1306.4 2384.5h0M1306.9 2393.3h0M1307.4 2381.6h0M1307.9 2382.2h0M1308.4 2369.4h0M1308.9 2380.3h0M1309.4 2376.7h0M1309.9 2388.4h0M1310.4 2356.1h0M1310.9 2381.2h0M1311.4 2395.4h0M1311.9 2346.8h0M1312.4 2389.9h0M1312.9 2386.7h0M1313.4 2382.9h0M1313.9 2385.5h0M1314.4 2372.5h0M1314.9 2392h0M1315.4 2384.5h0M1315.9 2358.6h0M1316.4 2389.4h0M1316.9 2366.6h0M1317.3 2368.4h0M1317.8 2385.6h0M1318.3 2375.6h0M1318.8 2382.8h0M1319.3 2384h0M1319.8 2379.1h0M1320.3 2385.8h0M1320.8 2361.2h0M1321.3 2402h0M1321.8 2391.6h0M1322.3 2372.6h0M1322.8 2378.2h0M1323.3 2399.2h0M1323.8 2369.6h0M1324.3 2360.1h0M1324.8 2407h0M1325.3 2397.7h0M1325.8 2385.9h0M1326.3 2402.3h0M1326.8 2387.1h0M1327.3 2390.3h0M1327.8 2388.8h0M1328.3 2390.9h0M1328.8 2369.4h0M1329.3 2382.3h0M1329.8 2386h0M1330.3 2368.2h0M1330.8 2365.6h0M1331.3 2380.6h0M1331.7 2401.6h0M1332.2 2380h0M1332.7 2395h0M1333.2 2397.3h0M1333.7 2398.5h0M1334.2 2389.8h0M1334.7 2359.9h0M1335.2 2354.8h0M1335.7 2367.7h0M1336.2 2378.1h0M1336.7 2380.2h0M1337.2 2375.7h0M1337.7 2377.4h0M1338.2 2389.3h0M1338.7 2366.6h0M1339.2 2389.2h0M1339.7 2388.7h0M1340.2 2359.6h0M1340.7 2383.6h0M1341.2 2381.3h0M1341.7 2388.2h0M1342.2 2387.5h0M1342.7 2354.1h0M1343.2 2405.7h0M1343.7 2383.2h0M1344.2 2393.9h0M1344.7 2393h0M1345.2 2369.2h0M1345.7 2380.9h0M1346.1 2379.1h0M1346.6 2409.2h0M1347.1 2364.8h0M1347.6 2401.2h0M1348.1 2393h0M1348.6 2380.5h0M1349.1 2368.6h0M1349.6 2379.3h0M1350.1 2390.3h0M1350.6 2369.9h0M1351.1 2384.5h0M1351.6 2389.6h0M1352.1 2390.6h0M1352.6 2377.4h0M1353.1 2389.9h0M1353.6 2391.1h0M1354.1 2356.3h0M1354.6 2366.8h0M1355.1 2363.8h0M1355.6 2372.2h0M1356.1 2391.3h0M1356.6 2388h0M1357.1 2386.5h0M1357.6 2375h0M1358.1 2394.4h0M1358.6 2361.5h0M1359.1 2363.8h0M1359.6 2390.4h0M1360 2378.1h0M1360.5 2395h0M1361 2392.4h0M1361.5 2393.6h0M1362 2371.5h0M1362.5 2374.5h0M1363 2360.5h0M1363.5 2381.6h0M1364 2381.3h0M1364.5 2374.2h0M1365 2378.1h0M1365.5 2383.9h0M1366 2393h0M1366.5 2374.2h0M1367 2373.7h0" stroke="#ff0000" stroke-width="17" stroke-linecap="round" fill="none"/>
<path d="M374 2155h0M374.5 2158.9h0M375 2165.7h0M375.5 2162.9h0M376 2148.8h0M376.5 2152.9h0M377 2158.1h0M377.5 2150.7h0M378 2167.3h0M378.5 2160.5h0M379 2159.5h0M379.4 2166.1h0M379.9 2169.6h0M380.4 2167.2h0M380.9 2170h0M381.4 2176.2h0M381.9 2166.5h0M382.4 2173.2h0M382.9 2163.9h0M383.4 2168.5h0M383.9 2182.3h0M384.4 2173.1h0M384.9 2172.6h0M385.4 2184.4h0M385.9 2177.8h0M386.4 2187.3h0M386.9 2194.5h0M387.4 2197.5h0M387.9 2183.4h0M388.4 2188h0M388.9 2183.2h0M389.4 2199.2h0M389.9 2192.7h0M390.4 2208.8h0M390.9 2187.9h0M391.4 2191.7h0M391.9 2173.3h0M392.4 2189.2h0M392.9 2190.6h0M393.4 2199.5h0M393.8 2204.2h0M394.3 2192.4h0M394.8 2198.2h0M395.3 2204.6h0M395.8 2200.6h0M396.3 2207.2h0M396.8 2215.1h0M397.3 2199.4h0M397.8 2207.6h0M398.3 2215.3h0M398.8 2208h0M399.3 2220.7h0M399.8 2206.7h0M400.3 2219.4h0M400.8 2213.4h0M401.3 2217.4h0M401.8 2207.9h0M402.3 2223.6h0M402.8 2205.7h0M403.3 2225.5h0M403.8 2217.6h0M404.3 2220.7h0M404.8 2231h0M405.3 2208.3h0M405.8 2228.4h0M406.3 2225.8h0M406.8 2218.9h0M407.3 2231.9h0M407.8 2225.3h0M408.2 2243.8h0M408.7 2222.8h0M409.2 2243.2h0M409.7 2242.7h0M410.2 2233.9h0M410.7 2224.8h0M411.2 2232h0M411.7 2220.6h0M412.2 2227.3h0M412.7 2229.1h0M413.2 2239.6h0M413.7 2222.8h0M414.2 2242.3h0M414.7 2234.1h0M415.2 2249.5h0M415.7 2246.8h0M416.2 2235.2h0M416.7 2245h0M417.2 2245.7h0M417.7 2238.7h0M418.2 2242.4h0M418.7 2244.6h0M419.2 2236.1h0M419.7 2234.5h0M420.2 2251h0M420.7 2230h0M421.2 2255.8h0M421.7 2260.6h0M422.1 2247.5h0M422.6 2258.1h0M423.1 2245.3h0M423.6 2262.4h0M424.1 2291.5h0M424.6 2262.5h0M425.1 2256.9h0M425.6 2258.1h0M426.1 2242.8h0M426.6 2251.5h0M427.1 2257.5h0M427.6 2254.4h0M428.1 2263.7h0M428.6 2278.7h0M429.1 2247.1h0M429.6 2257.1h0M430.1 2267.6h0M430.6 2252h0M431.1 2255.9h0M431.6 2274.4h0M432.1 2276.3h0M432.6 2273.9h0M433.1 2257.7h0M433.6 2278.4h0M434.1 2282.9h0M434.6 2267.1h0M435.1 2274.6h0M435.6 2271h0M436.1 2272.2h0M436.5 2269.3h0M437 2282.6h0M437.5 2267.1h0M438 2301.9h0M438.5 2288.3h0M439 2277h0M439.5 2311.7h0M440 2284.2h0M440.5 2251.5h0M441 2299.1h0M441.5 2294.3h0M442 2284.8h0M442.5 2287.1h0M443 2278.5h0M443.5 2270.8h0M444 2272.9h0M444.5 2325.3h0M445 2281h0M445.5 2292.9h0M446 2318.9h0M446.5 2283.5h0M447 2294.7h0M447.5 2290.7h0M448 2275.9h0M448.5 2309.7h0M449 2313.4h0M449.5 2301.3h0M450 2303.4h0M450.4 2319.8h0M450.9 2323.1h0M451.4 2347.9h0M451.9 2327.5h0M452.4 2331.4h0M452.9 2306.2h0M453.4 2294.1h0M453.9 2347.1h0M454.4 2307.4h0M454.9 2339.4h0M455.4 2329.5h0M455.9 2312.5h0M456.4 2336.5h0M456.9 2369.8h0M457.4 2364.6h0M457.9 2326.7h0M458.4 2332.8h0M458.9 2294.7h0M459.4 2314.7h0M459.9 2331.1h0M460.4 2345.7h0M460.9 2358h0M461.4 2338.9h0M461.9 2381h0M462.4 2331.1h0M462.9 2372.5h0M463.4 2331.7h0M463.9 2349.9h0M464.4 2365.4h0M464.8 2382.7h0M465.3 2345.8h0M465.8 2355.4h0M466.3 2361.7h0M466.8 2377h0M467.3 2411.3h0M467.8 2392.7h0M468.3 2366.3h0M468.8 2368.5h0M469.3 2414.6h0M469.8 2420h0M470.3 2412.7h0M470.8 2383.6h0M471.3 2357.4h0M471.8 2361.8h0M472.3 2387.2h0M472.8 2353.5h0M473.3 2378.9h0M473.8 2444.9h0M474.3 2394.1h0M474.8 2407.7h0M475.3 2356.7h0M475.8 2423.4h0M476.3 2374.4h0M476.8 2386.8h0M477.3 2390.3h0M477.8 2386.6h0M478.3 2370.7h0M478.8 2401.6h0M479.2 2439.9h0M479.7 2376.2h0M480.2 2407.4h0M480.7 2356.9h0M481.2 2393.7h0M481.7 2369.3h0M482.2 2422h0M482.7 2374.7h0M483.2 2401.8h0M483.7 2388h0M484.2 2355.9h0M484.7 2387h0M485.2 2385.7h0M485.7 2405.3h0M486.2 2381.3h0M486.7 2342.5h0M487.2 2361.4h0M487.7 2373.2h0M488.2 2401.7h0M488.7 2376.8h0M489.2 2406.7h0M489.7 2378.8h0M490.2 2394.1h0M490.7 2408h0M491.2 2388.8h0M491.7 2346.9h0M492.2 2410.6h0M492.7 2380.1h0M493.1 2402.7h0M493.6 2323.8h0M494.1 2384.2h0M494.6 2383.3h0M495.1 2374.4h0M495.6 2381.6h0M496.1 2362.6h0M496.6 2364.4h0M497.1 2393.6h0M497.6 2379h0M498.1 2398.8h0M498.6 2391.5h0M499.1 2369.1h0M499.6 2383.8h0M500.1 2376.8h0M500.6 2393.7h0M501.1 2416.1h0M501.6 2384.2h0M502.1 2373.5h0M502.6 2424.4h0M503.1 2377.8h0M503.6 2369.3h0M504.1 2375.8h0M504.6 2342.8h0M505.1 2410.7h0M505.6 2402.7h0M506.1 2402.1h0M506.6 2392.3h0M507.1 2379h0M507.5 2372.9h0M508 2368.6h0M508.5 2394.8h0M509 2397.8h0M509.5 2395h0M510 2364.1h0M510.5 2413.7h0M511 2368.7h0M511.5 2381.5h0M512 2380.5h0M512.5 2373.3h0M513 2344.8h0M513.5 2361.3h0M514 2371.6h0M514.5 2395.9h0M515 2373.8h0M515.5 2385.2h0M516 2361.7h0M516.5 2374.3h0M517 2397.5h0M517.5 2406.2h0M518 2384.7h0M518.5 2387.4h0M519 2381.2h0M519.5 2377.1h0M520 2380.1h0M520.5 2392.4h0M521 2369.6h0M521.5 2363.9h0M521.9 2387.6h0M522.4 2371.5h0M522.9 2385.5h0M523.4 2365.7h0M523.9 2384.1h0M524.4 2374.8h0M524.9 2373.4h0M525.4 2390.9h0M525.9 2372.8h0M526.4 2348h0M526.9 2364.6h0M527.4 2378.9h0M527.9 2405.8h0M528.4 2377.5h0M528.9 2366.3h0M529.4 2375.3h0M529.9 2398.6h0M530.4 2389.2h0M530.9 2391.3h0M531.4 2392.5h0M531.9 2406.8h0M532.4 2366.7h0M532.9 2404.7h0M533.4 2394.7h0M533.9 2372.4h0M534.4 2397h0M534.9 2407h0M535.4 2383.7h0M535.8 2402.4h0M536.3 2356.4h0M536.8 2365.9h0M537.3 2395.5h0M537.8 2389.7h0M538.3 2398.7h0M538.8 2396.6h0M539.3 2402.2h0M539.8 2367.9h0M540.3 2368.2h0M540.8 2407.5h0M541.3 2395.7h0M541.8 2391.7h0M542.3 2388.6h0M542.8 2416.2h0M543.3 2381h0M543.8 2398.2h0M544.3 2414.6h0M544.8 2383.8h0M545.3 2383.9h0M545.8 2388.1h0M546.3 2362.5h0M546.8 2410.8h0M547.3 2409h0M547.8 2422.6h0M548.3 2394.2h0M548.8 2401.7h0M549.3 2406h0M549.8 2421.6h0M550.2 2401.2h0M550.7 2403.8h0M551.2 2385.9h0M551.7 2402.1h0M552.2 2396.9h0M552.7 2413.7h0M553.2 2409.1h0M553.7 2379.4h0M554.2 2380.5h0M554.7 2403.4h0M555.2 2391.3h0M555.7 2402.8h0M556.2 2416.3h0M556.7 2378h0M557.2 2404.7h0M557.7 2382.8h0M558.2 2397.9h0M558.7 2396.5h0M559.2 2381h0M559.7 2360.7h0M560.2 2392.1h0M560.7 2378.7h0M561.2 2401.3h0M561.7 2400.2h0M562.2 2414h0M562.7 2407.6h0M563.2 2367.1h0M563.7 2370.1h0M564.1 2384.1h0M564.6 2396.9h0M565.1 2403.2h0M565.6 2387.9h0M566.1 2405h0M566.6 2384h0M567.1 2418h0M567.6 2392.5h0M568.1 2391.4h0M568.6 2392.2h0M569.1 2401h0M569.6 2425.9h0M570.1 2404.5h0M570.6 2417.7h0M571.1 2389.2h0M571.6 2412.9h0M572.1 2414.9h0M572.6 2419.1h0M573.1 2386.9h0M573.6 2388h0M574.1 2403.6h0M574.6 2412.8h0M575.1 2389.6h0M575.6 2406.4h0M576.1 2429h0M576.6 2372h0M577.1 2383.3h0M577.6 2400.5h0M578.1 2411.4h0M578.5 2403.6h0M579 2412.4h0M579.5 2426.7h0M580 2397.3h0M580.5 2391.7h0M581 2426.7h0M581.5 2379.2h0M582 2418.7h0M582.5 2425.8h0M583 2410.2h0M583.5 2397.4h0M584 2408.6h0M584.5 2397.8h0M585 2436.1h0M585.5 2415.7h0M586 2407.5h0M586.5 2413h0M587 2414.4h0M587.5 2422.2h0M588 2411.7h0M588.5 2395.7h0M589 2403.2h0M589.5 2391.8h0M590 2387.4h0M590.5 2411h0M591 2399.7h0M591.5 2405.2h0M592 2416.7h0M592.5 2420.8h0M592.9 2409.5h0M593.4 2400.6h0M593.9 2417.4h0M594.4 2397.2h0M594.9 2429.2h0M595.4 2402.4h0M595.9 2424.1h0M596.4 2394.8h0M596.9 2419.7h0M597.4 2414.8h0M597.9 2407.1h0M598.4 2423h0M598.9 2416h0M599.4 2410.5h0M599.9 2408.1h0M600.4 2415.7h0M600.9 2411.4h0M601.4 2399.4h0M601.9 2400.6h0M602.4 2407.6h0M602.9 2394.7h0M603.4 2385.2h0M603.9 2420.1h0M604.4 2402.7h0M604.9 2437.9h0M605.4 2412.5h0M605.9 2419.8h0M606.4 2419.3h0M606.8 2410.6h0M607.3 2405.8h0M607.8 2391.1h0M608.3 2397.2h0M608.8 2394.2h0M609.3 2393.2h0M609.8 2392.3h0M610.3 2412.6h0M610.8 2387.4h0M611.3 2428.6h0M611.8 2400.9h0M612.3 2415h0M612.8 2413.7h0M613.3 2415.2h0M613.8 2409.4h0M614.3 2408.4h0M614.8 2411.9h0M615.3 2420.4h0M615.8 2418.7h0M616.3 2413.2h0M616.8 2395.2h0M617.3 2401.9h0M617.8 2412.7h0M618.3 2425h0M618.8 2428.3h0M619.3 2406h0M619.8 2416.4h0M620.3 2406.6h0M620.8 2402.6h0M621.2 2414.1h0M621.7 2419.8h0M622.2 2416.3h0M622.7 2387.9h0M623.2 2426.8h0M623.7 2390.9h0M624.2 2426.1h0M624.7 2430.3h0M625.2 2449.8h0M625.7 2398.8h0M626.2 2409.5h0M626.7 2416.8h0M627.2 2420.6h0M627.7 2410.6h0M628.2 2428.5h0M628.7 2411.6h0M629.2 2416.8h0M629.7 2416.4h0M630.2 2425.3h0M630.7 2422.6h0M631.2 2399.7h0M631.7 2426.6h0M632.2 2406.4h0M632.7 2407.5h0M633.2 2410h0M633.7 2415.8h0M634.2 2425.4h0M634.7 2425.5h0M635.2 2402.4h0M635.6 2418.2h0M636.1 2431.3h0M636.6 2430h0M637.1 2422h0M637.6 2411.8h0M638.1 2426.9h0M638.6 2417.6h0M639.1 2405.1h0M639.6 2392.6h0M640.1 2426.5h0M640.6 2434.5h0M641.1 2443.4h0M641.6 2436.4h0M642.1 2426.9h0M642.6 2420.6h0M643.1 2424.2h0M643.6 2429.7h0M644.1 2409.1h0M644.6 2424h0M645.1 2418.4h0M645.6 2430.6h0M646.1 2429.9h0M646.6 2398.9h0M647.1 2405.2h0M647.6 2422.9h0M648.1 2429.3h0M648.6 2413.9h0M649.1 2424.8h0M649.5 2423.4h0M650 2417.7h0M650.5 2416.9h0M651 2428h0M651.5 2437.5h0M652 2417.7h0M652.5 2430.8h0M653 2427.3h0M653.5 2418.7h0M654 2418.6h0M654.5 2414.5h0M655 2427.1h0M655.5 2432.1h0M656 2422.3h0M656.5 2405.4h0M657 2426.6h0M657.5 2424.4h0M658 2421.4h0M658.5 2438.8h0M659 2416.9h0M659.5 2422.8h0M660 2428.1h0M660.5 2443.5h0M661 2414.6h0M661.5 2429.4h0M662 2406.2h0M662.5 2419.5h0M663 2424.1h0M663.5 2412.6h0M663.9 2433.8h0M664.4 2430.6h0M664.9 2419.1h0M665.4 2429.3h0M665.9 2420h0M666.4 2425.1h0M666.9 2425.8h0M667.4 2444.2h0M667.9 2418.5h0M668.4 2435.3h0M668.9 2442.2h0M669.4 2430.4h0M669.9 2436.6h0M670.4 2452.9h0M670.9 2417.6h0M671.4 2417.3h0M671.9 2437.1h0M672.4 2431h0M672.9 2448.1h0M673.4 2424.5h0M673.9 2432.1h0M674.4 2438.6h0M674.9 2407.1h0M675.4 2447.9h0M675.9 2432.5h0M676.4 2421.7h0M676.9 2425.2h0M677.4 2426.5h0M677.8 2447.8h0M678.3 2422.5h0M678.8 2448h0M679.3 2426.2h0M679.8 2438.2h0M680.3 2428.9h0M680.8 2433h0M681.3 2444.6h0M681.8 2432.6h0M682.3 2426.9h0M682.8 2445.1h0M683.3 2457.3h0M683.8 2431.9h0M684.3 2431.3h0M684.8 2428.1h0M685.3 2418.9h0M685.8 2426h0M686.3 2438.9h0M686.8 2427.6h0M687.3 2438.5h0M687.8 2437.1h0M688.3 2442.3h0M688.8 2452.5h0M689.3 2434.5h0M689.8 2419.5h0M690.3 2438h0M690.8 2442h0M691.3 2456.2h0M691.8 2436.3h0M692.2 2428h0M692.7 2425.4h0M693.2 2442.8h0M693.7 2433.5h0M694.2 2447.9h0M694.7 2451.8h0M695.2 2436.6h0M695.7 2443.4h0M696.2 2437.3h0M696.7 2443.9h0M697.2 2421.2h0M697.7 2427.1h0M698.2 2456h0M698.7 2420h0M699.2 2425.3h0M699.7 2443.9h0M700.2 2426.4h0M700.7 2432.6h0M701.2 2427.3h0M701.7 2455.1h0M702.2 2436.6h0M702.7 2456.9h0M703.2 2440.9h0M703.7 2419.5h0M704.2 2440.1h0M704.7 2417.2h0M705.2 2449.8h0M705.7 2413.1h0M706.2 2451.2h0M706.6 2445.4h0M707.1 2456.6h0M707.6 2444.5h0M708.1 2442.6h0M708.6 2435.1h0M709.1 2432.3h0M709.6 2431.1h0M710.1 2435.9h0M710.6 2437.2h0M711.1 2467.5h0M711.6 2445.1h0M712.1 2429.7h0M712.6 2456.1h0M713.1 2441.6h0M713.6 2432.3h0M714.1 2442h0M714.6 2432.8h0M715.1 2447.1h0M715.6 2437.2h0M716.1 2453.5h0M716.6 2426.6h0M717.1 2443.8h0M717.6 2425.8h0M718.1 2463.1h0M718.6 2427.7h0M719.1 2465h0M719.6 2438.8h0M720.1 2454.1h0M720.5 2432.3h0M721 2438.4h0M721.5 2458.8h0M722 2426.5h0M722.5 2449.4h0M723 2423.4h0M723.5 2467.5h0M724 2455.4h0M724.5 2421h0M725 2438.6h0M725.5 2455.7h0M726 2470.1h0M726.5 2442.4h0M727 2421.1h0M727.5 2458.4h0M728 2434h0M728.5 2443.3h0M729 2437.7h0M729.5 2426.5h0M730 2416.4h0M730.5 2462.2h0M731 2445.1h0M731.5 2443.8h0M732 2436.3h0M732.5 2448h0M733 2430.5h0M733.5 2429.6h0M734 2426.7h0M734.5 2426h0M734.9 2447h0M735.4 2425.2h0M735.9 2466.4h0M736.4 2442.2h0M736.9 2438.1h0M737.4 2440.7h0M737.9 2462.9h0M738.4 2415.8h0M738.9 2444.3h0M739.4 2465.7h0M739.9 2457.5h0M740.4 2448.4h0M740.9 2439.7h0M741.4 2473.1h0M741.9 2439.4h0M742.4 2468.3h0M742.9 2433.4h0M743.4 2426h0M743.9 2445.3h0M744.4 2439.9h0M744.9 2415.5h0M745.4 2445h0M745.9 2475.6h0M746.4 2443.7h0M746.9 2451h0M747.4 2445.5h0M747.9 2445.6h0M748.4 2448.9h0M748.9 2447.9h0M749.3 2446.2h0M749.8 2450.7h0M750.3 2451.6h0M750.8 2448.4h0M751.3 2428h0M751.8 2436h0M752.3 2432.2h0M752.8 2443.5h0M753.3 2465.6h0M753.8 2450.2h0M754.3 2441.6h0M754.8 2471.9h0M755.3 2457.2h0M755.8 2439h0M756.3 2453.4h0M756.8 2460.3h0M757.3 2459.7h0M757.8 2440.5h0M758.3 2450.9h0M758.8 2440h0M759.3 2431.7h0M759.8 2454.8h0M760.3 2424h0M760.8 2446.6h0M761.3 2461.3h0M761.8 2456.4h0M762.3 2448.4h0M762.8 2453.9h0M763.2 2451.2h0M763.7 2465.7h0M764.2 2456.2h0M764.7 2458.9h0M765.2 2441.5h0M765.7 2448.3h0M766.2 2443.9h0M766.7 2463.2h0M767.2 2461.1h0M767.7 2452.2h0M768.2 2461.6h0M768.7 2452.2h0M769.2 2449.2h0M769.7 2458.6h0M770.2 2455.1h0M770.7 2480.3h0M771.2 2436.2h0M771.7 2464h0M772.2 2440.7h0M772.7 2461.9h0M773.2 2440.1h0M773.7 2431.2h0M774.2 2471.6h0M774.7 2450.3h0M775.2 2472.6h0M775.7 2443.7h0M776.2 2442.5h0M776.7 2467.8h0M777.2 2445.1h0M777.6 2453.3h0M778.1 2441.7h0M778.6 2449.8h0M779.1 2425.8h0M779.6 2447.9h0M780.1 2450.9h0M780.6 2464.1h0M781.1 2464.7h0M781.6 2451.6h0M782.1 2453.9h0M782.6 2452.3h0M783.1 2479.2h0M783.6 2444.4h0M784.1 2463.3h0M784.6 2454.7h0M785.1 2437.8h0M785.6 2460.3h0M786.1 2467.8h0M786.6 2457.4h0M787.1 2439.5h0M787.6 2460.9h0M788.1 2461.5h0M788.6 2448.5h0M789.1 2464.9h0M789.6 2434.1h0M790.1 2439h0M790.6 2449.6h0M791.1 2453.8h0M791.5 2464.9h0M792 2465.6h0M792.5 2444.8h0M793 2466.6h0M793.5 2473.2h0M794 2464.4h0M794.5 2452.8h0M795 2451.2h0M795.5 2444.3h0M796 2430.6h0M796.5 2444.7h0M797 2436.8h0M797.5 2456.5h0M798 2455.7h0M798.5 2458.8h0M799 2458.2h0M799.5 2460.2h0M800 2448h0M800.5 2450.1h0M801 2459.6h0M801.5 2472h0M802 2432.8h0M802.5 2440.9h0M803 2451h0M803.5 2441.7h0M804 2447.3h0M804.5 2454.2h0M805 2444.4h0M805.5 2463.8h0M805.9 2462.5h0M806.4 2463.2h0M806.9 2459.8h0M807.4 2463.6h0M807.9 2418.5h0M808.4 2464.2h0M808.9 2443.2h0M809.4 2480.5h0M809.9 2446.2h0M810.4 2458.7h0M810.9 2436.8h0M811.4 2440.6h0M811.9 2457.4h0M812.4 2459.7h0M812.9 2473.6h0M813.4 2465.3h0M813.9 2470.5h0M814.4 2479h0M814.9 2436.9h0M815.4 2473.2h0M815.9 2445.7h0M816.4 2459.3h0M816.9 2454.3h0M817.4 2466.4h0M817.9 2465.8h0M818.4 2462.6h0M818.9 2450.4h0M819.4 2433.4h0M819.9 2456.6h0M820.3 2455.5h0M820.8 2456.5h0M821.3 2462.8h0M821.8 2479.3h0M822.3 2469.5h0M822.8 2461.5h0M823.3 2449.8h0M823.8 2441.3h0M824.3 2474.4h0M824.8 2464.6h0M825.3 2456.9h0M825.8 2437.8h0M826.3 2452.2h0M826.8 2464.1h0M827.3 2461.6h0M827.8 2451.2h0M828.3 2458.9h0M828.8 2453.6h0M829.3 2451.8h0M829.8 2473.3h0M830.3 2465.5h0M830.8 2460.5h0M831.3 2451.2h0M831.8 2473.1h0M832.3 2440.5h0M832.8 2459.7h0M833.3 2443.6h0M833.8 2431.3h0M834.2 2450.8h0M834.7 2431.5h0M835.2 2452.5h0M835.7 2439.2h0M836.2 2455.9h0M836.7 2449.9h0M837.2 2437.2h0M837.7 2450.5h0M838.2 2446.3h0M838.7 2473.5h0M839.2 2472.8h0M839.7 2465.2h0M840.2 2466.6h0M840.7 2484.9h0M841.2 2459.5h0M841.7 2458.5h0M842.2 2475.5h0M842.7 2464h0M843.2 2445.8h0M843.7 2475.6h0M844.2 2459.1h0M844.7 2474h0M845.2 2475.7h0M845.7 2452.5h0M846.2 2457.6h0M846.7 2464h0M847.2 2441.9h0M847.7 2445.5h0M848.2 2458.8h0M848.6 2456.9h0M849.1 2446h0M849.6 2456h0M850.1 2461.6h0M850.6 2448.6h0M851.1 2447.4h0M851.6 2454.9h0M852.1 2443.9h0M852.6 2446.3h0M853.1 2452h0M853.6 2433.2h0M854.1 2449.5h0M854.6 2459.2h0M855.1 2444.1h0M855.6 2470.1h0M856.1 2460.4h0M856.6 2472.5h0M857.1 2455.9h0M857.6 2464.3h0M858.1 2455.9h0M858.6 2444h0M859.1 2463.9h0M859.6 2448.3h0M860.1 2463.5h0M860.6 2445h0M861.1 2457.2h0M861.6 2453.6h0M862.1 2471.9h0M862.5 2453.5h0M863 2470.5h0M863.5 2463.5h0M864 2475.4h0M864.5 2452.7h0M865 2469h0M865.5 2468.5h0M866 2465.8h0M866.5 2460.9h0M867 2474.6h0M867.5 2441.6h0M868 2466.9h0M868.5 2451.3h0M869 2464.2h0M869.5 2468.2h0M870 2462.2h0M870.5 2454.8h0M871 2446.8h0M871.5 2440.6h0M872 2449.5h0M872.5 2463.3h0M873 2440.1h0M873.5 2488.3h0M874 2457.1h0M874.5 2448.7h0M875 2470.2h0M875.5 2471h0M876 2462.9h0M876.5 2449.1h0M876.9 2458.9h0M877.4 2471.8h0M877.9 2467.2h0M878.4 2434.6h0M878.9 2467.5h0M879.4 2478.6h0M879.9 2449.8h0M880.4 2435.6h0M880.9 2449h0M881.4 2459.3h0M881.9 2455.8h0M882.4 2455.8h0M882.9 2421.8h0M883.4 2449.7h0M883.9 2449.3h0M884.4 2456.9h0M884.9 2471.2h0M885.4 2448.3h0M885.9 2470.8h0M886.4 2473.8h0M886.9 2469.5h0M887.4 2451.4h0M887.9 2473.4h0M888.4 2452.7h0M888.9 2454.9h0M889.4 2439.6h0M889.9 2446h0M890.4 2446.9h0M890.9 2473.8h0M891.3 2461.8h0M891.8 2461.2h0M892.3 2453.5h0M892.8 2452.7h0M893.3 2446.1h0M893.8 2453.4h0M894.3 2473.8h0M894.8 2455.2h0M895.3 2481.8h0M895.8 2464.5h0M896.3 2453.6h0M896.8 2473.2h0M897.3 2457.6h0M897.8 2469.9h0M898.3 2452h0M898.8 2475.2h0M899.3 2463h0M899.8 2460.8h0M900.3 2469.5h0M900.8 2452.1h0M901.3 2433.7h0M901.8 2448.5h0M902.3 2469h0M902.8 2476.5h0M903.3 2442.4h0M903.8 2464.4h0M904.3 2465.2h0M904.8 2442.4h0M905.2 2438h0M905.7 2479h0M906.2 2463.1h0M906.7 2454.4h0M907.2 2464.5h0M907.7 2438.9h0M908.2 2462.6h0M908.7 2456.8h0M909.2 2454.2h0M909.7 2471h0M910.2 2458.1h0M910.7 2458.3h0M911.2 2452.4h0M911.7 2448.4h0M912.2 2456.4h0M912.7 2475.1h0M913.2 2434.4h0M913.7 2444.8h0M914.2 2450.3h0M914.7 2464.8h0M915.2 2449.3h0M915.7 2464.3h0M916.2 2432.1h0M916.7 2444.7h0M917.2 2465.4h0M917.7 2429h0M918.2 2460.3h0M918.7 2472.8h0M919.2 2465.4h0M919.6 2466.2h0M920.1 2447.1h0M920.6 2450.4h0M921.1 2469.2h0M921.6 2461.1h0M922.1 2478h0M922.6 2462.4h0M923.1 2459.4h0M923.6 2457.9h0M924.1 2475h0M924.6 2469.6h0M925.1 2452.1h0M925.6 2464.8h0M926.1 2447.9h0M926.6 2468.9h0M927.1 2455.2h0M927.6 2475.1h0M928.1 2475.8h0M928.6 2467.9h0M929.1 2440h0M929.6 2452h0M930.1 2462h0M930.6 2461.8h0M931.1 2463h0M931.6 2470.7h0M932.1 2450.6h0M932.6 2444.2h0M933.1 2442.4h0M933.6 2471.6h0M934 2469h0M934.5 2453h0M935 2457.9h0M935.5 2473.7h0M936 2454.5h0M936.5 2466.7h0M937 2467.9h0M937.5 2461.5h0M938 2468.2h0M938.5 2471.8h0M939 2454h0M939.5 2438.7h0M940 2456.8h0M940.5 2440.8h0M941 2438.3h0M941.5 2466.7h0M942 2446.5h0M942.5 2452.9h0M943 2460.2h0M943.5 2447.5h0M944 2465.6h0M944.5 2480.9h0M945 2448.4h0M945.5 2458h0M946 2427.8h0M946.5 2447.8h0M947 2478.5h0M947.5 2457.5h0M947.9 2453h0M948.4 2464.1h0M948.9 2454.9h0M949.4 2475.8h0M949.9 2457h0M950.4 2450.9h0M950.9 2455.1h0M951.4 2427.8h0M951.9 2463.8h0M952.4 2465.1h0M952.9 2436.7h0M953.4 2426.6h0M953.9 2451.5h0M954.4 2461h0M954.9 2476.5h0M955.4 2448.1h0M955.9 2449h0M956.4 2457.9h0M956.9 2473.6h0M957.4 2447.5h0M957.9 2453.9h0M958.4 2449.7h0M958.9 2469.4h0M959.4 2476.3h0M959.9 2483.2h0M960.4 2478.1h0M960.9 2469.6h0M961.4 2452.3h0M961.9 2464.9h0M962.3 2474h0M962.8 2468.8h0M963.3 2449.2h0M963.8 2456.1h0M964.3 2454.4h0M964.8 2470.9h0M965.3 2462.7h0M965.8 2454.7h0M966.3 2467.7h0M966.8 2464.4h0M967.3 2452.1h0M967.8 2472.3h0M968.3 2460.7h0M968.8 2458.1h0M969.3 2448.3h0M969.8 2461.1h0M970.3 2465.6h0M970.8 2433.4h0M971.3 2451.2h0M971.8 2455.8h0M972.3 2465.4h0M972.8 2444.4h0M973.3 2482.6h0M973.8 2456.2h0M974.3 2448.8h0M974.8 2457.4h0M975.3 2469.2h0M975.8 2458.9h0M976.2 2450.7h0M976.7 2462h0M977.2 2462.8h0M977.7 2460.8h0M978.2 2448h0M978.7 2463.1h0M979.2 2506.5h0M979.7 2457.1h0M980.2 2461.9h0M980.7 2435h0M981.2 2459.6h0M981.7 2463.2h0M982.2 2454.2h0M982.7 2457.4h0M983.2 2447.5h0M983.7 2468.8h0M984.2 2459.6h0M984.7 2445.3h0M985.2 2455.2h0M985.7 2462.6h0M986.2 2461.7h0M986.7 2488.5h0M987.2 2458.1h0M987.7 2460.5h0M988.2 2449.3h0M988.7 2466h0M989.2 2449.4h0M989.7 2465h0M990.2 2451.6h0M990.6 2449.7h0M991.1 2450h0M991.6 2482.9h0M992.1 2446.2h0M992.6 2471.6h0M993.1 2460.4h0M993.6 2445.2h0M994.1 2456.4h0M994.6 2451.1h0M995.1 2464h0M995.6 2473.3h0M996.1 2483.2h0M996.6 2453.9h0M997.1 2453.6h0M997.6 2452.5h0M998.1 2460.3h0M998.6 2451.2h0M999.1 2480.9h0M999.6 2459.4h0M1000.1 2457.8h0M1000.6 2425.4h0M1001.1 2462.6h0M1001.6 2448.8h0M1002.1 2488.2h0M1002.6 2467.9h0M1003.1 2456.4h0M1003.6 2466.8h0M1004.1 2483.1h0M1004.6 2465.1h0M1005 2469.9h0M1005.5 2439.3h0M1006 2451.7h0M1006.5 2446.2h0M1007 2465.6h0M1007.5 2443.4h0M1008 2440.4h0M1008.5 2455.4h0M1009 2458.3h0M1009.5 2467h0M1010 2478.8h0M1010.5 2475.1h0M1011 2462h0M1011.5 2462.8h0M1012 2439h0M1012.5 2474.2h0M1013 2450.8h0M1013.5 2455.6h0M1014 2459.8h0M1014.5 2448.8h0M1015 2457.3h0M1015.5 2471.3h0M1016 2476.3h0M1016.5 2482.6h0M1017 2470.7h0M1017.5 2454.5h0M1018 2465.9h0M1018.5 2448.6h0M1018.9 2432.5h0M1019.4 2466.2h0M1019.9 2454.7h0M1020.4 2454.7h0M1020.9 2447.8h0M1021.4 2482.1h0M1021.9 2461.2h0M1022.4 2475.2h0M1022.9 2461.7h0M1023.4 2463.4h0M1023.9 2462.7h0M1024.4 2477.7h0M1024.9 2438.5h0M1025.4 2457.1h0M1025.9 2452.7h0M1026.4 2465.2h0M1026.9 2453.7h0M1027.4 2460.5h0M1027.9 2453.2h0M1028.4 2449.7h0M1028.9 2464.9h0M1029.4 2471.8h0M1029.9 2463.6h0M1030.4 2444.1h0M1030.9 2450.8h0M1031.4 2468.7h0M1031.9 2455.5h0M1032.4 2469.2h0M1032.9 2460.7h0M1033.3 2477.1h0M1033.8 2448.6h0M1034.3 2462.6h0M1034.8 2470.1h0M1035.3 2466.1h0M1035.8 2445.2h0M1036.3 2450.7h0M1036.8 2455.1h0M1037.3 2446.9h0M1037.8 2454.5h0M1038.3 2454h0M1038.8 2455.7h0M1039.3 2455.6h0M1039.8 2451.1h0M1040.3 2469.2h0M1040.8 2472h0M1041.3 2458.7h0M1041.8 2475.4h0M1042.3 2474.6h0M1042.8 2456.5h0M1043.3 2481h0M1043.8 2478.1h0M1044.3 2471.3h0M1044.8 2457.1h0M1045.3 2465.3h0M1045.8 2455.3h0M1046.3 2470.1h0M1046.8 2458.2h0M1047.3 2448.3h0M1047.7 2448.2h0M1048.2 2454.7h0M1048.7 2450.4h0M1049.2 2466.8h0M1049.7 2470h0M1050.2 2463h0M1050.7 2457h0M1051.2 2458.3h0M1051.7 2455.1h0M1052.2 2451.5h0M1052.7 2466.6h0M1053.2 2454.4h0M1053.7 2467.4h0M1054.2 2449.5h0M1054.7 2447h0M1055.2 2464.6h0M1055.7 2492.5h0M1056.2 2461.7h0M1056.7 2451.8h0M1057.2 2477.9h0M1057.7 2461.7h0M1058.2 2457.4h0M1058.7 2447.7h0M1059.2 2469.6h0M1059.7 2455.9h0M1060.2 2451.4h0M1060.7 2457.5h0M1061.2 2473.6h0M1061.6 2470.3h0M1062.1 2448.3h0M1062.6 2438.4h0M1063.1 2478.9h0M1063.6 2462h0M1064.1 2484.5h0M1064.6 2465.6h0M1065.1 2467.1h0M1065.6 2460.9h0M1066.1 2461.7h0M1066.6 2464.1h0M1067.1 2461.8h0M1067.6 2479.5h0M1068.1 2459.2h0M1068.6 2457.4h0M1069.1 2474.8h0M1069.6 2450.9h0M1070.1 2458.1h0M1070.6 2461.9h0M1071.1 2444.1h0M1071.6 2466.1h0M1072.1 2459.9h0M1072.6 2470.8h0M1073.1 2464.1h0M1073.6 2447h0M1074.1 2444.8h0M1074.6 2451.9h0M1075.1 2457.8h0M1075.6 2458.9h0M1076 2458h0M1076.5 2467.4h0M1077 2447h0M1077.5 2454.2h0M1078 2478.1h0M1078.5 2460.7h0M1079 2461.3h0M1079.5 2469.9h0M1080 2447.1h0M1080.5 2465.7h0M1081 2460.6h0M1081.5 2453.4h0M1082 2464.4h0M1082.5 2478.6h0M1083 2465.5h0M1083.5 2460.4h0M1084 2480.4h0M1084.5 2468.9h0M1085 2485h0M1085.5 2477.5h0M1086 2464.5h0M1086.5 2455.8h0M1087 2459.4h0M1087.5 2475.6h0M1088 2448.5h0M1088.5 2490.3h0M1089 2434h0M1089.5 2467.9h0M1089.9 2475.2h0M1090.4 2452.5h0M1090.9 2437.2h0M1091.4 2455.9h0M1091.9 2457h0M1092.4 2472h0M1092.9 2461.4h0M1093.4 2464.5h0M1093.9 2460.1h0M1094.4 2478.9h0M1094.9 2456.5h0M1095.4 2459.9h0M1095.9 2465.1h0M1096.4 2494.8h0M1096.9 2425.8h0M1097.4 2436.4h0M1097.9 2454.7h0M1098.4 2451h0M1098.9 2460.9h0M1099.4 2470.8h0M1099.9 2469.8h0M1100.4 2459.4h0M1100.9 2454.1h0M1101.4 2460.1h0M1101.9 2453.8h0M1102.4 2485.6h0M1102.9 2477h0M1103.4 2461.4h0M1103.9 2471.1h0M1104.3 2457.4h0M1104.8 2462.9h0M1105.3 2465.1h0M1105.8 2449.8h0M1106.3 2463.8h0M1106.8 2456.1h0M1107.3 2469.2h0M1107.8 2451.3h0M1108.3 2456.5h0M1108.8 2470h0M1109.3 2481.3h0M1109.8 2470.1h0M1110.3 2467.8h0M1110.8 2447.1h0M1111.3 2457.2h0M1111.8 2465.7h0M1112.3 2463.2h0M1112.8 2465h0M1113.3 2477.3h0M1113.8 2480h0M1114.3 2458.1h0M1114.8 2454.6h0M1115.3 2445.3h0M1115.8 2465.3h0M1116.3 2471.6h0M1116.8 2479.3h0M1117.3 2456.1h0M1117.8 2459.1h0M1118.3 2454.7h0M1118.7 2490.6h0M1119.2 2484.3h0M1119.7 2459.6h0M1120.2 2467.8h0M1120.7 2455.9h0M1121.2 2460.3h0M1121.7 2490.6h0M1122.2 2461.8h0M1122.7 2462.5h0M1123.2 2465h0M1123.7 2449h0M1124.2 2446.1h0M1124.7 2440.8h0M1125.2 2477h0M1125.7 2455.8h0M1126.2 2457.8h0M1126.7 2475.7h0M1127.2 2451.9h0M1127.7 2459.5h0M1128.2 2455.5h0M1128.7 2469.6h0M1129.2 2461.9h0M1129.7 2444.6h0M1130.2 2476.9h0M1130.7 2480.3h0M1131.2 2468.9h0M1131.7 2461.6h0M1132.2 2463.7h0M1132.6 2451.1h0M1133.1 2460.8h0M1133.6 2477.4h0M1134.1 2468.3h0M1134.6 2448.8h0M1135.1 2448.7h0M1135.6 2461.5h0M1136.1 2479.8h0M1136.6 2470.1h0M1137.1 2464.8h0M1137.6 2475.3h0M1138.1 2456.3h0M1138.6 2469.4h0M1139.1 2461.3h0M1139.6 2451.6h0M1140.1 2471.6h0M1140.6 2449.9h0M1141.1 2464.6h0M1141.6 2477.4h0M1142.1 2450.2h0M1142.6 2480.4h0M1143.1 2481.8h0M1143.6 2474.9h0M1144.1 2462.6h0M1144.6 2462.6h0M1145.1 2462.7h0M1145.6 2465.9h0M1146.1 2454.8h0M1146.6 2469.4h0M1147 2483.1h0M1147.5 2449.4h0M1148 2485.2h0M1148.5 2453h0M1149 2455.6h0M1149.5 2460.6h0M1150 2465.1h0M1150.5 2468h0M1151 2485.4h0M1151.5 2472.5h0M1152 2480.6h0M1152.5 2460.5h0M1153 2471.8h0M1153.5 2445.2h0M1154 2452.3h0M1154.5 2494.3h0M1155 2464.8h0M1155.5 2473.5h0M1156 2476.2h0M1156.5 2474.3h0M1157 2449.6h0M1157.5 2468.1h0M1158 2493h0M1158.5 2478.4h0M1159 2461.1h0M1159.5 2466.4h0M1160 2460.2h0M1160.5 2468.2h0M1161 2467.3h0M1161.4 2466h0M1161.9 2457.2h0M1162.4 2445.1h0M1162.9 2471.6h0M1163.4 2468.6h0M1163.9 2472.5h0M1164.4 2479.7h0M1164.9 2463.6h0M1165.4 2480.6h0M1165.9 2464.6h0M1166.4 2478.4h0M1166.9 2474.7h0M1167.4 2457.4h0M1167.9 2478.7h0M1168.4 2472.8h0M1168.9 2468.5h0M1169.4 2465.9h0M1169.9 2467.8h0M1170.4 2458.3h0M1170.9 2452.4h0M1171.4 2466.6h0M1171.9 2477h0M1172.4 2465.4h0M1172.9 2476h0M1173.4 2449.1h0M1173.9 2486.9h0M1174.4 2470.3h0M1174.9 2464.1h0M1175.3 2467.9h0M1175.8 2471.5h0M1176.3 2468.2h0M1176.8 2471.8h0M1177.3 2452.2h0M1177.8 2474.4h0M1178.3 2465.3h0M1178.8 2454.2h0M1179.3 2477.3h0M1179.8 2467.6h0M1180.3 2486.1h0M1180.8 2460.4h0M1181.3 2483.6h0M1181.8 2474.5h0M1182.3 2458.6h0M1182.8 2478.5h0M1183.3 2474.3h0M1183.8 2479.3h0M1184.3 2461.1h0M1184.8 2438.9h0M1185.3 2462.6h0M1185.8 2469.2h0M1186.3 2478.8h0M1186.8 2482h0M1187.3 2483h0M1187.8 2475.1h0M1188.3 2470h0M1188.8 2462.9h0M1189.3 2474.1h0M1189.7 2462.8h0M1190.2 2471.2h0M1190.7 2464h0M1191.2 2476.8h0M1191.7 2463.8h0M1192.2 2460.7h0M1192.7 2461.8h0M1193.2 2475.1h0M1193.7 2462.1h0M1194.2 2483.1h0M1194.7 2456.3h0M1195.2 2471.7h0M1195.7 2464.3h0M1196.2 2454.1h0M1196.7 2467.3h0M1197.2 2473.4h0M1197.7 2475.7h0M1198.2 2464.8h0M1198.7 2455.4h0M1199.2 2459.6h0M1199.7 2461.6h0M1200.2 2490.1h0M1200.7 2453.5h0M1201.2 2466.8h0M1201.7 2494.6h0M1202.2 2455h0M1202.7 2487.8h0M1203.2 2485.4h0M1203.6 2478.3h0M1204.1 2474.5h0M1204.6 2447.7h0M1205.1 2467.1h0M1205.6 2465.6h0M1206.1 2483h0M1206.6 2482.3h0M1207.1 2454.2h0M1207.6 2439.2h0M1208.1 2458.9h0M1208.6 2491.6h0M1209.1 2469.7h0M1209.6 2468.8h0M1210.1 2477h0M1210.6 2465.3h0M1211.1 2472.5h0M1211.6 2458.6h0M1212.1 2459.3h0M1212.6 2475h0M1213.1 2471.2h0M1213.6 2477.3h0M1214.1 2469.6h0M1214.6 2480.4h0M1215.1 2473.9h0M1215.6 2473h0M1216.1 2482h0M1216.6 2470.3h0M1217.1 2455.1h0M1217.6 2458.8h0M1218 2466h0M1218.5 2481.5h0M1219 2462.2h0M1219.5 2465.6h0M1220 2484.2h0M1220.5 2487h0M1221 2452.4h0M1221.5 2455.4h0M1222 2467.2h0M1222.5 2470.4h0M1223 2462.4h0M1223.5 2451.4h0M1224 2495.2h0M1224.5 2473.6h0M1225 2486.9h0M1225.5 2479.2h0M1226 2476.8h0M1226.5 2448.9h0M1227 2473.9h0M1227.5 2471.9h0M1228 2471.6h0M1228.5 2460.8h0M1229 2455.1h0M1229.5 2470.5h0M1230 2477.7h0M1230.5 2482.1h0M1231 2472.2h0M1231.5 2449h0M1232 2465.5h0M1232.4 2463.7h0M1232.9 2461.2h0M1233.4 2455.2h0M1233.9 2477h0M1234.4 2461.2h0M1234.9 2470.7h0M1235.4 2476.3h0M1235.9 2460h0M1236.4 2465.9h0M1236.9 2461.7h0M1237.4 2483.4h0M1237.9 2460.7h0M1238.4 2451.1h0M1238.9 2481.1h0M1239.4 2440.5h0M1239.9 2487h0M1240.4 2475.7h0M1240.9 2475h0M1241.4 2475.4h0M1241.9 2471.4h0M1242.4 2475.7h0M1242.9 2440h0M1243.4 2465.8h0M1243.9 2455.4h0M1244.4 2446.3h0M1244.9 2454.4h0M1245.4 2464.9h0M1245.9 2471.9h0M1246.3 2459.2h0M1246.8 2457.5h0M1247.3 2486.4h0M1247.8 2476.7h0M1248.3 2458.4h0M1248.8 2458.6h0M1249.3 2470.3h0M1249.8 2478.9h0M1250.3 2462.2h0M1250.8 2467.2h0M1251.3 2479.7h0M1251.8 2450.1h0M1252.3 2470h0M1252.8 2465.6h0M1253.3 2456.1h0M1253.8 2470.9h0M1254.3 2478h0M1254.8 2464.5h0M1255.3 2461.8h0M1255.8 2484.3h0M1256.3 2470.7h0M1256.8 2458.1h0M1257.3 2472h0M1257.8 2477.2h0M1258.3 2466.6h0M1258.8 2446.7h0M1259.3 2461.9h0M1259.8 2455.5h0M1260.3 2487.6h0M1260.7 2459.8h0M1261.2 2490.2h0M1261.7 2469.5h0M1262.2 2470h0M1262.7 2472.2h0M1263.2 2488.6h0M1263.7 2456.5h0M1264.2 2464.3h0M1264.7 2465.6h0M1265.2 2473.6h0M1265.7 2462.3h0M1266.2 2470.9h0M1266.7 2479.7h0M1267.2 2464.6h0M1267.7 2485h0M1268.2 2469.1h0M1268.7 2467.6h0M1269.2 2477.2h0M1269.7 2465.8h0M1270.2 2475.1h0M1270.7 2462.4h0M1271.2 2455.3h0M1271.7 2473.5h0M1272.2 2478.3h0M1272.7 2468.9h0M1273.2 2480h0M1273.7 2464.6h0M1274.2 2495.1h0M1274.6 2466.6h0M1275.1 2475.9h0M1275.6 2469.2h0M1276.1 2468h0M1276.6 2459.3h0M1277.1 2486.5h0M1277.6 2467.9h0M1278.1 2462.6h0M1278.6 2483.6h0M1279.1 2482.6h0M1279.6 2462h0M1280.1 2478.3h0M1280.6 2484.1h0M1281.1 2473.2h0M1281.6 2455.6h0M1282.1 2470h0M1282.6 2462h0M1283.1 2456.2h0M1283.6 2473.5h0M1284.1 2478.6h0M1284.6 2443.8h0M1285.1 2466.1h0M1285.6 2460.5h0M1286.1 2475.4h0M1286.6 2463.8h0M1287.1 2454.3h0M1287.6 2487.5h0M1288.1 2468.6h0M1288.6 2486.8h0M1289 2473.3h0M1289.5 2460h0M1290 2453.8h0M1290.5 2453.2h0M1291 2467.3h0M1291.5 2472.5h0M1292 2486.8h0M1292.5 2456.4h0M1293 2471.8h0M1293.5 2480h0M1294 2487.4h0M1294.5 2482.7h0M1295 2478.3h0M1295.5 2479.3h0M1296 2455.6h0M1296.5 2472.4h0M1297 2456.5h0M1297.5 2497h0M1298 2483.3h0M1298.5 2469.7h0M1299 2467.7h0M1299.5 2468h0M1300 2478.7h0M1300.5 2467.9h0M1301 2470h0M1301.5 2461h0M1302 2478.4h0M1302.5 2479.8h0M1303 2459.6h0M1303.4 2479.6h0M1303.9 2470.1h0M1304.4 2482.6h0M1304.9 2484h0M1305.4 2466h0M1305.9 2479.3h0M1306.4 2485.3h0M1306.9 2457.6h0M1307.4 2472.5h0M1307.9 2459.4h0M1308.4 2479.5h0M1308.9 2452h0M1309.4 2482.7h0M1309.9 2468h0M1310.4 2480.1h0M1310.9 2497h0M1311.4 2472h0M1311.9 2460.6h0M1312.4 2458.6h0M1312.9 2481h0M1313.4 2456.5h0M1313.9 2454.5h0M1314.4 2476.5h0M1314.9 2488h0M1315.4 2476.1h0M1315.9 2495.1h0M1316.4 2487.5h0M1316.9 2482h0M1317.3 2478.1h0M1317.8 2477.2h0M1318.3 2477.9h0M1318.8 2485h0M1319.3 2474.3h0M1319.8 2454.5h0M1320.3 2451.6h0M1320.8 2459.5h0M1321.3 2472.5h0M1321.8 2453.5h0M1322.3 2469.3h0M1322.8 2475.2h0M1323.3 2485.9h0M1323.8 2460.8h0M1324.3 2460.6h0M1324.8 2456.4h0M1325.3 2457.2h0M1325.8 2466.9h0M1326.3 2489.7h0M1326.8 2432.6h0M1327.3 2471.5h0M1327.8 2474.6h0M1328.3 2488h0M1328.8 2486.8h0M1329.3 2475.2h0M1329.8 2450.7h0M1330.3 2461.1h0M1330.8 2466.8h0M1331.3 2461.6h0M1331.7 2480h0M1332.2 2464.8h0M1332.7 2457.3h0M1333.2 2470.3h0M1333.7 2480.9h0M1334.2 2464.2h0M1334.7 2458.4h0M1335.2 2461.2h0M1335.7 2471.9h0M1336.2 2474.7h0M1336.7 2463.1h0M1337.2 2461.9h0M1337.7 2480.3h0M1338.2 2498.2h0M1338.7 2503h0M1339.2 2500.2h0M1339.7 2463.9h0M1340.2 2474h0M1340.7 2471h0M1341.2 2466.3h0M1341.7 2465.4h0M1342.2 2472h0M1342.7 2478h0M1343.2 2488.3h0M1343.7 2488.5h0M1344.2 2469h0M1344.7 2468.9h0M1345.2 2483.7h0M1345.7 2480.7h0M1346.1 2466.8h0M1346.6 2473.3h0M1347.1 2450.8h0M1347.6 2476.1h0M1348.1 2458.2h0M1348.6 2476.2h0M1349.1 2437.7h0M1349.6 2472.6h0M1350.1 2457.5h0M1350.6 2465.7h0M1351.1 2473.4h0M1351.6 2464h0M1352.1 2491.8h0M1352.6 2484h0M1353.1 2467.6h0M1353.6 2493h0M1354.1 2471.8h0M1354.6 2474.8h0M1355.1 2493.8h0M1355.6 2495.4h0M1356.1 2472.9h0M1356.6 2481.8h0M1357.1 2471.4h0M1357.6 2484.8h0M1358.1 2469.6h0M1358.6 2486.7h0M1359.1 2452.6h0M1359.6 2477.2h0M1360 2486.9h0M1360.5 2474.9h0M1361 2452.3h0M1361.5 2475.1h0M1362 2459.1h0M1362.5 2466.5h0M1363 2473.3h0M1363.5 2493.6h0M1364 2470.1h0M1364.5 2457.8h0M1365 2493.2h0M1365.5 2468.4h0M1366 2464h0M1366.5 2468.6h0M1367 2468.2h0" stroke="#00ff00" stroke-width="17" stroke-linecap="round" fill="none"/>
<path d="M374 2190.7h0M374.5 2178.2h0M375 2185.2h0M375.5 2193.9h0M376 2193h0M376.5 2193.5h0M377 2187.1h0M377.5 2201.5h0M378 2196.8h0M378.5 2207.5h0M379 2191.9h0M379.4 2206.1h0M379.9 2208.9h0M380.4 2216h0M380.9 2210.2h0M381.4 2208.2h0M381.9 2214.4h0M382.4 2213.1h0M382.9 2217.3h0M383.4 2207.7h0M383.9 2220h0M384.4 2222.5h0M384.9 2224.5h0M385.4 2225.2h0M385.9 2237.1h0M386.4 2239.8h0M386.9 2236.6h0M387.4 2232.8h0M387.9 2242.2h0M388.4 2236.6h0M388.9 2235.3h0M389.4 2235.9h0M389.9 2240.2h0M390.4 2251.6h0M390.9 2252.3h0M391.4 2253.4h0M391.9 2249.9h0M392.4 2245.5h0M392.9 2252.8h0M393.4 2252.2h0M393.8 2250h0M394.3 2262.6h0M394.8 2246.9h0M395.3 2249.7h0M395.8 2252.5h0M396.3 2258.3h0M396.8 2262.9h0M397.3 2270.6h0M397.8 2273.1h0M398.3 2265.4h0M398.8 2266h0M399.3 2272.4h0M399.8 2280.9h0M400.3 2278.1h0M400.8 2281.4h0M401.3 2285h0M401.8 2282.7h0M402.3 2281.6h0M402.8 2267.4h0M403.3 2280.5h0M403.8 2276.2h0M404.3 2281.4h0M404.8 2286.4h0M405.3 2295.8h0M405.8 2300.1h0M406.3 2286.8h0M406.8 2299.3h0M407.3 2301.7h0M407.8 2282.6h0M408.2 2302.5h0M408.7 2300.9h0M409.2 2287.7h0M409.7 2305.5h0M410.2 2311.9h0M410.7 2314.1h0M411.2 2304.9h0M411.7 2317.1h0M412.2 2321.2h0M412.7 2319.1h0M413.2 2302.3h0M413.7 2324.2h0M414.2 2312.8h0M414.7 2314.2h0M415.2 2332.1h0M415.7 2335.4h0M416.2 2337.6h0M416.7 2297.9h0M417.2 2339.2h0M417.7 2307.4h0M418.2 2334.2h0M418.7 2318.3h0M419.2 2334.2h0M419.7 2342.9h0M420.2 2343.3h0M420.7 2332.1h0M421.2 2310.1h0M421.7 2331h0M422.1 2332.5h0M422.6 2339.1h0M423.1 2349.1h0M423.6 2333.2h0M424.1 2349.3h0M424.6 2334.4h0M425.1 2337.9h0M425.6 2348.5h0M426.1 2353.3h0M426.6 2355.8h0M427.1 2342.3h0M427.6 2355.2h0M428.1 2339.4h0M428.6 2371.2h0M429.1 2358.1h0M429.6 2353.4h0M430.1 2345.3h0M430.6 2349h0M431.1 2356.9h0M431.6 2349.5h0M432.1 2357.8h0M432.6 2349.3h0M433.1 2352.1h0M433.6 2369.3h0M434.1 2351.8h0M434.6 2357.5h0M435.1 2353.5h0M435.6 2368.3h0M436.1 2354.9h0M436.5 2361.6h0M437 2365.9h0M437.5 2363.4h0M438 2372.3h0M438.5 2370.2h0M439 2370.2h0M439.5 2364.4h0M440 2368h0M440.5 2363.3h0M441 2365h0M441.5 2363.5h0M442 2386.5h0M442.5 2382h0M443 2364.8h0M443.5 2374.6h0M444 2383.9h0M444.5 2375.6h0M445 2392.6h0M445.5 2367.9h0M446 2380.3h0M446.5 2360.9h0M447 2391.5h0M447.5 2375.3h0M448 2383.7h0M448.5 2391.5h0M449 2382.4h0M449.5 2380h0M450 2378.8h0M450.4 2397.7h0M450.9 2399.9h0M451.4 2382.6h0M451.9 2399.4h0M452.4 2382.9h0M452.9 2369.1h0M453.4 2383.4h0M453.9 2382.7h0M454.4 2392.7h0M454.9 2394.1h0M455.4 2384.7h0M455.9 2385.1h0M456.4 2390.7h0M456.9 2372.1h0M457.4 2398.1h0M457.9 2402h0M458.4 2394.8h0M458.9 2383h0M459.4 2394h0M459.9 2389h0M460.4 2391h0M460.9 2410.6h0M461.4 2395.4h0M461.9 2392.4h0M462.4 2403.8h0M462.9 2387.4h0M463.4 2413.6h0M463.9 2403.3h0M464.4 2402.7h0M464.8 2404h0M465.3 2390.1h0M465.8 2406.8h0M466.3 2406.7h0M466.8 2403.6h0M467.3 2397.1h0M467.8 2403.5h0M468.3 2416.1h0M468.8 2399.3h0M469.3 2409h0M469.8 2413.3h0M470.3 2397h0M470.8 2403.7h0M471.3 2410.6h0M471.8 2419h0M472.3 2412.3h0M472.8 2405.7h0M473.3 2411h0M473.8 2398.1h0M474.3 2416.8h0M474.8 2413h0M475.3 2412.4h0M475.8 2415.7h0M476.3 2417.3h0M476.8 2408.5h0M477.3 2434.3h0M477.8 2409.6h0M478.3 2419.8h0M478.8 2419.9h0M479.2 2407.1h0M479.7 2418.8h0M480.2 2413.6h0M480.7 2411.2h0M481.2 2408.3h0M481.7 2422.9h0M482.2 2432h0M482.7 2431.2h0M483.2 2424.7h0M483.7 2429.5h0M484.2 2409.1h0M484.7 2430.3h0M485.2 2423.8h0M485.7 2434.2h0M486.2 2435.6h0M486.7 2430.8h0M487.2 2429h0M487.7 2429.6h0M488.2 2446.9h0M488.7 2430.1h0M489.2 2436.7h0M489.7 2441.5h0M490.2 2446.2h0M490.7 2424.1h0M491.2 2437.4h0M491.7 2427.3h0M492.2 2434.7h0M492.7 2444.1h0M493.1 2424.4h0M493.6 2440.8h0M494.1 2439.1h0M494.6 2447.6h0M495.1 2441.4h0M495.6 2443.8h0M496.1 2440.3h0M496.6 2452.5h0M497.1 2449.9h0M497.6 2447.1h0M498.1 2419h0M498.6 2451.4h0M499.1 2441.2h0M499.6 2452.4h0M500.1 2450.8h0M500.6 2453.3h0M501.1 2446.2h0M501.6 2451.4h0M502.1 2448.9h0M502.6 2438.6h0M503.1 2454.8h0M503.6 2445.6h0M504.1 2453.2h0M504.6 2461.3h0M505.1 2464.4h0M505.6 2458.6h0M506.1 2457.3h0M506.6 2455.4h0M507.1 2449.3h0M507.5 2460.7h0M508 2460.2h0M508.5 2453.1h0M509 2462.7h0M509.5 2449.4h0M510 2462.8h0M510.5 2454.6h0M511 2453.7h0M511.5 2454.3h0M512 2457.5h0M512.5 2454.2h0M513 2463.2h0M513.5 2464.3h0M514 2488.4h0M514.5 2450h0M515 2461.6h0M515.5 2472h0M516 2478.1h0M516.5 2466.4h0M517 2474.6h0M517.5 2464.2h0M518 2474.3h0M518.5 2463.8h0M519 2457.8h0M519.5 2470.3h0M520 2467.5h0M520.5 2469.9h0M521 2466.4h0M521.5 2458.1h0M521.9 2467.7h0M522.4 2466.4h0M522.9 2461.5h0M523.4 2464.9h0M523.9 2471.7h0M524.4 2472.9h0M524.9 2465.4h0M525.4 2464h0M525.9 2467.9h0M526.4 2467.3h0M526.9 2472.5h0M527.4 2489.7h0M527.9 2472.1h0M528.4 2458.8h0M528.9 2489.3h0M529.4 2476h0M529.9 2472.8h0M530.4 2481.3h0M530.9 2472.9h0M531.4 2493h0M531.9 2477.7h0M532.4 2478.2h0M532.9 2475.1h0M533.4 2482.8h0M533.9 2477.2h0M534.4 2476h0M534.9 2478.6h0M535.4 2472.4h0M535.8 2488.3h0M536.3 2493.6h0M536.8 2471.7h0M537.3 2477.7h0M537.8 2486.4h0M538.3 2470.2h0M538.8 2475.5h0M539.3 2487.9h0M539.8 2484.3h0M540.3 2486.6h0M540.8 2465.3h0M541.3 2495.5h0M541.8 2485.9h0M542.3 2483.8h0M542.8 2503.8h0M543.3 2495.3h0M543.8 2470.9h0M544.3 2505.2h0M544.8 2480.6h0M545.3 2485.3h0M545.8 2475.2h0M546.3 2503h0M546.8 2487.8h0M547.3 2494h0M547.8 2499.2h0M548.3 2489.9h0M548.8 2468.6h0M549.3 2506.8h0M549.8 2486.9h0M550.2 2474.8h0M550.7 2487h0M551.2 2487.7h0M551.7 2486.9h0M552.2 2490.8h0M552.7 2496.9h0M553.2 2512.2h0M553.7 2502.6h0M554.2 2494.5h0M554.7 2517.3h0M555.2 2494.3h0M555.7 2519.8h0M556.2 2494.7h0M556.7 2475.8h0M557.2 2510.1h0M557.7 2492.8h0M558.2 2491.7h0M558.7 2493.9h0M559.2 2496.5h0M559.7 2502.7h0M560.2 2495h0M560.7 2481.7h0M561.2 2500.8h0M561.7 2502.4h0M562.2 2493h0M562.7 2501h0M563.2 2504.6h0M563.7 2476.8h0M564.1 2474.8h0M564.6 2488.4h0M565.1 2508.3h0M565.6 2480h0M566.1 2511.7h0M566.6 2491.9h0M567.1 2504h0M567.6 2492.8h0M568.1 2492h0M568.6 2494.8h0M569.1 2489.5h0M569.6 2486.9h0M570.1 2490h0M570.6 2494.7h0M571.1 2495.1h0M571.6 2482.9h0M572.1 2494.2h0M572.6 2497h0M573.1 2507.9h0M573.6 2507.9h0M574.1 2502.9h0M574.6 2504h0M575.1 2487.9h0M575.6 2496.3h0M576.1 2511h0M576.6 2507h0M577.1 2519.7h0M577.6 2527h0M578.1 2523.9h0M578.5 2496.9h0M579 2497h0M579.5 2500.3h0M580 2518.8h0M580.5 2508.3h0M581 2501.7h0M581.5 2492.8h0M582 2504.3h0M582.5 2502.6h0M583 2519h0M583.5 2532.2h0M584 2491.5h0M584.5 2490.1h0M585 2515.3h0M585.5 2514h0M586 2500.9h0M586.5 2510.7h0M587 2511.3h0M587.5 2496.6h0M588 2515.2h0M588.5 2502.8h0M589 2510.6h0M589.5 2521.7h0M590 2499.1h0M590.5 2517.4h0M591 2516.8h0M591.5 2524.8h0M592 2501.7h0M592.5 2513.5h0M592.9 2495.5h0M593.4 2510h0M593.9 2523.5h0M594.4 2528.5h0M594.9 2517.1h0M595.4 2501.6h0M595.9 2496.3h0M596.4 2515h0M596.9 2505.8h0M597.4 2515.7h0M597.9 2512.4h0M598.4 2512.4h0M598.9 2526.9h0M599.4 2499.9h0M599.9 2511h0M600.4 2520.1h0M600.9 2526.6h0M601.4 2504.1h0M601.9 2502.6h0M602.4 2509h0M602.9 2498.6h0M603.4 2503.4h0M603.9 2525.6h0M604.4 2506.6h0M604.9 2502.9h0M605.4 2510.5h0M605.9 2515.3h0M606.4 2507.9h0M606.8 2514.5h0M607.3 2521.9h0M607.8 2520.6h0M608.3 2513h0M608.8 2524.6h0M609.3 2527.8h0M609.8 2519.7h0M610.3 2500.9h0M610.8 2523h0M611.3 2513.6h0M611.8 2523.3h0M612.3 2511.7h0M612.8 2511.3h0M613.3 2511.9h0M613.8 2513.1h0M614.3 2528.9h0M614.8 2513h0M615.3 2513.7h0M615.8 2518.2h0M616.3 2509.1h0M616.8 2513.4h0M617.3 2510.2h0M617.8 2524h0M618.3 2507.2h0M618.8 2516.7h0M619.3 2519.1h0M619.8 2526.6h0M620.3 2523.8h0M620.8 2520.1h0M621.2 2511.4h0M621.7 2535.3h0M622.2 2528.3h0M622.7 2521.8h0M623.2 2508.4h0M623.7 2515.1h0M624.2 2510.6h0M624.7 2510.2h0M625.2 2512.8h0M625.7 2507.6h0M626.2 2509.1h0M626.7 2514.7h0M627.2 2516.2h0M627.7 2504.3h0M628.2 2516.4h0M628.7 2529.9h0M629.2 2517.1h0M629.7 2514.7h0M630.2 2514.7h0M630.7 2534.6h0M631.2 2524.9h0M631.7 2525.1h0M632.2 2523.4h0M632.7 2519.7h0M633.2 2533.4h0M633.7 2518.1h0M634.2 2504.5h0M634.7 2523.8h0M635.2 2526.6h0M635.6 2522.1h0M636.1 2524.8h0M636.6 2524h0M637.1 2523.4h0M637.6 2535.8h0M638.1 2531.9h0M638.6 2525.7h0M639.1 2522.9h0M639.6 2518.5h0M640.1 2513.6h0M640.6 2512.7h0M641.1 2513.3h0M641.6 2520.1h0M642.1 2519.9h0M642.6 2526.8h0M643.1 2523.1h0M643.6 2507.7h0M644.1 2509.8h0M644.6 2517.3h0M645.1 2540.1h0M645.6 2519.3h0M646.1 2526.5h0M646.6 2524.4h0M647.1 2519.1h0M647.6 2527.8h0M648.1 2508h0M648.6 2515.5h0M649.1 2511.5h0M649.5 2525.6h0M650 2537.9h0M650.5 2519.7h0M651 2514.8h0M651.5 2515h0M652 2522.9h0M652.5 2521.7h0M653 2525.8h0M653.5 2518.5h0M654 2518.2h0M654.5 2531.5h0M655 2532.6h0M655.5 2528.5h0M656 2517.2h0M656.5 2532.9h0M657 2547h0M657.5 2517.2h0M658 2530.2h0M658.5 2523.1h0M659 2527.5h0M659.5 2526.5h0M660 2529.2h0M660.5 2520.2h0M661 2526.1h0M661.5 2520.4h0M662 2527.1h0M662.5 2525.4h0M663 2519.8h0M663.5 2524.4h0M663.9 2521.4h0M664.4 2527.3h0M664.9 2526.7h0M665.4 2527.2h0M665.9 2509.1h0M666.4 2523.8h0M666.9 2520.4h0M667.4 2521.1h0M667.9 2532h0M668.4 2530.9h0M668.9 2526h0M669.4 2536.1h0M669.9 2534.9h0M670.4 2528.3h0M670.9 2533.1h0M671.4 2539h0M671.9 2518.7h0M672.4 2517.4h0M672.9 2519.3h0M673.4 2523.6h0M673.9 2526.1h0M674.4 2535.5h0M674.9 2522h0M675.4 2537.4h0M675.9 2536.6h0M676.4 2536.7h0M676.9 2527.3h0M677.4 2521.5h0M677.8 2536.4h0M678.3 2530.7h0M678.8 2525.8h0M679.3 2534h0M679.8 2530.2h0M680.3 2522.3h0M680.8 2531.3h0M681.3 2529h0M681.8 2526.4h0M682.3 2530.9h0M682.8 2522.1h0M683.3 2528.3h0M683.8 2524h0M684.3 2533.3h0M684.8 2528.8h0M685.3 2526.5h0M685.8 2534.4h0M686.3 2523.9h0M686.8 2522.6h0M687.3 2536.1h0M687.8 2521.7h0M688.3 2538.6h0M688.8 2535.6h0M689.3 2526.1h0M689.8 2523.8h0M690.3 2543.6h0M690.8 2529.4h0M691.3 2526.5h0M691.8 2525.1h0M692.2 2522.3h0M692.7 2544.9h0M693.2 2534h0M693.7 2530.4h0M694.2 2526h0M694.7 2527h0M695.2 2536.5h0M695.7 2514.3h0M696.2 2525.1h0M696.7 2523.9h0M697.2 2519.9h0M697.7 2536.3h0M698.2 2526.3h0M698.7 2539.2h0M699.2 2539h0M699.7 2523.7h0M700.2 2538.7h0M700.7 2533.2h0M701.2 2529.6h0M701.7 2540.2h0M702.2 2533.1h0M702.7 2532.7h0M703.2 2521.2h0M703.7 2538.3h0M704.2 2529.9h0M704.7 2540.6h0M705.2 2530.1h0M705.7 2538.9h0M706.2 2533h0M706.6 2536.8h0M707.1 2516.9h0M707.6 2531.9h0M708.1 2530.3h0M708.6 2530.1h0M709.1 2523.7h0M709.6 2518.2h0M710.1 2536.6h0M710.6 2531.6h0M711.1 2533h0M711.6 2539.1h0M712.1 2527.7h0M712.6 2541.8h0M713.1 2536.9h0M713.6 2534.2h0M714.1 2533h0M714.6 2545.3h0M715.1 2535.8h0M715.6 2537.6h0M716.1 2525.4h0M716.6 2535.6h0M717.1 2524.9h0M717.6 2527.5h0M718.1 2535.4h0M718.6 2530.5h0M719.1 2519.2h0M719.6 2524.8h0M720.1 2528.2h0M720.5 2536.7h0M721 2528.6h0M721.5 2540.3h0M722 2533.5h0M722.5 2525.5h0M723 2544.5h0M723.5 2532h0M724 2529.5h0M724.5 2528.1h0M725 2532.5h0M725.5 2530h0M726 2534.9h0M726.5 2538.8h0M727 2534.3h0M727.5 2528.2h0M728 2540.9h0M728.5 2531.6h0M729 2536.5h0M729.5 2517.5h0M730 2541.6h0M730.5 2528.9h0M731 2539.9h0M731.5 2525.1h0M732 2532.3h0M732.5 2543.7h0M733 2542.5h0M733.5 2536.2h0M734 2539.4h0M734.5 2518.9h0M734.9 2529.2h0M735.4 2532.7h0M735.9 2519.3h0M736.4 2530.1h0M736.9 2535.6h0M737.4 2540.8h0M737.9 2532.5h0M738.4 2543.4h0M738.9 2553.3h0M739.4 2533.6h0M739.9 2539.3h0M740.4 2539.2h0M740.9 2544.6h0M741.4 2519.1h0M741.9 2537.4h0M742.4 2530.6h0M742.9 2525.2h0M743.4 2525.6h0M743.9 2531.6h0M744.4 2537.7h0M744.9 2530.1h0M745.4 2523.5h0M745.9 2532.9h0M746.4 2544.3h0M746.9 2527.5h0M747.4 2539.3h0M747.9 2543.6h0M748.4 2534h0M748.9 2529.4h0M749.3 2528h0M749.8 2544.4h0M750.3 2539.9h0M750.8 2534.7h0M751.3 2536.7h0M751.8 2530.3h0M752.3 2533.9h0M752.8 2546.7h0M753.3 2539.6h0M753.8 2539.1h0M754.3 2540.5h0M754.8 2531.5h0M755.3 2537.6h0M755.8 2527.1h0M756.3 2518.1h0M756.8 2534.7h0M757.3 2531.8h0M757.8 2530.8h0M758.3 2524.8h0M758.8 2532.9h0M759.3 2533.2h0M759.8 2528.6h0M760.3 2529.6h0M760.8 2525.9h0M761.3 2530.7h0M761.8 2540.6h0M762.3 2527.7h0M762.8 2540.8h0M763.2 2525.6h0M763.7 2530h0M764.2 2556.9h0M764.7 2524.8h0M765.2 2542.3h0M765.7 2529.2h0M766.2 2537.7h0M766.7 2539.5h0M767.2 2542.3h0M767.7 2535.1h0M768.2 2531.4h0M768.7 2553.8h0M769.2 2540.8h0M769.7 2540.9h0M770.2 2530.2h0M770.7 2528.1h0M771.2 2540.6h0M771.7 2547.1h0M772.2 2532.1h0M772.7 2527.9h0M773.2 2543.1h0M773.7 2532.1h0M774.2 2539.6h0M774.7 2528.6h0M775.2 2536.3h0M775.7 2530.6h0M776.2 2533.5h0M776.7 2530.6h0M777.2 2538.4h0M777.6 2534.2h0M778.1 2538.5h0M778.6 2533h0M779.1 2544.9h0M779.6 2531.6h0M780.1 2534.3h0M780.6 2544.5h0M781.1 2537.8h0M781.6 2531.5h0M782.1 2532.8h0M782.6 2531h0M783.1 2544.5h0M783.6 2537.1h0M784.1 2536.7h0M784.6 2525.5h0M785.1 2543.4h0M785.6 2543.6h0M786.1 2546.2h0M786.6 2528.9h0M787.1 2545.9h0M787.6 2532.7h0M788.1 2540h0M788.6 2538.3h0M789.1 2543.4h0M789.6 2527.1h0M790.1 2537.8h0M790.6 2542.8h0M791.1 2551.2h0M791.5 2536h0M792 2541h0M792.5 2547.9h0M793 2534.9h0M793.5 2535.6h0M794 2537.8h0M794.5 2547.7h0M795 2535.5h0M795.5 2539.8h0M796 2535.2h0M796.5 2539.4h0M797 2551.1h0M797.5 2543.3h0M798 2542.4h0M798.5 2535.3h0M799 2533.6h0M799.5 2545.1h0M800 2547.5h0M800.5 2533h0M801 2536.4h0M801.5 2535.3h0M802 2536.1h0M802.5 2544.7h0M803 2530.4h0M803.5 2546.5h0M804 2549.7h0M804.5 2528.6h0M805 2539.5h0M805.5 2537.1h0M805.9 2531.3h0M806.4 2552.9h0M806.9 2549.7h0M807.4 2534.9h0M807.9 2535.3h0M808.4 2540.4h0M808.9 2548.4h0M809.4 2547.1h0M809.9 2540.9h0M810.4 2530.9h0M810.9 2527.1h0M811.4 2538.6h0M811.9 2543.8h0M812.4 2545.8h0M812.9 2550.4h0M813.4 2539.2h0M813.9 2538.6h0M814.4 2548.2h0M814.9 2538.6h0M815.4 2545.7h0M815.9 2522.3h0M816.4 2548.8h0M816.9 2542h0M817.4 2542.4h0M817.9 2546.5h0M818.4 2540.4h0M818.9 2528.8h0M819.4 2536.5h0M819.9 2552.2h0M820.3 2538.7h0M820.8 2539.7h0M821.3 2536h0M821.8 2538.6h0M822.3 2535.3h0M822.8 2531.7h0M823.3 2539.8h0M823.8 2535h0M824.3 2531.5h0M824.8 2548.3h0M825.3 2538.3h0M825.8 2542.5h0M826.3 2551.8h0M826.8 2552.8h0M827.3 2536.4h0M827.8 2543.3h0M828.3 2540.1h0M828.8 2534.9h0M829.3 2542.2h0M829.8 2536.2h0M830.3 2534.9h0M830.8 2540.2h0M831.3 2542.3h0M831.8 2544.8h0M832.3 2539.5h0M832.8 2547.6h0M833.3 2537.4h0M833.8 2537.4h0M834.2 2545.9h0M834.7 2534.3h0M835.2 2544.4h0M835.7 2546h0M836.2 2536.7h0M836.7 2536.1h0M837.2 2541.1h0M837.7 2544.4h0M838.2 2537.2h0M838.7 2537.8h0M839.2 2529.4h0M839.7 2542.7h0M840.2 2546.3h0M840.7 2547.2h0M841.2 2540.1h0M841.7 2544.8h0M842.2 2551.8h0M842.7 2546.7h0M843.2 2542.3h0M843.7 2541.5h0M844.2 2544.9h0M844.7 2543.9h0M845.2 2539.7h0M845.7 2548.6h0M846.2 2541.3h0M846.7 2546.7h0M847.2 2538.6h0M847.7 2550.5h0M848.2 2542.9h0M848.6 2537.7h0M849.1 2536.7h0M849.6 2554.7h0M850.1 2545.4h0M850.6 2549.2h0M851.1 2538.8h0M851.6 2540.7h0M852.1 2539.1h0M852.6 2545h0M853.1 2540.7h0M853.6 2544.3h0M854.1 2534.5h0M854.6 2558.1h0M855.1 2534h0M855.6 2574.8h0M856.1 2544.8h0M856.6 2552.1h0M857.1 2542.6h0M857.6 2550.6h0M858.1 2545.5h0M858.6 2534.4h0M859.1 2535.8h0M859.6 2534h0M860.1 2548.9h0M860.6 2541.1h0M861.1 2542.3h0M861.6 2543.7h0M862.1 2542h0M862.5 2542.4h0M863 2536.9h0M863.5 2535.2h0M864 2545.7h0M864.5 2544.7h0M865 2542.7h0M865.5 2547.5h0M866 2546.3h0M866.5 2545.9h0M867 2552.5h0M867.5 2527.9h0M868 2546h0M868.5 2526.3h0M869 2549h0M869.5 2548.4h0M870 2542h0M870.5 2542.7h0M871 2548.2h0M871.5 2540.1h0M872 2542h0M872.5 2549h0M873 2526.1h0M873.5 2545.6h0M874 2546.3h0M874.5 2548.9h0M875 2546.5h0M875.5 2531.4h0M876 2552.3h0M876.5 2535.5h0M876.9 2524.3h0M877.4 2544.6h0M877.9 2543.5h0M878.4 2545.4h0M878.9 2547.7h0M879.4 2554.6h0M879.9 2550.3h0M880.4 2532.9h0M880.9 2546.7h0M881.4 2546.5h0M881.9 2542.4h0M882.4 2543.7h0M882.9 2542.4h0M883.4 2548.8h0M883.9 2537h0M884.4 2525.9h0M884.9 2542.4h0M885.4 2536.8h0M885.9 2541.1h0M886.4 2548.6h0M886.9 2535h0M887.4 2544h0M887.9 2535.1h0M888.4 2535.9h0M888.9 2538.6h0M889.4 2536.7h0M889.9 2546.7h0M890.4 2535.5h0M890.9 2542.4h0M891.3 2542.3h0M891.8 2541.1h0M892.3 2549.1h0M892.8 2551.7h0M893.3 2548.4h0M893.8 2552.8h0M894.3 2543.9h0M894.8 2552.6h0M895.3 2550.2h0M895.8 2544.5h0M896.3 2552.7h0M896.8 2537.6h0M897.3 2536.6h0M897.8 2534.9h0M898.3 2546.6h0M898.8 2534.7h0M899.3 2550.3h0M899.8 2534.7h0M900.3 2541.2h0M900.8 2543.8h0M901.3 2547.8h0M901.8 2538.7h0M902.3 2548.7h0M902.8 2550.3h0M903.3 2543.8h0M903.8 2530.9h0M904.3 2551.7h0M904.8 2541.2h0M905.2 2538.9h0M905.7 2545.1h0M906.2 2529.2h0M906.7 2550.6h0M907.2 2535.5h0M907.7 2547.3h0M908.2 2544.8h0M908.7 2538.4h0M909.2 2547h0M909.7 2547h0M910.2 2543.1h0M910.7 2545.1h0M911.2 2546.5h0M911.7 2539.7h0M912.2 2537.3h0M912.7 2543.9h0M913.2 2532h0M913.7 2536.5h0M914.2 2549.1h0M914.7 2549.1h0M915.2 2543.3h0M915.7 2548.8h0M916.2 2543.2h0M916.7 2539h0M917.2 2548.7h0M917.7 2544.4h0M918.2 2544.7h0M918.7 2543.6h0M919.2 2561.2h0M919.6 2548.9h0M920.1 2551.6h0M920.6 2543.5h0M921.1 2548.7h0M921.6 2540h0M922.1 2542.5h0M922.6 2543.6h0M923.1 2544.6h0M923.6 2557.4h0M924.1 2539.7h0M924.6 2551.7h0M925.1 2547.1h0M925.6 2546.2h0M926.1 2560.4h0M926.6 2543.9h0M927.1 2532.8h0M927.6 2553.5h0M928.1 2550.2h0M928.6 2533.9h0M929.1 2549.8h0M929.6 2538.1h0M930.1 2544.5h0M930.6 2554.7h0M931.1 2538.3h0M931.6 2543.9h0M932.1 2555h0M932.6 2545h0M933.1 2542.3h0M933.6 2551.8h0M934 2552.8h0M934.5 2553.3h0M935 2563h0M935.5 2533.4h0M936 2533.7h0M936.5 2541.5h0M937 2533.7h0M937.5 2539.2h0M938 2535.9h0M938.5 2550.4h0M939 2553.1h0M939.5 2541h0M940 2562.1h0M940.5 2558.3h0M941 2540.3h0M941.5 2543.4h0M942 2544.3h0M942.5 2550.2h0M943 2550.4h0M943.5 2546.6h0M944 2547.9h0M944.5 2547.7h0M945 2550.8h0M945.5 2541.3h0M946 2546.8h0M946.5 2539.7h0M947 2546.5h0M947.5 2544h0M947.9 2547.1h0M948.4 2532.9h0M948.9 2536h0M949.4 2558.8h0M949.9 2548.7h0M950.4 2540.5h0M950.9 2550.1h0M951.4 2562.5h0M951.9 2555.4h0M952.4 2538.9h0M952.9 2541.3h0M953.4 2533h0M953.9 2539h0M954.4 2554h0M954.9 2557.9h0M955.4 2547.5h0M955.9 2536h0M956.4 2529.1h0M956.9 2548.1h0M957.4 2546.4h0M957.9 2545.8h0M958.4 2546.7h0M958.9 2561.1h0M959.4 2544.7h0M959.9 2549h0M960.4 2551.6h0M960.9 2558.5h0M961.4 2546.1h0M961.9 2545.7h0M962.3 2551.7h0M962.8 2547h0M963.3 2539.5h0M963.8 2546.7h0M964.3 2545.9h0M964.8 2540.9h0M965.3 2536.2h0M965.8 2541.1h0M966.3 2543.2h0M966.8 2552.8h0M967.3 2555.8h0M967.8 2526.9h0M968.3 2548.4h0M968.8 2546h0M969.3 2548.1h0M969.8 2551.8h0M970.3 2541h0M970.8 2527.4h0M971.3 2550h0M971.8 2546.1h0M972.3 2552.2h0M972.8 2550.7h0M973.3 2545.1h0M973.8 2552.2h0M974.3 2545.5h0M974.8 2550.4h0M975.3 2541.5h0M975.8 2549.6h0M976.2 2549.8h0M976.7 2542.7h0M977.2 2547.9h0M977.7 2560.2h0M978.2 2544.4h0M978.7 2538.7h0M979.2 2558.7h0M979.7 2563.1h0M980.2 2549.6h0M980.7 2551.4h0M981.2 2553.3h0M981.7 2545.6h0M982.2 2554.5h0M982.7 2546.2h0M983.2 2530.9h0M983.7 2545.2h0M984.2 2550.2h0M984.7 2561.9h0M985.2 2547.1h0M985.7 2543h0M986.2 2548.6h0M986.7 2547.2h0M987.2 2543.9h0M987.7 2557.3h0M988.2 2551.4h0M988.7 2542.2h0M989.2 2549.3h0M989.7 2554.8h0M990.2 2537.3h0M990.6 2536.2h0M991.1 2546.3h0M991.6 2544.1h0M992.1 2540.8h0M992.6 2544.6h0M993.1 2537.9h0M993.6 2562.4h0M994.1 2550.3h0M994.6 2553h0M995.1 2543.7h0M995.6 2552.5h0M996.1 2528.6h0M996.6 2543h0M997.1 2551.2h0M997.6 2543.7h0M998.1 2548.3h0M998.6 2532.6h0M999.1 2546.4h0M999.6 2551.2h0M1000.1 2553h0M1000.6 2548.1h0M1001.1 2543.4h0M1001.6 2558.4h0M1002.1 2541.7h0M1002.6 2544.2h0M1003.1 2547.4h0M1003.6 2550.4h0M1004.1 2552.7h0M1004.6 2542.9h0M1005 2553.2h0M1005.5 2552.7h0M1006 2539.2h0M1006.5 2552.7h0M1007 2542.2h0M1007.5 2559.4h0M1008 2561.8h0M1008.5 2539.3h0M1009 2533.2h0M1009.5 2542.5h0M1010 2546.6h0M1010.5 2548.3h0M1011 2546h0M1011.5 2559.5h0M1012 2551.4h0M1012.5 2553.6h0M1013 2535.1h0M1013.5 2552.4h0M1014 2546.4h0M1014.5 2550h0M1015 2548.9h0M1015.5 2558.7h0M1016 2539.2h0M1016.5 2553.7h0M1017 2534.8h0M1017.5 2552.7h0M1018 2549.5h0M1018.5 2560.6h0M1018.9 2548.9h0M1019.4 2553h0M1019.9 2543.8h0M1020.4 2551.3h0M1020.9 2550.2h0M1021.4 2548.5h0M1021.9 2547.7h0M1022.4 2551.4h0M1022.9 2542.5h0M1023.4 2549.8h0M1023.9 2558.6h0M1024.4 2556.1h0M1024.9 2553.6h0M1025.4 2536.9h0M1025.9 2541.1h0M1026.4 2538.9h0M1026.9 2545.8h0M1027.4 2548.3h0M1027.9 2554.9h0M1028.4 2546.3h0M1028.9 2545.8h0M1029.4 2557.4h0M1029.9 2547.4h0M1030.4 2536.9h0M1030.9 2552.4h0M1031.4 2542.4h0M1031.9 2550.8h0M1032.4 2558h0M1032.9 2554.7h0M1033.3 2545.2h0M1033.8 2548.6h0M1034.3 2544h0M1034.8 2558.8h0M1035.3 2555.9h0M1035.8 2551.6h0M1036.3 2555.4h0M1036.8 2559.2h0M1037.3 2547.4h0M1037.8 2555.1h0M1038.3 2562.4h0M1038.8 2548.5h0M1039.3 2560h0M1039.8 2554.9h0M1040.3 2543.3h0M1040.8 2549.9h0M1041.3 2540.6h0M1041.8 2555.7h0M1042.3 2544.3h0M1042.8 2550.2h0M1043.3 2549.3h0M1043.8 2565.3h0M1044.3 2556.2h0M1044.8 2552.2h0M1045.3 2564.2h0M1045.8 2545.6h0M1046.3 2557.3h0M1046.8 2554.7h0M1047.3 2553.6h0M1047.7 2558.1h0M1048.2 2545.7h0M1048.7 2564.3h0M1049.2 2555.6h0M1049.7 2556.1h0M1050.2 2555h0M1050.7 2553.8h0M1051.2 2574.2h0M1051.7 2552.1h0M1052.2 2545.4h0M1052.7 2549h0M1053.2 2530.3h0M1053.7 2555.7h0M1054.2 2548.6h0M1054.7 2551.1h0M1055.2 2546.8h0M1055.7 2557.1h0M1056.2 2567.5h0M1056.7 2545.5h0M1057.2 2560h0M1057.7 2557.3h0M1058.2 2557.8h0M1058.7 2554.1h0M1059.2 2559.5h0M1059.7 2561.9h0M1060.2 2549.5h0M1060.7 2533h0M1061.2 2556.3h0M1061.6 2548.6h0M1062.1 2563.1h0M1062.6 2548.7h0M1063.1 2554.6h0M1063.6 2534h0M1064.1 2555.3h0M1064.6 2554.1h0M1065.1 2563.2h0M1065.6 2556h0M1066.1 2556.9h0M1066.6 2556h0M1067.1 2538.4h0M1067.6 2560.4h0M1068.1 2554.7h0M1068.6 2555h0M1069.1 2557h0M1069.6 2549.1h0M1070.1 2551.6h0M1070.6 2553.5h0M1071.1 2556.3h0M1071.6 2562.7h0M1072.1 2555.6h0M1072.6 2557.4h0M1073.1 2547.1h0M1073.6 2567.8h0M1074.1 2563.5h0M1074.6 2559.8h0M1075.1 2543.9h0M1075.6 2557.9h0M1076 2543.9h0M1076.5 2550.3h0M1077 2548h0M1077.5 2544.1h0M1078 2555.3h0M1078.5 2567h0M1079 2548.1h0M1079.5 2560.8h0M1080 2553h0M1080.5 2551.1h0M1081 2555.3h0M1081.5 2557h0M1082 2547.2h0M1082.5 2543h0M1083 2547.8h0M1083.5 2529.5h0M1084 2528.2h0M1084.5 2546.3h0M1085 2554h0M1085.5 2550.4h0M1086 2548.6h0M1086.5 2546.1h0M1087 2545.5h0M1087.5 2551.3h0M1088 2552.1h0M1088.5 2550.2h0M1089 2553.4h0M1089.5 2558.8h0M1089.9 2541.9h0M1090.4 2539h0M1090.9 2563.4h0M1091.4 2543.3h0M1091.9 2546.6h0M1092.4 2556.1h0M1092.9 2550.3h0M1093.4 2561.4h0M1093.9 2552.4h0M1094.4 2558.9h0M1094.9 2554.4h0M1095.4 2557.1h0M1095.9 2549.1h0M1096.4 2547.8h0M1096.9 2554.6h0M1097.4 2544.4h0M1097.9 2563.4h0M1098.4 2552.1h0M1098.9 2550h0M1099.4 2566.1h0M1099.9 2547.9h0M1100.4 2546.7h0M1100.9 2557.8h0M1101.4 2551.1h0M1101.9 2552.9h0M1102.4 2554.5h0M1102.9 2558.9h0M1103.4 2549.9h0M1103.9 2563.3h0M1104.3 2546.7h0M1104.8 2554.7h0M1105.3 2550h0M1105.8 2564.7h0M1106.3 2546.5h0M1106.8 2574.5h0M1107.3 2546h0M1107.8 2556.9h0M1108.3 2555.8h0M1108.8 2558.6h0M1109.3 2557.8h0M1109.8 2542.2h0M1110.3 2541.2h0M1110.8 2552h0M1111.3 2554.9h0M1111.8 2545h0M1112.3 2555.9h0M1112.8 2565.3h0M1113.3 2554.8h0M1113.8 2559h0M1114.3 2547.3h0M1114.8 2573.3h0M1115.3 2553.4h0M1115.8 2554.7h0M1116.3 2555h0M1116.8 2550.8h0M1117.3 2553.9h0M1117.8 2555.6h0M1118.3 2544.3h0M1118.7 2559.8h0M1119.2 2558.2h0M1119.7 2550.4h0M1120.2 2543h0M1120.7 2550.3h0M1121.2 2544.5h0M1121.7 2570.2h0M1122.2 2564.4h0M1122.7 2555.4h0M1123.2 2551.2h0M1123.7 2562.6h0M1124.2 2559.7h0M1124.7 2570.3h0M1125.2 2536.9h0M1125.7 2558.9h0M1126.2 2541h0M1126.7 2572h0M1127.2 2536h0M1127.7 2543.8h0M1128.2 2545.1h0M1128.7 2550.2h0M1129.2 2550.6h0M1129.7 2562.4h0M1130.2 2552.2h0M1130.7 2554.6h0M1131.2 2556.3h0M1131.7 2539.8h0M1132.2 2564.6h0M1132.6 2542.3h0M1133.1 2559.2h0M1133.6 2559.3h0M1134.1 2543.3h0M1134.6 2563.3h0M1135.1 2558.9h0M1135.6 2557.4h0M1136.1 2555.7h0M1136.6 2556.1h0M1137.1 2559.7h0M1137.6 2564.4h0M1138.1 2534.2h0M1138.6 2571.4h0M1139.1 2556.6h0M1139.6 2558.1h0M1140.1 2549h0M1140.6 2550.1h0M1141.1 2559.1h0M1141.6 2545.6h0M1142.1 2542.1h0M1142.6 2560.6h0M1143.1 2556.1h0M1143.6 2550h0M1144.1 2570.6h0M1144.6 2556.4h0M1145.1 2558.1h0M1145.6 2553.6h0M1146.1 2554.9h0M1146.6 2547h0M1147 2567.5h0M1147.5 2539.7h0M1148 2548.6h0M1148.5 2536.2h0M1149 2550.8h0M1149.5 2556h0M1150 2554.7h0M1150.5 2560.2h0M1151 2548.6h0M1151.5 2558.5h0M1152 2547h0M1152.5 2545.9h0M1153 2553.1h0M1153.5 2562.5h0M1154 2534.5h0M1154.5 2545.4h0M1155 2545.6h0M1155.5 2557.7h0M1156 2549.6h0M1156.5 2556.6h0M1157 2565.5h0M1157.5 2556.9h0M1158 2554.4h0M1158.5 2546.2h0M1159 2539.7h0M1159.5 2550.3h0M1160 2569.2h0M1160.5 2543.1h0M1161 2553.1h0M1161.4 2544.1h0M1161.9 2558h0M1162.4 2563.9h0M1162.9 2541.3h0M1163.4 2553.8h0M1163.9 2551.3h0M1164.4 2548.8h0M1164.9 2543.4h0M1165.4 2556.8h0M1165.9 2556.7h0M1166.4 2568.6h0M1166.9 2546.8h0M1167.4 2554h0M1167.9 2546.1h0M1168.4 2548.1h0M1168.9 2573.6h0M1169.4 2565.1h0M1169.9 2550.9h0M1170.4 2551.5h0M1170.9 2554.9h0M1171.4 2569h0M1171.9 2564.4h0M1172.4 2553.4h0M1172.9 2541.6h0M1173.4 2550.1h0M1173.9 2570.3h0M1174.4 2544.7h0M1174.9 2550.8h0M1175.3 2534.5h0M1175.8 2558.5h0M1176.3 2554.6h0M1176.8 2571.5h0M1177.3 2533.4h0M1177.8 2542.7h0M1178.3 2542.6h0M1178.8 2561.3h0M1179.3 2553.6h0M1179.8 2540.1h0M1180.3 2559h0M1180.8 2522.4h0M1181.3 2566.6h0M1181.8 2562.9h0M1182.3 2537.2h0M1182.8 2544.3h0M1183.3 2537.1h0M1183.8 2555.2h0M1184.3 2557.8h0M1184.8 2544h0M1185.3 2569h0M1185.8 2549.4h0M1186.3 2560.1h0M1186.8 2558.1h0M1187.3 2556.7h0M1187.8 2557.8h0M1188.3 2551h0M1188.8 2545h0M1189.3 2541.7h0M1189.7 2550h0M1190.2 2560.4h0M1190.7 2571.1h0M1191.2 2556.1h0M1191.7 2551.3h0M1192.2 2551.1h0M1192.7 2553.1h0M1193.2 2540.3h0M1193.7 2542.3h0M1194.2 2557.1h0M1194.7 2564h0M1195.2 2567.9h0M1195.7 2559.7h0M1196.2 2547.5h0M1196.7 2565.6h0M1197.2 2557.7h0M1197.7 2551.1h0M1198.2 2573.6h0M1198.7 2553.3h0M1199.2 2567.5h0M1199.7 2550.8h0M1200.2 2553.9h0M1200.7 2554.6h0M1201.2 2554.5h0M1201.7 2553.7h0M1202.2 2557h0M1202.7 2567.9h0M1203.2 2555.2h0M1203.6 2545.5h0M1204.1 2531.5h0M1204.6 2562.3h0M1205.1 2572.6h0M1205.6 2541.6h0M1206.1 2557.8h0M1206.6 2574.3h0M1207.1 2547.9h0M1207.6 2549.7h0M1208.1 2564.2h0M1208.6 2546.8h0M1209.1 2540.8h0M1209.6 2551.3h0M1210.1 2518.5h0M1210.6 2542h0M1211.1 2561.5h0M1211.6 2549.1h0M1212.1 2549.5h0M1212.6 2552.5h0M1213.1 2548.1h0M1213.6 2544.6h0M1214.1 2550.4h0M1214.6 2537.4h0M1215.1 2556.5h0M1215.6 2551.4h0M1216.1 2559.6h0M1216.6 2548h0M1217.1 2571.5h0M1217.6 2552.5h0M1218 2547.2h0M1218.5 2564.4h0M1219 2542h0M1219.5 2569.6h0M1220 2577.4h0M1220.5 2540.5h0M1221 2537.1h0M1221.5 2557.3h0M1222 2561.2h0M1222.5 2560.5h0M1223 2541.6h0M1223.5 2537.8h0M1224 2528.5h0M1224.5 2556.5h0M1225 2543.2h0M1225.5 2527.5h0M1226 2556h0M1226.5 2561.1h0M1227 2556.1h0M1227.5 2546.2h0M1228 2560.6h0M1228.5 2524.4h0M1229 2554.7h0M1229.5 2559.4h0M1230 2549.5h0M1230.5 2542.9h0M1231 2546.1h0M1231.5 2568.6h0M1232 2543.7h0M1232.4 2525.9h0M1232.9 2553.8h0M1233.4 2534.5h0M1233.9 2550h0M1234.4 2544.2h0M1234.9 2551.1h0M1235.4 2537.4h0M1235.9 2559.4h0M1236.4 2559.6h0M1236.9 2555.5h0M1237.4 2556.2h0M1237.9 2556.4h0M1238.4 2547.4h0M1238.9 2551.5h0M1239.4 2559.1h0M1239.9 2548.3h0M1240.4 2537.9h0M1240.9 2522.9h0M1241.4 2556.5h0M1241.9 2567.1h0M1242.4 2554.3h0M1242.9 2551.5h0M1243.4 2543.2h0M1243.9 2549.6h0M1244.4 2561.6h0M1244.9 2575.6h0M1245.4 2560.5h0M1245.9 2554.9h0M1246.3 2569.9h0M1246.8 2569.1h0M1247.3 2525.2h0M1247.8 2545.1h0M1248.3 2529.9h0M1248.8 2524.6h0M1249.3 2554.5h0M1249.8 2550.6h0M1250.3 2549.6h0M1250.8 2561h0M1251.3 2552.4h0M1251.8 2556h0M1252.3 2557.3h0M1252.8 2542.7h0M1253.3 2579.4h0M1253.8 2564.3h0M1254.3 2552h0M1254.8 2558.4h0M1255.3 2545.4h0M1255.8 2556.9h0M1256.3 2557.9h0M1256.8 2544.5h0M1257.3 2542.9h0M1257.8 2588h0M1258.3 2543.2h0M1258.8 2569.2h0M1259.3 2543.8h0M1259.8 2546.9h0M1260.3 2561.7h0M1260.7 2536.7h0M1261.2 2576.4h0M1261.7 2562.4h0M1262.2 2553.2h0M1262.7 2577h0M1263.2 2545.8h0M1263.7 2571.5h0M1264.2 2554.9h0M1264.7 2561.6h0M1265.2 2551.8h0M1265.7 2546.1h0M1266.2 2548.7h0M1266.7 2565.9h0M1267.2 2553.3h0M1267.7 2548.9h0M1268.2 2545.4h0M1268.7 2529.4h0M1269.2 2569.2h0M1269.7 2556h0M1270.2 2536.2h0M1270.7 2549.6h0M1271.2 2556h0M1271.7 2545.9h0M1272.2 2550.4h0M1272.7 2551.3h0M1273.2 2558.1h0M1273.7 2553.5h0M1274.2 2563.9h0M1274.6 2564.9h0M1275.1 2556.5h0M1275.6 2557.1h0M1276.1 2550.5h0M1276.6 2565h0M1277.1 2575.7h0M1277.6 2559.6h0M1278.1 2562.2h0M1278.6 2568.5h0M1279.1 2545.2h0M1279.6 2553.3h0M1280.1 2566.2h0M1280.6 2557.5h0M1281.1 2569.4h0M1281.6 2555.9h0M1282.1 2578h0M1282.6 2564.2h0M1283.1 2549.4h0M1283.6 2539.9h0M1284.1 2568.7h0M1284.6 2550h0M1285.1 2549.9h0M1285.6 2543.4h0M1286.1 2535.5h0M1286.6 2567.3h0M1287.1 2548.2h0M1287.6 2554.5h0M1288.1 2542.5h0M1288.6 2542.7h0M1289 2553.8h0M1289.5 2550.6h0M1290 2568.1h0M1290.5 2563.7h0M1291 2561.1h0M1291.5 2576.6h0M1292 2558.3h0M1292.5 2545.4h0M1293 2566.8h0M1293.5 2577h0M1294 2551.5h0M1294.5 2573.3h0M1295 2562.7h0M1295.5 2554h0M1296 2534.4h0M1296.5 2546.6h0M1297 2544.6h0M1297.5 2567.3h0M1298 2543.9h0M1298.5 2566.5h0M1299 2569.4h0M1299.5 2552.1h0M1300 2549.6h0M1300.5 2544.4h0M1301 2556h0M1301.5 2551.2h0M1302 2552.9h0M1302.5 2549.6h0M1303 2553.5h0M1303.4 2576.6h0M1303.9 2554h0M1304.4 2545.3h0M1304.9 2543.6h0M1305.4 2560.2h0M1305.9 2549h0M1306.4 2556.6h0M1306.9 2555h0M1307.4 2545.7h0M1307.9 2529.3h0M1308.4 2552.6h0M1308.9 2526.3h0M1309.4 2565h0M1309.9 2537.5h0M1310.4 2546.9h0M1310.9 2551.1h0M1311.4 2541.3h0M1311.9 2566.6h0M1312.4 2543.4h0M1312.9 2555.1h0M1313.4 2558.4h0M1313.9 2572.9h0M1314.4 2565.5h0M1314.9 2573.5h0M1315.4 2564.6h0M1315.9 2528.4h0M1316.4 2560.1h0M1316.9 2549.3h0M1317.3 2556.4h0M1317.8 2555.2h0M1318.3 2569.7h0M1318.8 2530.8h0M1319.3 2559.3h0M1319.8 2551.3h0M1320.3 2536.2h0M1320.8 2549.9h0M1321.3 2557.7h0M1321.8 2552.6h0M1322.3 2553.5h0M1322.8 2545.7h0M1323.3 2557.1h0M1323.8 2552.2h0M1324.3 2539h0M1324.8 2576.7h0M1325.3 2534.9h0M1325.8 2569.3h0M1326.3 2544h0M1326.8 2542.1h0M1327.3 2560.9h0M1327.8 2541.9h0M1328.3 2535.6h0M1328.8 2543.8h0M1329.3 2567h0M1329.8 2532.7h0M1330.3 2576.3h0M1330.8 2566.6h0M1331.3 2566.6h0M1331.7 2560.2h0M1332.2 2542h0M1332.7 2548.2h0M1333.2 2560.3h0M1333.7 2565.2h0M1334.2 2564.1h0M1334.7 2553.9h0M1335.2 2548.4h0M1335.7 2587.7h0M1336.2 2538.6h0M1336.7 2554.8h0M1337.2 2538.4h0M1337.7 2570.3h0M1338.2 2547.5h0M1338.7 2562.7h0M1339.2 2574.6h0M1339.7 2519.3h0M1340.2 2539.2h0M1340.7 2525.1h0M1341.2 2533.8h0M1341.7 2533.6h0M1342.2 2540.9h0M1342.7 2570.4h0M1343.2 2551.7h0M1343.7 2558.6h0M1344.2 2574h0M1344.7 2555.6h0M1345.2 2550.9h0M1345.7 2569.6h0M1346.1 2557.5h0M1346.6 2539.5h0M1347.1 2523.9h0M1347.6 2542.9h0M1348.1 2553.3h0M1348.6 2542.3h0M1349.1 2561.2h0M1349.6 2576.7h0M1350.1 2565.4h0M1350.6 2519.1h0M1351.1 2547.4h0M1351.6 2539.7h0M1352.1 2565.8h0M1352.6 2561.1h0M1353.1 2553.5h0M1353.6 2551.9h0M1354.1 2548.2h0M1354.6 2537.6h0M1355.1 2553.3h0M1355.6 2540.9h0M1356.1 2549h0M1356.6 2569.3h0M1357.1 2550.6h0M1357.6 2564.6h0M1358.1 2557.6h0M1358.6 2543.3h0M1359.1 2563.5h0M1359.6 2549.3h0M1360 2560.6h0M1360.5 2553.6h0M1361 2569.6h0M1361.5 2562.1h0M1362 2553.6h0M1362.5 2545h0M1363 2582.9h0M1363.5 2552.5h0M1364 2557.3h0M1364.5 2555.6h0M1365 2550.6h0M1365.5 2537.3h0M1366 2548.8h0M1366.5 2541.8h0M1367 2568.2h0" stroke="#0000ff" stroke-width="17" stroke-linecap="round" fill="none"/>
<polyline points="371.0,2122.5 372.2,2124.1 373.5,2125.7 374.7,2127.3 376.0,2128.9 377.2,2130.5 378.5,2132.1 379.7,2133.6 381.0,2135.2 382.2,2136.8 383.4,2138.4 384.7,2139.9 385.9,2141.5 387.2,2143.0 388.4,2144.6 389.7,2146.2 390.9,2147.7 392.2,2149.2 393.4,2150.8 394.7,2152.3 395.9,2153.8 397.1,2155.4 398.4,2156.9 399.6,2158.4 400.9,2159.9 402.1,2161.4 403.4,2162.9 404.6,2164.4 405.9,2165.9 407.1,2167.3 408.4,2168.8 409.6,2170.3 410.8,2171.7 412.1,2173.2 413.3,2174.6 414.6,2176.1 415.8,2177.5 417.1,2178.9 418.3,2180.4 419.6,2181.8 420.8,2183.2 422.0,2184.6 423.3,2186.0 424.5,2187.4 425.8,2188.8 427.0,2190.1 428.3,2191.5 429.5,2192.9 430.8,2194.2 432.0,2195.6 433.2,2196.9 434.5,2198.3 435.7,2199.6 437.0,2200.9 438.2,2202.2 439.5,2203.5 440.7,2204.8 442.0,2206.1 443.2,2207.4 444.5,2208.7 445.7,2210.0 446.9,2211.3 448.2,2212.5 449.4,2213.8 450.7,2215.0 451.9,2216.3 453.2,2217.5 454.4,2218.7 455.7,2220.0 456.9,2221.2 458.1,2222.4 459.4,2223.6 460.6,2224.8 461.9,2226.0 463.1,2227.1 464.4,2228.3 465.6,2229.5 466.9,2230.7 468.1,2231.8 469.4,2233.0 470.6,2234.1 471.8,2235.2 473.1,2236.4 474.3,2237.5 475.6,2238.6 476.8,2239.7 478.1,2240.8 479.3,2241.9 480.6,2243.0 481.8,2244.1 483.1,2245.1 484.3,2246.2 485.5,2247.3 486.8,2248.3 488.0,2249.4 489.3,2250.4 490.5,2251.4 491.8,2252.5 493.0,2253.5 494.3,2254.5 495.5,2255.5 496.7,2256.5 498.0,2257.5 499.2,2258.5 500.5,2259.5 501.7,2260.4 503.0,2261.4 504.2,2262.4 505.5,2263.3 506.7,2264.3 508.0,2265.2 509.2,2266.2 510.4,2267.1 511.7,2268.0 512.9,2268.9 514.2,2269.9 515.4,2270.8 516.7,2271.7 517.9,2272.6 519.2,2273.4 520.4,2274.3 521.6,2275.2 522.9,2276.1 524.1,2276.9 525.4,2277.8 526.6,2278.6 527.9,2279.5 529.1,2280.3 530.4,2281.2 531.6,2282.0 532.9,2282.8 534.1,2283.6 535.3,2284.4 536.6,2285.3 537.8,2286.1 539.1,2286.8 540.3,2287.6 541.6,2288.4 542.8,2289.2 544.1,2290.0 545.3,2290.7 546.5,2291.5 547.8,2292.2 549.0,2293.0 550.3,2293.7 551.5,2294.5 552.8,2295.2 554.0,2295.9 555.3,2296.7 556.5,2297.4 557.8,2298.1 559.0,2298.8 560.2,2299.5 561.5,2300.2 562.7,2300.9 564.0,2301.6 565.2,2302.2 566.5,2302.9 567.7,2303.6 569.0,2304.2 570.2,2304.9 571.4,2305.6 572.7,2306.2 573.9,2306.8 575.2,2307.5 576.4,2308.1 577.7,2308.7 578.9,2309.4 580.2,2310.0 581.4,2310.6 582.6,2311.2 583.9,2311.8 585.1,2312.4 586.4,2313.0 587.6,2313.6 588.9,2314.2 590.1,2314.8 591.4,2315.3 592.6,2315.9 593.9,2316.5 595.1,2317.0 596.3,2317.6 597.6,2318.2 598.8,2318.7 600.1,2319.3 601.3,2319.8 602.6,2320.3 603.8,2320.9 605.1,2321.4 606.3,2321.9 607.5,2322.4 608.8,2322.9 610.0,2323.5 611.3,2324.0 612.5,2324.5 613.8,2325.0 615.0,2325.5 616.3,2325.9 617.5,2326.4 618.8,2326.9 620.0,2327.4 621.2,2327.9 622.5,2328.3 623.7,2328.8 625.0,2329.3 626.2,2329.7 627.5,2330.2 628.7,2330.6 630.0,2331.1 631.2,2331.5 632.5,2331.9 633.7,2332.4 634.9,2332.8 636.2,2333.2 637.4,2333.7 638.7,2334.1 639.9,2334.5 641.2,2334.9 642.4,2335.3 643.7,2335.7 644.9,2336.1 646.1,2336.5 647.4,2336.9 648.6,2337.3 649.9,2337.7 651.1,2338.1 652.4,2338.5 653.6,2338.9 654.9,2339.2 656.1,2339.6 657.4,2340.0 658.6,2340.3 659.8,2340.7 661.1,2341.1 662.3,2341.4 663.6,2341.8 664.8,2342.1 666.1,2342.5 667.3,2342.8 668.6,2343.1 669.8,2343.5 671.0,2343.8 682.8,2346.8 694.6,2349.6 706.4,2352.1 718.2,2354.4 730.0,2356.6 741.8,2358.5 753.6,2360.2 765.4,2361.8 777.2,2363.3 789.0,2364.6 800.8,2365.8 812.6,2366.9 824.4,2367.9 836.2,2368.7 848.0,2369.5 859.8,2370.2 871.6,2370.9 883.4,2371.5 895.2,2372.0 907.0,2372.5 918.8,2372.9 930.6,2373.3 942.3,2373.6 954.1,2373.9 965.9,2374.2 977.7,2374.4 989.5,2374.6 1001.3,2374.8 1013.1,2375.0 1024.9,2375.1 1036.7,2375.2 1048.5,2375.4 1060.3,2375.5 1072.1,2375.6 1083.9,2375.6 1095.7,2375.7 1107.5,2375.8 1119.3,2375.8 1131.1,2375.9 1142.9,2375.9 1154.7,2376.0 1166.5,2376.0 1178.3,2376.0 1190.1,2376.0 1201.9,2376.1 1213.7,2376.1 1225.4,2376.1 1237.2,2376.1 1249.0,2376.1 1260.8,2376.1 1272.6,2376.1 1284.4,2376.2 1296.2,2376.2 1308.0,2376.2 1319.8,2376.2 1331.6,2376.2 1343.4,2376.2 1355.2,2376.2 1367.0,2376.2" stroke="#000" stroke-width="9.6" fill="none" stroke-linejoin="round"/>
<polyline points="371.0,2122.5 372.2,2124.8 373.5,2127.2 374.7,2129.8 376.0,2132.5 377.2,2135.2 378.5,2137.9 379.7,2140.7 381.0,2143.5 382.2,2146.3 383.4,2149.1 384.7,2152.0 385.9,2154.8 387.2,2157.7 388.4,2160.5 389.7,2163.4 390.9,2166.2 392.2,2169.1 393.4,2171.9 394.7,2174.7 395.9,2177.6 397.1,2180.4 398.4,2183.2 399.6,2186.0 400.9,2188.7 402.1,2191.5 403.4,2194.2 404.6,2197.0 405.9,2199.7 407.1,2202.4 408.4,2205.1 409.6,2207.8 410.8,2210.4 412.1,2213.1 413.3,2215.7 414.6,2218.3 415.8,2220.9 417.1,2223.5 418.3,2226.1 419.6,2228.6 420.8,2231.1 422.0,2233.6 423.3,2236.1 424.5,2238.6 425.8,2241.0 427.0,2243.4 428.3,2245.9 429.5,2248.2 430.8,2250.6 432.0,2253.0 433.2,2255.3 434.5,2257.6 435.7,2259.9 437.0,2262.2 438.2,2264.4 439.5,2266.7 440.7,2268.9 442.0,2271.1 443.2,2273.3 444.5,2275.4 445.7,2277.5 446.9,2279.7 448.2,2281.8 449.4,2283.8 450.7,2285.9 451.9,2287.9 453.2,2290.0 454.4,2292.0 455.7,2294.0 456.9,2295.9 458.1,2297.9 459.4,2299.8 460.6,2301.7 461.9,2303.6 463.1,2305.5 464.4,2307.3 465.6,2309.2 466.9,2311.0 468.1,2312.8 469.4,2314.6 470.6,2316.3 471.8,2318.1 473.1,2319.8 474.3,2321.5 475.6,2323.2 476.8,2324.9 478.1,2326.6 479.3,2328.2 480.6,2329.8 481.8,2331.5 483.1,2333.0 484.3,2334.6 485.5,2336.2 486.8,2337.7 488.0,2339.3 489.3,2340.8 490.5,2342.3 491.8,2343.7 493.0,2345.2 494.3,2346.6 495.5,2348.1 496.7,2349.5 498.0,2350.9 499.2,2352.3 500.5,2353.7 501.7,2355.0 503.0,2356.4 504.2,2357.7 505.5,2359.0 506.7,2360.3 508.0,2361.6 509.2,2362.8 510.4,2364.1 511.7,2365.3 512.9,2366.6 514.2,2367.8 515.4,2369.0 516.7,2370.2 517.9,2371.3 519.2,2372.5 520.4,2373.7 521.6,2374.8 522.9,2375.9 524.1,2377.0 525.4,2378.1 526.6,2379.2 527.9,2380.3 529.1,2381.3 530.4,2382.4 531.6,2383.4 532.9,2384.4 534.1,2385.4 535.3,2386.4 536.6,2387.4 537.8,2388.4 539.1,2389.4 540.3,2390.3 541.6,2391.3 542.8,2392.2 544.1,2393.1 545.3,2394.0 546.5,2394.9 547.8,2395.8 549.0,2396.7 550.3,2397.6 551.5,2398.4 552.8,2399.3 554.0,2400.1 555.3,2400.9 556.5,2401.7 557.8,2402.5 559.0,2403.3 560.2,2404.1 561.5,2404.9 562.7,2405.7 564.0,2406.4 565.2,2407.2 566.5,2407.9 567.7,2408.7 569.0,2409.4 570.2,2410.1 571.4,2410.8 572.7,2411.5 573.9,2412.2 575.2,2412.9 576.4,2413.5 577.7,2414.2 578.9,2414.9 580.2,2415.5 581.4,2416.1 582.6,2416.8 583.9,2417.4 585.1,2418.0 586.4,2418.6 587.6,2419.2 588.9,2419.8 590.1,2420.4 591.4,2421.0 592.6,2421.6 593.9,2422.1 595.1,2422.7 596.3,2423.2 597.6,2423.8 598.8,2424.3 600.1,2424.8 601.3,2425.4 602.6,2425.9 603.8,2426.4 605.1,2426.9 606.3,2427.4 607.5,2427.9 608.8,2428.4 610.0,2428.8 611.3,2429.3 612.5,2429.8 613.8,2430.2 615.0,2430.7 616.3,2431.1 617.5,2431.6 618.8,2432.0 620.0,2432.5 621.2,2432.9 622.5,2433.3 623.7,2433.7 625.0,2434.1 626.2,2434.5 627.5,2434.9 628.7,2435.3 630.0,2435.7 631.2,2436.1 632.5,2436.5 633.7,2436.9 634.9,2437.2 636.2,2437.6 637.4,2437.9 638.7,2438.3 639.9,2438.7 641.2,2439.0 642.4,2439.3 643.7,2439.7 644.9,2440.0 646.1,2440.3 647.4,2440.7 648.6,2441.0 649.9,2441.3 651.1,2441.6 652.4,2441.9 653.6,2442.2 654.9,2442.5 656.1,2442.8 657.4,2443.1 658.6,2443.4 659.8,2443.7 661.1,2444.0 662.3,2444.2 663.6,2444.5 664.8,2444.8 666.1,2445.0 667.3,2445.3 668.6,2445.6 669.8,2445.8 671.0,2446.1 682.8,2448.3 694.6,2450.3 706.4,2452.0 718.2,2453.5 730.0,2454.8 741.8,2456.0 753.6,2457.0 765.4,2457.9 777.2,2458.6 789.0,2459.3 800.8,2459.9 812.6,2460.4 824.4,2460.9 836.2,2461.3 848.0,2461.6 859.8,2461.9 871.6,2462.2 883.4,2462.4 895.2,2462.6 907.0,2462.8 918.8,2462.9 930.6,2463.0 942.3,2463.1 954.1,2463.2 965.9,2463.3 977.7,2463.4 989.5,2463.5 1001.3,2463.5 1013.1,2463.6 1024.9,2463.6 1036.7,2463.6 1048.5,2463.7 1060.3,2463.7 1072.1,2463.7 1083.9,2463.7 1095.7,2463.7 1107.5,2463.7 1119.3,2463.8 1131.1,2463.8 1142.9,2463.8 1154.7,2463.8 1166.5,2463.8 1178.3,2463.8 1190.1,2463.8 1201.9,2463.8 1213.7,2463.8 1225.4,2463.8 1237.2,2463.8 1249.0,2463.8 1260.8,2463.8 1272.6,2463.8 1284.4,2463.8 1296.2,2463.8 1308.0,2463.8 1319.8,2463.8 1331.6,2463.8 1343.4,2463.8 1355.2,2463.8 1367.0,2463.8" stroke="#000" stroke-width="9.6" fill="none" stroke-linejoin="round"/>
<polyline points="371.0,2122.5 372.2,2127.9 373.5,2133.2 374.7,2138.5 376.0,2143.7 377.2,2149.0 378.5,2154.2 379.7,2159.3 381.0,2164.5 382.2,2169.6 383.4,2174.7 384.7,2179.8 385.9,2184.8 387.2,2189.8 388.4,2194.8 389.7,2199.7 390.9,2204.6 392.2,2209.5 393.4,2214.3 394.7,2219.1 395.9,2223.9 397.1,2228.6 398.4,2233.3 399.6,2238.0 400.9,2242.6 402.1,2247.1 403.4,2251.7 404.6,2256.2 405.9,2260.6 407.1,2265.0 408.4,2269.4 409.6,2273.8 410.8,2278.0 412.1,2282.3 413.3,2286.5 414.6,2290.7 415.8,2294.8 417.1,2298.9 418.3,2302.9 419.6,2306.9 420.8,2310.9 422.0,2314.8 423.3,2318.7 424.5,2322.5 425.8,2326.3 427.0,2330.0 428.3,2333.7 429.5,2337.3 430.8,2341.0 432.0,2344.5 433.2,2348.0 434.5,2351.5 435.7,2354.9 437.0,2358.3 438.2,2361.7 439.5,2365.0 440.7,2368.3 442.0,2371.5 443.2,2374.6 444.5,2377.8 445.7,2380.9 446.9,2383.9 448.2,2386.9 449.4,2389.9 450.7,2392.8 451.9,2395.7 453.2,2398.5 454.4,2401.3 455.7,2404.1 456.9,2406.8 458.1,2409.5 459.4,2412.1 460.6,2414.7 461.9,2417.2 463.1,2419.8 464.4,2422.2 465.6,2424.7 466.9,2427.1 468.1,2429.4 469.4,2431.7 470.6,2434.0 471.8,2436.3 473.1,2438.5 474.3,2440.7 475.6,2442.8 476.8,2444.9 478.1,2447.0 479.3,2449.0 480.6,2451.0 481.8,2452.9 483.1,2454.9 484.3,2456.7 485.5,2458.6 486.8,2460.4 488.0,2462.2 489.3,2464.0 490.5,2465.7 491.8,2467.4 493.0,2469.0 494.3,2470.7 495.5,2472.3 496.7,2473.8 498.0,2475.4 499.2,2476.9 500.5,2478.4 501.7,2479.8 503.0,2481.2 504.2,2482.6 505.5,2484.0 506.7,2485.3 508.0,2486.6 509.2,2487.9 510.4,2489.2 511.7,2490.4 512.9,2491.6 514.2,2492.8 515.4,2494.0 516.7,2495.1 517.9,2496.2 519.2,2497.3 520.4,2498.4 521.6,2499.4 522.9,2500.4 524.1,2501.4 525.4,2502.4 526.6,2503.4 527.9,2504.3 529.1,2505.2 530.4,2506.1 531.6,2507.0 532.9,2507.8 534.1,2508.6 535.3,2509.5 536.6,2510.3 537.8,2511.0 539.1,2511.8 540.3,2512.5 541.6,2513.3 542.8,2514.0 544.1,2514.7 545.3,2515.3 546.5,2516.0 547.8,2516.6 549.0,2517.3 550.3,2517.9 551.5,2518.5 552.8,2519.0 554.0,2519.6 555.3,2520.2 556.5,2520.7 557.8,2521.2 559.0,2521.7 560.2,2522.2 561.5,2522.7 562.7,2523.2 564.0,2523.7 565.2,2524.1 566.5,2524.6 567.7,2525.0 569.0,2525.4 570.2,2525.8 571.4,2526.2 572.7,2526.6 573.9,2527.0 575.2,2527.3 576.4,2527.7 577.7,2528.0 578.9,2528.4 580.2,2528.7 581.4,2529.0 582.6,2529.3 583.9,2529.6 585.1,2529.9 586.4,2530.2 587.6,2530.5 588.9,2530.8 590.1,2531.0 591.4,2531.3 592.6,2531.5 593.9,2531.8 595.1,2532.0 596.3,2532.2 597.6,2532.4 598.8,2532.7 600.1,2532.9 601.3,2533.1 602.6,2533.3 603.8,2533.5 605.1,2533.6 606.3,2533.8 607.5,2534.0 608.8,2534.2 610.0,2534.3 611.3,2534.5 612.5,2534.6 613.8,2534.8 615.0,2534.9 616.3,2535.1 617.5,2535.2 618.8,2535.3 620.0,2535.5 621.2,2535.6 622.5,2535.7 623.7,2535.8 625.0,2535.9 626.2,2536.1 627.5,2536.2 628.7,2536.3 630.0,2536.4 631.2,2536.5 632.5,2536.6 633.7,2536.6 634.9,2536.7 636.2,2536.8 637.4,2536.9 638.7,2537.0 639.9,2537.1 641.2,2537.1 642.4,2537.2 643.7,2537.3 644.9,2537.3 646.1,2537.4 647.4,2537.5 648.6,2537.5 649.9,2537.6 651.1,2537.6 652.4,2537.7 653.6,2537.8 654.9,2537.8 656.1,2537.9 657.4,2537.9 658.6,2537.9 659.8,2538.0 661.1,2538.0 662.3,2538.1 663.6,2538.1 664.8,2538.2 666.1,2538.2 667.3,2538.2 668.6,2538.3 669.8,2538.3 671.0,2538.3 682.8,2538.6 694.6,2538.8 706.4,2538.9 718.2,2539.0 730.0,2539.0 741.8,2539.1 753.6,2539.1 765.4,2539.1 777.2,2539.1 789.0,2539.1 800.8,2539.1 812.6,2539.2 824.4,2539.2 836.2,2539.2 848.0,2539.2 859.8,2539.2 871.6,2539.2 883.4,2539.2 895.2,2539.2 907.0,2539.2 918.8,2539.2 930.6,2539.2 942.3,2539.2 954.1,2539.2 965.9,2539.2 977.7,2539.2 989.5,2539.2 1001.3,2539.2 1013.1,2539.2 1024.9,2539.2 1036.7,2539.2 1048.5,2539.2 1060.3,2539.2 1072.1,2539.2 1083.9,2539.2 1095.7,2539.2 1107.5,2539.2 1119.3,2539.2 1131.1,2539.2 1142.9,2539.2 1154.7,2539.2 1166.5,2539.2 1178.3,2539.2 1190.1,2539.2 1201.9,2539.2 1213.7,2539.2 1225.4,2539.2 1237.2,2539.2 1249.0,2539.2 1260.8,2539.2 1272.6,2539.2 1284.4,2539.2 1296.2,2539.2 1308.0,2539.2 1319.8,2539.2 1331.6,2539.2 1343.4,2539.2 1355.2,2539.2 1367.0,2539.2" stroke="#000" stroke-width="9.6" fill="none" stroke-linejoin="round"/>
<rect x="365" y="1988.4" width="12" height="783.6"/>
<rect x="1362" y="1988.4" width="10" height="783.6"/>
<rect x="365" y="1988.4" width="1007" height="10.8"/>
<rect x="365" y="2760.5" width="1007" height="11.5"/>
<rect x="613.7" y="1999.2" width="12.6" height="48"/>
<rect x="614.0" y="2714.5" width="12" height="46"/>
<rect x="862.7" y="1999.2" width="12.6" height="48"/>
<rect x="863.0" y="2714.5" width="12" height="46"/>
<rect x="1111.7" y="1999.2" width="12.6" height="48"/>
<rect x="1112.0" y="2714.5" width="12" height="46"/>
<rect x="377" y="2116.5" width="46.6" height="12"/>
<rect x="377" y="2438.4" width="46.6" height="12"/>
<text x="321.5" y="2146.0" font-size="72" text-anchor="end"> </text>
<path transform="matrix(0.03516 0 0 -0.03516 281.45 2146.0)" d="M763 0L595 0L595 1150L232 955L232 1090L640 1472L763 1472Z"/>
<text x="321.5" y="2467.9" font-size="72" text-anchor="end">0.75</text>
<text x="321.5" y="2789.8" font-size="72" text-anchor="end">0.5</text>
<text x="1276" y="2186.5" font-size="71" text-anchor="end">20 mM MES</text>
<text transform="translate(85.7 2380.5) rotate(-90)" x="0" y="0" font-size="71" text-anchor="middle">Normalized Intensity</text>
<text x="371.0" y="2895" font-size="72" text-anchor="middle">0</text>
<text x="620.0" y="2895" font-size="72" text-anchor="middle">0.5</text>
<text x="869.0" y="2895" font-size="72" text-anchor="middle"> </text>
<path transform="matrix(0.03516 0 0 -0.03516 848.98 2895)" d="M763 0L595 0L595 1150L232 955L232 1090L640 1472L763 1472Z"/>
<text x="1118.0" y="2895" font-size="72" text-anchor="middle"> .5</text>
<path transform="matrix(0.03516 0 0 -0.03516 1067.95 2895)" d="M763 0L595 0L595 1150L232 955L232 1090L640 1472L763 1472Z"/>
<text x="1367.0" y="2895" font-size="72" text-anchor="middle">2</text>
<text x="868" y="3053.7" font-size="71" text-anchor="middle">Time [s]</text>
<rect x="423" y="26" width="893" height="302" rx="9" ry="9" fill="#fff" stroke="#000" stroke-width="11.5"/>
<text x="1107.5" y="110.3" font-size="62" text-anchor="end">5 mM Sodium Formate</text>
<ellipse cx="1220.7" cy="90.1" rx="11" ry="12" fill="#ff0000"/>
<text x="1107.5" y="198.7" font-size="62" text-anchor="end"> 0 mM Sodium Formate</text>
<path transform="matrix(0.03027 0 0 -0.03027 442.50 198.7)" d="M763 0L595 0L595 1150L232 955L232 1090L640 1472L763 1472Z"/>
<ellipse cx="1220.7" cy="178" rx="11" ry="12" fill="#00ff00"/>
<text x="1107.5" y="289.6" font-size="62" text-anchor="end">20 mM Sodium Formate</text>
<rect x="1209.8" y="257.3" width="21.8" height="21.3" rx="5" fill="#0000ff"/>
</svg>
</body></html>
